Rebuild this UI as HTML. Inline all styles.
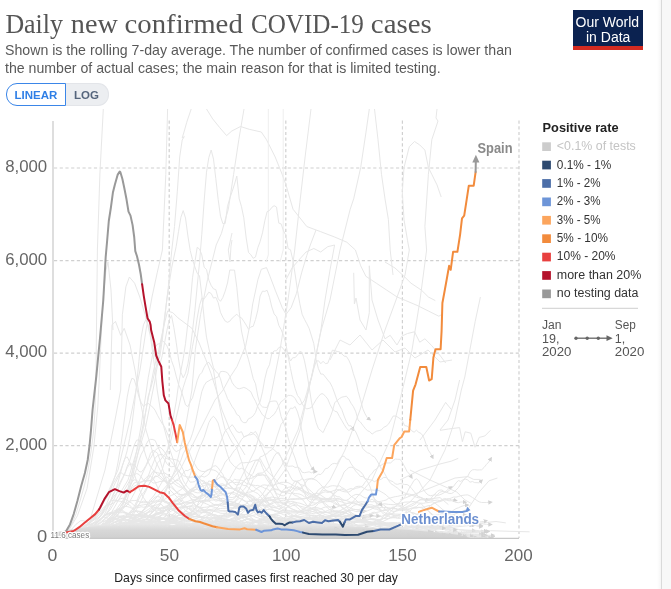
<!DOCTYPE html>
<html><head><meta charset="utf-8">
<style>
html,body{margin:0;padding:0;background:#fff;}
body{width:671px;height:589px;position:relative;overflow:hidden;font-family:"Liberation Sans",sans-serif;}
.t{position:absolute;white-space:nowrap;}
#title{left:5.8px;top:8.4px;font-family:"Liberation Serif",serif;font-size:27.5px;color:#555;transform-origin:0 0;transform:scaleX(0.993);}
.sub{left:5.3px;font-size:15px;color:#595959;transform-origin:0 0;transform:scaleX(0.943);}
#logo{position:absolute;left:573px;top:10px;width:70px;height:36px;background:#0b2250;border-bottom:4px solid #d42b21;}
.lt{position:absolute;color:#fff;font-size:14px;line-height:15px;white-space:nowrap;}
#btns{position:absolute;left:6px;top:83px;height:22px;width:103px;}
#lin{position:absolute;left:0;top:0;width:58px;height:20.5px;border:1px solid #3b86e8;border-radius:11px 0 0 11px;color:#2f7fe6;font-size:11.5px;font-weight:bold;line-height:23px;text-align:center;background:#fff;z-index:2;}
#log{position:absolute;left:59px;top:0;width:43px;height:20.5px;border:1px solid #e3e5e9;border-left:none;border-radius:0 11px 11px 0;color:#55657c;font-size:11.5px;font-weight:bold;line-height:23px;text-align:center;background:#eceef1;}
#vline{position:absolute;left:661px;top:0;width:1px;height:589px;background:#dadada;}
#rpan{position:absolute;left:662px;top:0;width:9px;height:589px;background:#f8f8f8;}
#shad{position:absolute;left:657px;top:0;width:4px;height:589px;background:linear-gradient(to right,rgba(0,0,0,0),rgba(0,0,0,0.035));}
svg{position:absolute;left:0;top:0;}
</style></head><body>
<div class="t sub" style="top:41.1px">Shown is the rolling 7-day average. The number of confirmed cases is lower than</div>
<div class="t sub" style="top:59.3px">the number of actual cases; the main reason for that is limited testing.</div>
<div id="logo"><span class="lt" style="left:2.5px;top:4.7px">Our World</span><span class="lt" style="left:13px;top:19.8px">in Data</span></div>
<div id="btns"><div id="lin">LINEAR</div><div id="log">LOG</div></div>
<div id="shad"></div><div id="vline"></div><div id="rpan"></div>

<svg width="671" height="589" viewBox="0 0 671 589">
<text x="5.4" y="32.6" font-family="Liberation Serif, serif" font-size="27.5" fill="#555" textLength="57.6" lengthAdjust="spacingAndGlyphs">Daily</text>
<text x="70.8" y="32.6" font-family="Liberation Serif, serif" font-size="27.5" fill="#555" textLength="47" lengthAdjust="spacingAndGlyphs">new</text>
<text x="124.5" y="32.6" font-family="Liberation Serif, serif" font-size="27.5" fill="#555" textLength="118.3" lengthAdjust="spacingAndGlyphs">confirmed</text>
<text x="250.9" y="32.6" font-family="Liberation Serif, serif" font-size="27.5" fill="#555" textLength="113" lengthAdjust="spacingAndGlyphs">COVID-19</text>
<text x="370.8" y="32.6" font-family="Liberation Serif, serif" font-size="27.5" fill="#555" textLength="61" lengthAdjust="spacingAndGlyphs">cases</text>
<defs><marker id="ar" viewBox="0 0 10 10" refX="6" refY="5" markerWidth="4.5" markerHeight="4.5" orient="auto"><path d="M0,0 L10,5 L0,10 z" fill="#d2d2d2"/></marker><clipPath id="cp"><rect x="53" y="109" width="480" height="430"/></clipPath></defs>
<g stroke="#d0d0d0" stroke-width="1.2" stroke-dasharray="3.2,2.5" fill="none">
<line x1="54" y1="168" x2="519" y2="168"/>
<line x1="54" y1="260.6" x2="519" y2="260.6"/>
<line x1="54" y1="353.1" x2="519" y2="353.1"/>
<line x1="54" y1="445.7" x2="519" y2="445.7"/>
<line x1="169.2" y1="120.5" x2="169.2" y2="538"/>
<line x1="285.8" y1="120.5" x2="285.8" y2="538"/>
<line x1="402.4" y1="120.5" x2="402.4" y2="538"/>
<line x1="519" y1="120.5" x2="519" y2="538"/>
</g>
<g id="bg" clip-path="url(#cp)" fill="none" stroke="#e7e7e7" stroke-width="1" stroke-linejoin="round">
<polyline points="62,537 66,533 71,526 76,514 80,501 84,487 88,470 91,452 93.5,432 95,410 96,370 97.4,250 99.9,174 103.3,109"/>
<polyline points="66,538 69.3,529.3 77.4,515.8 87,488.6 93.7,448 97.8,407 99.2,380 101,340 103,300 106,270 108,262 111,290 113,330"/>
<polyline points="167.6,109 165.8,174.4 162.4,250 157.2,272.8 152,297 146,330 140,370 130,420 118,470 100,510 80,532 70,537"/>
<polyline points="191.2,109 186.7,122.4 184.3,131 182.2,138 184.3,136.6 182.2,140 179.7,157 177.3,191.8 174.5,226.5 171.8,250 168,290 163,330 155,380 145,430 130,480 110,515 90,532 75,537"/>
<polyline points="206.5,109 212.7,118.9 219.7,127.6 226.6,135.6 231.8,131 240.5,126.5 249.2,129.3 261.3,132 266.5,139.7 275.2,157 282.2,174.4 286,185 293,209.2 306.8,226.5 320.7,231.7 334.6,237 346.8,242.2 355.4,250 360.7,265.8 365.9,276.3 376.3,283.2 386.7,290.1 397.1,297 405.8,300.6 418,305.8 428.4,311 438.8,316.2 442.2,314.4"/>
<polyline points="244,109 238.8,139.7 233.6,174.4 228.3,209.2 221.4,233.5 216.2,245 207.5,279.7 200.6,314.4 195.4,349.2 191.9,390 185,430 175,470 160,505 140,525 110,535 85,538"/>
<polyline points="268.3,109 268.3,255 266,262" stroke="#eeeeee"/>
<polyline points="283.2,109 283.2,250 280,262" stroke="#eeeeee"/>
<polyline points="311,109 305.1,157 299.9,202.2 294.7,250 288,300 280,350 270,400 255,450 235,490 210,515 180,530 140,537"/>
<polyline points="369.3,109 365.9,132.8 360.7,167.5 353.7,198.8 350.2,209.2 340,250 330,300 320.7,331.8 313.8,366.5 308.6,390 300,430 285,470 260,505 230,525 190,536"/>
<polyline points="374.5,109 378,139.7 381.5,174.4 385,198.8 388.4,219.6 390.2,250 393,275"/>
<polyline points="441.2,197 437,184.9 431.8,174.4 428.4,167.5 424.9,150.1 419.7,144.9 414.5,141.5 409.3,146.7 404,167.5 402.3,191.8 404,219.6 407.5,240.4 409.3,250 405,275 396,300 385,330 372,370 360,410 345,450 330,480 310,505 280,525 240,535"/>
<polyline points="435.3,300.6 428.4,297 421.4,290.1 411,283.2 404,276.3 395,268 385,262"/>
<polyline points="437,109 436,118 438,121 431.8,139.7 428.4,174.4 424.9,226.5 426.6,250 420,300 412,350 400,400 390,440 372,480 350,505 320,522 280,533"/>
<polyline points="480.4,297 475.2,321.4 470,349.2 464.8,377 461.3,390 455,420 445,450 430,480 410,502 385,518 350,530"/>
<polyline points="110.3,390 112,324.9 115.5,321.4 120.7,335.3 124.2,328.3 130,345 135,370 140,400 146,430 155,460 170,490 190,510 215,525 250,533"/>
<polyline points="90,520 105,470 115,420 120.7,390 122.4,314.4 125.9,286.7 129.4,277 134.6,283.2 139.8,297 145,314.4 150.2,335.3 153.7,359.6 157.2,390 162,420 170,450 180,480 195,505 220,520 260,530"/>
<polyline points="245,455 230,430 222,410 216.2,390 211,373.5 205.8,359.6 198.8,342.2 191.9,328.3 185,323.1 178,317.9 172.8,312.7 167.6,311 164.1,324.9 158.9,349.2 153.7,370 148,400 140,440 128,480 110,510 90,530"/>
<polyline points="120,530 150,505 180,470 200,430 215,400 223.1,390 230.1,377 237,366.5 245.7,345.7 249.2,328.3 252.7,304 257.9,279.7 261.3,269.3 266.5,267.6 270,276.3 275.2,290.1 282.2,307.5 286,314.4 291.2,307.5 296.4,293.6 301.6,272.8 306.8,255.4 310.3,245 316,230"/>
<polyline points="286,279.7 292,268 299.9,258.9 306,252 313.8,248.5 320.7,252 327.7,246.7 334.6,245 330,270 325,300 320.7,331.8 313.8,366.5 308.6,390 298,430 282,465 262,495 240,515 200,532"/>
<polyline points="353.7,272.8 354.4,304 356,298 360,320 366,330 369.3,312.7 369.3,265.8 372,300 378,320 385,338.8 390.2,335.3 397,345 402,336 407.5,333.5 414.5,331.8 419.7,342.2 424.9,338.8 431.8,345.7 440.5,356.1 445.7,363"/>
<polyline points="330,360 340,340 350,345 360,335 372,350 383,340 395,352 405,348 415,358 428,350 440,362 452,360"/>
<polyline points="232,233 228.3,250 230,262 231,246 232,240"/>
<polyline points="440,430.4 448.4,429 459.6,427.6 462.4,441.6 465.2,431.8 470.8,433.2 475,447.2 479.2,437.4 484.8,436 490.4,430.4"/>
<polyline points="420,440 435,420 445.6,402.4 451.2,409.4"/>
<polyline points="459.6,380 455,400 448,420 440,430"/>
<polyline points="400,480 420,470 440,464 451.2,461.2 458.2,458.4"/>
<polyline points="400,500 430,488 455,478 468,476.6 473.6,479.4 480.6,479.4"/>
<polyline points="410,470 430,480 456.8,492 465,500 470.8,503.2"/>
<polyline points="400,510 420,500 440,497.6 448.4,504.6"/>
<polyline points="420,525 445,518 468,508.9 479.2,492 489,480.8 497.4,478"/>
<polyline points="420,532 445,528 468,525.7 482,522.9 496,521.5 505.8,522.9"/>
<polyline points="420,535 445,534 468,532.7 490.4,530.7 510,531.3 529.6,531.8"/>
<polyline points="52.6,536.6 54.9,536.6 57.3,536.5 59.6,536.3 61.9,536.0 64.3,535.7 66.6,535.3 68.9,534.9 71.3,534.6 73.6,534.3 75.9,534.1 78.3,533.9 80.6,533.7 82.9,533.4 85.2,532.9 87.6,532.3 89.9,531.7 92.2,531.2 94.6,531.0 96.9,530.9 99.2,530.9 101.6,530.5 103.9,530.0 106.2,529.2 108.6,528.3 110.9,527.8 113.2,527.5 115.6,527.4 117.9,527.8 120.2,528.1 122.6,528.6 124.9,528.8 127.2,529.0 129.6,528.8 131.9,528.4 134.2,527.3 136.6,525.9 138.9,524.2 141.2,522.7 143.5,521.5 145.9,521.1 148.2,521.3 150.5,521.8 152.9,522.6 155.2,522.8 157.5,523.5 159.9,523.8 162.2,523.7 164.5,523.1 166.9,522.9 169.2,522.5 171.5,522.7 173.9,522.9 176.2,523.8 178.5,524.7 180.9,525.1 183.2,525.3 185.5,525.7 187.9,525.3 190.2,524.6 192.5,523.8 194.9,523.1 197.2,522.6 199.5,522.4 201.8,522.3 204.2,522.4 206.5,522.1 208.8,521.5 211.2,521.2 213.5,521.4 215.8,521.4 218.2,521.4 220.5,521.3 222.8,521.3 225.2,520.6 227.5,520.3 229.8,520.0 232.2,519.3 234.5,518.4 236.8,517.5 239.2,516.9 241.5,516.2 243.8,516.1 246.2,517.2 248.5,518.5 250.8,519.7 253.2,520.9 255.5,521.7 257.8,521.4 260.1,520.6 262.5,519.3 264.8,517.9 267.1,516.3 269.5,515.5 271.8,515.1 274.1,514.9 276.5,514.5 278.8,513.6 281.1,513.0 283.5,512.6 285.8,512.7 288.1,514.0 290.5,515.6 292.8,515.7 295.1,515.7 297.5,515.5 299.8,514.6 302.1,514.0 304.5,513.7 306.8,512.4 309.1,511.0 311.5,509.7 313.8,508.9 316.1,508.7 318.4,510.6 320.8,512.4 323.1,513.5 325.4,514.7 327.8,515.4 330.1,515.5 332.4,515.8 334.8,516.2 337.1,516.0 339.4,516.1 341.8,516.5 344.1,516.5 346.4,518.0 348.8,519.7 351.1,521.4 353.4,522.8 355.8,524.4 358.1,525.5 360.4,526.5 362.8,527.3 365.1,528.1 367.4,528.4 369.8,528.4 372.1,528.6 374.4,529.1 376.7,529.5 379.1,530.1 381.4,530.7 383.7,531.2 386.1,531.4 388.4,531.6 390.7,531.8 393.1,532.1 395.4,532.3 397.7,532.7 400.1,533.0 402.4,533.3 404.7,533.5 407.1,533.7 409.4,533.8 411.7,533.9 414.1,533.9 416.4,533.8 418.7,533.6 421.1,533.5 423.4,533.6 425.7,533.7 428.1,533.7 430.4,533.9" marker-end="url(#ar)"/>
<polyline points="52.6,536.6 54.9,536.5 57.3,536.3 59.6,536.1 61.9,535.8 64.3,535.5 66.6,535.3 68.9,535.1 71.3,534.9 73.6,534.5 75.9,534.1 78.3,533.5 80.6,532.8 82.9,531.8 85.2,530.9 87.6,529.8 89.9,528.7 92.2,527.3 94.6,525.5 96.9,522.8 99.2,519.9 101.6,517.8 103.9,515.6 106.2,514.3 108.6,513.5 110.9,512.6 113.2,511.3 115.6,510.3 117.9,508.9 120.2,509.2 122.6,510.4 124.9,512.0 127.2,513.4 129.6,515.3 131.9,515.3 134.2,515.1 136.6,514.9 138.9,514.8 141.2,514.3 143.5,514.9 145.9,515.1 148.2,515.6 150.5,515.4 152.9,515.5 155.2,514.9 157.5,514.8 159.9,513.7 162.2,512.4 164.5,510.3 166.9,508.9 169.2,507.0 171.5,506.5 173.9,507.1 176.2,509.4 178.5,510.8 180.9,512.9 183.2,514.2 185.5,515.1 187.9,515.4 190.2,516.1 192.5,516.4 194.9,516.5 197.2,516.9 199.5,517.1 201.8,517.2 204.2,517.3 206.5,517.8 208.8,517.9 211.2,518.0 213.5,518.0 215.8,518.1 218.2,517.9 220.5,517.8 222.8,517.1 225.2,516.8 227.5,516.1 229.8,515.4 232.2,515.2 234.5,516.3 236.8,517.7 239.2,519.4 241.5,521.6 243.8,523.3 246.2,525.1 248.5,526.4 250.8,527.6 253.2,528.8 255.5,529.9 257.8,530.5 260.1,531.4 262.5,532.3 264.8,532.8 267.1,533.4 269.5,533.8 271.8,534.0 274.1,534.1 276.5,534.2 278.8,534.2 281.1,534.2 283.5,534.2 285.8,534.3 288.1,534.5 290.5,534.7 292.8,534.8 295.1,534.9 297.5,534.9 299.8,534.9 302.1,534.9 304.5,535.2 306.8,535.5 309.1,535.7 311.5,535.9 313.8,536.2 316.1,536.3 318.4,536.5 320.8,536.6 323.1,536.6 325.4,536.7 327.8,536.7 330.1,536.7 332.4,536.7 334.8,536.8 337.1,536.9 339.4,536.8 341.8,536.8 344.1,536.8 346.4,536.8 348.8,536.8 351.1,536.8 353.4,536.9 355.8,536.9 358.1,536.8 360.4,536.7 362.8,536.5 365.1,536.4 367.4,536.3 369.8,536.2 372.1,536.1 374.4,536.0 376.7,536.0 379.1,535.8 381.4,535.7 383.7,535.6 386.1,535.5 388.4,535.2 390.7,535.1 393.1,535.0 395.4,534.8 397.7,534.7 400.1,534.8 402.4,534.8 404.7,535.0 407.1,535.2 409.4,535.4 411.7,535.5 414.1,535.6 416.4,535.7 418.7,535.7 421.1,535.6 423.4,535.6 425.7,535.6 428.1,535.5 430.4,535.5 432.7,535.4 435.0,535.4 437.4,535.5 439.7,535.5 442.0,535.6 444.4,535.6 446.7,535.7 449.0,535.7 451.4,535.7 453.7,535.7 456.0,535.8 458.4,535.8 460.7,535.8 463.0,535.8" marker-end="url(#ar)"/>
<polyline points="52.6,536.5 54.9,536.3 57.3,536.1 59.6,535.7 61.9,535.2 64.3,534.4 66.6,533.1 68.9,531.8 71.3,529.6 73.6,527.1 75.9,524.4 78.3,522.6 80.6,520.7 82.9,520.7 85.2,521.2 87.6,522.9 89.9,524.2 92.2,525.5 94.6,525.9 96.9,526.3 99.2,526.3 101.6,526.1 103.9,526.0 106.2,525.7 108.6,525.3 110.9,524.4 113.2,523.0 115.6,521.7 117.9,520.4 120.2,519.1 122.6,518.5 124.9,518.2 127.2,517.3 129.6,516.7 131.9,515.7 134.2,515.1 136.6,515.0 138.9,515.9 141.2,517.1 143.5,517.9 145.9,517.4 148.2,515.8 150.5,513.5 152.9,511.0 155.2,508.3 157.5,507.7 159.9,509.0 162.2,511.1 164.5,513.0 166.9,515.7 169.2,517.9 171.5,519.0 173.9,520.3 176.2,521.9 178.5,523.2 180.9,524.5 183.2,526.1 185.5,526.9 187.9,527.5 190.2,528.5 192.5,529.5 194.9,529.8 197.2,530.4 199.5,530.7 201.8,531.0 204.2,530.9 206.5,531.1 208.8,531.3 211.2,531.4 213.5,531.2 215.8,531.3 218.2,531.3 220.5,531.0 222.8,530.9 225.2,530.7 227.5,530.3 229.8,530.0 232.2,529.9 234.5,529.5 236.8,529.2 239.2,528.8 241.5,528.2 243.8,527.6 246.2,527.7 248.5,527.5 250.8,527.9 253.2,528.5 255.5,528.6 257.8,528.4 260.1,528.1 262.5,527.8 264.8,527.3 267.1,526.8 269.5,526.0 271.8,525.6 274.1,524.5 276.5,523.0 278.8,522.3 281.1,521.5 283.5,520.8 285.8,520.8 288.1,521.0 290.5,520.6 292.8,521.8 295.1,522.6 297.5,522.7 299.8,522.9 302.1,524.0 304.5,524.1 306.8,524.4 309.1,524.5 311.5,524.6 313.8,525.2 316.1,526.0 318.4,526.8 320.8,527.6 323.1,528.3 325.4,528.2 327.8,527.8 330.1,528.2 332.4,528.8 334.8,529.3 337.1,529.6 339.4,530.1 341.8,529.7 344.1,529.0 346.4,528.5 348.8,527.9 351.1,527.5 353.4,527.6 355.8,528.0 358.1,528.3 360.4,528.9 362.8,529.1 365.1,528.9 367.4,528.8 369.8,528.6 372.1,527.7 374.4,527.0 376.7,526.7 379.1,526.3 381.4,526.5 383.7,527.4 386.1,528.0 388.4,528.5 390.7,528.7 393.1,528.9 395.4,528.7 397.7,528.5 400.1,528.3 402.4,527.8 404.7,527.1 407.1,526.7 409.4,526.2 411.7,526.2 414.1,526.2 416.4,525.9 418.7,525.3 421.1,524.9 423.4,523.3 425.7,521.8 428.1,521.1 430.4,520.8 432.7,520.1 435.0,520.2 437.4,520.8 439.7,520.5 442.0,520.0 444.4,520.4 446.7,520.0 449.0,519.4 451.4,519.5" marker-end="url(#ar)"/>
<polyline points="52.6,536.6 54.9,536.5 57.3,536.5 59.6,536.3 61.9,536.1 64.3,536.0 66.6,535.8 68.9,535.9 71.3,536.0 73.6,536.1 75.9,536.2 78.3,536.2 80.6,536.2 82.9,536.2 85.2,536.2 87.6,536.1 89.9,536.1 92.2,536.0 94.6,536.0 96.9,535.9 99.2,535.8 101.6,535.7 103.9,535.6 106.2,535.4 108.6,535.3 110.9,535.2 113.2,535.1 115.6,535.1 117.9,535.2 120.2,535.3 122.6,535.5 124.9,535.7 127.2,535.8 129.6,535.9 131.9,535.9 134.2,535.9 136.6,535.8 138.9,535.8 141.2,535.7 143.5,535.7 145.9,535.7 148.2,535.7 150.5,535.8 152.9,535.9 155.2,535.8 157.5,535.8 159.9,535.7 162.2,535.7 164.5,535.8 166.9,535.8 169.2,535.9 171.5,536.1 173.9,536.3 176.2,536.5 178.5,536.6 180.9,536.7 183.2,536.7 185.5,536.7 187.9,536.6 190.2,536.7 192.5,536.7 194.9,536.8 197.2,536.8 199.5,536.8 201.8,536.8 204.2,536.9 206.5,537.0 208.8,537.1 211.2,537.2 213.5,537.3 215.8,537.4 218.2,537.5 220.5,537.5 222.8,537.5 225.2,537.6 227.5,537.6 229.8,537.6 232.2,537.6 234.5,537.6 236.8,537.6 239.2,537.6 241.5,537.6 243.8,537.6 246.2,537.6 248.5,537.6 250.8,537.6 253.2,537.6 255.5,537.6 257.8,537.6 260.1,537.6 262.5,537.5 264.8,537.5 267.1,537.4 269.5,537.4 271.8,537.3 274.1,537.3 276.5,537.2 278.8,537.2 281.1,537.1 283.5,537.1 285.8,537.1 288.1,537.1 290.5,537.1 292.8,537.1 295.1,537.2 297.5,537.2 299.8,537.2 302.1,537.3 304.5,537.3 306.8,537.2 309.1,537.2 311.5,537.1 313.8,537.1 316.1,537.0 318.4,537.0 320.8,536.9 323.1,536.7 325.4,536.6 327.8,536.5 330.1,536.5 332.4,536.4 334.8,536.4 337.1,536.3 339.4,536.3 341.8,536.3 344.1,536.2 346.4,536.2 348.8,536.1 351.1,536.1 353.4,536.1 355.8,536.0 358.1,536.0 360.4,535.9 362.8,535.9 365.1,535.9 367.4,535.8 369.8,535.8 372.1,535.8 374.4,535.8 376.7,535.7 379.1,535.6 381.4,535.3 383.7,535.2 386.1,535.0 388.4,534.9 390.7,534.9 393.1,535.0 395.4,535.0 397.7,535.0 400.1,534.9 402.4,534.7 404.7,534.6 407.1,534.5 409.4,534.3 411.7,534.1 414.1,534.0 416.4,533.9 418.7,533.7 421.1,533.7 423.4,533.5 425.7,533.2 428.1,533.2 430.4,533.0 432.7,532.8 435.0,532.6 437.4,532.5 439.7,532.2 442.0,532.3 444.4,532.3 446.7,532.4 449.0,532.6 451.4,532.7 453.7,532.6 456.0,532.5 458.4,532.3 460.7,532.2 463.0,532.0 465.4,531.6 467.7,531.4 470.0,531.3 472.4,531.3 474.7,531.2 477.0,531.5 479.4,531.6 481.7,531.7 484.0,531.8" marker-end="url(#ar)"/>
<polyline points="52.6,536.9 54.9,536.9 57.3,536.9 59.6,536.9 61.9,536.9 64.3,536.9 66.6,536.8 68.9,536.7 71.3,536.6 73.6,536.5 75.9,536.4 78.3,536.2 80.6,536.1 82.9,535.9 85.2,535.8 87.6,535.7 89.9,535.7 92.2,535.6 94.6,535.7 96.9,535.6 99.2,535.5 101.6,535.4 103.9,535.3 106.2,535.0 108.6,534.8 110.9,534.4 113.2,534.0 115.6,533.7 117.9,533.7 120.2,533.7 122.6,533.5 124.9,533.4 127.2,533.1 129.6,532.3 131.9,531.6 134.2,531.0 136.6,530.6 138.9,530.3 141.2,530.5 143.5,530.9 145.9,531.2 148.2,531.4 150.5,531.5 152.9,531.4 155.2,531.3 157.5,531.3 159.9,531.1 162.2,531.0 164.5,530.9 166.9,530.6 169.2,530.4 171.5,530.2 173.9,530.0 176.2,529.7 178.5,529.6 180.9,529.6 183.2,529.5 185.5,529.7 187.9,529.8 190.2,529.8 192.5,529.5 194.9,529.3 197.2,528.8 199.5,528.0 201.8,527.2 204.2,526.5 206.5,525.5 208.8,524.5 211.2,523.4 213.5,521.9 215.8,520.0 218.2,518.9 220.5,517.3 222.8,515.8 225.2,515.0 227.5,514.6 229.8,513.6 232.2,513.6 234.5,513.9 236.8,514.5 239.2,516.0 241.5,517.2 243.8,519.2 246.2,521.2 248.5,522.8 250.8,523.7 253.2,524.8 255.5,525.1 257.8,525.5 260.1,525.7 262.5,525.8 264.8,526.0 267.1,526.7 269.5,527.0 271.8,527.8 274.1,528.3 276.5,528.4 278.8,528.2 281.1,528.1 283.5,527.8 285.8,527.5 288.1,528.1 290.5,528.6 292.8,529.0 295.1,529.4 297.5,530.1 299.8,530.4 302.1,530.9 304.5,531.6 306.8,532.1 309.1,532.5 311.5,532.7 313.8,532.8 316.1,532.8 318.4,532.8 320.8,532.7 323.1,532.6 325.4,532.4 327.8,531.8 330.1,531.6 332.4,531.2 334.8,530.7 337.1,530.4 339.4,530.2 341.8,529.8 344.1,529.4 346.4,529.2 348.8,528.6 351.1,528.0 353.4,527.6 355.8,527.5 358.1,527.6 360.4,528.0 362.8,528.4 365.1,528.9 367.4,528.9 369.8,529.0 372.1,529.2 374.4,529.5 376.7,530.0 379.1,530.5 381.4,531.1 383.7,531.4 386.1,531.8 388.4,532.0 390.7,532.5 393.1,532.9 395.4,533.3 397.7,533.5 400.1,533.5 402.4,533.4 404.7,533.0 407.1,532.4 409.4,531.9 411.7,531.0 414.1,529.9 416.4,528.9 418.7,528.2 421.1,527.9 423.4,528.1 425.7,528.4 428.1,528.2 430.4,528.2 432.7,528.1 435.0,528.1 437.4,528.1 439.7,528.2 442.0,528.1 444.4,527.8 446.7,527.2 449.0,526.7 451.4,526.0 453.7,525.2 456.0,524.9 458.4,524.4 460.7,523.8 463.0,524.0 465.4,524.0 467.7,523.9 470.0,523.7 472.4,523.6 474.7,523.4 477.0,522.8 479.4,522.2 481.7,521.5 484.0,521.4 486.4,520.7" marker-end="url(#ar)"/>
<polyline points="52.6,536.3 54.9,536.2 57.3,536.0 59.6,535.7 61.9,535.3 64.3,534.9 66.6,534.3 68.9,533.6 71.3,533.0 73.6,532.3 75.9,531.6 78.3,530.9 80.6,530.3 82.9,529.4 85.2,528.4 87.6,527.4 89.9,526.7 92.2,525.8 94.6,525.5 96.9,525.6 99.2,526.0 101.6,526.5 103.9,527.2 106.2,527.7 108.6,528.4 110.9,528.8 113.2,529.3 115.6,529.5 117.9,529.9 120.2,530.1 122.6,530.4 124.9,530.5 127.2,530.5 129.6,530.4 131.9,530.3 134.2,530.2 136.6,530.4 138.9,530.7 141.2,531.0 143.5,531.3 145.9,531.6 148.2,531.8 150.5,531.9 152.9,532.1 155.2,532.3 157.5,532.4 159.9,532.4 162.2,532.5 164.5,532.5 166.9,532.5 169.2,532.4 171.5,532.4 173.9,532.5 176.2,532.5 178.5,532.6 180.9,532.5 183.2,532.5 185.5,532.5 187.9,532.6 190.2,532.8 192.5,533.0 194.9,533.2 197.2,533.4 199.5,533.5 201.8,533.6 204.2,533.8 206.5,533.8 208.8,533.8 211.2,533.8 213.5,533.7 215.8,533.6 218.2,533.6 220.5,533.7 222.8,533.7 225.2,533.8 227.5,533.8 229.8,533.8 232.2,533.8 234.5,533.7 236.8,533.7 239.2,533.8 241.5,533.8 243.8,533.9 246.2,533.9 248.5,533.8 250.8,533.6 253.2,533.5 255.5,533.3 257.8,533.3 260.1,533.4 262.5,533.5 264.8,533.7 267.1,533.9 269.5,534.0 271.8,534.0 274.1,534.0 276.5,533.9 278.8,533.9 281.1,533.7 283.5,533.6 285.8,533.5 288.1,533.5 290.5,533.5 292.8,533.5 295.1,533.5 297.5,533.5 299.8,533.5 302.1,533.5 304.5,533.6 306.8,533.7 309.1,533.8 311.5,533.8 313.8,533.8 316.1,533.7 318.4,533.6 320.8,533.4" marker-end="url(#ar)"/>
<polyline points="52.6,536.7 54.9,536.6 57.3,536.5 59.6,536.3 61.9,536.0 64.3,535.7 66.6,535.5 68.9,535.2 71.3,535.0 73.6,534.9 75.9,534.6 78.3,534.3 80.6,534.1 82.9,533.8 85.2,533.4 87.6,533.3 89.9,533.3 92.2,533.3 94.6,532.9 96.9,532.5 99.2,531.8 101.6,530.7 103.9,529.2 106.2,528.0 108.6,526.9 110.9,526.0 113.2,525.2 115.6,524.4 117.9,523.6 120.2,523.4 122.6,523.3 124.9,524.1 127.2,525.9 129.6,527.1 131.9,528.1 134.2,529.1 136.6,529.9 138.9,530.2 141.2,530.6 143.5,531.0 145.9,531.1 148.2,530.7 150.5,530.1 152.9,529.3 155.2,528.2 157.5,527.0 159.9,526.1 162.2,525.7 164.5,525.2 166.9,524.4 169.2,523.7 171.5,523.1 173.9,522.9 176.2,522.8 178.5,523.2 180.9,524.0 183.2,524.6 185.5,524.7 187.9,525.2 190.2,525.7 192.5,525.5 194.9,525.5 197.2,525.7 199.5,525.3 201.8,524.8 204.2,524.8 206.5,524.1 208.8,524.0 211.2,524.4 213.5,525.3 215.8,526.2 218.2,527.5 220.5,528.2 222.8,528.6 225.2,528.7 227.5,528.9 229.8,529.0 232.2,529.0 234.5,528.9 236.8,528.7 239.2,528.5 241.5,527.9 243.8,527.6 246.2,527.3 248.5,526.8 250.8,526.2 253.2,525.8 255.5,525.5 257.8,525.1 260.1,524.9 262.5,525.1 264.8,525.6 267.1,526.1 269.5,526.7 271.8,526.8 274.1,526.1 276.5,525.1 278.8,523.6 281.1,522.0 283.5,520.8 285.8,519.5 288.1,518.5 290.5,517.5 292.8,516.9 295.1,516.5 297.5,516.7 299.8,517.2 302.1,518.1 304.5,518.5 306.8,518.7 309.1,519.3 311.5,519.7 313.8,519.9 316.1,520.5 318.4,520.9 320.8,520.6 323.1,519.7 325.4,518.2 327.8,516.4 330.1,515.7 332.4,515.8 334.8,516.8 337.1,518.4 339.4,519.5 341.8,519.8 344.1,520.0 346.4,519.8 348.8,519.4 351.1,519.0 353.4,519.1 355.8,519.1 358.1,519.1 360.4,519.2 362.8,520.1 365.1,520.4 367.4,520.8 369.8,521.9 372.1,522.9 374.4,523.8 376.7,524.7 379.1,525.5 381.4,525.6 383.7,525.9 386.1,526.0 388.4,526.2 390.7,526.8 393.1,527.5 395.4,528.0 397.7,528.5 400.1,528.8 402.4,528.7" marker-end="url(#ar)"/>
<polyline points="52.6,536.8 54.9,536.7 57.3,536.6 59.6,536.5 61.9,536.3 64.3,536.0 66.6,535.6 68.9,535.0 71.3,534.3 73.6,533.5 75.9,532.9 78.3,532.3 80.6,532.0 82.9,531.7 85.2,531.4 87.6,530.8 89.9,530.1 92.2,529.4 94.6,528.3 96.9,527.3 99.2,526.6 101.6,526.1 103.9,525.7 106.2,525.6 108.6,524.8 110.9,523.9 113.2,523.2 115.6,522.1 117.9,520.5 120.2,519.6 122.6,518.6 124.9,517.2 127.2,516.3 129.6,516.7 131.9,517.8 134.2,518.4 136.6,519.2 138.9,519.9 141.2,520.5 143.5,521.1 145.9,521.9 148.2,522.9 150.5,523.8 152.9,524.3 155.2,524.9 157.5,526.0 159.9,527.2 162.2,527.9 164.5,528.6 166.9,529.3 169.2,529.4 171.5,529.7 173.9,529.8 176.2,529.8 178.5,530.0 180.9,530.4 183.2,530.3 185.5,530.8 187.9,531.3 190.2,531.6 192.5,531.7 194.9,532.2 197.2,532.4 199.5,532.6 201.8,532.5 204.2,532.5 206.5,532.1 208.8,531.6 211.2,531.3 213.5,531.1 215.8,530.8 218.2,530.3 220.5,529.9 222.8,529.4 225.2,528.8 227.5,528.4 229.8,528.6 232.2,528.7 234.5,528.7 236.8,529.3 239.2,529.9 241.5,530.3 243.8,530.9 246.2,531.6 248.5,532.0 250.8,532.4 253.2,532.7 255.5,532.6 257.8,532.3 260.1,532.1 262.5,531.9 264.8,531.9 267.1,532.1 269.5,532.5 271.8,532.7 274.1,532.4 276.5,532.1 278.8,531.4 281.1,530.4 283.5,529.1 285.8,527.7 288.1,525.8 290.5,524.2 292.8,522.4 295.1,521.1 297.5,521.1 299.8,521.1 302.1,520.8 304.5,520.7 306.8,521.0 309.1,521.7 311.5,522.1 313.8,522.8 316.1,524.3 318.4,525.1 320.8,525.4 323.1,526.1 325.4,526.9 327.8,527.5 330.1,528.4 332.4,528.7 334.8,528.9 337.1,529.3 339.4,529.7 341.8,529.7 344.1,530.0 346.4,530.3 348.8,530.3 351.1,530.2 353.4,530.2 355.8,530.2 358.1,530.5 360.4,530.5 362.8,530.3 365.1,530.0 367.4,529.9 369.8,529.3 372.1,529.0 374.4,529.0 376.7,529.3 379.1,529.6 381.4,530.2 383.7,530.6 386.1,531.0 388.4,531.0 390.7,531.0 393.1,531.4 395.4,531.8 397.7,532.1 400.1,532.5 402.4,532.9 404.7,533.1 407.1,533.5 409.4,534.1 411.7,534.6 414.1,534.8 416.4,535.1 418.7,535.4 421.1,535.4 423.4,535.6 425.7,535.7 428.1,535.8 430.4,535.9 432.7,535.9 435.0,535.9 437.4,535.8 439.7,535.8 442.0,535.7 444.4,535.7" marker-end="url(#ar)"/>
<polyline points="52.6,536.3 54.9,536.3 57.3,536.2 59.6,536.2 61.9,536.2 64.3,536.1 66.6,536.0 68.9,535.9 71.3,535.7 73.6,535.5 75.9,535.2 78.3,534.9 80.6,534.7 82.9,534.6 85.2,534.5 87.6,534.3 89.9,534.2 92.2,533.9 94.6,533.6 96.9,533.2 99.2,533.3 101.6,533.4 103.9,533.6 106.2,534.0 108.6,534.3 110.9,534.5 113.2,534.9 115.6,535.2 117.9,535.3 120.2,535.6 122.6,535.9 124.9,536.1 127.2,536.2 129.6,536.4 131.9,536.4 134.2,536.5 136.6,536.4 138.9,536.4 141.2,536.3 143.5,536.3 145.9,536.3 148.2,536.3 150.5,536.4 152.9,536.5 155.2,536.7 157.5,536.8 159.9,536.9 162.2,537.0 164.5,537.1 166.9,537.2 169.2,537.3 171.5,537.4 173.9,537.4 176.2,537.4 178.5,537.4 180.9,537.4 183.2,537.5 185.5,537.5 187.9,537.6 190.2,537.6 192.5,537.7 194.9,537.7 197.2,537.8 199.5,537.8 201.8,537.9 204.2,537.9 206.5,537.9 208.8,538.0 211.2,538.0 213.5,538.0 215.8,538.0 218.2,538.0 220.5,538.0 222.8,538.0 225.2,538.0 227.5,538.0 229.8,538.0 232.2,538.0 234.5,538.0 236.8,538.0 239.2,538.0 241.5,538.0 243.8,538.0 246.2,538.0 248.5,538.0 250.8,538.0 253.2,538.0 255.5,538.0 257.8,538.0 260.1,538.0 262.5,538.0 264.8,538.1 267.1,538.1 269.5,538.1 271.8,538.1 274.1,538.1 276.5,538.1 278.8,538.0 281.1,538.0 283.5,538.0 285.8,538.0 288.1,538.0 290.5,538.0 292.8,537.9 295.1,537.9 297.5,537.8 299.8,537.7 302.1,537.6 304.5,537.6 306.8,537.6 309.1,537.6 311.5,537.6 313.8,537.6 316.1,537.6 318.4,537.5 320.8,537.5 323.1,537.4 325.4,537.4 327.8,537.5 330.1,537.5 332.4,537.5 334.8,537.5 337.1,537.6 339.4,537.6 341.8,537.6 344.1,537.6 346.4,537.7 348.8,537.8 351.1,537.8 353.4,537.8 355.8,537.9 358.1,537.9 360.4,537.9 362.8,537.9 365.1,537.9 367.4,538.0 369.8,538.0 372.1,538.0 374.4,538.0 376.7,538.0 379.1,538.1 381.4,538.1 383.7,538.1 386.1,538.1 388.4,538.1 390.7,538.2 393.1,538.2 395.4,538.2 397.7,538.2 400.1,538.2 402.4,538.2 404.7,538.1 407.1,538.1 409.4,538.1 411.7,538.1 414.1,538.1 416.4,538.1 418.7,538.1 421.1,538.1 423.4,538.1 425.7,538.2 428.1,538.2 430.4,538.2 432.7,538.2 435.0,538.2 437.4,538.2 439.7,538.2 442.0,538.2 444.4,538.2 446.7,538.2" marker-end="url(#ar)"/>
<polyline points="52.6,536.5 54.9,536.4 57.3,536.4 59.6,536.3 61.9,536.3 64.3,536.3 66.6,536.4 68.9,536.4 71.3,536.5 73.6,536.4 75.9,536.4 78.3,536.4 80.6,536.5 82.9,536.4 85.2,536.5 87.6,536.5 89.9,536.3 92.2,536.2 94.6,536.1 96.9,536.0 99.2,536.1 101.6,536.1 103.9,536.1 106.2,536.2 108.6,536.2 110.9,536.2 113.2,536.3 115.6,536.4 117.9,536.5 120.2,536.6 122.6,536.7 124.9,536.7 127.2,536.7 129.6,536.7 131.9,536.6 134.2,536.5 136.6,536.5 138.9,536.4 141.2,536.4 143.5,536.4 145.9,536.4 148.2,536.4 150.5,536.4 152.9,536.5 155.2,536.5 157.5,536.4 159.9,536.3 162.2,536.2 164.5,536.1 166.9,536.0 169.2,536.0 171.5,536.0 173.9,536.0 176.2,536.1 178.5,536.1 180.9,536.0 183.2,535.9 185.5,536.0 187.9,535.9 190.2,535.8 192.5,535.9 194.9,535.8 197.2,535.7 199.5,535.7 201.8,535.6 204.2,535.6 206.5,535.5 208.8,535.4 211.2,535.3 213.5,535.3 215.8,535.3 218.2,535.4 220.5,535.5 222.8,535.6 225.2,535.6 227.5,535.4 229.8,535.0 232.2,534.6 234.5,534.1 236.8,533.5 239.2,533.3 241.5,533.1 243.8,532.6 246.2,532.1 248.5,531.6 250.8,530.9 253.2,529.7 255.5,528.9 257.8,527.8 260.1,526.8 262.5,525.9 264.8,526.1 267.1,526.6 269.5,527.0 271.8,527.7 274.1,528.3 276.5,528.4 278.8,528.0 281.1,527.8 283.5,527.9 285.8,527.9 288.1,528.3 290.5,528.9 292.8,529.5 295.1,529.7 297.5,529.9 299.8,530.2 302.1,530.5 304.5,530.8 306.8,531.0 309.1,531.4 311.5,531.3 313.8,531.1 316.1,530.5 318.4,530.1 320.8,529.7 323.1,529.3 325.4,529.1 327.8,529.6 330.1,530.0 332.4,530.3 334.8,530.8 337.1,531.2 339.4,531.2 341.8,531.2 344.1,531.2 346.4,531.4 348.8,531.3 351.1,531.2 353.4,530.9 355.8,530.4 358.1,529.8 360.4,529.3 362.8,528.8 365.1,528.5 367.4,528.2 369.8,528.0 372.1,528.1 374.4,528.2 376.7,528.5 379.1,528.7 381.4,528.6 383.7,528.5 386.1,528.4 388.4,528.5 390.7,528.8 393.1,529.2 395.4,529.4 397.7,529.8 400.1,530.1 402.4,530.8 404.7,531.8 407.1,532.6 409.4,533.2 411.7,533.7 414.1,534.0 416.4,534.2 418.7,534.3 421.1,534.2 423.4,534.2 425.7,534.0 428.1,534.1 430.4,534.2 432.7,534.6 435.0,535.1 437.4,535.5 439.7,535.9 442.0,536.1 444.4,536.2 446.7,536.4 449.0,536.4 451.4,536.5 453.7,536.6 456.0,536.7" marker-end="url(#ar)"/>
<polyline points="52.6,536.8 54.9,536.8 57.3,536.7 59.6,536.7 61.9,536.6 64.3,536.5 66.6,536.5 68.9,536.4 71.3,536.4 73.6,536.3 75.9,536.2 78.3,536.1 80.6,536.0 82.9,535.9 85.2,535.8 87.6,535.7 89.9,535.6 92.2,535.6 94.6,535.6 96.9,535.5 99.2,535.5 101.6,535.5 103.9,535.4 106.2,535.4 108.6,535.3 110.9,535.2 113.2,535.1 115.6,535.1 117.9,535.0 120.2,535.0 122.6,535.0 124.9,535.0 127.2,535.0 129.6,535.1 131.9,535.1 134.2,535.1 136.6,535.2 138.9,535.2 141.2,535.2 143.5,535.2 145.9,535.2 148.2,535.3 150.5,535.3 152.9,535.4 155.2,535.5 157.5,535.6 159.9,535.6 162.2,535.6 164.5,535.6 166.9,535.7 169.2,535.6 171.5,535.6 173.9,535.5 176.2,535.5 178.5,535.5 180.9,535.5 183.2,535.5 185.5,535.6 187.9,535.7 190.2,535.7 192.5,535.8 194.9,535.9 197.2,536.0 199.5,536.0 201.8,536.0 204.2,536.1 206.5,536.2 208.8,536.2 211.2,536.2 213.5,536.3 215.8,536.3 218.2,536.4 220.5,536.5 222.8,536.6 225.2,536.7 227.5,536.8 229.8,536.8 232.2,536.8 234.5,536.8 236.8,536.8 239.2,536.9 241.5,537.0 243.8,537.0 246.2,537.1 248.5,537.1 250.8,537.1 253.2,537.2 255.5,537.2 257.8,537.2 260.1,537.2 262.5,537.2 264.8,537.2 267.1,537.1 269.5,537.1 271.8,537.0 274.1,536.9 276.5,536.8 278.8,536.7 281.1,536.7 283.5,536.7 285.8,536.6 288.1,536.6 290.5,536.6 292.8,536.6 295.1,536.5 297.5,536.4 299.8,536.3 302.1,536.1 304.5,536.0 306.8,535.9 309.1,535.8 311.5,535.7 313.8,535.7 316.1,535.7 318.4,535.7 320.8,535.6 323.1,535.6 325.4,535.7 327.8,535.7 330.1,535.8 332.4,535.8 334.8,535.9 337.1,535.9 339.4,536.0 341.8,536.0 344.1,536.1 346.4,536.2 348.8,536.3 351.1,536.5 353.4,536.6 355.8,536.8 358.1,536.9 360.4,537.0 362.8,537.0 365.1,537.0 367.4,537.0 369.8,537.1 372.1,537.1 374.4,537.1 376.7,537.1 379.1,537.2 381.4,537.2 383.7,537.3 386.1,537.4 388.4,537.5 390.7,537.5 393.1,537.6 395.4,537.6 397.7,537.7 400.1,537.7 402.4,537.7 404.7,537.8 407.1,537.8 409.4,537.8 411.7,537.8 414.1,537.9 416.4,537.9 418.7,537.9 421.1,537.9 423.4,537.9 425.7,537.9 428.1,537.9 430.4,537.9 432.7,537.9 435.0,537.9 437.4,537.9 439.7,537.9 442.0,537.9 444.4,537.9 446.7,537.8 449.0,537.8 451.4,537.9 453.7,537.9 456.0,537.9 458.4,537.9 460.7,537.9 463.0,537.8 465.4,537.8 467.7,537.8 470.0,537.8 472.4,537.8 474.7,537.8 477.0,537.8 479.4,537.8" marker-end="url(#ar)"/>
<polyline points="52.6,536.7 54.9,536.6 57.3,536.5 59.6,536.3 61.9,536.2 64.3,536.0 66.6,535.7 68.9,535.4 71.3,534.9 73.6,534.3 75.9,533.8 78.3,533.5 80.6,533.3 82.9,533.2 85.2,533.1 87.6,533.0 89.9,533.0 92.2,532.9 94.6,532.7 96.9,532.5 99.2,532.2 101.6,531.7 103.9,531.4 106.2,530.9 108.6,530.7 110.9,530.2 113.2,529.9 115.6,529.5 117.9,529.4 120.2,529.3 122.6,529.8 124.9,529.7 127.2,529.6 129.6,529.7 131.9,529.6 134.2,529.2 136.6,529.2 138.9,529.5 141.2,529.8 143.5,530.1 145.9,530.6 148.2,531.3 150.5,531.7 152.9,532.2 155.2,532.7 157.5,533.1 159.9,533.5 162.2,533.9 164.5,534.1 166.9,534.1 169.2,534.1 171.5,534.1 173.9,534.1 176.2,534.0 178.5,534.0 180.9,534.1 183.2,534.0 185.5,533.9 187.9,534.0 190.2,534.2 192.5,534.3 194.9,534.6 197.2,534.7 199.5,534.8 201.8,534.7 204.2,534.6 206.5,534.4 208.8,534.0 211.2,533.7 213.5,533.4 215.8,533.0 218.2,532.7 220.5,532.3 222.8,531.9 225.2,531.8 227.5,531.9 229.8,531.9 232.2,531.7 234.5,531.6 236.8,531.2 239.2,530.9 241.5,530.6 243.8,530.8 246.2,531.0 248.5,531.3 250.8,531.7 253.2,532.0 255.5,532.2 257.8,532.3 260.1,532.6 262.5,532.6 264.8,532.6 267.1,532.6 269.5,532.6 271.8,532.3 274.1,532.3 276.5,532.4 278.8,532.5 281.1,532.7 283.5,533.0 285.8,533.1 288.1,533.1 290.5,533.3 292.8,533.5 295.1,533.7 297.5,533.9 299.8,534.2 302.1,534.4 304.5,534.6 306.8,534.7 309.1,534.9 311.5,535.1 313.8,535.4 316.1,535.5 318.4,535.7 320.8,535.7 323.1,535.7 325.4,535.6 327.8,535.4 330.1,535.3 332.4,535.2 334.8,535.2 337.1,535.2 339.4,535.3 341.8,535.2 344.1,535.2 346.4,535.1 348.8,535.1 351.1,535.0 353.4,535.0 355.8,534.9 358.1,534.9 360.4,534.8 362.8,534.8 365.1,534.7 367.4,534.6 369.8,534.6 372.1,534.6 374.4,534.5 376.7,534.5 379.1,534.4 381.4,534.3 383.7,534.3 386.1,534.3 388.4,534.5 390.7,534.6 393.1,534.7 395.4,534.8 397.7,534.7 400.1,534.7 402.4,534.7 404.7,534.4 407.1,534.2 409.4,534.0 411.7,533.7 414.1,533.6 416.4,533.6 418.7,533.6 421.1,533.4 423.4,533.2 425.7,532.9 428.1,532.7 430.4,532.4 432.7,532.4 435.0,532.4 437.4,532.3" marker-end="url(#ar)"/>
<polyline points="52.6,536.5 54.9,536.4 57.3,536.3 59.6,536.3 61.9,536.2 64.3,536.1 66.6,536.0 68.9,536.0 71.3,535.8 73.6,535.7 75.9,535.6 78.3,535.4 80.6,534.9 82.9,534.5 85.2,533.9 87.6,533.5 89.9,533.1 92.2,532.9 94.6,532.7 96.9,532.6 99.2,532.5 101.6,532.4 103.9,532.2 106.2,531.7 108.6,530.9 110.9,529.9 113.2,529.2 115.6,528.6 117.9,528.2 120.2,528.3 122.6,528.6 124.9,529.0 127.2,529.4 129.6,529.6 131.9,529.6 134.2,529.4 136.6,528.9 138.9,528.5 141.2,528.3 143.5,528.2 145.9,528.4 148.2,528.7 150.5,529.0 152.9,529.3 155.2,529.5 157.5,529.4 159.9,529.1 162.2,528.9 164.5,528.5 166.9,527.9 169.2,527.6 171.5,527.3 173.9,527.3 176.2,527.3 178.5,527.5 180.9,527.2 183.2,527.2 185.5,527.0 187.9,527.0 190.2,527.5 192.5,528.1 194.9,528.8 197.2,529.4 199.5,529.8 201.8,529.9 204.2,530.1 206.5,530.0 208.8,530.0 211.2,530.0 213.5,530.1 215.8,530.2 218.2,530.4 220.5,530.5 222.8,530.5 225.2,530.4 227.5,530.4 229.8,530.5 232.2,530.5 234.5,530.4 236.8,530.1 239.2,530.0 241.5,529.9 243.8,530.0 246.2,530.1 248.5,530.6 250.8,530.9 253.2,530.8 255.5,530.7 257.8,530.8 260.1,530.9 262.5,530.6 264.8,530.5 267.1,530.3 269.5,529.8 271.8,528.8 274.1,528.0 276.5,526.8 278.8,525.6 281.1,524.7 283.5,524.2 285.8,524.1 288.1,524.6 290.5,525.6 292.8,526.4 295.1,527.0 297.5,527.1 299.8,527.4 302.1,526.9 304.5,526.5 306.8,526.2 309.1,526.6 311.5,527.1 313.8,528.0 316.1,528.4 318.4,528.7 320.8,528.9 323.1,528.8 325.4,528.5 327.8,528.3 330.1,528.1 332.4,527.6 334.8,527.3 337.1,527.5 339.4,528.2 341.8,529.1 344.1,530.1 346.4,530.9 348.8,531.2 351.1,531.5 353.4,531.6 355.8,531.5 358.1,531.3 360.4,531.0 362.8,530.4 365.1,529.9 367.4,529.6 369.8,529.3 372.1,529.1 374.4,529.5 376.7,529.6 379.1,529.7 381.4,529.7 383.7,529.9 386.1,529.7 388.4,529.8 390.7,529.9 393.1,530.0 395.4,530.2 397.7,530.1 400.1,530.0 402.4,530.1 404.7,530.2 407.1,530.8 409.4,531.4 411.7,531.8 414.1,532.1 416.4,532.4 418.7,532.4 421.1,532.4 423.4,532.4 425.7,532.1 428.1,532.0 430.4,532.0 432.7,531.9" marker-end="url(#ar)"/>
<polyline points="52.6,536.6 54.9,536.6 57.3,536.6 59.6,536.5 61.9,536.4 64.3,536.4 66.6,536.5 68.9,536.6 71.3,536.6 73.6,536.7 75.9,536.7 78.3,536.6 80.6,536.5 82.9,536.4 85.2,536.3 87.6,536.2 89.9,536.2 92.2,536.2 94.6,536.1 96.9,536.0 99.2,535.7 101.6,535.4 103.9,535.1 106.2,534.7 108.6,534.3 110.9,533.9 113.2,533.5 115.6,533.0 117.9,532.5 120.2,532.0 122.6,531.4 124.9,530.7 127.2,530.1 129.6,529.8 131.9,529.2 134.2,529.2 136.6,529.2 138.9,529.3 141.2,529.2 143.5,529.2 145.9,528.4 148.2,528.0 150.5,527.6 152.9,527.5 155.2,527.5 157.5,527.9 159.9,528.1 162.2,528.8 164.5,529.6 166.9,530.5 169.2,531.4 171.5,532.0 173.9,532.2 176.2,531.9 178.5,531.5 180.9,531.2 183.2,530.9 185.5,530.7 187.9,530.7 190.2,530.8 192.5,531.1 194.9,531.3 197.2,531.6 199.5,531.9 201.8,531.9 204.2,531.9 206.5,532.1 208.8,532.2 211.2,532.3 213.5,532.4 215.8,532.5 218.2,532.4 220.5,532.4 222.8,532.2 225.2,532.2 227.5,532.2 229.8,532.4 232.2,532.6 234.5,533.0 236.8,533.2 239.2,533.5 241.5,533.6 243.8,533.8 246.2,533.9 248.5,533.9 250.8,533.8 253.2,533.7 255.5,533.6 257.8,533.5 260.1,533.7 262.5,534.0 264.8,534.3 267.1,534.4 269.5,534.6 271.8,534.7 274.1,534.7 276.5,534.9 278.8,535.1 281.1,535.2 283.5,535.3 285.8,535.4 288.1,535.4 290.5,535.4 292.8,535.5 295.1,535.6 297.5,535.8 299.8,535.9 302.1,536.0 304.5,535.9 306.8,535.9 309.1,535.7 311.5,535.6 313.8,535.4 316.1,535.3 318.4,535.2 320.8,535.3 323.1,535.4 325.4,535.7 327.8,535.8 330.1,536.0 332.4,536.1 334.8,536.2 337.1,536.4 339.4,536.6 341.8,536.8 344.1,537.0 346.4,537.2 348.8,537.3 351.1,537.3 353.4,537.4 355.8,537.5 358.1,537.5 360.4,537.5 362.8,537.5 365.1,537.5 367.4,537.6 369.8,537.6 372.1,537.6 374.4,537.6 376.7,537.6 379.1,537.7 381.4,537.7 383.7,537.7 386.1,537.7 388.4,537.7 390.7,537.6 393.1,537.6 395.4,537.6 397.7,537.5 400.1,537.5 402.4,537.5 404.7,537.5 407.1,537.4 409.4,537.4 411.7,537.4 414.1,537.3 416.4,537.3 418.7,537.3 421.1,537.2 423.4,537.2 425.7,537.2 428.1,537.2 430.4,537.2" marker-end="url(#ar)"/>
<polyline points="52.6,536.6 54.9,536.6 57.3,536.5 59.6,536.3 61.9,536.1 64.3,535.8 66.6,535.5 68.9,535.1 71.3,534.7 73.6,534.2 75.9,533.7 78.3,533.2 80.6,532.5 82.9,531.8 85.2,530.9 87.6,529.8 89.9,528.3 92.2,526.7 94.6,524.9 96.9,523.0 99.2,520.8 101.6,518.4 103.9,515.8 106.2,514.4 108.6,513.1 110.9,512.5 113.2,512.7 115.6,513.0 117.9,512.5 120.2,512.7 122.6,512.6 124.9,512.8 127.2,513.0 129.6,513.9 131.9,514.7 134.2,515.4 136.6,515.9 138.9,516.1 141.2,516.4 143.5,516.2 145.9,516.2 148.2,516.6 150.5,517.3 152.9,517.6 155.2,517.9 157.5,518.3 159.9,518.5 162.2,518.6 164.5,519.0 166.9,519.4 169.2,519.9 171.5,520.5 173.9,521.1 176.2,521.6 178.5,522.3 180.9,523.0 183.2,523.3 185.5,523.5 187.9,523.7 190.2,523.7 192.5,523.7 194.9,523.9 197.2,523.9 199.5,524.0 201.8,523.9 204.2,524.0 206.5,524.1 208.8,524.4 211.2,524.7 213.5,525.3 215.8,525.7 218.2,525.9 220.5,526.3 222.8,526.7 225.2,527.1 227.5,527.4 229.8,527.9 232.2,528.1 234.5,528.4 236.8,528.4 239.2,528.4 241.5,528.6 243.8,528.6 246.2,528.5 248.5,528.6 250.8,528.8 253.2,528.9 255.5,529.3 257.8,529.7 260.1,529.9 262.5,530.0 264.8,530.2 267.1,530.2 269.5,530.1 271.8,529.9 274.1,529.6 276.5,529.0 278.8,528.4 281.1,527.6 283.5,527.0 285.8,526.5 288.1,526.0 290.5,525.5 292.8,525.0 295.1,524.2 297.5,523.2 299.8,522.2 302.1,520.9 304.5,520.1 306.8,519.5 309.1,519.1 311.5,518.3 313.8,517.9 316.1,516.9 318.4,515.6 320.8,513.7 323.1,512.3 325.4,511.4 327.8,510.4 330.1,509.5 332.4,509.0 334.8,508.2 337.1,507.0 339.4,506.0 341.8,505.3 344.1,504.6 346.4,503.9 348.8,503.0 351.1,502.4 353.4,502.1 355.8,501.8 358.1,502.3 360.4,503.2 362.8,504.0 365.1,504.8 367.4,505.8 369.8,507.1 372.1,508.0 374.4,508.9 376.7,509.3 379.1,510.2 381.4,510.5 383.7,510.5 386.1,510.3 388.4,510.0 390.7,508.8 393.1,507.6 395.4,506.5 397.7,505.8 400.1,506.3 402.4,507.8 404.7,509.0 407.1,510.5 409.4,511.8 411.7,512.7 414.1,513.3 416.4,514.2 418.7,515.2 421.1,516.5 423.4,517.7 425.7,518.8 428.1,519.6 430.4,519.8 432.7,519.6 435.0,520.0 437.4,520.6 439.7,521.2 442.0,522.0 444.4,522.9 446.7,523.4 449.0,523.6 451.4,524.0 453.7,524.3 456.0,524.4 458.4,524.1 460.7,523.8 463.0,523.6 465.4,523.5 467.7,523.8 470.0,524.0 472.4,524.4" marker-end="url(#ar)"/>
<polyline points="52.6,536.8 54.9,536.8 57.3,536.7 59.6,536.7 61.9,536.6 64.3,536.5 66.6,536.4 68.9,536.3 71.3,536.1 73.6,535.8 75.9,535.5 78.3,535.1 80.6,534.7 82.9,534.2 85.2,533.9 87.6,533.4 89.9,532.9 92.2,532.4 94.6,531.8 96.9,531.1 99.2,530.6 101.6,530.1 103.9,529.5 106.2,528.9 108.6,528.4 110.9,528.0 113.2,527.8 115.6,527.8 117.9,527.8 120.2,527.7 122.6,527.6 124.9,527.6 127.2,527.3 129.6,526.6 131.9,526.0 134.2,525.2 136.6,524.3 138.9,523.2 141.2,522.2 143.5,521.1 145.9,519.5 148.2,517.9 150.5,516.2 152.9,514.9 155.2,513.7 157.5,512.8 159.9,512.3 162.2,511.7 164.5,511.2 166.9,510.2 169.2,509.6 171.5,508.8 173.9,508.3 176.2,507.6 178.5,507.4 180.9,507.1 183.2,506.8 185.5,506.5 187.9,506.6 190.2,506.0 192.5,505.8 194.9,506.1 197.2,506.7 199.5,506.9 201.8,508.5 204.2,509.8 206.5,510.2 208.8,510.6 211.2,511.1 213.5,510.8 215.8,510.7 218.2,511.0 220.5,511.0 222.8,510.8 225.2,510.8 227.5,510.2 229.8,509.3 232.2,508.8 234.5,508.5 236.8,508.4 239.2,509.0 241.5,509.5 243.8,509.5 246.2,509.7 248.5,509.6 250.8,509.4 253.2,509.2 255.5,509.5 257.8,509.7 260.1,509.7 262.5,509.8 264.8,509.6 267.1,509.6 269.5,509.5 271.8,510.0 274.1,510.1 276.5,510.7 278.8,511.2 281.1,512.1 283.5,512.1 285.8,512.5 288.1,512.8 290.5,513.0 292.8,512.8 295.1,513.0 297.5,512.7 299.8,512.7 302.1,512.8 304.5,513.0 306.8,513.4 309.1,514.0 311.5,513.6 313.8,513.3 316.1,512.9 318.4,512.6 320.8,512.3 323.1,512.3 325.4,512.4 327.8,512.7 330.1,512.7 332.4,512.8 334.8,512.8 337.1,513.2 339.4,512.7 341.8,512.2 344.1,511.2 346.4,511.2 348.8,510.5 351.1,510.4 353.4,510.7 355.8,511.5 358.1,511.7 360.4,511.3 362.8,511.3 365.1,511.3" marker-end="url(#ar)"/>
<polyline points="52.6,536.7 54.9,536.7 57.3,536.6 59.6,536.4 61.9,536.2 64.3,536.0 66.6,535.7 68.9,535.5 71.3,535.3 73.6,535.0 75.9,534.6 78.3,534.2 80.6,533.7 82.9,533.5 85.2,533.4 87.6,533.5 89.9,533.8 92.2,534.0 94.6,534.2 96.9,534.3 99.2,534.4 101.6,534.5 103.9,534.6 106.2,534.8 108.6,534.9 110.9,535.1 113.2,535.3 115.6,535.5 117.9,535.7 120.2,535.9 122.6,536.0 124.9,536.1 127.2,536.2 129.6,536.3 131.9,536.3 134.2,536.4 136.6,536.5 138.9,536.5 141.2,536.6 143.5,536.7 145.9,536.8 148.2,536.9 150.5,536.9 152.9,537.0 155.2,537.0 157.5,537.1 159.9,537.2 162.2,537.2 164.5,537.3 166.9,537.4 169.2,537.4 171.5,537.5 173.9,537.5 176.2,537.6 178.5,537.6 180.9,537.7 183.2,537.7 185.5,537.8 187.9,537.8 190.2,537.9 192.5,537.9 194.9,537.9 197.2,538.0 199.5,538.0 201.8,538.0 204.2,538.0 206.5,538.0 208.8,538.0 211.2,538.0 213.5,538.0 215.8,538.0 218.2,538.1 220.5,538.1 222.8,538.1 225.2,538.1 227.5,538.1 229.8,538.1 232.2,538.1 234.5,538.1 236.8,538.1 239.2,538.1 241.5,538.1 243.8,538.1 246.2,538.1 248.5,538.1 250.8,538.1 253.2,538.1 255.5,538.1 257.8,538.1 260.1,538.1 262.5,538.1 264.8,538.2 267.1,538.2 269.5,538.2 271.8,538.2 274.1,538.2 276.5,538.2 278.8,538.2 281.1,538.2 283.5,538.2 285.8,538.2 288.1,538.2 290.5,538.2 292.8,538.2 295.1,538.2 297.5,538.2 299.8,538.2 302.1,538.2 304.5,538.2 306.8,538.2 309.1,538.2 311.5,538.2 313.8,538.2 316.1,538.2" marker-end="url(#ar)"/>
<polyline points="52.6,536.9 54.9,536.8 57.3,536.7 59.6,536.6 61.9,536.4 64.3,536.2 66.6,536.0 68.9,535.8 71.3,535.6 73.6,535.4 75.9,535.1 78.3,534.8 80.6,534.6 82.9,534.5 85.2,534.3 87.6,534.1 89.9,533.9 92.2,533.8 94.6,533.7 96.9,533.6 99.2,533.4 101.6,533.1 103.9,532.7 106.2,532.3 108.6,531.9 110.9,531.4 113.2,531.1 115.6,530.7 117.9,530.5 120.2,530.5 122.6,530.7 124.9,531.1 127.2,531.6 129.6,532.0 131.9,532.1 134.2,532.1 136.6,531.9 138.9,531.8 141.2,531.6 143.5,531.8 145.9,531.9 148.2,532.1 150.5,532.2 152.9,532.3 155.2,532.3 157.5,532.7 159.9,533.2 162.2,533.6 164.5,534.1 166.9,534.4 169.2,534.5 171.5,534.4 173.9,534.5 176.2,534.3 178.5,534.3 180.9,534.2 183.2,534.1 185.5,534.0 187.9,533.8 190.2,533.7 192.5,533.6 194.9,533.5 197.2,533.5 199.5,533.6 201.8,533.6 204.2,533.4 206.5,533.4 208.8,533.4 211.2,533.3 213.5,533.2 215.8,533.3 218.2,533.2 220.5,533.2 222.8,533.3 225.2,533.4 227.5,533.5 229.8,533.6 232.2,533.6 234.5,533.5 236.8,533.4 239.2,533.4 241.5,533.4 243.8,533.5 246.2,533.7 248.5,533.8 250.8,533.8 253.2,533.8 255.5,533.7 257.8,533.4 260.1,533.3 262.5,533.4 264.8,533.5 267.1,533.7 269.5,534.0 271.8,534.2 274.1,534.1 276.5,534.0 278.8,533.7 281.1,533.3 283.5,532.9 285.8,532.4 288.1,532.1 290.5,531.9 292.8,531.9 295.1,532.1 297.5,532.4 299.8,532.7 302.1,532.8 304.5,532.7 306.8,532.4 309.1,531.9 311.5,531.3 313.8,530.6 316.1,530.0 318.4,529.6 320.8,529.3 323.1,529.0 325.4,528.4 327.8,528.1 330.1,527.6 332.4,527.0 334.8,526.2 337.1,525.5 339.4,524.5 341.8,523.4 344.1,522.4 346.4,521.6 348.8,521.5 351.1,521.6 353.4,521.6 355.8,521.7 358.1,521.7 360.4,521.5 362.8,521.3 365.1,520.8 367.4,521.2 369.8,521.6 372.1,522.0 374.4,522.4 376.7,522.9 379.1,522.7 381.4,522.1 383.7,521.2 386.1,519.9 388.4,518.8 390.7,518.1 393.1,517.7 395.4,517.8 397.7,518.4 400.1,518.1 402.4,517.7 404.7,517.5 407.1,517.2 409.4,517.2 411.7,517.4 414.1,518.4 416.4,519.0 418.7,519.4 421.1,519.2 423.4,519.2 425.7,518.8 428.1,518.5 430.4,518.6 432.7,518.7 435.0,518.9 437.4,518.3 439.7,517.9 442.0,517.4 444.4,516.3 446.7,514.9 449.0,513.9 451.4,512.0 453.7,510.1 456.0,508.6 458.4,507.8 460.7,506.7 463.0,505.9 465.4,505.2 467.7,505.1" marker-end="url(#ar)"/>
<polyline points="52.6,536.6 54.9,536.5 57.3,536.3 59.6,536.1 61.9,535.8 64.3,535.5 66.6,535.2 68.9,535.0 71.3,534.8 73.6,534.5 75.9,534.2 78.3,534.0 80.6,533.7 82.9,533.4 85.2,532.9 87.6,532.4 89.9,531.9 92.2,531.3 94.6,530.8 96.9,530.3 99.2,529.8 101.6,529.3 103.9,528.6 106.2,528.0 108.6,527.6 110.9,527.4 113.2,527.1 115.6,527.1 117.9,526.5 120.2,526.1 122.6,525.4 124.9,524.1 127.2,522.8 129.6,521.9 131.9,521.4 134.2,521.1 136.6,521.0 138.9,520.7 141.2,520.4 143.5,519.9 145.9,519.5 148.2,519.6 150.5,519.7 152.9,519.2 155.2,518.2 157.5,517.0 159.9,515.8 162.2,515.0 164.5,515.0 166.9,515.5 169.2,516.1 171.5,516.6 173.9,517.4 176.2,518.0 178.5,519.0 180.9,519.8 183.2,520.4 185.5,520.5 187.9,520.7 190.2,520.5 192.5,520.6 194.9,520.9 197.2,521.2 199.5,521.6 201.8,522.4 204.2,522.9 206.5,523.1 208.8,523.1 211.2,523.2 213.5,522.8 215.8,522.5 218.2,522.2 220.5,522.0 222.8,521.9 225.2,521.7 227.5,520.7 229.8,519.9 232.2,519.6 234.5,518.7 236.8,518.1 239.2,518.0 241.5,517.9 243.8,517.5 246.2,517.2 248.5,516.5 250.8,515.9 253.2,515.3 255.5,514.8 257.8,514.1 260.1,514.6 262.5,515.9 264.8,517.7 267.1,519.3 269.5,521.6 271.8,523.1 274.1,524.2 276.5,524.9 278.8,525.4 281.1,525.7 283.5,525.9 285.8,526.0 288.1,526.2 290.5,526.5 292.8,526.4 295.1,526.2 297.5,526.0 299.8,525.7 302.1,525.5 304.5,525.6 306.8,526.2 309.1,526.3 311.5,526.4 313.8,526.0 316.1,525.8 318.4,525.2 320.8,525.1 323.1,525.4 325.4,526.0 327.8,526.0 330.1,526.3 332.4,526.0 334.8,525.8 337.1,525.0 339.4,524.4 341.8,523.7 344.1,523.3 346.4,522.7 348.8,522.6 351.1,523.0 353.4,522.8 355.8,522.4 358.1,522.5 360.4,522.8 362.8,523.0 365.1,523.5 367.4,524.4 369.8,524.8 372.1,524.3 374.4,523.7 376.7,523.5 379.1,523.1 381.4,523.1 383.7,523.4 386.1,523.7 388.4,523.7 390.7,524.0 393.1,524.1 395.4,524.1 397.7,524.0 400.1,523.7 402.4,523.2 404.7,522.6 407.1,522.4 409.4,522.5 411.7,522.7 414.1,522.9 416.4,522.9 418.7,523.2 421.1,522.9 423.4,522.7 425.7,522.4 428.1,522.4 430.4,521.7 432.7,521.9 435.0,521.7 437.4,521.5" marker-end="url(#ar)"/>
<polyline points="52.6,536.3 54.9,536.1 57.3,535.9 59.6,535.5 61.9,535.1 64.3,534.8 66.6,534.6 68.9,534.4 71.3,534.2 73.6,533.9 75.9,533.4 78.3,533.1 80.6,532.4 82.9,531.7 85.2,530.9 87.6,529.7 89.9,528.3 92.2,527.0 94.6,525.8 96.9,524.3 99.2,523.1 101.6,521.1 103.9,519.4 106.2,517.1 108.6,515.1 110.9,513.8 113.2,513.3 115.6,511.3 117.9,510.0 120.2,509.0 122.6,507.3 124.9,506.3 127.2,506.5 129.6,507.3 131.9,508.3 134.2,509.6 136.6,510.9 138.9,511.9 141.2,512.7 143.5,512.2 145.9,511.1 148.2,509.5 150.5,508.2 152.9,505.8 155.2,505.4 157.5,504.6 159.9,503.7 162.2,505.1 164.5,508.2 166.9,511.0 169.2,513.3 171.5,515.3 173.9,516.1 176.2,516.2 178.5,515.3 180.9,515.2 183.2,516.6 185.5,517.7 187.9,519.4 190.2,520.8 192.5,522.3 194.9,522.2 197.2,522.2 199.5,521.8 201.8,522.6 204.2,523.3 206.5,524.3 208.8,524.6 211.2,524.7 213.5,524.1 215.8,523.8 218.2,523.7 220.5,523.8 222.8,524.4 225.2,524.5 227.5,524.3 229.8,524.3 232.2,524.3 234.5,524.2 236.8,524.9 239.2,525.8 241.5,526.6 243.8,527.3 246.2,527.9 248.5,527.9 250.8,527.5 253.2,527.0 255.5,526.3 257.8,525.0 260.1,524.0 262.5,523.3 264.8,522.3 267.1,521.8 269.5,521.8 271.8,521.5 274.1,521.0 276.5,519.8 278.8,519.1 281.1,519.1 283.5,519.2 285.8,519.2 288.1,520.1 290.5,520.4 292.8,520.9 295.1,521.0 297.5,521.0 299.8,520.0 302.1,519.3 304.5,518.0 306.8,517.2 309.1,517.2 311.5,517.9 313.8,517.8 316.1,517.6 318.4,517.0 320.8,516.1 323.1,515.6 325.4,516.7 327.8,517.2 330.1,518.5 332.4,519.4 334.8,519.7 337.1,519.3 339.4,518.5 341.8,517.5 344.1,516.3 346.4,515.7 348.8,515.3 351.1,516.2 353.4,517.2 355.8,518.6 358.1,518.8 360.4,519.8 362.8,519.9 365.1,519.2 367.4,519.3 369.8,519.3 372.1,518.9 374.4,518.7 376.7,519.3 379.1,520.0 381.4,521.1 383.7,522.1 386.1,523.4 388.4,524.5 390.7,525.1 393.1,525.5 395.4,526.3 397.7,526.8 400.1,527.3 402.4,527.6 404.7,527.4 407.1,526.9 409.4,526.3 411.7,525.6 414.1,524.9 416.4,524.0 418.7,523.2 421.1,522.7 423.4,522.0 425.7,521.8 428.1,523.0 430.4,524.5 432.7,525.2 435.0,526.2 437.4,527.2 439.7,528.0 442.0,528.5 444.4,529.6 446.7,530.8 449.0,531.6 451.4,532.1 453.7,532.6 456.0,533.1 458.4,533.3 460.7,533.4 463.0,533.7" marker-end="url(#ar)"/>
<polyline points="52.6,536.6 54.9,536.6 57.3,536.6 59.6,536.5 61.9,536.3 64.3,536.2 66.6,536.0 68.9,535.7 71.3,535.6 73.6,535.4 75.9,535.3 78.3,535.1 80.6,534.8 82.9,534.4 85.2,533.9 87.6,533.2 89.9,532.7 92.2,532.0 94.6,531.3 96.9,530.6 99.2,529.9 101.6,529.0 103.9,528.2 106.2,527.5 108.6,527.2 110.9,527.0 113.2,526.9 115.6,527.0 117.9,526.9 120.2,526.5 122.6,525.9 124.9,525.7 127.2,525.8 129.6,525.5 131.9,525.4 134.2,525.4 136.6,524.8 138.9,523.7 141.2,523.2 143.5,523.3 145.9,523.6 148.2,524.0 150.5,524.4 152.9,524.6 155.2,524.5 157.5,524.1 159.9,523.8 162.2,523.8 164.5,524.1 166.9,524.3 169.2,524.7 171.5,525.2 173.9,525.4 176.2,525.3 178.5,525.4 180.9,525.9 183.2,526.3 185.5,527.1 187.9,527.8 190.2,528.4 192.5,528.7 194.9,529.0 197.2,529.0 199.5,529.1 201.8,529.3 204.2,529.4 206.5,529.4 208.8,529.2 211.2,528.8 213.5,528.2 215.8,527.5 218.2,526.8 220.5,526.2 222.8,526.0 225.2,525.6 227.5,525.1 229.8,524.9 232.2,524.7 234.5,524.2 236.8,523.8 239.2,523.1 241.5,522.9 243.8,522.6 246.2,522.0 248.5,521.9 250.8,522.5 253.2,522.3 255.5,522.3 257.8,522.4 260.1,522.6 262.5,522.5 264.8,522.4 267.1,522.0 269.5,522.1 271.8,521.3 274.1,520.7 276.5,520.6 278.8,520.6 281.1,520.8 283.5,521.4 285.8,521.6 288.1,521.6 290.5,521.6 292.8,521.2 295.1,521.3 297.5,521.4 299.8,521.8 302.1,522.4 304.5,523.2 306.8,523.5 309.1,524.2 311.5,524.5 313.8,524.6 316.1,525.0 318.4,525.8 320.8,526.6 323.1,527.5 325.4,528.2 327.8,528.7 330.1,528.9 332.4,529.0 334.8,529.0 337.1,529.1 339.4,529.0 341.8,529.1 344.1,529.2 346.4,529.4 348.8,529.7 351.1,529.9 353.4,529.9 355.8,529.7 358.1,529.5 360.4,529.2 362.8,529.0 365.1,528.9 367.4,529.1 369.8,529.4 372.1,529.7 374.4,530.1 376.7,530.5 379.1,530.7 381.4,530.8 383.7,530.8 386.1,530.7 388.4,530.5 390.7,530.4 393.1,530.4 395.4,530.4 397.7,530.3 400.1,530.4 402.4,530.6 404.7,530.4 407.1,530.4 409.4,530.4 411.7,530.3 414.1,530.1 416.4,529.9 418.7,529.6 421.1,529.2 423.4,528.5 425.7,528.0 428.1,527.6 430.4,527.3 432.7,527.2 435.0,527.3 437.4,527.4 439.7,527.6 442.0,527.8 444.4,528.0 446.7,528.3 449.0,528.6 451.4,528.9 453.7,529.0 456.0,529.4 458.4,529.7 460.7,530.0 463.0,530.1 465.4,530.4 467.7,530.5 470.0,530.6 472.4,530.6 474.7,530.8" marker-end="url(#ar)"/>
<polyline points="52.6,536.8 54.9,536.7 57.3,536.7 59.6,536.5 61.9,536.4 64.3,536.2 66.6,536.0 68.9,535.7 71.3,535.4 73.6,535.0 75.9,534.6 78.3,534.1 80.6,533.5 82.9,532.9 85.2,532.2 87.6,531.3 89.9,530.3 92.2,529.2 94.6,527.9 96.9,526.9 99.2,526.5 101.6,526.5 103.9,526.7 106.2,527.0 108.6,527.0 110.9,527.1 113.2,527.5 115.6,527.9 117.9,528.1 120.2,528.0 122.6,527.9 124.9,527.5 127.2,527.3 129.6,527.2 131.9,527.8 134.2,528.3 136.6,528.7 138.9,528.8 141.2,528.7 143.5,527.9 145.9,527.0 148.2,526.1 150.5,525.3 152.9,524.9 155.2,524.8 157.5,524.7 159.9,524.4 162.2,524.4 164.5,524.0 166.9,523.6 169.2,523.2 171.5,522.8 173.9,521.6 176.2,520.6 178.5,520.0 180.9,519.5 183.2,519.1 185.5,519.6 187.9,520.2 190.2,520.0 192.5,519.4 194.9,518.9 197.2,518.2 199.5,517.1 201.8,517.0 204.2,517.3 206.5,517.7 208.8,517.8 211.2,518.1 213.5,517.7 215.8,517.3 218.2,516.5 220.5,516.2 222.8,516.1 225.2,516.2 227.5,516.2 229.8,516.1 232.2,515.8 234.5,515.2 236.8,513.9 239.2,512.2 241.5,511.0 243.8,509.6 246.2,508.9 248.5,509.4 250.8,510.6 253.2,511.6 255.5,513.4 257.8,514.7 260.1,516.2 262.5,516.8 264.8,516.8 267.1,516.4 269.5,516.2 271.8,515.3 274.1,514.1 276.5,513.7 278.8,512.4 281.1,511.2 283.5,509.6 285.8,508.1 288.1,505.8 290.5,504.4 292.8,502.7 295.1,502.8 297.5,504.6 299.8,506.8 302.1,508.5 304.5,509.6 306.8,510.2 309.1,510.8 311.5,511.4 313.8,511.7 316.1,512.8 318.4,514.0 320.8,514.9 323.1,516.3 325.4,517.1 327.8,517.9 330.1,519.2 332.4,520.5 334.8,521.1 337.1,521.7 339.4,521.2 341.8,519.5 344.1,517.9 346.4,516.7 348.8,516.0 351.1,516.2 353.4,516.5 355.8,516.4 358.1,516.1 360.4,515.7 362.8,515.2 365.1,515.2 367.4,514.8 369.8,514.2 372.1,513.8 374.4,513.2 376.7,512.4 379.1,511.9 381.4,511.1 383.7,509.9 386.1,509.3 388.4,508.7 390.7,508.5 393.1,508.5 395.4,508.9 397.7,509.4 400.1,509.9 402.4,510.0 404.7,509.4 407.1,509.0 409.4,508.9 411.7,508.3 414.1,507.8 416.4,507.9 418.7,507.5 421.1,507.3 423.4,507.2 425.7,506.6 428.1,505.7 430.4,505.5 432.7,504.4 435.0,502.8 437.4,501.8 439.7,500.8 442.0,499.6 444.4,498.5 446.7,498.8 449.0,498.8 451.4,499.9 453.7,500.0 456.0,500.4" marker-end="url(#ar)"/>
<polyline points="52.6,536.8 54.9,536.7 57.3,536.6 59.6,536.4 61.9,536.3 64.3,536.1 66.6,536.0 68.9,535.9 71.3,535.8 73.6,535.8 75.9,535.8 78.3,535.8 80.6,535.7 82.9,535.7 85.2,535.7 87.6,535.6 89.9,535.6 92.2,535.5 94.6,535.3 96.9,535.1 99.2,535.0 101.6,534.9 103.9,534.8 106.2,534.8 108.6,534.8 110.9,534.8 113.2,534.8 115.6,534.8 117.9,534.8 120.2,534.9 122.6,535.0 124.9,535.0 127.2,535.0 129.6,535.0 131.9,534.9 134.2,534.8 136.6,534.8 138.9,534.8 141.2,534.8 143.5,534.9 145.9,534.9 148.2,535.1 150.5,535.2 152.9,535.3 155.2,535.4 157.5,535.5 159.9,535.6 162.2,535.6 164.5,535.7 166.9,535.8 169.2,535.9 171.5,536.1 173.9,536.2 176.2,536.3 178.5,536.3 180.9,536.3 183.2,536.4 185.5,536.4 187.9,536.4 190.2,536.5 192.5,536.5 194.9,536.4 197.2,536.4 199.5,536.3 201.8,536.4 204.2,536.4 206.5,536.4 208.8,536.4 211.2,536.4 213.5,536.4 215.8,536.4 218.2,536.5 220.5,536.7 222.8,536.8 225.2,536.9 227.5,537.1 229.8,537.2 232.2,537.2 234.5,537.2 236.8,537.3 239.2,537.3 241.5,537.3 243.8,537.3 246.2,537.3 248.5,537.3 250.8,537.3 253.2,537.3 255.5,537.3 257.8,537.3 260.1,537.3 262.5,537.3 264.8,537.3 267.1,537.3 269.5,537.3 271.8,537.3 274.1,537.3 276.5,537.4 278.8,537.4 281.1,537.4 283.5,537.4 285.8,537.4 288.1,537.3 290.5,537.3 292.8,537.2 295.1,537.2 297.5,537.2 299.8,537.1 302.1,537.1 304.5,537.0 306.8,536.9 309.1,536.9 311.5,536.8 313.8,536.8 316.1,536.7 318.4,536.6 320.8,536.5 323.1,536.5 325.4,536.3 327.8,536.2 330.1,536.0 332.4,535.8 334.8,535.7 337.1,535.5 339.4,535.3 341.8,535.1 344.1,535.0 346.4,534.9 348.8,534.8 351.1,534.7 353.4,534.7 355.8,534.6 358.1,534.5 360.4,534.3 362.8,534.2 365.1,534.2 367.4,534.1 369.8,533.9 372.1,533.9 374.4,533.7" marker-end="url(#ar)"/>
<polyline points="52.6,536.5 54.9,536.3 57.3,536.2 59.6,535.8 61.9,535.3 64.3,534.9 66.6,534.4 68.9,533.7 71.3,532.9 73.6,532.0 75.9,531.2 78.3,530.3 80.6,529.8 82.9,529.7 85.2,529.7 87.6,529.8 89.9,530.0 92.2,530.1 94.6,530.5 96.9,530.8 99.2,531.2 101.6,531.7 103.9,532.1 106.2,532.3 108.6,532.5 110.9,532.6 113.2,532.7 115.6,532.9 117.9,533.2 120.2,533.5 122.6,533.9 124.9,534.3 127.2,534.6 129.6,534.9 131.9,535.0 134.2,535.2 136.6,535.2 138.9,535.3 141.2,535.3 143.5,535.3 145.9,535.4 148.2,535.5 150.5,535.6 152.9,535.7 155.2,535.8 157.5,535.8 159.9,535.8 162.2,535.6 164.5,535.6 166.9,535.5 169.2,535.5 171.5,535.6 173.9,535.6 176.2,535.7 178.5,535.8 180.9,535.9 183.2,535.9 185.5,536.0 187.9,536.0 190.2,536.1 192.5,536.1 194.9,536.2 197.2,536.2 199.5,536.2 201.8,536.1 204.2,536.0 206.5,535.9 208.8,535.7 211.2,535.5 213.5,535.4 215.8,535.3 218.2,535.1 220.5,535.0 222.8,534.9 225.2,534.7 227.5,534.4 229.8,534.1 232.2,533.9 234.5,533.5 236.8,533.1 239.2,532.9 241.5,532.5 243.8,532.2 246.2,532.0 248.5,531.8 250.8,531.3 253.2,530.7 255.5,529.9 257.8,528.8 260.1,527.8 262.5,526.8 264.8,525.8 267.1,525.0 269.5,524.2 271.8,523.2 274.1,522.7 276.5,522.4 278.8,522.2 281.1,522.4 283.5,522.7 285.8,522.9 288.1,523.0 290.5,523.0 292.8,522.6 295.1,522.6 297.5,522.4 299.8,522.0 302.1,522.2 304.5,522.6 306.8,522.9 309.1,523.4 311.5,523.9 313.8,524.0 316.1,524.3 318.4,524.3 320.8,524.5 323.1,524.6 325.4,525.1 327.8,525.6 330.1,526.3 332.4,526.6 334.8,527.0 337.1,526.9 339.4,526.7 341.8,526.2 344.1,525.7 346.4,525.1 348.8,524.0 351.1,523.0 353.4,522.1 355.8,521.2 358.1,520.2 360.4,519.9 362.8,519.7 365.1,519.3 367.4,519.0 369.8,519.3 372.1,519.6 374.4,520.0 376.7,520.8 379.1,521.5 381.4,521.8 383.7,522.4 386.1,522.8 388.4,522.9 390.7,522.9 393.1,522.8 395.4,522.7 397.7,522.8 400.1,522.8 402.4,522.9 404.7,523.6 407.1,524.3 409.4,525.0 411.7,525.9 414.1,526.7 416.4,527.0 418.7,527.3" marker-end="url(#ar)"/>
<polyline points="52.6,536.6 54.9,536.5 57.3,536.5 59.6,536.3 61.9,536.1 64.3,535.9 66.6,535.6 68.9,535.2 71.3,535.0 73.6,534.7 75.9,534.4 78.3,534.1 80.6,533.9 82.9,533.8 85.2,533.8 87.6,533.8 89.9,533.9 92.2,533.9 94.6,534.0 96.9,534.1 99.2,534.2 101.6,534.3 103.9,534.4 106.2,534.4 108.6,534.4 110.9,534.4 113.2,534.3 115.6,534.2 117.9,534.1 120.2,533.9 122.6,533.7 124.9,533.5 127.2,533.4 129.6,533.2 131.9,533.1 134.2,533.0 136.6,532.8 138.9,532.7 141.2,532.6 143.5,532.5 145.9,532.4 148.2,532.2 150.5,532.1 152.9,531.9 155.2,531.7 157.5,531.5 159.9,531.2 162.2,530.9 164.5,530.8 166.9,530.6 169.2,530.4 171.5,530.2 173.9,530.0 176.2,529.7 178.5,529.5 180.9,529.5 183.2,529.6 185.5,530.0 187.9,530.4 190.2,530.5 192.5,530.5 194.9,530.6 197.2,530.4 199.5,530.2 201.8,530.2 204.2,530.3 206.5,530.2 208.8,530.2 211.2,530.1 213.5,529.8 215.8,529.8 218.2,530.0 220.5,530.1 222.8,530.3 225.2,530.5 227.5,530.6 229.8,530.6 232.2,530.6 234.5,530.6 236.8,530.7 239.2,530.6 241.5,530.5 243.8,530.5 246.2,530.2 248.5,530.0 250.8,529.8 253.2,529.4 255.5,529.2 257.8,529.2 260.1,528.8 262.5,528.4 264.8,528.5 267.1,528.4 269.5,528.6 271.8,529.1 274.1,529.7 276.5,530.1 278.8,530.3 281.1,530.4 283.5,530.6 285.8,530.6 288.1,530.6 290.5,530.5 292.8,530.5 295.1,530.5 297.5,530.5 299.8,530.1 302.1,530.0 304.5,530.2 306.8,530.2 309.1,530.3 311.5,530.6 313.8,531.0 316.1,531.2 318.4,531.5 320.8,531.6 323.1,532.0 325.4,532.2 327.8,532.5 330.1,532.7 332.4,532.9 334.8,533.0 337.1,533.0 339.4,532.9 341.8,532.7 344.1,532.6 346.4,532.5 348.8,532.3 351.1,532.3 353.4,532.2 355.8,532.1 358.1,532.1 360.4,532.3 362.8,532.3 365.1,532.3 367.4,532.3 369.8,532.1 372.1,531.9 374.4,531.9 376.7,531.8 379.1,531.6 381.4,531.6 383.7,531.7 386.1,531.8 388.4,532.1 390.7,532.3 393.1,532.6 395.4,532.7 397.7,532.8 400.1,532.8 402.4,532.9 404.7,532.8 407.1,532.9 409.4,532.9 411.7,532.9 414.1,533.1 416.4,533.2 418.7,533.4 421.1,533.6 423.4,533.8 425.7,533.8 428.1,533.8 430.4,533.9 432.7,533.9 435.0,534.0 437.4,534.1 439.7,534.3 442.0,534.3 444.4,534.3 446.7,534.4 449.0,534.4 451.4,534.5 453.7,534.6 456.0,534.7 458.4,534.8 460.7,534.9 463.0,534.8" marker-end="url(#ar)"/>
<polyline points="52.6,536.4 54.9,536.2 57.3,536.1 59.6,535.8 61.9,535.5 64.3,535.1 66.6,534.9 68.9,534.6 71.3,534.2 73.6,533.6 75.9,533.0 78.3,532.3 80.6,532.0 82.9,531.6 85.2,531.3 87.6,530.7 89.9,530.0 92.2,528.7 94.6,527.1 96.9,525.3 99.2,523.4 101.6,522.2 103.9,521.3 106.2,520.5 108.6,519.7 110.9,519.0 113.2,517.4 115.6,516.8 117.9,516.4 120.2,516.0 122.6,516.3 124.9,517.0 127.2,516.5 129.6,516.8 131.9,517.4 134.2,516.8 136.6,515.3 138.9,514.0 141.2,511.8 143.5,509.5 145.9,506.9 148.2,505.9 150.5,504.2 152.9,503.0 155.2,502.1 157.5,501.6 159.9,501.5 162.2,500.9 164.5,500.9 166.9,501.6 169.2,502.9 171.5,502.8 173.9,503.0 176.2,503.4 178.5,503.5 180.9,504.3 183.2,507.6 185.5,510.8 187.9,512.0 190.2,513.4 192.5,513.9 194.9,513.0 197.2,511.4 199.5,511.2 201.8,510.6 204.2,510.6 206.5,511.4 208.8,512.5 211.2,513.3 213.5,514.8 215.8,516.5 218.2,517.3 220.5,519.0 222.8,520.6 225.2,522.0 227.5,523.1 229.8,524.1 232.2,524.5 234.5,524.9 236.8,524.8 239.2,524.4 241.5,523.6 243.8,523.4 246.2,522.7 248.5,522.3 250.8,522.1 253.2,522.6 255.5,522.0 257.8,521.7 260.1,521.4 262.5,521.2 264.8,520.7 267.1,521.5 269.5,521.8 271.8,522.0 274.1,521.8 276.5,521.2 278.8,519.9 281.1,519.2 283.5,518.6 285.8,519.0 288.1,520.0 290.5,521.4 292.8,522.8 295.1,523.5 297.5,523.7 299.8,523.2 302.1,522.0 304.5,520.5 306.8,519.1 309.1,516.7 311.5,515.7 313.8,515.9 316.1,516.6 318.4,517.9 320.8,519.9 323.1,521.2 325.4,521.9 327.8,522.8 330.1,523.6 332.4,524.7 334.8,525.1 337.1,525.3 339.4,524.9 341.8,524.7 344.1,524.3 346.4,524.5 348.8,525.0 351.1,525.5 353.4,525.9 355.8,525.8 358.1,526.2 360.4,526.0 362.8,525.7 365.1,525.0 367.4,524.6 369.8,523.7 372.1,523.4 374.4,522.6 376.7,521.9 379.1,520.9 381.4,519.8 383.7,518.4 386.1,516.7 388.4,514.2 390.7,511.6 393.1,509.0 395.4,506.3 397.7,504.1 400.1,501.8 402.4,500.0 404.7,496.8 407.1,492.6 409.4,487.9 411.7,484.3 414.1,480.3 416.4,478.8 418.7,480.7 421.1,485.2 423.4,489.4 425.7,492.7 428.1,494.9 430.4,495.7 432.7,495.3 435.0,494.8 437.4,495.5 439.7,494.8 442.0,493.9 444.4,492.6 446.7,490.5 449.0,488.5 451.4,487.1" marker-end="url(#ar)"/>
<polyline points="52.6,536.4 54.9,536.3 57.3,536.3 59.6,536.1 61.9,536.0 64.3,535.8 66.6,535.6 68.9,535.3 71.3,535.0 73.6,534.6 75.9,534.4 78.3,534.1 80.6,534.0 82.9,533.8 85.2,533.6 87.6,533.3 89.9,533.0 92.2,532.7 94.6,532.3 96.9,532.1 99.2,531.9 101.6,531.7 103.9,531.5 106.2,531.2 108.6,530.8 110.9,530.4 113.2,530.2 115.6,530.1 117.9,529.9 120.2,529.8 122.6,529.8 124.9,529.6 127.2,529.6 129.6,529.6 131.9,529.8 134.2,529.6 136.6,529.4 138.9,528.8 141.2,528.3 143.5,527.7 145.9,527.3 148.2,526.9 150.5,526.5 152.9,526.0 155.2,525.8 157.5,525.7 159.9,526.0 162.2,526.6 164.5,527.4 166.9,528.0 169.2,528.8 171.5,529.2 173.9,529.7 176.2,530.0 178.5,530.3 180.9,530.6 183.2,530.6 185.5,530.6 187.9,530.5 190.2,530.4 192.5,530.4 194.9,530.6 197.2,530.9 199.5,531.3 201.8,531.8 204.2,532.0 206.5,532.2 208.8,532.4 211.2,532.5 213.5,532.6 215.8,532.6 218.2,532.7 220.5,532.8 222.8,532.9 225.2,533.1 227.5,533.4 229.8,533.6 232.2,533.7 234.5,533.8 236.8,533.9 239.2,533.9 241.5,534.1 243.8,534.3 246.2,534.5 248.5,534.6 250.8,534.7 253.2,534.8 255.5,534.7 257.8,534.7 260.1,534.6 262.5,534.4 264.8,534.2 267.1,533.9 269.5,533.5 271.8,533.0 274.1,532.4 276.5,531.6 278.8,530.5 281.1,529.2 283.5,528.2 285.8,527.5 288.1,527.0 290.5,527.0 292.8,527.4 295.1,527.6 297.5,527.6 299.8,527.5 302.1,527.4 304.5,527.1 306.8,526.9 309.1,526.8 311.5,526.9 313.8,527.2 316.1,527.8 318.4,528.4 320.8,528.7 323.1,529.0 325.4,529.1 327.8,529.1 330.1,528.8" marker-end="url(#ar)"/>
<polyline points="52.6,536.4 54.9,536.2 57.3,536.1 59.6,535.8 61.9,535.4 64.3,535.1 66.6,534.7 68.9,534.4 71.3,534.1 73.6,533.8 75.9,533.4 78.3,533.0 80.6,532.7 82.9,532.2 85.2,531.8 87.6,531.5 89.9,531.0 92.2,530.7 94.6,530.6 96.9,530.6 99.2,530.6 101.6,530.7 103.9,530.5 106.2,530.0 108.6,529.8 110.9,529.6 113.2,529.6 115.6,529.6 117.9,529.9 120.2,529.9 122.6,529.8 124.9,529.5 127.2,529.4 129.6,529.2 131.9,529.2 134.2,529.4 136.6,529.7 138.9,529.7 141.2,529.7 143.5,529.8 145.9,529.7 148.2,529.2 150.5,529.0 152.9,528.5 155.2,527.5 157.5,526.8 159.9,526.9 162.2,526.4 164.5,525.9 166.9,525.8 169.2,526.2 171.5,526.3 173.9,526.4 176.2,526.3 178.5,526.2 180.9,525.5 183.2,524.8 185.5,524.1 187.9,524.3 190.2,524.0 192.5,523.5 194.9,523.6 197.2,524.0 199.5,524.2 201.8,524.6 204.2,524.6 206.5,524.8 208.8,524.6 211.2,524.5 213.5,524.5 215.8,524.7 218.2,524.8 220.5,525.4 222.8,526.1 225.2,526.2 227.5,526.3 229.8,525.8 232.2,524.8 234.5,523.8 236.8,524.1 239.2,524.6 241.5,525.2 243.8,526.5 246.2,527.4 248.5,527.7 250.8,528.0 253.2,528.2 255.5,527.9 257.8,528.1 260.1,528.7 262.5,528.8 264.8,529.0 267.1,529.8 269.5,529.9 271.8,529.6 274.1,529.5 276.5,529.4 278.8,529.0 281.1,528.8 283.5,529.3 285.8,530.0 288.1,530.6 290.5,531.0 292.8,531.5 295.1,531.7 297.5,531.7 299.8,531.9 302.1,532.0 304.5,532.2 306.8,532.3 309.1,532.5 311.5,532.5 313.8,532.4 316.1,532.4 318.4,532.4 320.8,532.5 323.1,532.5 325.4,532.7 327.8,532.7 330.1,532.7 332.4,532.8 334.8,533.0 337.1,533.3 339.4,533.5 341.8,533.9 344.1,534.3 346.4,534.4 348.8,534.6 351.1,534.7 353.4,534.7 355.8,534.7 358.1,534.7 360.4,534.9 362.8,535.1 365.1,535.4 367.4,535.7 369.8,535.9 372.1,535.9 374.4,535.9 376.7,535.7 379.1,535.3 381.4,534.7 383.7,534.3 386.1,533.6 388.4,532.9 390.7,532.6 393.1,532.3 395.4,532.1 397.7,531.9 400.1,531.8 402.4,531.5 404.7,531.2 407.1,531.1 409.4,531.1 411.7,531.3 414.1,531.4 416.4,531.2 418.7,531.1 421.1,531.2 423.4,530.6 425.7,530.4 428.1,530.3 430.4,530.4 432.7,530.4 435.0,530.8 437.4,531.1 439.7,531.4 442.0,531.6 444.4,531.9 446.7,532.0 449.0,532.0 451.4,532.0 453.7,531.9 456.0,531.7" marker-end="url(#ar)"/>
<polyline points="52.6,536.5 54.9,536.3 57.3,536.2 59.6,535.9 61.9,535.6 64.3,535.3 66.6,535.0 68.9,534.6 71.3,534.2 73.6,533.9 75.9,533.5 78.3,533.3 80.6,533.3 82.9,533.2 85.2,533.4 87.6,533.7 89.9,534.0 92.2,534.4 94.6,534.8 96.9,535.1 99.2,535.3 101.6,535.6 103.9,535.8 106.2,535.9 108.6,536.1 110.9,536.3 113.2,536.5 115.6,536.7 117.9,536.9 120.2,537.1 122.6,537.2 124.9,537.3 127.2,537.4 129.6,537.5 131.9,537.5 134.2,537.6 136.6,537.6 138.9,537.7 141.2,537.8 143.5,537.8 145.9,537.9 148.2,537.9 150.5,537.9 152.9,537.9 155.2,537.9 157.5,538.0 159.9,538.0 162.2,538.0 164.5,538.0 166.9,538.0 169.2,538.0 171.5,538.0 173.9,538.0 176.2,538.0 178.5,538.0 180.9,538.0 183.2,538.0 185.5,538.0 187.9,538.0 190.2,538.0 192.5,538.0 194.9,538.0 197.2,538.0 199.5,538.0 201.8,538.0 204.2,538.0 206.5,537.9 208.8,537.9 211.2,537.9 213.5,537.9 215.8,537.9 218.2,537.8 220.5,537.8 222.8,537.8 225.2,537.8 227.5,537.8 229.8,537.8 232.2,537.8 234.5,537.7 236.8,537.7 239.2,537.7 241.5,537.7 243.8,537.7 246.2,537.7 248.5,537.7 250.8,537.7 253.2,537.7 255.5,537.7 257.8,537.7 260.1,537.6 262.5,537.6 264.8,537.6 267.1,537.6 269.5,537.5 271.8,537.6 274.1,537.6 276.5,537.6 278.8,537.6 281.1,537.6 283.5,537.6 285.8,537.6 288.1,537.6 290.5,537.6 292.8,537.5 295.1,537.6 297.5,537.5 299.8,537.6 302.1,537.6 304.5,537.6 306.8,537.6 309.1,537.6 311.5,537.6 313.8,537.5 316.1,537.5 318.4,537.5 320.8,537.4 323.1,537.4 325.4,537.4 327.8,537.4 330.1,537.3 332.4,537.3 334.8,537.2 337.1,537.2 339.4,537.2 341.8,537.2 344.1,537.2 346.4,537.2 348.8,537.2 351.1,537.2 353.4,537.2 355.8,537.2 358.1,537.2 360.4,537.2 362.8,537.1 365.1,537.1 367.4,537.0 369.8,536.9 372.1,536.8 374.4,536.8 376.7,536.7 379.1,536.7 381.4,536.7 383.7,536.7 386.1,536.7 388.4,536.7 390.7,536.6 393.1,536.6 395.4,536.5 397.7,536.4 400.1,536.4 402.4,536.4 404.7,536.4 407.1,536.4 409.4,536.5 411.7,536.5 414.1,536.5 416.4,536.6 418.7,536.7 421.1,536.8 423.4,536.8 425.7,536.9 428.1,537.0 430.4,537.0 432.7,537.0 435.0,537.1 437.4,537.1 439.7,537.1 442.0,537.1 444.4,537.2 446.7,537.2 449.0,537.2 451.4,537.2 453.7,537.2 456.0,537.2 458.4,537.2 460.7,537.1 463.0,537.1 465.4,537.1 467.7,537.1 470.0,537.1" marker-end="url(#ar)"/>
<polyline points="52.6,536.9 54.9,536.8 57.3,536.8 59.6,536.7 61.9,536.6 64.3,536.4 66.6,536.3 68.9,536.2 71.3,536.0 73.6,535.7 75.9,535.6 78.3,535.4 80.6,535.2 82.9,534.8 85.2,534.3 87.6,533.5 89.9,533.0 92.2,532.8 94.6,532.6 96.9,532.7 99.2,533.0 101.6,532.9 103.9,532.8 106.2,532.8 108.6,532.7 110.9,532.9 113.2,533.0 115.6,533.1 117.9,533.3 120.2,533.5 122.6,533.5 124.9,533.6 127.2,533.7 129.6,533.8 131.9,533.9 134.2,533.9 136.6,533.8 138.9,533.5 141.2,533.4 143.5,533.4 145.9,533.5 148.2,533.7 150.5,534.0 152.9,534.2 155.2,534.6 157.5,535.0 159.9,535.2 162.2,535.4 164.5,535.5 166.9,535.6 169.2,535.5 171.5,535.4 173.9,535.4 176.2,535.3 178.5,535.2 180.9,535.1 183.2,535.2 185.5,535.2 187.9,535.3 190.2,535.4 192.5,535.5 194.9,535.5 197.2,535.5 199.5,535.5 201.8,535.5 204.2,535.5 206.5,535.4 208.8,535.3 211.2,535.1 213.5,535.0 215.8,534.9 218.2,534.8 220.5,534.8 222.8,534.7 225.2,534.6 227.5,534.5 229.8,534.4 232.2,534.3 234.5,534.4 236.8,534.6 239.2,534.7 241.5,534.9 243.8,535.1 246.2,535.2 248.5,535.4 250.8,535.5 253.2,535.5 255.5,535.5 257.8,535.3 260.1,535.0 262.5,534.8 264.8,534.7 267.1,534.7 269.5,534.8 271.8,535.1 274.1,535.1 276.5,535.0 278.8,535.0 281.1,534.8 283.5,534.5 285.8,534.2 288.1,534.0 290.5,533.7 292.8,533.6 295.1,533.7 297.5,533.9 299.8,534.2 302.1,534.3 304.5,534.3 306.8,534.3 309.1,534.2 311.5,534.0 313.8,533.9 316.1,533.9 318.4,533.8 320.8,533.8 323.1,533.7 325.4,533.8 327.8,533.9 330.1,533.9 332.4,533.9 334.8,533.9 337.1,533.8 339.4,533.7 341.8,533.7 344.1,533.7 346.4,533.9 348.8,534.1 351.1,534.2 353.4,534.2 355.8,534.1 358.1,533.8 360.4,533.5 362.8,533.4 365.1,533.2 367.4,533.0 369.8,533.1 372.1,532.9 374.4,532.8 376.7,532.9 379.1,533.1 381.4,533.4 383.7,534.0 386.1,534.3 388.4,534.7 390.7,534.8 393.1,534.8 395.4,534.9 397.7,535.0 400.1,535.0 402.4,534.9 404.7,535.0 407.1,534.9 409.4,534.8 411.7,534.7 414.1,534.6 416.4,534.7 418.7,534.7 421.1,534.9 423.4,535.0 425.7,535.2 428.1,535.4 430.4,535.5 432.7,535.7 435.0,535.9 437.4,536.0 439.7,536.1 442.0,536.2 444.4,536.3 446.7,536.3 449.0,536.2 451.4,536.2 453.7,536.1 456.0,535.9 458.4,535.6 460.7,535.2 463.0,534.9 465.4,534.9 467.7,534.9 470.0,535.1 472.4,535.3 474.7,535.3 477.0,535.2 479.4,535.1 481.7,535.1 484.0,535.2 486.4,535.2 488.7,535.3 491.0,535.3 493.3,535.2" marker-end="url(#ar)"/>
<polyline points="52.6,536.5 54.9,536.4 57.3,536.3 59.6,536.0 61.9,535.8 64.3,535.8 66.6,535.7 68.9,535.6 71.3,535.5 73.6,535.3 75.9,535.0 78.3,534.8 80.6,534.6 82.9,534.5 85.2,534.3 87.6,534.2 89.9,534.2 92.2,534.0 94.6,533.7 96.9,533.4 99.2,532.9 101.6,532.1 103.9,531.4 106.2,530.4 108.6,529.5 110.9,529.0 113.2,528.3 115.6,527.6 117.9,527.4 120.2,527.4 122.6,526.9 124.9,526.7 127.2,526.4 129.6,526.1 131.9,525.5 134.2,525.1 136.6,524.4 138.9,524.6 141.2,524.6 143.5,524.3 145.9,524.1 148.2,523.7 150.5,522.4 152.9,521.3 155.2,521.0 157.5,521.0 159.9,521.6 162.2,521.9 164.5,522.2 166.9,521.3 169.2,520.0 171.5,518.4 173.9,516.0 176.2,513.5 178.5,511.8 180.9,509.7 183.2,507.7 185.5,506.9 187.9,506.5 190.2,506.2 192.5,507.1 194.9,508.7 197.2,510.3 199.5,511.6 201.8,512.3 204.2,512.7 206.5,512.5 208.8,512.7 211.2,513.4 213.5,514.5 215.8,514.8 218.2,516.2 220.5,517.7 222.8,518.7 225.2,520.3 227.5,522.4 229.8,524.0 232.2,525.2 234.5,526.4 236.8,527.0 239.2,527.8 241.5,528.3 243.8,528.9 246.2,529.2 248.5,529.7 250.8,529.4 253.2,529.4 255.5,529.1 257.8,529.0 260.1,529.3 262.5,529.8 264.8,530.1 267.1,530.4 269.5,530.4 271.8,530.1 274.1,529.6 276.5,528.9 278.8,528.5 281.1,528.6 283.5,528.7 285.8,528.7 288.1,529.0 290.5,528.9 292.8,528.9 295.1,528.9 297.5,529.1 299.8,529.3 302.1,529.5 304.5,529.5 306.8,529.6 309.1,529.5 311.5,529.5 313.8,529.3 316.1,529.2 318.4,529.1 320.8,528.9 323.1,528.5 325.4,528.2 327.8,527.8 330.1,527.3 332.4,527.4 334.8,528.0 337.1,528.7 339.4,529.8 341.8,530.7 344.1,531.1 346.4,531.5 348.8,531.8 351.1,531.6 353.4,531.3 355.8,531.2 358.1,530.8 360.4,530.7 362.8,530.8 365.1,531.3 367.4,531.5 369.8,532.0 372.1,532.4 374.4,532.9 376.7,533.3 379.1,533.8 381.4,534.0 383.7,534.0 386.1,533.8 388.4,533.7 390.7,533.5 393.1,533.6 395.4,533.8 397.7,534.0 400.1,534.1 402.4,534.1 404.7,534.0 407.1,533.8 409.4,533.6 411.7,533.5 414.1,533.4" marker-end="url(#ar)"/>
<polyline points="52.6,536.9 54.9,536.9 57.3,536.8 59.6,536.8 61.9,536.7 64.3,536.6 66.6,536.4 68.9,536.3 71.3,536.1 73.6,535.9 75.9,535.7 78.3,535.4 80.6,535.0 82.9,534.6 85.2,534.2 87.6,533.8 89.9,533.3 92.2,532.7 94.6,532.0 96.9,531.0 99.2,529.8 101.6,528.7 103.9,527.6 106.2,526.4 108.6,525.5 110.9,524.5 113.2,523.1 115.6,522.1 117.9,521.2 120.2,520.3 122.6,519.4 124.9,518.5 127.2,516.8 129.6,514.8 131.9,512.1 134.2,509.6 136.6,506.8 138.9,504.2 141.2,502.2 143.5,501.2 145.9,501.3 148.2,502.3 150.5,504.4 152.9,506.1 155.2,507.9 157.5,508.7 159.9,509.0 162.2,508.9 164.5,507.8 166.9,506.6 169.2,504.4 171.5,502.6 173.9,500.5 176.2,498.4 178.5,496.4 180.9,496.0 183.2,494.7 185.5,493.4 187.9,492.8 190.2,492.7 192.5,491.2 194.9,489.9 197.2,488.3 199.5,486.5 201.8,484.2 204.2,483.4 206.5,483.5 208.8,484.6 211.2,486.8 213.5,490.0 215.8,493.0 218.2,496.1 220.5,498.9 222.8,500.9 225.2,500.8 227.5,501.3 229.8,501.3 232.2,501.8 234.5,502.1 236.8,503.7 239.2,505.6 241.5,507.2 243.8,507.8 246.2,507.8 248.5,507.0 250.8,505.6 253.2,504.0 255.5,502.8 257.8,502.5 260.1,503.4 262.5,504.1 264.8,506.1 267.1,507.1 269.5,508.6 271.8,509.6 274.1,510.6 276.5,511.0 278.8,512.4 281.1,513.6 283.5,514.7 285.8,515.3 288.1,516.6 290.5,517.2 292.8,518.1 295.1,519.1 297.5,520.0 299.8,520.1 302.1,520.1 304.5,519.6 306.8,519.1 309.1,518.8 311.5,518.6 313.8,518.7 316.1,518.8 318.4,519.1 320.8,519.1 323.1,519.1 325.4,518.5 327.8,518.1 330.1,517.5 332.4,516.8 334.8,516.1 337.1,516.1 339.4,515.2 341.8,514.3 344.1,513.3 346.4,512.3 348.8,510.7 351.1,510.1 353.4,509.6 355.8,509.6 358.1,510.1 360.4,510.6 362.8,511.3 365.1,511.2 367.4,510.8 369.8,509.9 372.1,508.8 374.4,506.8 376.7,505.6 379.1,504.0 381.4,503.7 383.7,505.0 386.1,507.1 388.4,508.9 390.7,510.4 393.1,511.4 395.4,511.2 397.7,510.7 400.1,509.8 402.4,509.7 404.7,510.4 407.1,512.1 409.4,513.8 411.7,516.3 414.1,518.6 416.4,519.7 418.7,520.5 421.1,521.3 423.4,521.9 425.7,522.0 428.1,522.3 430.4,522.6 432.7,523.2 435.0,524.1 437.4,525.1 439.7,526.5 442.0,527.9 444.4,528.9 446.7,529.5 449.0,530.2 451.4,530.7 453.7,531.3 456.0,531.8 458.4,532.1 460.7,532.4 463.0,532.6 465.4,532.6 467.7,532.2 470.0,532.0 472.4,532.0 474.7,531.7 477.0,531.6 479.4,531.8 481.7,531.9 484.0,531.8 486.4,531.9" marker-end="url(#ar)"/>
<polyline points="52.6,536.7 54.9,536.7 57.3,536.7 59.6,536.6 61.9,536.5 64.3,536.4 66.6,536.2 68.9,536.1 71.3,535.9 73.6,535.6 75.9,535.5 78.3,535.3 80.6,535.0 82.9,534.6 85.2,534.1 87.6,533.5 89.9,532.8 92.2,532.5 94.6,532.2 96.9,532.0 99.2,531.9 101.6,531.7 103.9,531.3 106.2,530.7 108.6,530.1 110.9,529.8 113.2,529.2 115.6,528.8 117.9,528.6 120.2,528.4 122.6,528.3 124.9,528.5 127.2,528.7 129.6,529.1 131.9,529.6 134.2,530.1 136.6,530.5 138.9,531.0 141.2,531.6 143.5,532.0 145.9,532.4 148.2,532.7 150.5,532.8 152.9,532.9 155.2,533.0 157.5,533.1 159.9,533.1 162.2,533.3 164.5,533.5 166.9,533.6 169.2,533.7 171.5,533.8 173.9,533.7 176.2,533.6 178.5,533.6 180.9,533.5 183.2,533.5 185.5,533.7 187.9,533.8 190.2,534.0 192.5,534.3 194.9,534.4 197.2,534.4 199.5,534.4 201.8,534.3 204.2,534.2 206.5,534.0 208.8,533.7 211.2,533.4 213.5,533.4 215.8,533.3 218.2,533.2 220.5,533.1 222.8,532.9 225.2,532.7 227.5,532.5 229.8,532.5 232.2,532.7 234.5,532.8 236.8,532.9 239.2,532.9 241.5,532.9 243.8,532.8 246.2,532.9 248.5,532.9 250.8,532.8 253.2,532.6 255.5,532.6 257.8,532.3 260.1,532.1 262.5,531.7 264.8,531.7 267.1,531.6 269.5,531.6 271.8,531.6 274.1,531.6 276.5,531.3 278.8,530.8 281.1,530.3 283.5,529.7 285.8,529.5 288.1,529.5 290.5,529.6 292.8,529.9 295.1,530.0 297.5,529.9 299.8,529.8 302.1,529.6 304.5,529.3 306.8,529.4 309.1,529.4 311.5,529.3" marker-end="url(#ar)"/>
<polyline points="52.6,536.6 54.9,536.6 57.3,536.5 59.6,536.3 61.9,536.2 64.3,535.9 66.6,535.8 68.9,535.7 71.3,535.6 73.6,535.4 75.9,535.2 78.3,535.0 80.6,534.7 82.9,534.5 85.2,534.4 87.6,534.2 89.9,534.0 92.2,533.7 94.6,533.4 96.9,533.0 99.2,532.6 101.6,532.2 103.9,531.7 106.2,531.2 108.6,530.7 110.9,530.1 113.2,529.6 115.6,529.2 117.9,528.7 120.2,528.1 122.6,527.4 124.9,526.7 127.2,525.9 129.6,525.3 131.9,524.7 134.2,524.6 136.6,524.2 138.9,523.8 141.2,523.3 143.5,522.7 145.9,521.9 148.2,521.2 150.5,520.9 152.9,521.0 155.2,521.5 157.5,521.9 159.9,522.3 162.2,522.4 164.5,522.0 166.9,521.5 169.2,521.2 171.5,521.1 173.9,521.2 176.2,521.7 178.5,522.1 180.9,522.4 183.2,522.4 185.5,522.2 187.9,521.9 190.2,521.6 192.5,521.0 194.9,520.8 197.2,520.8 199.5,521.2 201.8,521.2 204.2,521.5 206.5,521.6 208.8,521.9 211.2,522.1 213.5,522.5 215.8,523.0 218.2,523.2 220.5,523.1 222.8,522.8 225.2,522.6 227.5,522.9 229.8,523.2 232.2,523.7 234.5,524.1 236.8,524.5 239.2,524.5 241.5,524.6 243.8,524.7 246.2,525.3 248.5,525.8 250.8,526.4 253.2,527.3 255.5,528.0 257.8,528.7 260.1,529.1 262.5,529.4 264.8,529.7 267.1,529.8 269.5,529.9 271.8,530.0 274.1,530.3 276.5,530.3 278.8,530.5 281.1,530.6 283.5,530.8 285.8,531.0 288.1,531.2 290.5,531.3 292.8,531.6 295.1,531.9 297.5,532.1 299.8,532.3 302.1,532.5 304.5,532.6 306.8,532.5 309.1,532.6 311.5,532.6 313.8,532.6 316.1,532.4 318.4,532.2 320.8,532.0 323.1,531.9 325.4,531.8 327.8,531.7 330.1,531.8 332.4,531.9 334.8,531.9 337.1,532.1 339.4,532.2 341.8,532.4 344.1,532.6 346.4,532.9 348.8,533.1 351.1,533.1 353.4,533.0 355.8,532.8 358.1,532.6 360.4,532.5 362.8,532.4 365.1,532.5 367.4,532.5 369.8,532.5 372.1,532.5 374.4,532.5 376.7,532.5 379.1,532.6 381.4,532.5 383.7,532.5 386.1,532.3 388.4,532.2 390.7,532.0 393.1,531.9 395.4,531.8 397.7,531.8 400.1,531.9 402.4,531.9 404.7,532.1 407.1,532.3 409.4,532.3 411.7,532.5 414.1,532.8 416.4,533.0 418.7,533.2 421.1,533.5 423.4,533.7 425.7,533.9 428.1,534.1 430.4,534.2 432.7,534.3 435.0,534.5 437.4,534.6 439.7,534.7 442.0,534.7 444.4,534.8 446.7,534.8" marker-end="url(#ar)"/>
<polyline points="52.6,536.6 54.9,536.5 57.3,536.5 59.6,536.3 61.9,536.1 64.3,535.8 66.6,535.6 68.9,535.1 71.3,534.5 73.6,533.9 75.9,533.1 78.3,532.2 80.6,531.5 82.9,530.8 85.2,530.2 87.6,529.4 89.9,528.3 92.2,527.3 94.6,526.6 96.9,526.0 99.2,526.4 101.6,527.5 103.9,528.2 106.2,528.3 108.6,528.5 110.9,528.2 113.2,527.5 115.6,527.3 117.9,527.3 120.2,527.3 122.6,527.5 124.9,527.6 127.2,527.7 129.6,528.0 131.9,528.4 134.2,528.6 136.6,528.9 138.9,528.7 141.2,528.5 143.5,527.9 145.9,527.5 148.2,527.3 150.5,527.6 152.9,527.8 155.2,528.2 157.5,528.7 159.9,529.2 162.2,529.5 164.5,529.9 166.9,530.3 169.2,530.5 171.5,530.7 173.9,530.7 176.2,530.8 178.5,530.9 180.9,531.1 183.2,531.2 185.5,531.5 187.9,531.7 190.2,531.9 192.5,532.0 194.9,532.1 197.2,532.2 199.5,532.1 201.8,532.2 204.2,532.2 206.5,532.2 208.8,532.3 211.2,532.2 213.5,532.1 215.8,532.1 218.2,531.9 220.5,531.8 222.8,531.9 225.2,532.0 227.5,532.2 229.8,532.2 232.2,532.1 234.5,532.1 236.8,531.9 239.2,531.7 241.5,531.7 243.8,531.8 246.2,531.8 248.5,531.9 250.8,531.9 253.2,531.9 255.5,531.9 257.8,532.0 260.1,532.1 262.5,532.3 264.8,532.4 267.1,532.5 269.5,532.4 271.8,532.5 274.1,532.5 276.5,532.8 278.8,533.1 281.1,533.5 283.5,533.7 285.8,533.9 288.1,534.0 290.5,533.9 292.8,533.8 295.1,533.9 297.5,533.9 299.8,534.0 302.1,534.4 304.5,534.7 306.8,535.1 309.1,535.3 311.5,535.6 313.8,535.7 316.1,535.9 318.4,536.0 320.8,536.0 323.1,536.0 325.4,536.0 327.8,535.9 330.1,535.9 332.4,535.9 334.8,535.9 337.1,536.0 339.4,536.1 341.8,536.2 344.1,536.3 346.4,536.5 348.8,536.6 351.1,536.7 353.4,536.7 355.8,536.8 358.1,536.8 360.4,536.9 362.8,536.9 365.1,537.0 367.4,537.0 369.8,537.1 372.1,537.0 374.4,537.1 376.7,537.1 379.1,537.2 381.4,537.2 383.7,537.3 386.1,537.3 388.4,537.3 390.7,537.3 393.1,537.4 395.4,537.4 397.7,537.5 400.1,537.5 402.4,537.5 404.7,537.6 407.1,537.6 409.4,537.6 411.7,537.6 414.1,537.6 416.4,537.6 418.7,537.6 421.1,537.6 423.4,537.7 425.7,537.7 428.1,537.7 430.4,537.7 432.7,537.7 435.0,537.7 437.4,537.7 439.7,537.7 442.0,537.7 444.4,537.8" marker-end="url(#ar)"/>
<polyline points="52.6,537.0 54.9,537.0 57.3,537.0 59.6,536.9 61.9,536.9 64.3,536.8 66.6,536.8 68.9,536.7 71.3,536.6 73.6,536.4 75.9,536.2 78.3,536.0 80.6,535.9 82.9,535.8 85.2,535.8 87.6,535.8 89.9,535.7 92.2,535.7 94.6,535.7 96.9,535.6 99.2,535.5 101.6,535.5 103.9,535.6 106.2,535.5 108.6,535.6 110.9,535.5 113.2,535.4 115.6,535.1 117.9,534.7 120.2,534.4 122.6,534.1 124.9,533.9 127.2,533.8 129.6,533.8 131.9,533.6 134.2,533.5 136.6,533.2 138.9,532.8 141.2,532.6 143.5,532.4 145.9,532.3 148.2,532.3 150.5,532.4 152.9,532.4 155.2,532.4 157.5,532.3 159.9,532.2 162.2,532.0 164.5,532.2 166.9,532.3 169.2,532.4 171.5,532.8 173.9,533.0 176.2,533.1 178.5,533.3 180.9,533.4 183.2,533.5 185.5,533.7 187.9,533.9 190.2,534.1 192.5,534.3 194.9,534.4 197.2,534.4 199.5,534.5 201.8,534.5 204.2,534.5 206.5,534.3 208.8,534.2 211.2,534.1 213.5,533.8 215.8,533.6 218.2,533.5 220.5,533.1 222.8,532.8 225.2,532.6 227.5,532.1 229.8,531.7 232.2,531.5 234.5,531.3 236.8,531.3 239.2,531.4 241.5,531.4 243.8,531.5 246.2,531.5 248.5,531.5 250.8,531.5 253.2,531.6 255.5,531.8 257.8,532.0 260.1,532.2 262.5,532.5 264.8,532.6 267.1,532.7 269.5,532.8 271.8,532.9 274.1,533.1 276.5,533.0 278.8,533.1 281.1,533.3 283.5,533.4 285.8,533.5 288.1,533.8 290.5,534.0 292.8,534.0 295.1,534.2 297.5,534.3 299.8,534.4 302.1,534.4 304.5,534.4 306.8,534.3 309.1,534.3 311.5,534.4 313.8,534.4 316.1,534.4 318.4,534.6 320.8,534.6 323.1,534.7 325.4,534.7 327.8,534.9 330.1,534.9 332.4,534.8 334.8,534.7 337.1,534.7 339.4,534.6 341.8,534.6 344.1,534.8 346.4,534.9 348.8,535.0 351.1,535.1 353.4,535.2 355.8,535.2 358.1,535.2 360.4,535.2 362.8,535.2 365.1,535.1 367.4,535.1 369.8,535.2 372.1,535.3 374.4,535.4 376.7,535.6 379.1,535.7 381.4,535.8 383.7,535.7 386.1,535.5 388.4,535.3 390.7,535.1 393.1,534.8 395.4,534.7 397.7,534.7 400.1,534.8 402.4,534.9 404.7,535.0 407.1,535.1 409.4,535.0 411.7,534.9 414.1,534.7 416.4,534.5 418.7,534.4 421.1,534.3 423.4,534.2 425.7,534.1 428.1,534.2 430.4,534.3 432.7,534.6 435.0,534.9 437.4,535.2 439.7,535.5 442.0,535.7 444.4,535.9 446.7,536.0 449.0,536.1 451.4,536.1 453.7,536.2 456.0,536.3 458.4,536.4 460.7,536.3 463.0,536.3 465.4,536.3 467.7,536.2 470.0,536.2 472.4,536.3 474.7,536.3 477.0,536.2 479.4,536.2 481.7,536.2" marker-end="url(#ar)"/>
<polyline points="52.6,536.4 54.9,536.4 57.3,536.3 59.6,536.2 61.9,536.0 64.3,535.9 66.6,535.5 68.9,535.2 71.3,534.8 73.6,534.5 75.9,534.2 78.3,534.1 80.6,533.9 82.9,533.8 85.2,533.8 87.6,533.7 89.9,533.7 92.2,533.7 94.6,533.6 96.9,533.5 99.2,533.5 101.6,533.5 103.9,533.6 106.2,533.9 108.6,534.1 110.9,534.0 113.2,533.8 115.6,533.6 117.9,533.1 120.2,532.5 122.6,532.3 124.9,532.1 127.2,531.8 129.6,531.9 131.9,532.0 134.2,532.0 136.6,531.9 138.9,531.6 141.2,531.7 143.5,531.9 145.9,532.3 148.2,532.8 150.5,533.2 152.9,533.2 155.2,532.8 157.5,532.2 159.9,531.4 162.2,530.6 164.5,529.9 166.9,529.6 169.2,529.4 171.5,529.1 173.9,528.9 176.2,529.1 178.5,529.0 180.9,528.7 183.2,528.6 185.5,528.3 187.9,527.7 190.2,527.0 192.5,527.0 194.9,527.1 197.2,527.3 199.5,527.9 201.8,528.8 204.2,529.4 206.5,530.0 208.8,530.5 211.2,530.7 213.5,530.8 215.8,531.1 218.2,531.4 220.5,531.6 222.8,531.7 225.2,532.0 227.5,532.2 229.8,532.6 232.2,533.2 234.5,533.6 236.8,534.1 239.2,534.5 241.5,534.7 243.8,534.8 246.2,535.0 248.5,535.1 250.8,535.1 253.2,535.3 255.5,535.4 257.8,535.4 260.1,535.4 262.5,535.3 264.8,535.2 267.1,535.0 269.5,535.0 271.8,535.1 274.1,535.3 276.5,535.5 278.8,535.8 281.1,536.0 283.5,536.1 285.8,536.1 288.1,536.2 290.5,536.3 292.8,536.3 295.1,536.3 297.5,536.3 299.8,536.3 302.1,536.3 304.5,536.3 306.8,536.4 309.1,536.4 311.5,536.5 313.8,536.4 316.1,536.3 318.4,536.1 320.8,536.1 323.1,535.9 325.4,535.9 327.8,535.8 330.1,535.9 332.4,535.9 334.8,535.9 337.1,535.9 339.4,536.0 341.8,536.0 344.1,536.0 346.4,536.0 348.8,536.1 351.1,536.2 353.4,536.2 355.8,536.2 358.1,536.2 360.4,536.1 362.8,536.0 365.1,535.8 367.4,535.8 369.8,535.7 372.1,535.6 374.4,535.6 376.7,535.6 379.1,535.7 381.4,535.8 383.7,536.0 386.1,536.1 388.4,536.1 390.7,536.1 393.1,536.1 395.4,536.2 397.7,536.4 400.1,536.6 402.4,536.8 404.7,537.0 407.1,537.1 409.4,537.1 411.7,537.1 414.1,537.0 416.4,537.0 418.7,537.0 421.1,537.0 423.4,537.1 425.7,537.2 428.1,537.3 430.4,537.4 432.7,537.5 435.0,537.6 437.4,537.6 439.7,537.6 442.0,537.7 444.4,537.7 446.7,537.7 449.0,537.7 451.4,537.7 453.7,537.8 456.0,537.8 458.4,537.8 460.7,537.9 463.0,537.9 465.4,538.0 467.7,538.0 470.0,538.0 472.4,538.0 474.7,538.0 477.0,538.0" marker-end="url(#ar)"/>
<polyline points="52.6,536.3 54.9,536.1 57.3,535.9 59.6,535.5 61.9,535.0 64.3,534.5 66.6,533.8 68.9,533.1 71.3,532.5 73.6,532.0 75.9,531.7 78.3,531.6 80.6,531.5 82.9,531.6 85.2,531.7 87.6,531.8 89.9,532.1 92.2,532.4 94.6,532.6 96.9,532.9 99.2,533.1 101.6,533.1 103.9,533.4 106.2,533.7 108.6,533.6 110.9,533.6 113.2,533.7 115.6,533.6 117.9,533.4 120.2,533.1 122.6,532.9 124.9,532.8 127.2,532.9 129.6,533.1 131.9,533.5 134.2,533.9 136.6,534.3 138.9,534.6 141.2,534.7 143.5,534.8 145.9,534.9 148.2,534.9 150.5,534.8 152.9,534.9 155.2,535.0 157.5,535.1 159.9,535.3 162.2,535.5 164.5,535.6 166.9,535.6 169.2,535.6 171.5,535.6 173.9,535.5 176.2,535.4 178.5,535.3 180.9,535.2 183.2,535.2 185.5,535.1 187.9,535.2 190.2,535.3 192.5,535.3 194.9,535.3 197.2,535.3 199.5,535.3 201.8,535.3 204.2,535.4 206.5,535.6 208.8,535.7 211.2,535.8 213.5,535.8 215.8,535.8 218.2,535.8 220.5,535.9 222.8,536.0 225.2,536.1 227.5,536.1 229.8,536.1 232.2,536.1 234.5,536.2 236.8,536.3 239.2,536.4 241.5,536.5 243.8,536.5 246.2,536.4 248.5,536.3 250.8,536.1 253.2,536.0 255.5,535.8 257.8,535.7 260.1,535.7 262.5,535.6 264.8,535.5 267.1,535.4 269.5,535.3 271.8,535.1 274.1,535.1 276.5,535.1 278.8,535.1 281.1,535.1 283.5,535.2 285.8,535.1 288.1,534.9 290.5,534.9 292.8,534.8 295.1,534.7 297.5,534.8 299.8,534.7 302.1,534.4 304.5,534.1 306.8,533.8 309.1,533.6 311.5,533.6 313.8,533.7 316.1,533.7 318.4,533.7 320.8,533.6 323.1,533.3 325.4,533.3 327.8,533.3 330.1,533.1 332.4,532.7 334.8,532.4 337.1,531.8 339.4,531.3 341.8,530.9 344.1,530.7 346.4,530.4 348.8,529.9 351.1,529.1 353.4,528.3 355.8,527.2 358.1,526.4 360.4,526.0 362.8,525.9 365.1,525.9 367.4,526.4" marker-end="url(#ar)"/>
<polyline points="52.6,536.5 54.9,536.4 57.3,536.3 59.6,536.1 61.9,535.9 64.3,535.6 66.6,535.3 68.9,534.9 71.3,534.5 73.6,534.2 75.9,533.9 78.3,533.7 80.6,533.6 82.9,533.5 85.2,533.4 87.6,533.2 89.9,532.9 92.2,532.8 94.6,532.6 96.9,532.5 99.2,532.4 101.6,532.4 103.9,532.3 106.2,532.4 108.6,532.5 110.9,532.6 113.2,532.8 115.6,532.9 117.9,532.8 120.2,532.8 122.6,532.9 124.9,533.0 127.2,533.1 129.6,533.5 131.9,533.7 134.2,534.0 136.6,534.1 138.9,534.4 141.2,534.6 143.5,534.7 145.9,534.7 148.2,534.8 150.5,534.9 152.9,535.0 155.2,535.0 157.5,535.2 159.9,535.2 162.2,535.2 164.5,535.1 166.9,535.1 169.2,535.0 171.5,534.9 173.9,535.0 176.2,535.0 178.5,535.0 180.9,535.1 183.2,535.3 185.5,535.3 187.9,535.3 190.2,535.4 192.5,535.4 194.9,535.3 197.2,535.2 199.5,535.1 201.8,534.9 204.2,534.8 206.5,534.7 208.8,534.6 211.2,534.4 213.5,534.2 215.8,533.8 218.2,533.3 220.5,532.9 222.8,532.4 225.2,532.2 227.5,532.1 229.8,532.2 232.2,532.3 234.5,532.6 236.8,532.7 239.2,532.7 241.5,532.6 243.8,532.4 246.2,532.1 248.5,532.0 250.8,532.0 253.2,532.1 255.5,532.3 257.8,532.6 260.1,532.8 262.5,533.1 264.8,533.2 267.1,533.2 269.5,533.1 271.8,533.0 274.1,533.0 276.5,533.2 278.8,533.4 281.1,533.6 283.5,533.8 285.8,533.8 288.1,533.6 290.5,533.4 292.8,533.2 295.1,533.0 297.5,532.9 299.8,533.0 302.1,533.1 304.5,533.3 306.8,533.4 309.1,533.4 311.5,533.5 313.8,533.5 316.1,533.6 318.4,533.7 320.8,533.8 323.1,533.8 325.4,533.8 327.8,533.8 330.1,533.7 332.4,533.6 334.8,533.6 337.1,533.7 339.4,533.9 341.8,534.0 344.1,534.1 346.4,534.1 348.8,533.9 351.1,533.8 353.4,533.9 355.8,533.8 358.1,533.8 360.4,533.9 362.8,533.9 365.1,533.7 367.4,533.7 369.8,533.5 372.1,533.5 374.4,533.6 376.7,533.7 379.1,533.7 381.4,533.8 383.7,533.7 386.1,533.6 388.4,533.5 390.7,533.6 393.1,533.7 395.4,533.8 397.7,533.9 400.1,534.0 402.4,534.0 404.7,534.0 407.1,533.8 409.4,533.7 411.7,533.5 414.1,533.3 416.4,533.1 418.7,533.2 421.1,533.2 423.4,533.2 425.7,533.1 428.1,533.1 430.4,533.0 432.7,532.8 435.0,532.5 437.4,532.4 439.7,532.3 442.0,532.3 444.4,532.4 446.7,532.7 449.0,533.1 451.4,533.5 453.7,533.9 456.0,534.3 458.4,534.7 460.7,534.9 463.0,535.1 465.4,535.2 467.7,535.3 470.0,535.3 472.4,535.3" marker-end="url(#ar)"/>
<polyline points="52.6,536.0 54.9,535.8 57.3,535.6 59.6,535.2 61.9,534.8 64.3,534.5 66.6,534.2 68.9,534.1 71.3,533.8 73.6,533.6 75.9,533.5 78.3,533.2 80.6,533.1 82.9,533.0 85.2,533.0 87.6,533.0 89.9,533.0 92.2,533.1 94.6,533.2 96.9,533.2 99.2,533.3 101.6,533.4 103.9,533.2 106.2,532.9 108.6,532.8 110.9,532.7 113.2,532.7 115.6,532.8 117.9,532.9 120.2,533.1 122.6,533.2 124.9,533.5 127.2,533.8 129.6,534.3 131.9,534.6 134.2,534.6 136.6,534.5 138.9,534.4 141.2,534.2 143.5,534.1 145.9,534.2 148.2,534.3 150.5,534.2 152.9,534.3 155.2,534.3 157.5,534.3 159.9,534.3 162.2,534.4 164.5,534.5 166.9,534.7 169.2,534.9 171.5,535.0 173.9,534.9 176.2,534.8 178.5,534.5 180.9,534.1 183.2,533.9 185.5,533.6 187.9,533.5 190.2,533.6 192.5,533.5 194.9,533.6 197.2,533.8 199.5,533.8 201.8,533.7 204.2,533.5 206.5,533.3 208.8,533.0 211.2,532.7 213.5,532.3 215.8,532.1 218.2,532.0 220.5,532.1 222.8,532.3 225.2,532.6 227.5,533.1 229.8,533.5 232.2,533.6 234.5,533.7 236.8,533.8 239.2,533.7 241.5,533.6 243.8,533.6 246.2,533.7 248.5,533.7 250.8,534.0 253.2,534.2 255.5,534.2 257.8,534.5 260.1,534.7 262.5,534.9 264.8,535.2 267.1,535.6 269.5,535.7 271.8,535.9 274.1,535.9 276.5,536.0 278.8,536.0 281.1,536.1 283.5,536.2 285.8,536.3 288.1,536.4 290.5,536.6 292.8,536.7 295.1,536.9 297.5,537.0 299.8,537.1 302.1,537.2 304.5,537.2 306.8,537.3 309.1,537.3 311.5,537.3 313.8,537.4 316.1,537.4 318.4,537.5 320.8,537.5 323.1,537.5 325.4,537.5 327.8,537.5 330.1,537.5 332.4,537.5 334.8,537.5 337.1,537.5 339.4,537.5 341.8,537.5 344.1,537.5 346.4,537.6 348.8,537.6 351.1,537.7 353.4,537.7 355.8,537.8 358.1,537.8 360.4,537.8 362.8,537.9 365.1,537.9 367.4,537.9 369.8,537.9 372.1,537.9 374.4,537.9 376.7,537.9 379.1,537.9 381.4,537.9 383.7,537.9 386.1,537.9 388.4,538.0 390.7,538.0 393.1,538.0 395.4,538.1 397.7,538.1 400.1,538.1 402.4,538.1 404.7,538.1 407.1,538.1 409.4,538.1 411.7,538.1 414.1,538.1 416.4,538.1 418.7,538.1 421.1,538.2 423.4,538.2 425.7,538.2 428.1,538.2 430.4,538.2 432.7,538.2 435.0,538.2 437.4,538.2 439.7,538.2 442.0,538.2 444.4,538.2 446.7,538.2 449.0,538.2 451.4,538.2 453.7,538.2 456.0,538.2 458.4,538.2 460.7,538.2 463.0,538.2 465.4,538.2 467.7,538.2 470.0,538.2 472.4,538.2 474.7,538.2" marker-end="url(#ar)"/>
<polyline points="52.6,536.7 54.9,536.7 57.3,536.6 59.6,536.5 61.9,536.4 64.3,536.3 66.6,536.1 68.9,535.9 71.3,535.7 73.6,535.5 75.9,535.4 78.3,535.3 80.6,535.3 82.9,535.3 85.2,535.2 87.6,535.2 89.9,535.1 92.2,535.0 94.6,534.9 96.9,534.7 99.2,534.5 101.6,534.2 103.9,534.0 106.2,533.7 108.6,533.5 110.9,533.3 113.2,533.0 115.6,532.9 117.9,532.7 120.2,532.5 122.6,532.3 124.9,532.1 127.2,531.8 129.6,531.5 131.9,531.3 134.2,531.1 136.6,530.9 138.9,530.8 141.2,530.6 143.5,530.4 145.9,530.4 148.2,530.3 150.5,530.4 152.9,530.3 155.2,530.3 157.5,530.2 159.9,530.2 162.2,530.1 164.5,530.1 166.9,530.1 169.2,530.2 171.5,530.3 173.9,530.3 176.2,530.3 178.5,530.2 180.9,530.0 183.2,529.8 185.5,529.8 187.9,529.8 190.2,530.0 192.5,530.3 194.9,530.5 197.2,530.6 199.5,530.6 201.8,530.5 204.2,530.2 206.5,530.0 208.8,529.9 211.2,529.8 213.5,529.7 215.8,529.8 218.2,530.0 220.5,530.1 222.8,530.4 225.2,530.7 227.5,530.8 229.8,530.8 232.2,530.7 234.5,530.5 236.8,530.2 239.2,530.0 241.5,529.9 243.8,530.0 246.2,530.1 248.5,530.1 250.8,530.1 253.2,529.9 255.5,529.9 257.8,529.7 260.1,529.6 262.5,529.4 264.8,529.3 267.1,529.0 269.5,528.9 271.8,528.9 274.1,528.8 276.5,528.8 278.8,528.8 281.1,528.7 283.5,528.6 285.8,528.7 288.1,528.8 290.5,529.1 292.8,529.3 295.1,529.5 297.5,529.7 299.8,529.9 302.1,529.9 304.5,530.1 306.8,530.3 309.1,530.6 311.5,530.8 313.8,531.0 316.1,531.2 318.4,531.2 320.8,531.3 323.1,531.3 325.4,531.4 327.8,531.4 330.1,531.5 332.4,531.6 334.8,531.8 337.1,531.9 339.4,532.0 341.8,532.1 344.1,532.0 346.4,532.0 348.8,532.1 351.1,532.2 353.4,532.4 355.8,532.6 358.1,532.7 360.4,532.8 362.8,532.9 365.1,533.1 367.4,533.4 369.8,533.6 372.1,533.8 374.4,534.0 376.7,534.1 379.1,534.1 381.4,534.1 383.7,534.1 386.1,534.1 388.4,534.1 390.7,534.0 393.1,534.0 395.4,534.0 397.7,534.1 400.1,534.2 402.4,534.4 404.7,534.5 407.1,534.6 409.4,534.7 411.7,534.7 414.1,534.8 416.4,534.9 418.7,534.9 421.1,535.0 423.4,535.0 425.7,535.0 428.1,535.0 430.4,535.0 432.7,535.0 435.0,534.9 437.4,534.9 439.7,535.0 442.0,535.0 444.4,535.0 446.7,535.1 449.0,535.2 451.4,535.2 453.7,535.1 456.0,535.0 458.4,534.9 460.7,534.8 463.0,534.7 465.4,534.7 467.7,534.6 470.0,534.5 472.4,534.5 474.7,534.4 477.0,534.4 479.4,534.5 481.7,534.5" marker-end="url(#ar)"/>
<polyline points="52.6,536.6 54.9,536.6 57.3,536.4 59.6,536.1 61.9,535.7 64.3,535.3 66.6,534.8 68.9,534.5 71.3,534.3 73.6,534.2 75.9,534.1 78.3,534.0 80.6,534.0 82.9,534.0 85.2,534.2 87.6,534.3 89.9,534.4 92.2,534.3 94.6,534.3 96.9,534.3 99.2,534.3 101.6,534.3 103.9,534.3 106.2,534.1 108.6,533.9 110.9,533.7 113.2,533.7 115.6,533.6 117.9,533.5 120.2,533.3 122.6,533.2 124.9,532.9 127.2,532.6 129.6,532.3 131.9,532.0 134.2,531.7 136.6,531.5 138.9,531.4 141.2,531.2 143.5,531.2 145.9,531.0 148.2,530.6 150.5,530.4 152.9,530.3 155.2,529.9 157.5,529.7 159.9,529.5 162.2,529.2 164.5,528.6 166.9,528.0 169.2,527.7 171.5,527.5 173.9,527.2 176.2,527.1 178.5,526.9 180.9,526.2 183.2,525.7 185.5,525.4 187.9,525.1 190.2,525.1 192.5,525.2 194.9,524.9 197.2,524.6 199.5,524.7 201.8,525.0 204.2,525.2 206.5,525.5 208.8,525.5 211.2,525.3 213.5,525.1 215.8,524.9 218.2,525.0 220.5,525.3 222.8,525.3 225.2,524.7 227.5,524.1 229.8,523.6 232.2,522.9 234.5,523.0 236.8,523.6 239.2,524.2 241.5,524.4 243.8,524.8 246.2,525.1 248.5,525.6 250.8,526.1 253.2,526.8 255.5,527.7 257.8,528.2 260.1,528.6 262.5,528.8 264.8,529.0 267.1,529.1 269.5,529.5 271.8,529.8 274.1,530.2 276.5,530.4 278.8,530.5 281.1,530.4 283.5,530.5 285.8,530.5 288.1,530.8 290.5,531.0 292.8,531.1 295.1,531.2 297.5,531.2 299.8,530.8 302.1,530.5 304.5,530.4 306.8,530.3 309.1,530.3 311.5,530.7 313.8,531.0 316.1,531.2 318.4,531.4 320.8,531.4 323.1,531.4 325.4,531.6 327.8,531.7 330.1,531.8 332.4,532.0 334.8,532.0 337.1,531.8 339.4,531.8 341.8,531.8 344.1,532.1 346.4,532.4 348.8,532.6 351.1,532.7 353.4,532.8 355.8,532.7 358.1,532.6 360.4,532.7 362.8,532.7 365.1,532.8 367.4,532.8 369.8,532.7 372.1,532.6 374.4,532.6 376.7,532.5 379.1,532.5 381.4,532.5 383.7,532.7 386.1,532.8 388.4,532.7 390.7,532.7 393.1,532.8 395.4,532.8 397.7,532.8 400.1,532.9 402.4,533.0 404.7,533.0 407.1,532.9 409.4,533.1 411.7,533.3 414.1,533.6 416.4,533.8 418.7,534.0 421.1,534.1 423.4,534.1 425.7,534.1 428.1,534.0 430.4,534.1 432.7,534.0 435.0,534.2 437.4,534.3 439.7,534.6 442.0,534.8 444.4,535.0 446.7,535.2 449.0,535.3 451.4,535.4 453.7,535.5 456.0,535.7 458.4,535.7 460.7,535.9 463.0,536.0 465.4,536.2 467.7,536.3 470.0,536.4 472.4,536.5 474.7,536.5 477.0,536.6 479.4,536.5 481.7,536.5 484.0,536.5 486.4,536.5 488.7,536.4 491.0,536.5 493.3,536.5" marker-end="url(#ar)"/>
<polyline points="52.6,536.6 54.9,536.5 57.3,536.4 59.6,536.1 61.9,535.9 64.3,535.6 66.6,535.4 68.9,535.0 71.3,534.8 73.6,534.6 75.9,534.5 78.3,534.4 80.6,534.3 82.9,534.1 85.2,533.8 87.6,533.4 89.9,532.7 92.2,531.8 94.6,531.0 96.9,529.8 99.2,528.5 101.6,527.0 103.9,525.6 106.2,523.4 108.6,522.4 110.9,521.4 113.2,521.6 115.6,522.6 117.9,523.9 120.2,524.8 122.6,526.1 124.9,526.7 127.2,526.8 129.6,526.9 131.9,526.8 134.2,526.6 136.6,526.7 138.9,526.9 141.2,527.8 143.5,528.6 145.9,529.3 148.2,529.9 150.5,530.4 152.9,530.2 155.2,530.4 157.5,530.7 159.9,530.5 162.2,530.6 164.5,530.6 166.9,530.2 169.2,529.7 171.5,529.5 173.9,528.8 176.2,528.5 178.5,528.3 180.9,528.4 183.2,528.8 185.5,529.5 187.9,529.9 190.2,529.8 192.5,529.2 194.9,528.7 197.2,528.4 199.5,528.3 201.8,528.3 204.2,528.6 206.5,528.1 208.8,527.3 211.2,525.9 213.5,525.0 215.8,524.0 218.2,523.3 220.5,522.4 222.8,522.7 225.2,522.8 227.5,522.7 229.8,522.7 232.2,523.2 234.5,523.0 236.8,522.7 239.2,522.0 241.5,521.1 243.8,520.1 246.2,518.9 248.5,518.6 250.8,518.8 253.2,519.7 255.5,520.1 257.8,520.9 260.1,520.5 262.5,519.4 264.8,517.6 267.1,516.8 269.5,515.8 271.8,515.3 274.1,515.7 276.5,516.6 278.8,517.4 281.1,518.1 283.5,518.5 285.8,518.9 288.1,519.0 290.5,518.9 292.8,518.5 295.1,518.2 297.5,517.7 299.8,517.2 302.1,516.9 304.5,517.3 306.8,517.1 309.1,517.4 311.5,518.1 313.8,518.4 316.1,517.6 318.4,517.6 320.8,517.6 323.1,517.5 325.4,517.9 327.8,518.8 330.1,519.3 332.4,520.1 334.8,520.9 337.1,521.3 339.4,521.4 341.8,521.8" marker-end="url(#ar)"/>
<polyline points="52.6,536.6 54.9,536.5 57.3,536.4 59.6,536.3 61.9,536.1 64.3,535.7 66.6,535.3 68.9,534.8 71.3,534.1 73.6,533.5 75.9,533.3 78.3,533.1 80.6,533.0 82.9,533.3 85.2,533.8 87.6,534.2 89.9,534.6 92.2,534.9 94.6,535.2 96.9,535.4 99.2,535.5 101.6,535.7 103.9,535.8 106.2,535.9 108.6,536.0 110.9,536.0 113.2,536.0 115.6,536.1 117.9,536.2 120.2,536.4 122.6,536.5 124.9,536.6 127.2,536.8 129.6,536.9 131.9,537.0 134.2,537.1 136.6,537.1 138.9,537.2 141.2,537.2 143.5,537.2 145.9,537.2 148.2,537.2 150.5,537.2 152.9,537.2 155.2,537.2 157.5,537.2 159.9,537.1 162.2,537.1 164.5,537.1 166.9,537.1 169.2,537.1 171.5,537.1 173.9,537.2 176.2,537.2 178.5,537.2 180.9,537.3 183.2,537.3 185.5,537.3 187.9,537.3 190.2,537.4 192.5,537.4 194.9,537.3 197.2,537.3 199.5,537.3 201.8,537.2 204.2,537.2 206.5,537.2 208.8,537.2 211.2,537.2 213.5,537.2 215.8,537.2 218.2,537.2 220.5,537.1 222.8,537.0 225.2,537.0 227.5,536.9 229.8,536.8 232.2,536.8 234.5,536.7 236.8,536.7 239.2,536.6 241.5,536.5 243.8,536.4 246.2,536.3 248.5,536.3 250.8,536.4 253.2,536.4 255.5,536.5 257.8,536.6 260.1,536.7 262.5,536.8 264.8,536.8 267.1,536.9 269.5,536.9 271.8,537.0 274.1,537.0 276.5,537.0 278.8,537.1 281.1,537.1 283.5,537.1 285.8,537.1 288.1,537.1 290.5,537.2 292.8,537.3 295.1,537.3 297.5,537.4 299.8,537.5 302.1,537.5 304.5,537.5 306.8,537.5 309.1,537.6 311.5,537.6 313.8,537.6 316.1,537.5 318.4,537.5 320.8,537.5 323.1,537.5 325.4,537.5 327.8,537.5 330.1,537.4 332.4,537.4 334.8,537.3 337.1,537.3 339.4,537.2 341.8,537.1 344.1,537.0 346.4,537.0 348.8,537.0 351.1,537.0 353.4,537.0 355.8,537.0 358.1,537.0 360.4,537.0 362.8,537.0 365.1,537.0 367.4,537.0 369.8,537.1 372.1,537.1 374.4,537.1 376.7,537.1 379.1,537.1 381.4,537.1 383.7,537.2 386.1,537.2 388.4,537.2 390.7,537.3 393.1,537.3 395.4,537.3 397.7,537.3 400.1,537.4 402.4,537.3 404.7,537.3 407.1,537.3 409.4,537.3 411.7,537.3 414.1,537.3 416.4,537.4 418.7,537.4 421.1,537.5 423.4,537.5 425.7,537.5 428.1,537.5 430.4,537.5 432.7,537.5 435.0,537.5 437.4,537.6 439.7,537.5 442.0,537.5 444.4,537.5 446.7,537.5 449.0,537.5 451.4,537.4 453.7,537.4 456.0,537.4 458.4,537.3 460.7,537.3 463.0,537.2 465.4,537.2 467.7,537.3 470.0,537.3 472.4,537.3 474.7,537.3 477.0,537.3 479.4,537.3 481.7,537.3" marker-end="url(#ar)"/>
<polyline points="52.6,536.9 54.9,536.9 57.3,536.8 59.6,536.7 61.9,536.6 64.3,536.5 66.6,536.3 68.9,536.1 71.3,536.1 73.6,536.0 75.9,535.9 78.3,536.0 80.6,535.9 82.9,535.9 85.2,535.8 87.6,535.7 89.9,535.6 92.2,535.4 94.6,535.1 96.9,534.7 99.2,534.3 101.6,533.8 103.9,533.4 106.2,532.9 108.6,532.5 110.9,532.0 113.2,531.6 115.6,531.1 117.9,530.5 120.2,529.9 122.6,529.2 124.9,528.6 127.2,528.2 129.6,528.0 131.9,528.0 134.2,528.7 136.6,529.3 138.9,529.7 141.2,530.1 143.5,530.3 145.9,530.2 148.2,530.2 150.5,530.1 152.9,530.3 155.2,530.6 157.5,531.0 159.9,531.3 162.2,531.8 164.5,532.1 166.9,532.4 169.2,532.7 171.5,532.9 173.9,533.1 176.2,533.2 178.5,533.2 180.9,533.3 183.2,533.3 185.5,533.4 187.9,533.5 190.2,533.5 192.5,533.7 194.9,533.7 197.2,533.8 199.5,534.0 201.8,534.1 204.2,534.3 206.5,534.5 208.8,534.6 211.2,534.8 213.5,535.0 215.8,535.2 218.2,535.3 220.5,535.5 222.8,535.5 225.2,535.6 227.5,535.7 229.8,535.7 232.2,535.8 234.5,535.8 236.8,535.8 239.2,535.8 241.5,535.9 243.8,535.9 246.2,536.0 248.5,536.1 250.8,536.3 253.2,536.5 255.5,536.6 257.8,536.7 260.1,536.8 262.5,536.9 264.8,536.9 267.1,536.9 269.5,536.9 271.8,536.9 274.1,536.9 276.5,536.9 278.8,536.8 281.1,536.8 283.5,536.8 285.8,536.8 288.1,536.7 290.5,536.7 292.8,536.7 295.1,536.7 297.5,536.7 299.8,536.7 302.1,536.7 304.5,536.7 306.8,536.7 309.1,536.7 311.5,536.7 313.8,536.7 316.1,536.7 318.4,536.6 320.8,536.6 323.1,536.5 325.4,536.5 327.8,536.5 330.1,536.6 332.4,536.7 334.8,536.7 337.1,536.7 339.4,536.7 341.8,536.7 344.1,536.6 346.4,536.6 348.8,536.7 351.1,536.7 353.4,536.7 355.8,536.7 358.1,536.7 360.4,536.7 362.8,536.7 365.1,536.8 367.4,536.8 369.8,536.8 372.1,536.9 374.4,536.9 376.7,537.0 379.1,537.0 381.4,537.0 383.7,537.1 386.1,537.1 388.4,537.1 390.7,537.1 393.1,537.2 395.4,537.2 397.7,537.2 400.1,537.2 402.4,537.3 404.7,537.3 407.1,537.4 409.4,537.4 411.7,537.4 414.1,537.4 416.4,537.4 418.7,537.4 421.1,537.4 423.4,537.4 425.7,537.5 428.1,537.5 430.4,537.6 432.7,537.6 435.0,537.6 437.4,537.6 439.7,537.7 442.0,537.7 444.4,537.7 446.7,537.7 449.0,537.7 451.4,537.7 453.7,537.7 456.0,537.7 458.4,537.7 460.7,537.7 463.0,537.7 465.4,537.7 467.7,537.7" marker-end="url(#ar)"/>
<polyline points="52.6,536.3 54.9,536.1 57.3,536.0 59.6,535.7 61.9,535.5 64.3,535.3 66.6,535.1 68.9,534.8 71.3,534.7 73.6,534.4 75.9,534.2 78.3,534.1 80.6,534.1 82.9,533.8 85.2,533.7 87.6,533.7 89.9,533.8 92.2,533.9 94.6,534.1 96.9,534.2 99.2,534.2 101.6,534.1 103.9,534.0 106.2,533.8 108.6,533.8 110.9,534.0 113.2,534.1 115.6,534.2 117.9,534.3 120.2,534.4 122.6,534.4 124.9,534.4 127.2,534.4 129.6,534.4 131.9,534.6 134.2,534.8 136.6,535.0 138.9,535.3 141.2,535.5 143.5,535.6 145.9,535.8 148.2,535.9 150.5,536.0 152.9,536.0 155.2,536.0 157.5,535.8 159.9,535.8 162.2,535.7 164.5,535.7 166.9,535.7 169.2,535.8 171.5,535.8 173.9,535.8 176.2,535.7 178.5,535.8 180.9,535.8 183.2,535.9 185.5,536.0 187.9,536.1 190.2,536.1 192.5,536.1 194.9,536.1 197.2,536.0 199.5,536.0 201.8,535.9 204.2,536.0 206.5,536.0 208.8,536.1 211.2,536.2 213.5,536.3 215.8,536.4 218.2,536.4 220.5,536.4 222.8,536.5 225.2,536.5 227.5,536.5 229.8,536.5 232.2,536.5 234.5,536.5 236.8,536.4 239.2,536.4 241.5,536.4 243.8,536.3 246.2,536.2 248.5,536.2 250.8,536.2 253.2,536.2 255.5,536.3 257.8,536.3 260.1,536.2 262.5,536.2 264.8,536.3 267.1,536.3 269.5,536.4 271.8,536.4 274.1,536.2 276.5,536.0 278.8,535.9 281.1,535.7 283.5,535.7 285.8,535.8 288.1,535.9 290.5,536.0 292.8,536.1 295.1,536.1 297.5,536.1 299.8,536.1 302.1,536.0 304.5,536.0 306.8,536.0 309.1,536.1 311.5,536.1 313.8,536.1 316.1,536.2 318.4,536.1 320.8,536.0 323.1,535.9 325.4,535.9 327.8,535.9 330.1,535.9 332.4,536.0 334.8,536.2 337.1,536.2 339.4,536.3 341.8,536.4 344.1,536.5 346.4,536.7 348.8,536.9 351.1,537.0 353.4,537.1 355.8,537.3 358.1,537.3 360.4,537.3 362.8,537.4 365.1,537.4 367.4,537.4 369.8,537.4 372.1,537.4 374.4,537.4 376.7,537.5 379.1,537.5 381.4,537.6 383.7,537.6 386.1,537.7 388.4,537.7 390.7,537.8 393.1,537.9 395.4,537.9 397.7,537.9 400.1,537.9 402.4,537.9 404.7,537.9 407.1,537.9 409.4,537.9 411.7,537.9 414.1,537.9 416.4,537.9 418.7,537.9 421.1,537.9 423.4,538.0 425.7,538.0 428.1,538.0 430.4,538.0 432.7,538.0 435.0,538.0 437.4,538.0 439.7,538.0 442.0,538.0 444.4,538.0 446.7,538.0 449.0,538.0 451.4,538.1 453.7,538.1 456.0,538.1 458.4,538.1 460.7,538.1 463.0,538.1" marker-end="url(#ar)"/>
<polyline points="52.6,536.7 54.9,536.6 57.3,536.5 59.6,536.4 61.9,536.1 64.3,535.8 66.6,535.4 68.9,535.1 71.3,534.8 73.6,534.4 75.9,534.2 78.3,534.0 80.6,533.6 82.9,533.1 85.2,532.6 87.6,531.8 89.9,530.8 92.2,529.6 94.6,528.3 96.9,527.3 99.2,526.1 101.6,524.9 103.9,523.7 106.2,523.0 108.6,521.9 110.9,521.8 113.2,522.3 115.6,522.9 117.9,523.1 120.2,523.5 122.6,523.6 124.9,523.7 127.2,523.8 129.6,524.2 131.9,524.9 134.2,525.5 136.6,525.8 138.9,526.2 141.2,527.1 143.5,527.8 145.9,528.5 148.2,528.9 150.5,529.0 152.9,528.8 155.2,528.7 157.5,528.4 159.9,528.5 162.2,528.8 164.5,528.9 166.9,528.8 169.2,528.7 171.5,528.2 173.9,527.6 176.2,526.8 178.5,526.3 180.9,526.1 183.2,526.5 185.5,527.0 187.9,527.6 190.2,528.1 192.5,528.3 194.9,528.2 197.2,528.0 199.5,528.0 201.8,527.9 204.2,528.4 206.5,529.1 208.8,529.7 211.2,530.2 213.5,530.5 215.8,530.6 218.2,530.7 220.5,531.0 222.8,531.2 225.2,531.4 227.5,531.8 229.8,531.9 232.2,532.1 234.5,532.3 236.8,532.5 239.2,532.6 241.5,532.6 243.8,532.5 246.2,532.1 248.5,531.7 250.8,531.2 253.2,530.7 255.5,530.4 257.8,530.3 260.1,530.2 262.5,530.2 264.8,529.9 267.1,529.7 269.5,529.3 271.8,529.0 274.1,528.8 276.5,529.0 278.8,529.1 281.1,529.1 283.5,529.1 285.8,529.0 288.1,528.9 290.5,528.6 292.8,528.4 295.1,528.1 297.5,527.9 299.8,527.9 302.1,528.0 304.5,528.3 306.8,528.9 309.1,529.3 311.5,529.7 313.8,530.2 316.1,530.4 318.4,530.7 320.8,531.0 323.1,531.2 325.4,531.2 327.8,531.4 330.1,531.5 332.4,531.6 334.8,531.7 337.1,531.9 339.4,532.2 341.8,532.3 344.1,532.4 346.4,532.5 348.8,532.6 351.1,532.6 353.4,532.8 355.8,532.8 358.1,532.8 360.4,532.8 362.8,532.9 365.1,532.9 367.4,532.9 369.8,532.7 372.1,532.5 374.4,532.1 376.7,531.8 379.1,531.4 381.4,531.2 383.7,530.9 386.1,530.5 388.4,530.2 390.7,530.0 393.1,529.8 395.4,529.6 397.7,529.6" marker-end="url(#ar)"/>
<polyline points="52.6,536.6 54.9,536.5 57.3,536.5 59.6,536.3 61.9,536.3 64.3,536.2 66.6,536.1 68.9,535.9 71.3,535.8 73.6,535.6 75.9,535.4 78.3,535.2 80.6,535.0 82.9,534.9 85.2,534.7 87.6,534.5 89.9,534.2 92.2,534.1 94.6,534.0 96.9,533.9 99.2,533.8 101.6,533.7 103.9,533.3 106.2,532.6 108.6,531.8 110.9,530.6 113.2,529.5 115.6,528.2 117.9,527.1 120.2,526.1 122.6,525.5 124.9,524.7 127.2,524.0 129.6,523.2 131.9,522.6 134.2,521.5 136.6,520.0 138.9,518.6 141.2,517.7 143.5,516.9 145.9,516.6 148.2,517.0 150.5,517.9 152.9,518.4 155.2,518.8 157.5,519.0 159.9,518.8 162.2,518.4 164.5,518.2 166.9,517.8 169.2,517.4 171.5,517.2 173.9,516.7 176.2,516.5 178.5,515.5 180.9,515.1 183.2,514.8 185.5,514.1 187.9,513.0 190.2,512.6 192.5,511.8 194.9,510.9 197.2,510.7 199.5,510.1 201.8,509.9 204.2,510.1 206.5,510.1 208.8,509.9 211.2,510.5 213.5,511.1 215.8,511.7 218.2,512.3 220.5,513.2 222.8,513.4 225.2,513.3 227.5,513.6 229.8,514.1 232.2,514.6 234.5,515.6 236.8,515.7 239.2,515.5 241.5,515.1 243.8,514.8 246.2,514.7 248.5,515.7 250.8,517.4 253.2,519.1 255.5,521.0 257.8,522.9 260.1,524.6 262.5,526.2 264.8,527.3 267.1,527.9 269.5,528.4 271.8,528.4 274.1,528.1 276.5,528.4 278.8,528.7 281.1,529.1 283.5,529.9 285.8,530.7 288.1,531.1 290.5,531.4 292.8,531.7 295.1,532.0 297.5,532.3 299.8,532.8 302.1,533.3 304.5,533.6 306.8,533.8 309.1,534.0 311.5,534.2 313.8,534.4 316.1,534.7 318.4,534.9 320.8,535.0 323.1,535.1 325.4,535.3 327.8,535.4 330.1,535.4 332.4,535.5 334.8,535.7 337.1,535.7 339.4,535.7 341.8,535.7 344.1,535.6 346.4,535.5 348.8,535.4 351.1,535.4 353.4,535.5 355.8,535.5 358.1,535.4 360.4,535.3 362.8,535.3 365.1,535.1 367.4,535.0 369.8,535.0 372.1,535.1 374.4,535.1 376.7,535.2 379.1,535.3 381.4,535.3 383.7,535.4 386.1,535.3 388.4,535.4 390.7,535.4 393.1,535.4 395.4,535.4 397.7,535.4 400.1,535.5 402.4,535.6 404.7,535.7 407.1,535.7 409.4,535.7 411.7,535.7 414.1,535.6 416.4,535.6 418.7,535.5 421.1,535.4 423.4,535.3 425.7,535.2 428.1,535.1 430.4,535.1 432.7,535.0 435.0,534.9 437.4,534.8 439.7,534.6 442.0,534.6 444.4,534.4 446.7,534.3 449.0,534.1 451.4,533.9 453.7,533.9 456.0,533.7 458.4,533.6 460.7,533.6 463.0,533.4 465.4,533.1 467.7,532.9 470.0,532.8 472.4,532.6 474.7,532.4 477.0,532.3 479.4,532.0 481.7,531.8 484.0,531.5 486.4,531.4 488.7,531.3" marker-end="url(#ar)"/>
<polyline points="52.6,536.6 54.9,536.6 57.3,536.5 59.6,536.4 61.9,536.3 64.3,536.2 66.6,536.1 68.9,536.1 71.3,536.0 73.6,535.9 75.9,535.8 78.3,535.7 80.6,535.7 82.9,535.7 85.2,535.6 87.6,535.6 89.9,535.4 92.2,535.2 94.6,534.9 96.9,534.7 99.2,534.7 101.6,534.8 103.9,534.8 106.2,534.9 108.6,534.9 110.9,534.8 113.2,534.7 115.6,534.6 117.9,534.5 120.2,534.5 122.6,534.5 124.9,534.5 127.2,534.4 129.6,534.3 131.9,534.3 134.2,534.2 136.6,534.0 138.9,534.0 141.2,533.9 143.5,533.8 145.9,533.6 148.2,533.6 150.5,533.5 152.9,533.6 155.2,533.6 157.5,533.7 159.9,533.8 162.2,533.7 164.5,533.9 166.9,534.1 169.2,534.3 171.5,534.6 173.9,534.7 176.2,534.7 178.5,534.6 180.9,534.6 183.2,534.7 185.5,534.7 187.9,534.7 190.2,534.6 192.5,534.5 194.9,534.5 197.2,534.6 199.5,534.8 201.8,534.9 204.2,535.0 206.5,535.0 208.8,534.9 211.2,534.8 213.5,534.6 215.8,534.6 218.2,534.6 220.5,534.5 222.8,534.5 225.2,534.5 227.5,534.6 229.8,534.7 232.2,534.8 234.5,534.8 236.8,535.0 239.2,535.1 241.5,535.2 243.8,535.2 246.2,535.2 248.5,535.1 250.8,534.9 253.2,534.7 255.5,534.5 257.8,534.4 260.1,534.3 262.5,534.2 264.8,534.2 267.1,534.2 269.5,534.4 271.8,534.6 274.1,534.8 276.5,535.0 278.8,535.1 281.1,535.2 283.5,535.2 285.8,535.2 288.1,535.2 290.5,535.3 292.8,535.4 295.1,535.5 297.5,535.8 299.8,536.0 302.1,536.0 304.5,536.0 306.8,536.0 309.1,535.9 311.5,535.8 313.8,535.8 316.1,535.7 318.4,535.6 320.8,535.6 323.1,535.7 325.4,535.9 327.8,536.0 330.1,536.0 332.4,536.0 334.8,536.0 337.1,535.9 339.4,535.8 341.8,535.9 344.1,536.0 346.4,536.1 348.8,536.2 351.1,536.4 353.4,536.5 355.8,536.6 358.1,536.6 360.4,536.6 362.8,536.6 365.1,536.7 367.4,536.7 369.8,536.8 372.1,536.9 374.4,537.0 376.7,537.0 379.1,537.1 381.4,537.1 383.7,537.2 386.1,537.2 388.4,537.3 390.7,537.3 393.1,537.4 395.4,537.4 397.7,537.5 400.1,537.5 402.4,537.5 404.7,537.5 407.1,537.5 409.4,537.5 411.7,537.5 414.1,537.5 416.4,537.5 418.7,537.5 421.1,537.5 423.4,537.5 425.7,537.5 428.1,537.5 430.4,537.5 432.7,537.4 435.0,537.4 437.4,537.4 439.7,537.3 442.0,537.3 444.4,537.3 446.7,537.3 449.0,537.3 451.4,537.2" marker-end="url(#ar)"/>
<polyline points="52.6,536.3 54.9,536.3 57.3,536.2 59.6,536.1 61.9,536.0 64.3,535.8 66.6,535.6 68.9,535.3 71.3,535.1 73.6,535.0 75.9,534.9 78.3,535.1 80.6,535.1 82.9,535.2 85.2,535.3 87.6,535.4 89.9,535.5 92.2,535.6 94.6,535.7 96.9,535.8 99.2,535.8 101.6,535.9 103.9,535.9 106.2,536.0 108.6,536.0 110.9,536.1 113.2,536.1 115.6,536.3 117.9,536.5 120.2,536.6 122.6,536.7 124.9,536.7 127.2,536.7 129.6,536.7 131.9,536.6 134.2,536.6 136.6,536.6 138.9,536.6 141.2,536.6 143.5,536.6 145.9,536.6 148.2,536.7 150.5,536.8 152.9,536.9 155.2,537.0 157.5,537.0 159.9,537.0 162.2,536.9 164.5,536.8 166.9,536.7 169.2,536.5 171.5,536.4 173.9,536.4 176.2,536.3 178.5,536.3 180.9,536.4 183.2,536.5 185.5,536.5 187.9,536.4 190.2,536.3 192.5,536.3 194.9,536.3 197.2,536.4 199.5,536.6 201.8,536.8 204.2,536.9 206.5,537.0 208.8,537.1 211.2,537.2 213.5,537.2 215.8,537.3 218.2,537.4 220.5,537.4 222.8,537.4 225.2,537.5 227.5,537.5 229.8,537.5 232.2,537.6 234.5,537.6 236.8,537.6 239.2,537.6 241.5,537.7 243.8,537.6 246.2,537.6 248.5,537.6 250.8,537.6 253.2,537.5 255.5,537.5 257.8,537.5 260.1,537.5 262.5,537.6 264.8,537.6 267.1,537.7 269.5,537.7 271.8,537.7 274.1,537.7 276.5,537.6 278.8,537.6 281.1,537.5 283.5,537.5 285.8,537.5 288.1,537.4 290.5,537.4 292.8,537.4 295.1,537.4 297.5,537.4 299.8,537.4 302.1,537.4 304.5,537.4 306.8,537.4 309.1,537.5 311.5,537.5 313.8,537.6 316.1,537.6 318.4,537.7 320.8,537.7 323.1,537.8 325.4,537.8 327.8,537.8 330.1,537.9 332.4,537.9 334.8,537.9 337.1,538.0 339.4,538.0 341.8,538.0 344.1,538.0 346.4,538.0 348.8,538.0 351.1,538.0 353.4,537.9 355.8,537.9 358.1,537.9 360.4,537.9 362.8,537.9 365.1,537.9 367.4,537.8 369.8,537.8 372.1,537.8 374.4,537.8 376.7,537.8 379.1,537.7 381.4,537.7 383.7,537.7 386.1,537.6 388.4,537.6 390.7,537.6 393.1,537.6 395.4,537.5 397.7,537.5 400.1,537.5 402.4,537.5 404.7,537.4 407.1,537.4 409.4,537.4 411.7,537.4 414.1,537.5 416.4,537.5 418.7,537.5 421.1,537.6 423.4,537.6 425.7,537.6 428.1,537.6" marker-end="url(#ar)"/>
<polyline points="52.6,536.5 54.9,536.4 57.3,536.4 59.6,536.1 61.9,535.8 64.3,535.4 66.6,535.0 68.9,534.4 71.3,533.9 73.6,533.3 75.9,532.6 78.3,531.9 80.6,531.1 82.9,530.4 85.2,529.7 87.6,529.2 89.9,529.0 92.2,529.0 94.6,529.1 96.9,529.5 99.2,530.0 101.6,530.3 103.9,530.4 106.2,530.7 108.6,530.9 110.9,531.2 113.2,531.4 115.6,531.7 117.9,532.0 120.2,532.2 122.6,532.4 124.9,532.5 127.2,532.4 129.6,532.1 131.9,532.0 134.2,531.8 136.6,531.5 138.9,531.2 141.2,530.9 143.5,530.3 145.9,529.7 148.2,529.4 150.5,529.1 152.9,528.9 155.2,528.7 157.5,528.3 159.9,527.6 162.2,526.7 164.5,525.9 166.9,525.6 169.2,525.5 171.5,525.9 173.9,526.7 176.2,527.6 178.5,528.1 180.9,528.5 183.2,528.4 185.5,528.4 187.9,528.4 190.2,528.6 192.5,528.9 194.9,529.2 197.2,529.6 199.5,529.9 201.8,530.1 204.2,530.4 206.5,530.9 208.8,531.2 211.2,531.3 213.5,531.3 215.8,531.1 218.2,530.8 220.5,530.6 222.8,530.8 225.2,531.0 227.5,531.2 229.8,531.4 232.2,531.4 234.5,531.1 236.8,531.0 239.2,531.0 241.5,531.1 243.8,531.4 246.2,531.9 248.5,532.3 250.8,532.7 253.2,533.0 255.5,533.3 257.8,533.6 260.1,534.0 262.5,534.2 264.8,534.3 267.1,534.5 269.5,534.6 271.8,534.8 274.1,535.0 276.5,535.3 278.8,535.5 281.1,535.7 283.5,535.8 285.8,535.9 288.1,535.9 290.5,536.0 292.8,536.0 295.1,536.0 297.5,536.0 299.8,536.0 302.1,536.0 304.5,536.1 306.8,536.1 309.1,536.3 311.5,536.5 313.8,536.6 316.1,536.8 318.4,536.9 320.8,536.9 323.1,537.0 325.4,537.1 327.8,537.1 330.1,537.1 332.4,537.1 334.8,537.1 337.1,537.1 339.4,537.1 341.8,537.1 344.1,537.1 346.4,537.0 348.8,537.0 351.1,536.9 353.4,536.8 355.8,536.7 358.1,536.6 360.4,536.6 362.8,536.6 365.1,536.6 367.4,536.5 369.8,536.5 372.1,536.4 374.4,536.4 376.7,536.4 379.1,536.4 381.4,536.5 383.7,536.5 386.1,536.5 388.4,536.6 390.7,536.6 393.1,536.6 395.4,536.7 397.7,536.7 400.1,536.7 402.4,536.7 404.7,536.6 407.1,536.6 409.4,536.6 411.7,536.6 414.1,536.7 416.4,536.7 418.7,536.7 421.1,536.7 423.4,536.7 425.7,536.7 428.1,536.7 430.4,536.6 432.7,536.7 435.0,536.7 437.4,536.7 439.7,536.8 442.0,536.8 444.4,536.8 446.7,536.8 449.0,536.8 451.4,536.9 453.7,537.0 456.0,537.1 458.4,537.2 460.7,537.4 463.0,537.5 465.4,537.5 467.7,537.6 470.0,537.7 472.4,537.7" marker-end="url(#ar)"/>
<polyline points="52.6,536.2 54.9,536.0 57.3,535.9 59.6,535.4 61.9,535.1 64.3,534.8 66.6,534.4 68.9,533.7 71.3,533.1 73.6,532.4 75.9,531.6 78.3,530.9 80.6,530.6 82.9,530.0 85.2,529.5 87.6,528.6 89.9,527.7 92.2,526.4 94.6,524.4 96.9,521.8 99.2,519.9 101.6,518.3 103.9,516.9 106.2,517.7 108.6,518.4 110.9,518.6 113.2,518.7 115.6,519.2 117.9,518.2 120.2,517.4 122.6,517.0 124.9,517.1 127.2,516.7 129.6,517.3 131.9,518.3 134.2,519.3 136.6,520.4 138.9,521.4 141.2,522.3 143.5,522.8 145.9,523.3 148.2,522.9 150.5,522.6 152.9,521.9 155.2,521.5 157.5,520.9 159.9,520.4 162.2,519.1 164.5,517.2 166.9,514.2 169.2,509.8 171.5,504.8 173.9,501.6 176.2,500.4 178.5,501.6 180.9,503.5 183.2,505.8 185.5,506.8 187.9,508.5 190.2,509.0 192.5,510.6 194.9,512.7 197.2,514.4 199.5,516.5 201.8,518.9 204.2,520.4 206.5,521.3 208.8,522.8 211.2,524.3 213.5,525.8 215.8,527.2 218.2,528.4 220.5,529.1 222.8,529.5 225.2,529.3 227.5,529.0 229.8,528.8 232.2,529.0 234.5,528.8 236.8,528.8 239.2,528.5 241.5,528.0 243.8,527.1 246.2,525.9 248.5,524.8 250.8,524.1 253.2,523.3 255.5,522.5 257.8,522.2 260.1,521.9 262.5,521.1 264.8,521.1 267.1,522.2 269.5,523.8 271.8,524.7 274.1,525.5 276.5,525.8 278.8,525.1 281.1,523.8 283.5,522.5 285.8,521.6 288.1,521.2 290.5,521.1 292.8,521.1 295.1,520.5 297.5,520.4 299.8,519.7 302.1,518.8 304.5,518.3 306.8,518.0 309.1,518.4 311.5,519.1 313.8,519.5 316.1,519.4 318.4,520.0 320.8,519.9 323.1,520.1 325.4,520.5 327.8,520.5 330.1,520.9 332.4,520.9 334.8,520.3" marker-end="url(#ar)"/>
<polyline points="52.6,536.4 54.9,536.3 57.3,536.3 59.6,536.2 61.9,536.1 64.3,535.9 66.6,535.7 68.9,535.4 71.3,535.1 73.6,534.7 75.9,534.3 78.3,533.8 80.6,533.3 82.9,532.7 85.2,532.1 87.6,531.7 89.9,531.0 92.2,530.5 94.6,529.9 96.9,529.4 99.2,528.7 101.6,528.5 103.9,528.2 106.2,528.2 108.6,528.2 110.9,529.0 113.2,529.6 115.6,530.5 117.9,531.5 120.2,532.4 122.6,533.1 124.9,533.5 127.2,533.7 129.6,533.8 131.9,533.9 134.2,534.0 136.6,534.1 138.9,534.3 141.2,534.5 143.5,534.4 145.9,534.4 148.2,534.5 150.5,534.6 152.9,534.8 155.2,535.1 157.5,535.4 159.9,535.7 162.2,535.7 164.5,535.7 166.9,535.5 169.2,535.3 171.5,535.0 173.9,534.8 176.2,534.8 178.5,534.7 180.9,534.7 183.2,534.6 185.5,534.2 187.9,533.9 190.2,533.6 192.5,533.2 194.9,532.8 197.2,532.5 199.5,532.1 201.8,531.7 204.2,531.6 206.5,531.4 208.8,531.2 211.2,530.9 213.5,530.8 215.8,530.5 218.2,530.2 220.5,529.9 222.8,529.7 225.2,529.2 227.5,529.1 229.8,529.5 232.2,529.6 234.5,529.7 236.8,530.0 239.2,529.8 241.5,529.3 243.8,528.9 246.2,528.4 248.5,528.2 250.8,528.1 253.2,528.3 255.5,528.6 257.8,529.0 260.1,529.5 262.5,530.1 264.8,530.6 267.1,531.1 269.5,531.9 271.8,532.2 274.1,532.5 276.5,532.8 278.8,533.0 281.1,533.1 283.5,533.1 285.8,533.0 288.1,533.0 290.5,533.0 292.8,532.9 295.1,532.8 297.5,532.7 299.8,532.6 302.1,532.4 304.5,532.4 306.8,532.5 309.1,532.6 311.5,532.8 313.8,532.9 316.1,533.1 318.4,533.2 320.8,533.4" marker-end="url(#ar)"/>
<polyline points="52.6,536.6 54.9,536.5 57.3,536.3 59.6,536.0 61.9,535.6 64.3,535.3 66.6,534.8 68.9,534.5 71.3,534.0 73.6,533.6 75.9,533.2 78.3,533.2 80.6,533.0 82.9,532.9 85.2,532.7 87.6,532.7 89.9,532.8 92.2,532.9 94.6,533.1 96.9,533.3 99.2,533.3 101.6,533.0 103.9,532.8 106.2,532.6 108.6,532.6 110.9,532.8 113.2,533.1 115.6,533.2 117.9,533.4 120.2,533.5 122.6,533.3 124.9,533.4 127.2,533.4 129.6,533.3 131.9,533.1 134.2,533.0 136.6,532.6 138.9,532.6 141.2,532.7 143.5,532.9 145.9,533.3 148.2,533.7 150.5,533.9 152.9,534.1 155.2,534.1 157.5,534.3 159.9,534.4 162.2,534.4 164.5,534.3 166.9,534.4 169.2,534.3 171.5,534.1 173.9,534.1 176.2,534.0 178.5,533.9 180.9,533.7 183.2,533.4 185.5,533.1 187.9,533.0 190.2,532.9 192.5,532.8 194.9,533.0 197.2,533.4 199.5,533.6 201.8,533.9 204.2,534.3 206.5,534.2 208.8,534.2 211.2,534.3 213.5,534.1 215.8,534.0 218.2,534.2 220.5,534.2 222.8,534.1 225.2,534.0 227.5,533.7 229.8,533.2 232.2,533.0 234.5,533.0 236.8,532.8 239.2,532.9 241.5,533.2 243.8,533.3 246.2,533.2 248.5,533.0 250.8,532.8 253.2,532.4 255.5,531.9 257.8,531.6 260.1,531.5 262.5,531.5 264.8,531.4 267.1,531.3 269.5,531.2 271.8,531.5 274.1,531.7 276.5,532.1 278.8,532.3 281.1,532.7 283.5,532.8 285.8,533.0 288.1,533.2 290.5,533.3 292.8,533.3 295.1,533.3 297.5,533.1 299.8,533.0 302.1,533.1 304.5,533.2 306.8,533.6 309.1,534.0 311.5,534.2 313.8,534.3 316.1,534.4 318.4,534.4 320.8,534.4 323.1,534.4 325.4,534.3 327.8,534.3 330.1,534.3 332.4,534.1 334.8,534.0 337.1,534.0 339.4,534.2 341.8,534.3 344.1,534.4 346.4,534.6 348.8,535.0 351.1,535.1 353.4,535.4 355.8,535.8 358.1,536.0 360.4,536.2 362.8,536.5 365.1,536.7 367.4,536.8 369.8,536.9 372.1,537.0 374.4,537.0 376.7,537.0 379.1,536.9 381.4,536.9 383.7,536.9 386.1,537.0 388.4,537.0 390.7,537.0 393.1,536.9 395.4,536.9 397.7,536.8 400.1,536.7 402.4,536.7 404.7,536.7 407.1,536.7 409.4,536.7 411.7,536.8 414.1,536.8 416.4,536.7 418.7,536.7 421.1,536.7 423.4,536.7 425.7,536.7 428.1,536.8 430.4,536.7 432.7,536.6 435.0,536.5 437.4,536.3 439.7,536.2 442.0,536.2 444.4,536.4 446.7,536.5 449.0,536.7 451.4,536.7 453.7,536.8 456.0,536.8 458.4,536.8 460.7,536.8 463.0,536.7 465.4,536.7 467.7,536.7 470.0,536.7 472.4,536.7 474.7,536.7 477.0,536.7 479.4,536.6 481.7,536.5 484.0,536.3 486.4,536.2 488.7,536.2 491.0,536.2 493.3,536.2" marker-end="url(#ar)"/>
<polyline points="52.6,536.6 54.9,536.5 57.3,536.4 59.6,536.1 61.9,535.8 64.3,535.4 66.6,534.9 68.9,534.6 71.3,534.4 73.6,534.1 75.9,533.8 78.3,533.4 80.6,533.3 82.9,533.2 85.2,533.2 87.6,533.3 89.9,533.4 92.2,533.3 94.6,533.2 96.9,533.3 99.2,533.4 101.6,533.6 103.9,533.7 106.2,533.7 108.6,533.7 110.9,533.5 113.2,533.2 115.6,532.9 117.9,532.7 120.2,532.5 122.6,532.2 124.9,532.1 127.2,532.1 129.6,532.1 131.9,532.2 134.2,532.5 136.6,532.8 138.9,532.9 141.2,532.7 143.5,532.5 145.9,532.2 148.2,532.1 150.5,532.0 152.9,531.9 155.2,531.8 157.5,532.0 159.9,532.0 162.2,532.3 164.5,532.6 166.9,532.8 169.2,532.9 171.5,533.1 173.9,533.2 176.2,533.2 178.5,533.5 180.9,533.8 183.2,534.1 185.5,534.4 187.9,534.7 190.2,534.7 192.5,534.7 194.9,534.7 197.2,534.7 199.5,534.6 201.8,534.6 204.2,534.6 206.5,534.5 208.8,534.3 211.2,534.1 213.5,534.1 215.8,534.2 218.2,534.3 220.5,534.5 222.8,534.5 225.2,534.6 227.5,534.6 229.8,534.7 232.2,534.8 234.5,535.0 236.8,535.2 239.2,535.6 241.5,535.9 243.8,536.0 246.2,536.1 248.5,536.0 250.8,535.8 253.2,535.6 255.5,535.5 257.8,535.4 260.1,535.5 262.5,535.6 264.8,535.7 267.1,535.8 269.5,535.8 271.8,535.9 274.1,535.8 276.5,535.7 278.8,535.7 281.1,535.8 283.5,535.9 285.8,536.0 288.1,536.1 290.5,536.1 292.8,536.1 295.1,536.2 297.5,536.2 299.8,536.1 302.1,536.1 304.5,536.1 306.8,536.0 309.1,536.0 311.5,536.0 313.8,535.9 316.1,535.9 318.4,535.9 320.8,535.8 323.1,535.9 325.4,535.9 327.8,535.9 330.1,535.8 332.4,535.8 334.8,535.8 337.1,535.8 339.4,536.0 341.8,536.1 344.1,536.2 346.4,536.1 348.8,536.0 351.1,535.8 353.4,535.5 355.8,535.2 358.1,535.1 360.4,534.9 362.8,534.7 365.1,534.6 367.4,534.4 369.8,534.1 372.1,533.9 374.4,533.6 376.7,533.2 379.1,532.8 381.4,532.6 383.7,532.3 386.1,532.5 388.4,532.4 390.7,532.2 393.1,531.5 395.4,530.8 397.7,529.7 400.1,528.6 402.4,527.8 404.7,527.1 407.1,526.7 409.4,525.9 411.7,525.7 414.1,525.5 416.4,525.0 418.7,524.2 421.1,524.1 423.4,523.5 425.7,522.5 428.1,522.4 430.4,522.7 432.7,522.9 435.0,523.6 437.4,523.9 439.7,524.2 442.0,524.2" marker-end="url(#ar)"/>
<polyline points="52.6,536.7 54.9,536.5 57.3,536.4 59.6,536.1 61.9,535.9 64.3,535.7 66.6,535.5 68.9,535.4 71.3,535.2 73.6,535.1 75.9,534.8 78.3,534.4 80.6,534.0 82.9,533.5 85.2,533.1 87.6,533.0 89.9,533.1 92.2,533.3 94.6,533.8 96.9,534.1 99.2,534.2 101.6,534.3 103.9,534.1 106.2,533.8 108.6,533.4 110.9,533.2 113.2,533.1 115.6,533.0 117.9,532.9 120.2,532.8 122.6,532.6 124.9,532.3 127.2,531.9 129.6,531.6 131.9,531.5 134.2,531.3 136.6,531.4 138.9,531.4 141.2,531.5 143.5,531.5 145.9,531.4 148.2,531.1 150.5,530.9 152.9,530.6 155.2,530.7 157.5,530.7 159.9,530.9 162.2,531.1 164.5,531.0 166.9,530.3 169.2,530.0 171.5,529.5 173.9,529.0 176.2,528.8 178.5,529.1 180.9,529.1 183.2,529.1 185.5,529.0 187.9,529.2 190.2,529.1 192.5,529.0 194.9,529.0 197.2,529.2 199.5,529.1 201.8,529.0 204.2,529.3 206.5,529.7 208.8,529.9 211.2,530.2 213.5,530.8 215.8,531.0 218.2,531.3 220.5,531.7 222.8,531.9 225.2,531.8 227.5,531.7 229.8,531.5 232.2,531.0 234.5,530.6 236.8,530.0 239.2,529.2 241.5,528.3 243.8,527.5 246.2,526.6 248.5,526.0 250.8,525.5 253.2,525.1 255.5,525.3 257.8,525.8 260.1,526.4 262.5,527.2 264.8,528.2 267.1,528.6 269.5,528.9 271.8,529.0 274.1,529.0 276.5,529.1 278.8,529.2 281.1,529.3 283.5,529.6 285.8,529.9 288.1,530.2 290.5,530.8 292.8,531.3 295.1,531.9 297.5,532.3 299.8,532.7 302.1,533.0 304.5,533.3 306.8,533.5 309.1,533.7 311.5,533.8 313.8,533.8 316.1,533.9 318.4,534.2 320.8,534.4 323.1,534.6 325.4,535.0 327.8,535.4 330.1,535.8 332.4,536.1 334.8,536.4 337.1,536.7 339.4,536.8 341.8,536.9 344.1,537.0 346.4,537.0 348.8,537.0 351.1,536.9 353.4,536.9 355.8,537.0 358.1,537.0 360.4,537.0 362.8,537.0 365.1,537.0 367.4,536.9 369.8,536.9 372.1,536.9 374.4,536.8 376.7,536.8 379.1,536.8 381.4,536.7 383.7,536.6 386.1,536.6 388.4,536.6 390.7,536.6 393.1,536.7 395.4,536.8 397.7,536.9 400.1,537.0 402.4,537.0 404.7,537.0 407.1,537.0 409.4,537.0 411.7,537.0 414.1,537.0 416.4,537.0 418.7,537.0 421.1,536.9 423.4,536.8 425.7,536.8 428.1,536.8 430.4,536.7 432.7,536.7 435.0,536.7 437.4,536.8 439.7,536.8 442.0,536.8 444.4,536.8 446.7,536.9 449.0,536.9" marker-end="url(#ar)"/>
<polyline points="52.6,536.4 54.9,536.3 57.3,536.1 59.6,535.8 61.9,535.4 64.3,535.1 66.6,534.5 68.9,533.8 71.3,533.1 73.6,532.2 75.9,531.3 78.3,530.8 80.6,530.7 82.9,530.5 85.2,530.6 87.6,530.7 89.9,530.6 92.2,530.4 94.6,530.4 96.9,530.3 99.2,530.2 101.6,530.1 103.9,529.9 106.2,529.7 108.6,529.4 110.9,529.1 113.2,529.0 115.6,528.8 117.9,528.6 120.2,528.3 122.6,528.2 124.9,528.0 127.2,527.7 129.6,527.4 131.9,527.4 134.2,527.5 136.6,527.4 138.9,526.7 141.2,526.0 143.5,525.1 145.9,524.0 148.2,523.7 150.5,524.6 152.9,525.7 155.2,526.8 157.5,527.6 159.9,528.1 162.2,528.3 164.5,528.2 166.9,528.0 169.2,527.6 171.5,526.9 173.9,525.8 176.2,524.7 178.5,524.0 180.9,523.8 183.2,524.0 185.5,524.7 187.9,525.6 190.2,526.0 192.5,526.5 194.9,526.7 197.2,526.8 199.5,526.7 201.8,526.5 204.2,526.3 206.5,525.9 208.8,525.6 211.2,525.2 213.5,525.0 215.8,524.8 218.2,524.7 220.5,524.1 222.8,524.1 225.2,524.0 227.5,523.7 229.8,523.7 232.2,523.9 234.5,524.1 236.8,524.6 239.2,525.1 241.5,525.9 243.8,526.6 246.2,526.8 248.5,526.6 250.8,526.5 253.2,526.4 255.5,526.2 257.8,526.6 260.1,527.2 262.5,528.2 264.8,528.8 267.1,529.4 269.5,529.7 271.8,529.9 274.1,529.8 276.5,529.9 278.8,530.0 281.1,530.0 283.5,529.8 285.8,529.6 288.1,529.0 290.5,528.5 292.8,528.3 295.1,528.4 297.5,528.4 299.8,528.5 302.1,528.3 304.5,528.2 306.8,528.2 309.1,528.7 311.5,529.5 313.8,530.6 316.1,531.5 318.4,532.2 320.8,532.8 323.1,533.2 325.4,533.5 327.8,533.6 330.1,533.8 332.4,533.9 334.8,534.0 337.1,534.1 339.4,534.3 341.8,534.4 344.1,534.5 346.4,534.6 348.8,534.8 351.1,534.9 353.4,534.8 355.8,534.8 358.1,534.8 360.4,534.7 362.8,534.8 365.1,534.9 367.4,534.9 369.8,534.9 372.1,534.8 374.4,534.7 376.7,534.7 379.1,534.6 381.4,534.7 383.7,534.8 386.1,534.9 388.4,534.8 390.7,534.8 393.1,534.8 395.4,534.7 397.7,534.7 400.1,534.7 402.4,534.6 404.7,534.5 407.1,534.5 409.4,534.6 411.7,534.7 414.1,534.8 416.4,534.9 418.7,535.0 421.1,535.2 423.4,535.3 425.7,535.4 428.1,535.4 430.4,535.4 432.7,535.4" marker-end="url(#ar)"/>
<polyline points="52.6,536.9 54.9,536.9 57.3,536.8 59.6,536.8 61.9,536.7 64.3,536.6 66.6,536.5 68.9,536.4 71.3,536.3 73.6,536.1 75.9,535.9 78.3,535.7 80.6,535.6 82.9,535.4 85.2,535.3 87.6,535.1 89.9,535.0 92.2,534.9 94.6,534.7 96.9,534.6 99.2,534.4 101.6,534.3 103.9,534.2 106.2,534.0 108.6,534.0 110.9,533.8 113.2,533.6 115.6,533.6 117.9,533.6 120.2,533.8 122.6,533.9 124.9,534.0 127.2,534.0 129.6,534.1 131.9,534.1 134.2,534.1 136.6,534.3 138.9,534.5 141.2,534.6 143.5,534.7 145.9,534.9 148.2,535.0 150.5,535.2 152.9,535.3 155.2,535.5 157.5,535.7 159.9,535.9 162.2,536.1 164.5,536.3 166.9,536.4 169.2,536.4 171.5,536.4 173.9,536.3 176.2,536.3 178.5,536.3 180.9,536.3 183.2,536.4 185.5,536.5 187.9,536.5 190.2,536.6 192.5,536.7 194.9,536.7 197.2,536.6 199.5,536.7 201.8,536.7 204.2,536.7 206.5,536.8 208.8,536.8 211.2,536.9 213.5,536.9 215.8,536.9 218.2,537.0 220.5,537.1 222.8,537.1 225.2,537.2 227.5,537.2 229.8,537.3 232.2,537.3 234.5,537.3 236.8,537.4 239.2,537.4 241.5,537.4 243.8,537.4 246.2,537.5 248.5,537.5 250.8,537.5 253.2,537.5 255.5,537.5 257.8,537.6 260.1,537.6 262.5,537.7 264.8,537.7 267.1,537.8 269.5,537.8 271.8,537.8 274.1,537.9 276.5,537.9 278.8,537.9 281.1,538.0 283.5,538.0 285.8,538.0 288.1,538.0 290.5,538.0 292.8,538.0 295.1,537.9 297.5,537.9 299.8,537.9 302.1,538.0 304.5,538.0 306.8,538.0 309.1,538.0 311.5,538.0 313.8,537.9 316.1,537.9 318.4,537.9 320.8,537.9 323.1,538.0 325.4,537.9 327.8,537.9 330.1,538.0 332.4,538.0 334.8,538.0 337.1,538.0 339.4,538.0 341.8,538.0 344.1,538.1 346.4,538.1 348.8,538.1 351.1,538.1 353.4,538.1 355.8,538.1 358.1,538.1 360.4,538.1 362.8,538.1" marker-end="url(#ar)"/>
<polyline points="52.6,536.6 54.9,536.5 57.3,536.3 59.6,536.0 61.9,535.8 64.3,535.5 66.6,535.1 68.9,534.7 71.3,534.4 73.6,534.1 75.9,533.8 78.3,533.6 80.6,533.5 82.9,533.3 85.2,533.0 87.6,532.7 89.9,532.3 92.2,531.8 94.6,531.3 96.9,531.1 99.2,530.9 101.6,530.8 103.9,530.8 106.2,530.8 108.6,530.5 110.9,530.1 113.2,529.6 115.6,528.8 117.9,528.0 120.2,527.2 122.6,526.6 124.9,526.3 127.2,526.0 129.6,526.0 131.9,526.4 134.2,527.1 136.6,527.5 138.9,528.0 141.2,528.3 143.5,528.8 145.9,529.2 148.2,530.0 150.5,530.6 152.9,530.8 155.2,530.7 157.5,530.4 159.9,529.6 162.2,528.9 164.5,528.3 166.9,527.6 169.2,527.0 171.5,526.6 173.9,526.6 176.2,527.0 178.5,527.8 180.9,528.4 183.2,528.8 185.5,528.9 187.9,528.5 190.2,528.2 192.5,527.8 194.9,527.5 197.2,527.0 199.5,526.6 201.8,525.8 204.2,525.6 206.5,525.1 208.8,524.6 211.2,524.3 213.5,523.3 215.8,521.5 218.2,519.3 220.5,517.4 222.8,515.5 225.2,513.7 227.5,511.7 229.8,510.0 232.2,508.7 234.5,506.9 236.8,506.6 239.2,507.3 241.5,507.4 243.8,507.2 246.2,507.2 248.5,505.8 250.8,505.2 253.2,505.6 255.5,504.9 257.8,504.7 260.1,505.6 262.5,505.8 264.8,505.2 267.1,505.1 269.5,504.7 271.8,503.8 274.1,502.7 276.5,502.3 278.8,502.6 281.1,503.1 283.5,503.5 285.8,503.9 288.1,506.2 290.5,508.2 292.8,509.3 295.1,510.6 297.5,511.5 299.8,511.2 302.1,509.9 304.5,508.5 306.8,507.1 309.1,504.8 311.5,500.7 313.8,496.3 316.1,493.3 318.4,489.8 320.8,488.2 323.1,486.9 325.4,487.0 327.8,487.2 330.1,486.2 332.4,485.7 334.8,485.8 337.1,486.3 339.4,485.7 341.8,487.6 344.1,488.6 346.4,490.6 348.8,493.8 351.1,496.3 353.4,497.7 355.8,499.8 358.1,502.1 360.4,501.9 362.8,501.9 365.1,502.2 367.4,502.0 369.8,501.5 372.1,501.8 374.4,501.6 376.7,502.0 379.1,501.6 381.4,501.2 383.7,500.6 386.1,500.1 388.4,498.4 390.7,497.8 393.1,497.2 395.4,496.6 397.7,496.4 400.1,495.7 402.4,495.2 404.7,494.7 407.1,493.9 409.4,494.1 411.7,494.7 414.1,494.8 416.4,495.4 418.7,496.6 421.1,497.6 423.4,498.7 425.7,499.7 428.1,500.3" marker-end="url(#ar)"/>
<polyline points="52.6,536.8 54.9,536.6 57.3,536.5 59.6,536.3 61.9,536.0 64.3,535.7 66.6,535.4 68.9,535.0 71.3,534.7 73.6,534.2 75.9,533.7 78.3,533.3 80.6,532.7 82.9,532.0 85.2,531.5 87.6,531.3 89.9,531.3 92.2,531.6 94.6,531.8 96.9,532.1 99.2,532.3 101.6,532.2 103.9,532.1 106.2,532.0 108.6,531.5 110.9,531.0 113.2,530.1 115.6,529.1 117.9,528.3 120.2,527.7 122.6,527.3 124.9,527.6 127.2,527.7 129.6,527.7 131.9,527.6 134.2,527.2 136.6,526.5 138.9,525.9 141.2,525.6 143.5,525.6 145.9,525.8 148.2,526.5 150.5,527.4 152.9,528.3 155.2,529.0 157.5,529.5 159.9,529.7 162.2,529.8 164.5,529.9 166.9,530.2 169.2,530.4 171.5,530.6 173.9,530.9 176.2,531.2 178.5,531.4 180.9,531.8 183.2,532.3 185.5,533.0 187.9,533.6 190.2,534.0 192.5,534.3 194.9,534.5 197.2,534.3 199.5,534.0 201.8,533.9 204.2,533.7 206.5,533.5 208.8,533.5 211.2,533.6 213.5,533.5 215.8,533.6 218.2,533.6 220.5,533.7 222.8,533.8 225.2,533.9 227.5,533.8 229.8,533.7 232.2,533.6 234.5,533.5 236.8,533.5 239.2,533.6 241.5,533.9 243.8,534.1 246.2,534.2 248.5,534.5 250.8,534.6 253.2,534.6 255.5,534.7 257.8,534.9 260.1,534.9 262.5,534.9 264.8,534.8 267.1,534.7 269.5,534.4 271.8,534.2 274.1,534.1 276.5,534.2 278.8,534.2 281.1,534.1 283.5,534.0 285.8,534.0 288.1,533.9 290.5,533.9 292.8,533.9 295.1,533.8 297.5,533.8 299.8,533.6 302.1,533.6 304.5,533.6 306.8,533.8 309.1,533.9 311.5,534.0 313.8,533.8 316.1,533.5 318.4,533.2 320.8,532.8 323.1,532.8 325.4,533.0 327.8,533.2 330.1,533.4 332.4,533.6 334.8,533.7 337.1,533.7 339.4,533.7 341.8,533.8 344.1,533.8 346.4,533.7 348.8,533.7 351.1,533.9 353.4,534.1 355.8,534.4 358.1,534.5 360.4,534.7 362.8,535.0 365.1,535.1 367.4,535.3 369.8,535.5 372.1,535.6 374.4,535.7 376.7,535.7 379.1,535.7 381.4,535.7 383.7,535.7 386.1,535.8 388.4,535.8 390.7,535.8 393.1,535.9 395.4,535.9 397.7,535.9 400.1,535.9 402.4,536.0 404.7,536.0 407.1,536.1 409.4,536.2 411.7,536.3 414.1,536.3 416.4,536.3 418.7,536.3 421.1,536.3 423.4,536.1 425.7,536.0 428.1,536.0 430.4,536.1 432.7,536.2 435.0,536.4 437.4,536.5 439.7,536.7 442.0,536.7 444.4,536.8 446.7,536.9 449.0,537.0 451.4,537.0" marker-end="url(#ar)"/>
<polyline points="52.6,536.5 54.9,536.4 57.3,536.3 59.6,536.1 61.9,535.8 64.3,535.6 66.6,535.3 68.9,535.0 71.3,534.8 73.6,534.5 75.9,534.3 78.3,534.1 80.6,533.8 82.9,533.6 85.2,533.3 87.6,532.8 89.9,532.1 92.2,531.4 94.6,530.3 96.9,529.3 99.2,527.6 101.6,526.1 103.9,523.9 106.2,521.8 108.6,519.8 110.9,518.5 113.2,517.6 115.6,518.3 117.9,519.5 120.2,521.3 122.6,523.1 124.9,524.5 127.2,525.1 129.6,525.6 131.9,525.9 134.2,526.2 136.6,526.8 138.9,527.6 141.2,528.7 143.5,529.5 145.9,529.8 148.2,530.0 150.5,530.0 152.9,529.8 155.2,529.9 157.5,530.4 159.9,531.1 162.2,531.9 164.5,532.7 166.9,533.1 169.2,533.6 171.5,533.9 173.9,534.1 176.2,534.2 178.5,534.3 180.9,534.3 183.2,534.2 185.5,534.1 187.9,533.8 190.2,533.6 192.5,533.5 194.9,533.3 197.2,533.2 199.5,533.3 201.8,533.3 204.2,533.3 206.5,533.5 208.8,533.6 211.2,533.5 213.5,533.4 215.8,533.2 218.2,533.2 220.5,533.2 222.8,533.3 225.2,533.4 227.5,533.7 229.8,533.9 232.2,534.0 234.5,534.2 236.8,534.3 239.2,534.3 241.5,534.2 243.8,534.1 246.2,534.0 248.5,533.8 250.8,533.7 253.2,533.6 255.5,533.5 257.8,533.4 260.1,533.4 262.5,533.3 264.8,533.3 267.1,533.2 269.5,533.3 271.8,533.5 274.1,533.9 276.5,534.1 278.8,534.6 281.1,534.9 283.5,535.2 285.8,535.5 288.1,535.7 290.5,535.9 292.8,536.0 295.1,536.3 297.5,536.5 299.8,536.6 302.1,536.8 304.5,536.9 306.8,536.9 309.1,536.8 311.5,536.7 313.8,536.7 316.1,536.6 318.4,536.7 320.8,536.8 323.1,536.9 325.4,536.9 327.8,536.9 330.1,536.9 332.4,536.9 334.8,536.9 337.1,537.0 339.4,537.0 341.8,537.1 344.1,537.2 346.4,537.2 348.8,537.3 351.1,537.3 353.4,537.4 355.8,537.4 358.1,537.5 360.4,537.5 362.8,537.5 365.1,537.5 367.4,537.5 369.8,537.5 372.1,537.5 374.4,537.5 376.7,537.6 379.1,537.6 381.4,537.7 383.7,537.7 386.1,537.8 388.4,537.8 390.7,537.8 393.1,537.8 395.4,537.8 397.7,537.7 400.1,537.7 402.4,537.7 404.7,537.7 407.1,537.8 409.4,537.8 411.7,537.8 414.1,537.7 416.4,537.7 418.7,537.6 421.1,537.6 423.4,537.5 425.7,537.5 428.1,537.4 430.4,537.4 432.7,537.3 435.0,537.2 437.4,537.1 439.7,537.0 442.0,536.9 444.4,536.8 446.7,536.7 449.0,536.6 451.4,536.6 453.7,536.6 456.0,536.6 458.4,536.6 460.7,536.6 463.0,536.6 465.4,536.5 467.7,536.5 470.0,536.5 472.4,536.5 474.7,536.6" marker-end="url(#ar)"/>
<polyline points="52.6,537.1 54.9,537.0 57.3,536.9 59.6,536.8 61.9,536.7 64.3,536.5 66.6,536.4 68.9,536.3 71.3,536.2 73.6,536.0 75.9,535.8 78.3,535.4 80.6,534.9 82.9,534.3 85.2,533.7 87.6,533.2 89.9,532.9 92.2,532.7 94.6,532.7 96.9,532.5 99.2,532.4 101.6,532.2 103.9,531.9 106.2,531.3 108.6,531.0 110.9,530.7 113.2,530.3 115.6,530.3 117.9,530.4 120.2,529.9 122.6,529.5 124.9,529.1 127.2,528.8 129.6,528.3 131.9,528.4 134.2,528.4 136.6,528.1 138.9,528.3 141.2,528.6 143.5,528.8 145.9,529.0 148.2,529.2 150.5,529.0 152.9,529.1 155.2,528.7 157.5,528.5 159.9,528.9 162.2,529.1 164.5,528.7 166.9,528.8 169.2,528.6 171.5,528.3 173.9,528.1 176.2,528.4 178.5,528.2 180.9,528.5 183.2,528.5 185.5,528.7 187.9,528.9 190.2,529.7 192.5,530.4 194.9,530.9 197.2,531.6 199.5,532.2 201.8,532.8 204.2,533.3 206.5,533.7 208.8,533.9 211.2,534.2 213.5,534.2 215.8,533.9 218.2,533.6 220.5,533.1 222.8,532.8 225.2,532.4 227.5,532.2 229.8,532.2 232.2,532.4 234.5,532.4 236.8,532.3 239.2,532.2 241.5,532.2 243.8,532.0 246.2,531.8 248.5,531.7 250.8,531.7 253.2,531.8 255.5,532.0 257.8,532.0 260.1,532.1 262.5,532.1 264.8,532.0 267.1,531.8 269.5,531.7 271.8,532.0 274.1,532.5 276.5,533.0 278.8,533.7 281.1,534.0 283.5,534.0 285.8,533.7 288.1,533.4 290.5,532.9 292.8,532.8 295.1,532.7 297.5,532.7 299.8,532.8 302.1,533.0 304.5,533.1 306.8,533.3 309.1,533.3 311.5,533.3 313.8,533.1 316.1,532.8 318.4,532.8 320.8,533.1 323.1,533.4 325.4,534.0 327.8,534.5 330.1,534.7 332.4,534.8 334.8,534.9 337.1,534.9 339.4,534.8 341.8,534.8 344.1,534.8 346.4,534.6 348.8,534.5 351.1,534.6 353.4,534.7 355.8,534.9 358.1,535.1 360.4,535.4 362.8,535.4 365.1,535.4 367.4,535.4 369.8,535.4 372.1,535.4 374.4,535.5 376.7,535.5 379.1,535.7 381.4,535.7 383.7,535.7 386.1,535.6 388.4,535.5 390.7,535.2 393.1,534.9 395.4,534.6 397.7,534.4 400.1,534.2 402.4,534.2 404.7,534.2 407.1,534.2 409.4,534.2 411.7,534.2 414.1,534.1 416.4,534.0 418.7,533.8 421.1,533.8 423.4,534.0 425.7,534.1 428.1,534.2 430.4,534.4 432.7,534.4 435.0,534.6 437.4,534.8 439.7,535.0 442.0,535.1 444.4,535.2 446.7,535.1 449.0,535.2 451.4,535.2 453.7,535.4 456.0,535.7 458.4,535.9 460.7,536.1 463.0,536.3 465.4,536.3 467.7,536.4" marker-end="url(#ar)"/>
<polyline points="52.6,536.3 54.9,536.3 57.3,536.2 59.6,536.1 61.9,536.1 64.3,536.0 66.6,535.8 68.9,535.6 71.3,535.2 73.6,534.7 75.9,534.1 78.3,533.5 80.6,532.8 82.9,532.3 85.2,532.0 87.6,531.7 89.9,531.7 92.2,532.0 94.6,532.3 96.9,532.4 99.2,532.5 101.6,532.4 103.9,532.2 106.2,531.9 108.6,531.8 110.9,531.8 113.2,532.1 115.6,532.0 117.9,531.8 120.2,531.8 122.6,531.7 124.9,531.4 127.2,531.3 129.6,531.4 131.9,531.3 134.2,531.2 136.6,531.0 138.9,531.0 141.2,531.0 143.5,530.6 145.9,530.3 148.2,530.3 150.5,530.1 152.9,530.1 155.2,529.8 157.5,529.7 159.9,529.7 162.2,529.7 164.5,529.6 166.9,529.8 169.2,529.9 171.5,530.0 173.9,530.5 176.2,531.0 178.5,531.6 180.9,531.9 183.2,531.9 185.5,531.6 187.9,531.1 190.2,530.6 192.5,530.6 194.9,530.7 197.2,530.7 199.5,530.7 201.8,530.6 204.2,530.5 206.5,530.2 208.8,530.3 211.2,530.4 213.5,530.9 215.8,531.1 218.2,531.2 220.5,531.2 222.8,531.1 225.2,530.9 227.5,530.3 229.8,530.0 232.2,529.5 234.5,528.6 236.8,527.7 239.2,527.2 241.5,526.9 243.8,526.8 246.2,527.4 248.5,527.7 250.8,527.9 253.2,528.0 255.5,528.0 257.8,527.8 260.1,527.9 262.5,527.8 264.8,527.8 267.1,528.1 269.5,528.4 271.8,528.3 274.1,528.3 276.5,527.5 278.8,526.7 281.1,525.9 283.5,525.3 285.8,525.4 288.1,525.9 290.5,526.1 292.8,526.0 295.1,525.6 297.5,524.9 299.8,525.2 302.1,525.2 304.5,525.4 306.8,525.9 309.1,526.3 311.5,525.3 313.8,524.2 316.1,523.2 318.4,522.2 320.8,520.8 323.1,519.8 325.4,518.8 327.8,517.3 330.1,515.2 332.4,514.2 334.8,514.2 337.1,514.1 339.4,514.6 341.8,514.8 344.1,513.7 346.4,512.1 348.8,510.4 351.1,507.7 353.4,505.8 355.8,504.7 358.1,504.7 360.4,504.9 362.8,504.9 365.1,503.9 367.4,502.8 369.8,500.3 372.1,499.1 374.4,500.8 376.7,502.9 379.1,504.3 381.4,506.4 383.7,507.7 386.1,509.8 388.4,512.1 390.7,513.9 393.1,515.2 395.4,516.3 397.7,515.7 400.1,516.0 402.4,517.4 404.7,519.2 407.1,520.9 409.4,522.9 411.7,524.5 414.1,525.4 416.4,526.0 418.7,526.4 421.1,526.0 423.4,525.7 425.7,525.8 428.1,525.7 430.4,525.6 432.7,526.4" marker-end="url(#ar)"/>
<polyline points="52.6,536.5 54.9,536.4 57.3,536.3 59.6,536.1 61.9,535.8 64.3,535.6 66.6,535.3 68.9,535.0 71.3,534.7 73.6,534.3 75.9,533.8 78.3,533.4 80.6,532.9 82.9,532.7 85.2,532.7 87.6,532.8 89.9,533.1 92.2,533.4 94.6,533.6 96.9,533.7 99.2,533.8 101.6,533.8 103.9,533.8 106.2,533.9 108.6,534.2 110.9,534.5 113.2,534.9 115.6,535.2 117.9,535.6 120.2,535.8 122.6,536.0 124.9,536.1 127.2,536.3 129.6,536.3 131.9,536.3 134.2,536.4 136.6,536.4 138.9,536.4 141.2,536.5 143.5,536.5 145.9,536.5 148.2,536.5 150.5,536.4 152.9,536.4 155.2,536.3 157.5,536.3 159.9,536.3 162.2,536.4 164.5,536.3 166.9,536.3 169.2,536.3 171.5,536.3 173.9,536.3 176.2,536.3 178.5,536.3 180.9,536.3 183.2,536.3 185.5,536.3 187.9,536.3 190.2,536.3 192.5,536.3 194.9,536.3 197.2,536.4 199.5,536.5 201.8,536.6 204.2,536.7 206.5,536.8 208.8,536.9 211.2,537.0 213.5,537.0 215.8,537.0 218.2,537.1 220.5,537.1 222.8,537.1 225.2,537.1 227.5,537.1 229.8,537.1 232.2,537.1 234.5,537.2 236.8,537.2 239.2,537.1 241.5,537.0 243.8,536.9 246.2,536.8 248.5,536.7 250.8,536.6 253.2,536.7 255.5,536.6 257.8,536.7 260.1,536.8 262.5,536.8 264.8,536.9 267.1,537.0 269.5,537.1 271.8,537.2 274.1,537.2 276.5,537.3 278.8,537.4 281.1,537.5 283.5,537.6 285.8,537.6 288.1,537.6 290.5,537.6 292.8,537.6 295.1,537.6 297.5,537.6 299.8,537.7 302.1,537.7 304.5,537.7 306.8,537.7 309.1,537.7 311.5,537.7 313.8,537.7 316.1,537.7 318.4,537.7 320.8,537.7 323.1,537.7 325.4,537.8 327.8,537.8 330.1,537.8" marker-end="url(#ar)"/>
<polyline points="52.6,536.6 54.9,536.5 57.3,536.5 59.6,536.3 61.9,536.1 64.3,535.9 66.6,535.6 68.9,535.2 71.3,534.8 73.6,534.4 75.9,534.0 78.3,533.5 80.6,533.0 82.9,532.4 85.2,531.6 87.6,530.8 89.9,530.1 92.2,529.3 94.6,528.6 96.9,527.9 99.2,527.2 101.6,526.2 103.9,525.1 106.2,523.9 108.6,522.9 110.9,521.8 113.2,520.5 115.6,519.6 117.9,518.7 120.2,517.5 122.6,516.9 124.9,516.5 127.2,516.2 129.6,516.4 131.9,517.1 134.2,517.3 136.6,517.7 138.9,518.4 141.2,518.8 143.5,519.2 145.9,519.6 148.2,520.1 150.5,520.2 152.9,520.3 155.2,519.9 157.5,519.7 159.9,519.2 162.2,518.8 164.5,518.7 166.9,518.8 169.2,518.7 171.5,518.2 173.9,518.1 176.2,517.8 178.5,517.6 180.9,517.9 183.2,518.4 185.5,518.6 187.9,519.0 190.2,519.5 192.5,519.7 194.9,520.1 197.2,520.7 199.5,520.7 201.8,520.8 204.2,520.7 206.5,520.4 208.8,519.6 211.2,519.1 213.5,518.1 215.8,518.2 218.2,517.9 220.5,518.3 222.8,518.8 225.2,519.6 227.5,519.7 229.8,520.5 232.2,521.1 234.5,521.4 236.8,522.0 239.2,522.8 241.5,523.3 243.8,523.8 246.2,524.3 248.5,524.4 250.8,524.0 253.2,523.4 255.5,522.3 257.8,521.4 260.1,520.7 262.5,520.1 264.8,519.8 267.1,520.0 269.5,520.2 271.8,520.7 274.1,521.1 276.5,521.7 278.8,522.3 281.1,522.9 283.5,523.3 285.8,524.0 288.1,524.3 290.5,524.6 292.8,524.7 295.1,524.5 297.5,524.2 299.8,524.0 302.1,523.6 304.5,523.2 306.8,522.6 309.1,522.3 311.5,521.5 313.8,520.6 316.1,519.9 318.4,519.4 320.8,518.5 323.1,518.6 325.4,518.6 327.8,518.7 330.1,518.4 332.4,518.7 334.8,518.4 337.1,518.3 339.4,518.2 341.8,518.4 344.1,518.3 346.4,518.3 348.8,518.7 351.1,519.1 353.4,519.6 355.8,520.0 358.1,520.4 360.4,520.5 362.8,520.6 365.1,521.1 367.4,522.0 369.8,522.5 372.1,523.0 374.4,523.6 376.7,523.9 379.1,523.8 381.4,523.8 383.7,523.6 386.1,523.4 388.4,523.1 390.7,523.0 393.1,523.2 395.4,523.6 397.7,523.5 400.1,523.4 402.4,522.9 404.7,522.1 407.1,520.9 409.4,519.7 411.7,518.1 414.1,516.0 416.4,514.5 418.7,513.4 421.1,512.0 423.4,510.5 425.7,509.3 428.1,507.7 430.4,505.7 432.7,503.9 435.0,502.5 437.4,502.0 439.7,501.7 442.0,500.9 444.4,499.9 446.7,499.5 449.0,499.0 451.4,497.9 453.7,497.0 456.0,497.1 458.4,496.5 460.7,495.7 463.0,495.3 465.4,495.0 467.7,494.9 470.0,495.9 472.4,497.5 474.7,498.8 477.0,500.6 479.4,501.9 481.7,502.5 484.0,502.5 486.4,502.5 488.7,502.4 491.0,502.2" marker-end="url(#ar)"/>
<polyline points="52.6,536.7 54.9,536.6 57.3,536.6 59.6,536.3 61.9,536.1 64.3,536.0 66.6,535.9 68.9,535.8 71.3,535.9 73.6,536.1 75.9,536.3 78.3,536.4 80.6,536.5 82.9,536.6 85.2,536.6 87.6,536.7 89.9,536.7 92.2,536.8 94.6,536.9 96.9,536.9 99.2,537.0 101.6,537.1 103.9,537.1 106.2,537.1 108.6,537.1 110.9,537.1 113.2,537.1 115.6,537.1 117.9,537.1 120.2,537.2 122.6,537.2 124.9,537.2 127.2,537.2 129.6,537.3 131.9,537.3 134.2,537.4 136.6,537.4 138.9,537.4 141.2,537.4 143.5,537.4 145.9,537.4 148.2,537.3 150.5,537.3 152.9,537.2 155.2,537.2 157.5,537.2 159.9,537.2 162.2,537.2 164.5,537.2 166.9,537.2 169.2,537.3 171.5,537.3 173.9,537.3 176.2,537.3 178.5,537.4 180.9,537.4 183.2,537.5 185.5,537.5 187.9,537.6 190.2,537.7 192.5,537.7 194.9,537.8 197.2,537.9 199.5,537.9 201.8,537.9 204.2,537.9 206.5,537.9 208.8,537.9 211.2,537.8 213.5,537.8 215.8,537.8 218.2,537.9 220.5,537.9 222.8,537.9 225.2,537.9 227.5,537.9 229.8,537.9 232.2,537.9 234.5,537.9 236.8,538.0 239.2,538.0 241.5,538.0 243.8,537.9 246.2,537.9 248.5,537.9 250.8,537.9 253.2,537.9 255.5,537.9 257.8,537.8 260.1,537.8 262.5,537.7 264.8,537.7 267.1,537.6 269.5,537.6 271.8,537.5 274.1,537.5 276.5,537.4 278.8,537.4 281.1,537.3 283.5,537.3 285.8,537.4 288.1,537.4 290.5,537.4 292.8,537.4 295.1,537.3 297.5,537.3 299.8,537.2 302.1,537.1 304.5,537.0 306.8,537.0 309.1,537.0 311.5,537.0 313.8,536.9 316.1,536.8 318.4,536.7 320.8,536.7 323.1,536.7 325.4,536.8 327.8,536.8 330.1,536.8 332.4,536.8 334.8,536.8 337.1,536.7 339.4,536.7 341.8,536.8 344.1,536.7 346.4,536.7 348.8,536.7 351.1,536.8 353.4,536.7 355.8,536.7 358.1,536.7 360.4,536.7 362.8,536.7 365.1,536.7 367.4,536.7 369.8,536.8 372.1,536.8 374.4,536.9 376.7,536.9 379.1,537.0 381.4,537.1 383.7,537.1 386.1,537.2 388.4,537.2 390.7,537.2 393.1,537.2 395.4,537.2 397.7,537.2 400.1,537.3 402.4,537.2 404.7,537.2 407.1,537.1 409.4,537.1 411.7,537.0 414.1,537.0 416.4,537.0 418.7,537.0 421.1,537.0 423.4,536.9 425.7,536.9 428.1,536.9 430.4,536.9 432.7,536.9 435.0,537.0 437.4,537.0 439.7,537.1 442.0,537.1 444.4,537.1 446.7,537.1 449.0,537.0 451.4,537.0 453.7,536.9 456.0,536.9 458.4,536.7 460.7,536.6 463.0,536.5 465.4,536.4 467.7,536.3 470.0,536.4 472.4,536.4 474.7,536.6 477.0,536.7 479.4,536.7 481.7,536.8 484.0,536.8 486.4,536.7 488.7,536.6 491.0,536.7 493.3,536.6" marker-end="url(#ar)"/>
<polyline points="52.6,537.0 54.9,536.9 57.3,536.8 59.6,536.6 61.9,536.3 64.3,536.0 66.6,535.6 68.9,535.2 71.3,534.8 73.6,534.5 75.9,534.4 78.3,534.0 80.6,533.7 82.9,533.5 85.2,533.3 87.6,532.9 89.9,532.6 92.2,532.3 94.6,531.6 96.9,530.6 99.2,529.6 101.6,528.5 103.9,527.2 106.2,525.9 108.6,525.0 110.9,524.5 113.2,524.7 115.6,525.0 117.9,525.3 120.2,524.5 122.6,523.2 124.9,522.3 127.2,522.1 129.6,521.7 131.9,521.9 134.2,522.3 136.6,523.1 138.9,523.9 141.2,524.2 143.5,524.7 145.9,524.5 148.2,523.0 150.5,520.7 152.9,518.0 155.2,515.3 157.5,514.1 159.9,513.8 162.2,513.7 164.5,514.1 166.9,513.7 169.2,512.4 171.5,510.9 173.9,509.8 176.2,509.4 178.5,509.7 180.9,511.0 183.2,512.6 185.5,513.5 187.9,513.8 190.2,513.3 192.5,512.2 194.9,508.8 197.2,505.3 199.5,500.4 201.8,495.2 204.2,490.0 206.5,485.2 208.8,480.9 211.2,481.7 213.5,483.0 215.8,485.3 218.2,489.0 220.5,493.0 222.8,493.8 225.2,494.1 227.5,493.8 229.8,493.3 232.2,492.1 234.5,492.8 236.8,493.6 239.2,495.3 241.5,496.8 243.8,496.1 246.2,493.0 248.5,489.6 250.8,485.0 253.2,479.6 255.5,477.1 257.8,475.4 260.1,475.5 262.5,475.0 264.8,475.2 267.1,475.7 269.5,478.4 271.8,482.9 274.1,489.0 276.5,493.7 278.8,494.4 281.1,495.6 283.5,495.8 285.8,494.7 288.1,490.4 290.5,490.7 292.8,488.2 295.1,485.9 297.5,480.9 299.8,480.5 302.1,478.6 304.5,480.1 306.8,479.2 309.1,478.8 311.5,478.4 313.8,478.6 316.1,475.9 318.4,474.3 320.8,474.5 323.1,472.1 325.4,468.6 327.8,468.2 330.1,465.7 332.4,463.8 334.8,463.4 337.1,464.0 339.4,459.5 341.8,456.4 344.1,456.2 346.4,459.0 348.8,459.5 351.1,463.7 353.4,467.1 355.8,469.0 358.1,470.2 360.4,471.6 362.8,474.4 365.1,478.6 367.4,481.5 369.8,486.1 372.1,492.9 374.4,498.8 376.7,504.2 379.1,508.7 381.4,512.0 383.7,514.0 386.1,515.6 388.4,516.2 390.7,517.3 393.1,517.4 395.4,517.5 397.7,517.1 400.1,518.2 402.4,519.0 404.7,520.8 407.1,523.0 409.4,525.7 411.7,527.6 414.1,529.2 416.4,530.5 418.7,531.4 421.1,532.1 423.4,532.7 425.7,533.2 428.1,533.6 430.4,533.9 432.7,534.1 435.0,534.2 437.4,534.6 439.7,534.7 442.0,534.7 444.4,534.6 446.7,534.1 449.0,533.6 451.4,533.0 453.7,532.6 456.0,532.3 458.4,532.5 460.7,532.8 463.0,533.3 465.4,533.7 467.7,534.0 470.0,534.1 472.4,534.0 474.7,534.0 477.0,534.1 479.4,534.1 481.7,534.2 484.0,534.4" marker-end="url(#ar)"/>
<polyline points="52.6,536.9 54.9,536.8 57.3,536.8 59.6,536.7 61.9,536.6 64.3,536.5 66.6,536.5 68.9,536.4 71.3,536.4 73.6,536.2 75.9,536.0 78.3,535.8 80.6,535.6 82.9,535.2 85.2,534.8 87.6,534.5 89.9,534.2 92.2,533.9 94.6,533.9 96.9,533.8 99.2,533.7 101.6,533.7 103.9,533.7 106.2,533.7 108.6,533.8 110.9,533.9 113.2,533.9 115.6,533.9 117.9,533.8 120.2,533.6 122.6,533.4 124.9,533.3 127.2,533.2 129.6,532.9 131.9,532.7 134.2,532.4 136.6,532.0 138.9,531.8 141.2,531.8 143.5,531.9 145.9,532.0 148.2,532.2 150.5,532.3 152.9,532.3 155.2,532.4 157.5,532.5 159.9,532.4 162.2,532.2 164.5,532.1 166.9,532.0 169.2,532.0 171.5,532.0 173.9,532.1 176.2,531.9 178.5,531.6 180.9,531.4 183.2,531.1 185.5,530.9 187.9,530.7 190.2,530.7 192.5,530.8 194.9,531.0 197.2,531.3 199.5,531.5 201.8,531.7 204.2,531.9 206.5,532.0 208.8,532.0 211.2,532.1 213.5,532.2 215.8,532.2 218.2,532.3 220.5,532.3 222.8,532.3 225.2,532.4 227.5,532.5 229.8,532.7 232.2,533.0 234.5,533.4 236.8,533.7 239.2,534.1 241.5,534.4 243.8,534.6 246.2,534.8 248.5,534.9 250.8,535.0 253.2,535.0 255.5,535.1 257.8,535.1 260.1,535.1 262.5,535.2 264.8,535.3 267.1,535.3 269.5,535.3 271.8,535.3 274.1,535.2 276.5,535.1 278.8,535.1 281.1,535.2 283.5,535.2 285.8,535.2 288.1,535.1 290.5,535.2 292.8,535.3 295.1,535.4 297.5,535.6 299.8,535.7 302.1,535.7 304.5,535.8 306.8,535.7 309.1,535.7 311.5,535.8 313.8,535.9 316.1,536.0 318.4,536.1 320.8,536.1 323.1,536.2 325.4,536.2 327.8,536.2 330.1,536.1 332.4,536.2 334.8,536.2 337.1,536.2 339.4,536.3 341.8,536.3 344.1,536.3 346.4,536.3 348.8,536.3 351.1,536.3 353.4,536.2 355.8,536.2 358.1,536.2 360.4,536.3 362.8,536.3 365.1,536.5 367.4,536.6 369.8,536.7 372.1,536.8 374.4,537.0 376.7,537.0 379.1,537.1 381.4,537.1 383.7,537.1 386.1,537.1 388.4,537.1 390.7,537.1 393.1,537.2 395.4,537.3 397.7,537.3 400.1,537.4 402.4,537.5 404.7,537.5 407.1,537.5 409.4,537.5 411.7,537.5 414.1,537.5 416.4,537.4 418.7,537.4 421.1,537.4 423.4,537.3 425.7,537.2 428.1,537.2 430.4,537.1 432.7,537.1 435.0,537.1 437.4,537.0 439.7,536.9 442.0,536.8 444.4,536.7 446.7,536.7 449.0,536.8 451.4,536.8 453.7,536.8 456.0,536.8 458.4,536.8 460.7,536.8 463.0,536.9 465.4,536.9 467.7,536.9 470.0,536.8 472.4,536.8 474.7,536.7 477.0,536.7 479.4,536.7 481.7,536.8 484.0,536.8 486.4,536.8" marker-end="url(#ar)"/>
<polyline points="52.6,536.5 54.9,536.4 57.3,536.3 59.6,536.1 61.9,535.9 64.3,535.6 66.6,535.2 68.9,534.9 71.3,534.8 73.6,534.8 75.9,534.9 78.3,535.1 80.6,535.4 82.9,535.5 85.2,535.6 87.6,535.7 89.9,535.9 92.2,535.9 94.6,535.9 96.9,536.0 99.2,536.1 101.6,536.2 103.9,536.3 106.2,536.4 108.6,536.6 110.9,536.7 113.2,536.7 115.6,536.8 117.9,536.9 120.2,536.9 122.6,537.0 124.9,537.0 127.2,537.1 129.6,537.2 131.9,537.2 134.2,537.2 136.6,537.1 138.9,537.1 141.2,537.0 143.5,537.0 145.9,537.0 148.2,537.0 150.5,536.9 152.9,536.8 155.2,536.7 157.5,536.5 159.9,536.3 162.2,536.1 164.5,535.9 166.9,535.7 169.2,535.6 171.5,535.4 173.9,535.6 176.2,535.7 178.5,535.9 180.9,536.0 183.2,536.2 185.5,536.3 187.9,536.3 190.2,536.3 192.5,536.4 194.9,536.5 197.2,536.6 199.5,536.7 201.8,536.8 204.2,536.8 206.5,536.8 208.8,536.9 211.2,536.9 213.5,537.0 215.8,537.0 218.2,537.1 220.5,537.1 222.8,537.1 225.2,537.2 227.5,537.3 229.8,537.3 232.2,537.4 234.5,537.5 236.8,537.5 239.2,537.6 241.5,537.6 243.8,537.6 246.2,537.5 248.5,537.5 250.8,537.5 253.2,537.4 255.5,537.4 257.8,537.4 260.1,537.5 262.5,537.5 264.8,537.5 267.1,537.5 269.5,537.5 271.8,537.4 274.1,537.4 276.5,537.4 278.8,537.4 281.1,537.5 283.5,537.5 285.8,537.5 288.1,537.6 290.5,537.6 292.8,537.6 295.1,537.7 297.5,537.7 299.8,537.8 302.1,537.8 304.5,537.8 306.8,537.8 309.1,537.8 311.5,537.8 313.8,537.9 316.1,537.9 318.4,537.8 320.8,537.8 323.1,537.8 325.4,537.8 327.8,537.8 330.1,537.9 332.4,537.9 334.8,537.9 337.1,537.9 339.4,537.9 341.8,538.0 344.1,538.0 346.4,538.0 348.8,537.9 351.1,537.9 353.4,537.8 355.8,537.8 358.1,537.8 360.4,537.7 362.8,537.7 365.1,537.7 367.4,537.6 369.8,537.6 372.1,537.6 374.4,537.6 376.7,537.7 379.1,537.7 381.4,537.7 383.7,537.7 386.1,537.7 388.4,537.7 390.7,537.7 393.1,537.8 395.4,537.8 397.7,537.8 400.1,537.8 402.4,537.8 404.7,537.8 407.1,537.8 409.4,537.8 411.7,537.9 414.1,537.9 416.4,538.0 418.7,538.0 421.1,538.1 423.4,538.1 425.7,538.1 428.1,538.1 430.4,538.1 432.7,538.1 435.0,538.1 437.4,538.1 439.7,538.1 442.0,538.1 444.4,538.1 446.7,538.1 449.0,538.1 451.4,538.1 453.7,538.1 456.0,538.1" marker-end="url(#ar)"/>
<polyline points="52.6,536.9 54.9,536.8 57.3,536.7 59.6,536.6 61.9,536.5 64.3,536.3 66.6,536.1 68.9,535.9 71.3,535.6 73.6,535.2 75.9,535.0 78.3,534.9 80.6,534.8 82.9,534.6 85.2,534.4 87.6,533.9 89.9,533.1 92.2,532.3 94.6,531.8 96.9,531.3 99.2,531.2 101.6,531.5 103.9,531.7 106.2,532.1 108.6,532.5 110.9,532.7 113.2,532.8 115.6,532.8 117.9,532.7 120.2,532.7 122.6,532.6 124.9,532.7 127.2,532.9 129.6,532.8 131.9,532.6 134.2,532.8 136.6,533.0 138.9,533.1 141.2,533.3 143.5,533.4 145.9,533.5 148.2,533.3 150.5,533.3 152.9,533.6 155.2,533.9 157.5,534.0 159.9,534.4 162.2,534.6 164.5,534.6 166.9,534.6 169.2,534.6 171.5,534.7 173.9,534.9 176.2,535.1 178.5,535.4 180.9,535.6 183.2,535.6 185.5,535.6 187.9,535.6 190.2,535.8 192.5,535.9 194.9,536.2 197.2,536.4 199.5,536.7 201.8,536.8 204.2,536.9 206.5,537.0 208.8,537.0 211.2,537.0 213.5,536.9 215.8,536.9 218.2,536.8 220.5,536.8 222.8,536.9 225.2,537.0 227.5,537.0 229.8,537.1 232.2,537.1 234.5,537.1 236.8,537.1 239.2,537.2 241.5,537.3 243.8,537.4 246.2,537.5 248.5,537.6 250.8,537.6 253.2,537.6 255.5,537.6 257.8,537.7 260.1,537.7 262.5,537.8 264.8,537.9 267.1,537.9 269.5,538.0 271.8,538.0 274.1,538.0 276.5,538.0 278.8,538.0 281.1,538.0 283.5,538.0 285.8,538.0 288.1,538.0 290.5,538.1 292.8,538.1 295.1,538.0 297.5,538.0 299.8,538.0 302.1,538.0 304.5,538.0 306.8,538.0 309.1,538.0 311.5,538.0 313.8,538.0 316.1,538.0 318.4,538.0 320.8,537.9 323.1,537.9 325.4,537.9 327.8,537.9 330.1,537.9 332.4,537.9 334.8,537.9 337.1,537.9 339.4,537.9 341.8,537.9 344.1,537.9 346.4,538.0 348.8,538.0 351.1,538.0 353.4,537.9 355.8,537.9 358.1,537.9 360.4,537.8 362.8,537.8 365.1,537.8 367.4,537.7 369.8,537.7 372.1,537.7 374.4,537.7 376.7,537.6 379.1,537.6 381.4,537.7 383.7,537.7 386.1,537.7 388.4,537.8 390.7,537.8 393.1,537.8 395.4,537.8 397.7,537.9 400.1,537.9 402.4,537.9 404.7,538.0 407.1,538.0 409.4,538.0 411.7,538.0 414.1,538.1 416.4,538.1 418.7,538.1 421.1,538.1 423.4,538.1" marker-end="url(#ar)"/>
<polyline points="52.6,536.5 54.9,536.4 57.3,536.3 59.6,536.0 61.9,535.9 64.3,535.8 66.6,535.6 68.9,535.5 71.3,535.3 73.6,535.2 75.9,535.0 78.3,534.9 80.6,534.9 82.9,534.8 85.2,534.7 87.6,534.7 89.9,534.5 92.2,534.4 94.6,534.4 96.9,534.2 99.2,534.1 101.6,534.1 103.9,533.9 106.2,533.8 108.6,533.9 110.9,533.8 113.2,533.8 115.6,533.8 117.9,533.7 120.2,533.4 122.6,533.1 124.9,532.8 127.2,532.5 129.6,532.2 131.9,531.9 134.2,531.6 136.6,531.6 138.9,531.6 141.2,531.6 143.5,531.6 145.9,531.6 148.2,531.4 150.5,531.1 152.9,530.9 155.2,530.7 157.5,530.3 159.9,530.0 162.2,529.6 164.5,529.0 166.9,528.5 169.2,528.0 171.5,527.2 173.9,526.3 176.2,525.9 178.5,525.4 180.9,524.8 183.2,524.8 185.5,525.0 187.9,525.1 190.2,525.1 192.5,525.0 194.9,524.7 197.2,524.1 199.5,523.5 201.8,523.2 204.2,523.1 206.5,523.1 208.8,523.3 211.2,523.1 213.5,522.7 215.8,522.0 218.2,521.2 220.5,520.6 222.8,520.3 225.2,520.0 227.5,520.1 229.8,520.5 232.2,520.5 234.5,520.5 236.8,521.2 239.2,522.1 241.5,523.1 243.8,524.2 246.2,525.0 248.5,525.5 250.8,525.8 253.2,525.9 255.5,525.6 257.8,525.6 260.1,525.4 262.5,525.0 264.8,524.7 267.1,525.1 269.5,525.5 271.8,526.1 274.1,526.7 276.5,527.2 278.8,527.3 281.1,527.2 283.5,527.2 285.8,527.3 288.1,527.7 290.5,528.1 292.8,528.2 295.1,528.3 297.5,528.2 299.8,527.8 302.1,527.1 304.5,526.6 306.8,526.0 309.1,525.7 311.5,525.5 313.8,525.6 316.1,525.7 318.4,525.7 320.8,525.7 323.1,525.4 325.4,525.3 327.8,525.0 330.1,524.7 332.4,524.3 334.8,524.2 337.1,524.1 339.4,524.6 341.8,525.5 344.1,526.4 346.4,527.2 348.8,528.2 351.1,528.8 353.4,529.2 355.8,529.5 358.1,529.9 360.4,530.0 362.8,530.3 365.1,530.5 367.4,530.7 369.8,530.7 372.1,530.6 374.4,530.2 376.7,529.9 379.1,529.4 381.4,529.0 383.7,528.5 386.1,528.1 388.4,527.5 390.7,526.6 393.1,525.8 395.4,525.3 397.7,525.0 400.1,525.0 402.4,525.3 404.7,525.7 407.1,526.1 409.4,526.5 411.7,526.6 414.1,526.9 416.4,527.2 418.7,527.3 421.1,527.2 423.4,526.9 425.7,526.7 428.1,526.3 430.4,526.0 432.7,526.0 435.0,526.1 437.4,525.8 439.7,525.8 442.0,525.7" marker-end="url(#ar)"/>
<polyline points="52.6,536.6 54.9,536.5 57.3,536.4 59.6,536.3 61.9,536.1 64.3,535.8 66.6,535.6 68.9,535.3 71.3,535.0 73.6,534.7 75.9,534.5 78.3,534.2 80.6,533.9 82.9,533.7 85.2,533.3 87.6,533.0 89.9,532.8 92.2,532.7 94.6,532.6 96.9,532.7 99.2,532.9 101.6,533.0 103.9,533.3 106.2,533.5 108.6,533.5 110.9,533.5 113.2,533.2 115.6,533.0 117.9,532.8 120.2,532.5 122.6,532.4 124.9,532.4 127.2,532.3 129.6,532.3 131.9,532.3 134.2,532.2 136.6,532.4 138.9,532.6 141.2,532.7 143.5,533.0 145.9,533.2 148.2,533.2 150.5,533.1 152.9,533.1 155.2,533.1 157.5,533.1 159.9,533.3 162.2,533.4 164.5,533.5 166.9,533.4 169.2,533.4 171.5,533.4 173.9,533.4 176.2,533.4 178.5,533.3 180.9,533.2 183.2,533.3 185.5,533.1 187.9,533.0 190.2,532.8 192.5,532.5 194.9,532.2 197.2,531.8 199.5,531.5 201.8,531.4 204.2,531.4 206.5,531.3 208.8,531.5 211.2,531.6 213.5,531.7 215.8,531.8 218.2,531.9 220.5,531.8 222.8,531.7 225.2,531.5 227.5,531.1 229.8,530.8 232.2,530.6 234.5,530.5 236.8,530.4 239.2,530.5 241.5,530.6 243.8,530.7 246.2,530.7 248.5,530.8 250.8,531.0 253.2,531.2 255.5,531.4 257.8,531.6 260.1,531.6 262.5,531.5 264.8,531.2 267.1,531.0 269.5,530.7 271.8,530.3 274.1,529.9 276.5,529.6 278.8,529.5 281.1,529.2 283.5,529.2 285.8,529.1 288.1,529.0 290.5,528.5 292.8,528.2 295.1,527.8 297.5,527.3 299.8,527.2 302.1,527.3 304.5,527.4 306.8,527.4 309.1,527.3 311.5,527.2 313.8,527.1 316.1,526.5 318.4,526.0 320.8,525.9 323.1,525.7 325.4,525.7 327.8,526.1 330.1,526.6 332.4,526.9 334.8,527.4 337.1,527.9 339.4,528.1 341.8,528.2 344.1,528.2 346.4,528.0 348.8,527.9 351.1,527.8 353.4,527.8 355.8,528.0 358.1,528.1 360.4,528.4 362.8,528.9 365.1,529.3 367.4,529.4 369.8,529.6 372.1,529.5 374.4,529.3 376.7,529.4 379.1,529.5 381.4,529.7 383.7,529.9 386.1,530.2 388.4,530.4 390.7,530.5 393.1,530.5 395.4,530.4 397.7,530.4 400.1,530.3 402.4,530.2 404.7,530.2 407.1,530.4 409.4,530.3 411.7,530.1 414.1,530.0 416.4,529.9 418.7,529.9 421.1,529.9 423.4,529.8 425.7,529.7 428.1,529.6 430.4,529.3 432.7,528.8 435.0,528.3 437.4,527.8 439.7,527.4 442.0,526.8 444.4,526.4 446.7,525.9 449.0,525.5 451.4,524.8 453.7,524.6 456.0,524.3 458.4,524.1 460.7,523.8 463.0,523.9 465.4,523.7 467.7,523.5 470.0,523.3 472.4,523.1 474.7,523.0 477.0,522.9 479.4,523.3 481.7,523.6 484.0,524.1 486.4,524.3 488.7,524.6 491.0,524.5" marker-end="url(#ar)"/>
<polyline points="52.6,536.6 54.9,536.5 57.3,536.4 59.6,536.2 61.9,536.0 64.3,535.9 66.6,535.7 68.9,535.3 71.3,534.9 73.6,534.3 75.9,533.7 78.3,533.0 80.6,532.6 82.9,532.4 85.2,532.4 87.6,532.3 89.9,532.2 92.2,532.1 94.6,532.0 96.9,532.0 99.2,531.9 101.6,532.0 103.9,532.0 106.2,532.2 108.6,532.4 110.9,532.7 113.2,533.0 115.6,533.3 117.9,533.4 120.2,533.5 122.6,533.6 124.9,533.6 127.2,533.6 129.6,533.6 131.9,533.6 134.2,533.5 136.6,533.5 138.9,533.6 141.2,533.5 143.5,533.5 145.9,533.4 148.2,533.4 150.5,533.3 152.9,533.2 155.2,533.1 157.5,533.0 159.9,532.8 162.2,532.7 164.5,532.8 166.9,533.1 169.2,533.2 171.5,533.4 173.9,533.5 176.2,533.4 178.5,533.5 180.9,533.4 183.2,533.2 185.5,533.1 187.9,532.9 190.2,532.6 192.5,532.6 194.9,532.5 197.2,532.5 199.5,532.4 201.8,532.5 204.2,532.3 206.5,532.3 208.8,532.2 211.2,531.9 213.5,531.5 215.8,531.1 218.2,530.5 220.5,529.8 222.8,529.1 225.2,528.1 227.5,527.2 229.8,526.3 232.2,525.9 234.5,525.6 236.8,525.8 239.2,526.2 241.5,526.8 243.8,527.3 246.2,527.8 248.5,528.4 250.8,528.7 253.2,529.0 255.5,529.2 257.8,529.3 260.1,529.3 262.5,529.2 264.8,528.9 267.1,528.9 269.5,528.7 271.8,528.6 274.1,528.6 276.5,529.0 278.8,529.1 281.1,529.4 283.5,529.6 285.8,529.5 288.1,529.3 290.5,529.5 292.8,529.6 295.1,529.9 297.5,530.3 299.8,530.7 302.1,531.1 304.5,531.3 306.8,531.6 309.1,531.7 311.5,531.4 313.8,530.9 316.1,530.5 318.4,530.1 320.8,529.5 323.1,529.3 325.4,529.2 327.8,529.2 330.1,529.0 332.4,528.9 334.8,528.6 337.1,528.1 339.4,527.5 341.8,527.2 344.1,526.5 346.4,526.2 348.8,526.5 351.1,526.7 353.4,526.8 355.8,527.2 358.1,527.4 360.4,527.5 362.8,527.7 365.1,528.0 367.4,528.4 369.8,528.8 372.1,529.1 374.4,529.5 376.7,529.8 379.1,530.1 381.4,530.5 383.7,530.9 386.1,531.4 388.4,532.0 390.7,532.5 393.1,533.0 395.4,533.5 397.7,533.9 400.1,534.3 402.4,534.5 404.7,534.8 407.1,535.0 409.4,535.2 411.7,535.3 414.1,535.5 416.4,535.6 418.7,535.7 421.1,535.8 423.4,535.9 425.7,536.0 428.1,536.0 430.4,536.0" marker-end="url(#ar)"/>
<polyline points="52.6,536.9 54.9,536.8 57.3,536.7 59.6,536.6 61.9,536.4 64.3,536.2 66.6,535.9 68.9,535.7 71.3,535.6 73.6,535.3 75.9,535.2 78.3,535.2 80.6,535.2 82.9,535.2 85.2,535.4 87.6,535.6 89.9,535.7 92.2,535.7 94.6,535.7 96.9,535.6 99.2,535.5 101.6,535.3 103.9,535.4 106.2,535.5 108.6,535.5 110.9,535.6 113.2,535.7 115.6,535.7 117.9,535.6 120.2,535.6 122.6,535.7 124.9,535.7 127.2,535.8 129.6,536.1 131.9,536.2 134.2,536.2 136.6,536.1 138.9,536.0 141.2,535.9 143.5,535.9 145.9,535.9 148.2,535.9 150.5,536.0 152.9,536.1 155.2,536.1 157.5,536.1 159.9,536.1 162.2,536.1 164.5,536.0 166.9,536.1 169.2,536.1 171.5,536.1 173.9,536.1 176.2,536.1 178.5,535.9 180.9,535.7 183.2,535.5 185.5,535.4 187.9,535.3 190.2,535.4 192.5,535.4 194.9,535.4 197.2,535.4 199.5,535.2 201.8,534.9 204.2,534.6 206.5,534.2 208.8,533.9 211.2,533.7 213.5,533.9 215.8,533.8 218.2,534.0 220.5,534.1 222.8,534.4 225.2,534.5 227.5,534.8 229.8,534.9 232.2,534.9 234.5,534.8 236.8,534.7 239.2,534.6 241.5,534.4 243.8,534.1 246.2,533.9 248.5,533.9 250.8,533.8 253.2,534.0 255.5,534.3 257.8,534.7 260.1,534.9 262.5,535.1 264.8,535.3 267.1,535.6 269.5,535.8 271.8,536.0 274.1,536.3 276.5,536.4 278.8,536.5 281.1,536.4 283.5,536.3 285.8,536.3 288.1,536.1 290.5,536.1 292.8,536.1 295.1,536.1 297.5,536.2 299.8,536.3 302.1,536.4 304.5,536.6 306.8,536.6 309.1,536.7 311.5,536.7 313.8,536.7 316.1,536.7 318.4,536.7 320.8,536.7 323.1,536.7 325.4,536.8 327.8,536.8 330.1,536.8 332.4,536.8 334.8,536.8 337.1,536.8 339.4,536.8 341.8,537.0 344.1,537.1 346.4,537.2 348.8,537.2 351.1,537.2 353.4,537.2 355.8,537.2" marker-end="url(#ar)"/>
<polyline points="52.6,536.7 54.9,536.6 57.3,536.5 59.6,536.4 61.9,536.2 64.3,535.9 66.6,535.6 68.9,535.4 71.3,535.1 73.6,535.0 75.9,535.1 78.3,535.2 80.6,535.3 82.9,535.4 85.2,535.5 87.6,535.6 89.9,535.7 92.2,535.8 94.6,536.0 96.9,536.1 99.2,536.2 101.6,536.3 103.9,536.3 106.2,536.3 108.6,536.3 110.9,536.3 113.2,536.3 115.6,536.3 117.9,536.3 120.2,536.3 122.6,536.3 124.9,536.3 127.2,536.3 129.6,536.3 131.9,536.3 134.2,536.4 136.6,536.4 138.9,536.4 141.2,536.5 143.5,536.5 145.9,536.6 148.2,536.6 150.5,536.7 152.9,536.8 155.2,536.9 157.5,536.9 159.9,537.0 162.2,537.0 164.5,537.1 166.9,537.1 169.2,537.1 171.5,537.2 173.9,537.2 176.2,537.3 178.5,537.3 180.9,537.3 183.2,537.4 185.5,537.4 187.9,537.5 190.2,537.5 192.5,537.5 194.9,537.5 197.2,537.6 199.5,537.6 201.8,537.6 204.2,537.6 206.5,537.6 208.8,537.7 211.2,537.7 213.5,537.7 215.8,537.7 218.2,537.8 220.5,537.8 222.8,537.8 225.2,537.8 227.5,537.8 229.8,537.8 232.2,537.8 234.5,537.8 236.8,537.8 239.2,537.8 241.5,537.8 243.8,537.8 246.2,537.9 248.5,537.9 250.8,537.9 253.2,537.9 255.5,537.9 257.8,537.9 260.1,537.9 262.5,537.9 264.8,537.9 267.1,537.9 269.5,538.0 271.8,538.0 274.1,538.0 276.5,538.0 278.8,538.0 281.1,538.0 283.5,538.0 285.8,538.0 288.1,538.0 290.5,538.0 292.8,538.0 295.1,537.9 297.5,537.9 299.8,537.9 302.1,537.9 304.5,537.9 306.8,537.9 309.1,537.9 311.5,537.9 313.8,537.9 316.1,537.9 318.4,537.9 320.8,537.9 323.1,537.9 325.4,537.9 327.8,537.9 330.1,537.9 332.4,537.9 334.8,537.9 337.1,537.9 339.4,537.9 341.8,537.9 344.1,537.9 346.4,537.9 348.8,537.9 351.1,537.9 353.4,537.9 355.8,537.9 358.1,537.9 360.4,537.9 362.8,537.9 365.1,537.9 367.4,537.9 369.8,537.9 372.1,537.9 374.4,537.9 376.7,537.9 379.1,537.9 381.4,537.9 383.7,538.0 386.1,538.0 388.4,538.0 390.7,538.0 393.1,538.0 395.4,538.1 397.7,538.1 400.1,538.1 402.4,538.1 404.7,538.1 407.1,538.1 409.4,538.1 411.7,538.1 414.1,538.1 416.4,538.1 418.7,538.1 421.1,538.1 423.4,538.1 425.7,538.1 428.1,538.1 430.4,538.1 432.7,538.1 435.0,538.1 437.4,538.2 439.7,538.2 442.0,538.2 444.4,538.2 446.7,538.2 449.0,538.2 451.4,538.2 453.7,538.2 456.0,538.2 458.4,538.2 460.7,538.2 463.0,538.2 465.4,538.2 467.7,538.2 470.0,538.2 472.4,538.2" marker-end="url(#ar)"/>
<polyline points="52.6,536.2 54.9,536.2 57.3,536.2 59.6,536.0 61.9,535.7 64.3,535.4 66.6,534.9 68.9,534.0 71.3,533.0 73.6,532.2 75.9,531.7 78.3,531.4 80.6,531.4 82.9,531.9 85.2,532.5 87.6,533.0 89.9,533.4 92.2,534.0 94.6,534.3 96.9,534.4 99.2,534.6 101.6,534.8 103.9,535.0 106.2,535.1 108.6,535.1 110.9,535.1 113.2,535.0 115.6,535.0 117.9,535.2 120.2,535.4 122.6,535.6 124.9,535.9 127.2,536.0 129.6,536.1 131.9,536.2 134.2,536.2 136.6,536.3 138.9,536.5 141.2,536.6 143.5,536.6 145.9,536.7 148.2,536.8 150.5,536.8 152.9,536.8 155.2,536.9 157.5,536.9 159.9,536.9 162.2,536.9 164.5,536.9 166.9,536.8 169.2,536.7 171.5,536.6 173.9,536.3 176.2,536.0 178.5,535.7 180.9,535.2 183.2,534.9 185.5,534.8 187.9,534.8 190.2,534.6 192.5,534.6 194.9,534.5 197.2,534.4 199.5,534.3 201.8,534.5 204.2,534.6 206.5,534.8 208.8,534.9 211.2,535.0 213.5,535.1 215.8,535.3 218.2,535.3 220.5,535.3 222.8,535.3 225.2,535.2 227.5,535.2 229.8,535.1 232.2,534.9 234.5,534.6 236.8,534.2 239.2,533.8 241.5,533.7 243.8,533.8 246.2,534.0 248.5,534.5 250.8,534.9 253.2,535.0 255.5,535.0 257.8,534.9 260.1,534.7 262.5,534.4 264.8,534.2 267.1,534.1 269.5,534.1 271.8,534.1 274.1,534.2 276.5,534.4 278.8,534.5 281.1,534.8 283.5,535.1 285.8,535.3 288.1,535.6 290.5,535.9 292.8,536.1 295.1,536.3 297.5,536.5 299.8,536.6 302.1,536.6 304.5,536.7 306.8,536.7 309.1,536.8 311.5,536.7 313.8,536.7 316.1,536.6 318.4,536.6 320.8,536.6 323.1,536.8 325.4,537.0 327.8,537.1 330.1,537.3 332.4,537.3 334.8,537.4 337.1,537.4 339.4,537.5 341.8,537.5 344.1,537.5 346.4,537.5 348.8,537.5 351.1,537.5 353.4,537.4 355.8,537.4 358.1,537.3 360.4,537.3 362.8,537.2 365.1,537.2 367.4,537.1 369.8,537.1 372.1,537.1 374.4,537.1 376.7,537.2 379.1,537.2 381.4,537.2 383.7,537.2 386.1,537.2 388.4,537.2 390.7,537.2 393.1,537.2 395.4,537.3 397.7,537.3 400.1,537.3 402.4,537.3 404.7,537.3 407.1,537.2 409.4,537.1 411.7,537.0 414.1,537.0 416.4,537.0 418.7,537.0 421.1,537.1 423.4,537.1 425.7,537.1 428.1,537.1 430.4,537.0 432.7,537.0 435.0,537.0" marker-end="url(#ar)"/>
<polyline points="52.6,536.6 54.9,536.5 57.3,536.4 59.6,536.1 61.9,535.9 64.3,535.7 66.6,535.7 68.9,535.7 71.3,535.7 73.6,535.6 75.9,535.5 78.3,535.2 80.6,534.8 82.9,534.5 85.2,534.1 87.6,533.6 89.9,533.2 92.2,532.9 94.6,532.4 96.9,532.2 99.2,532.4 101.6,532.5 103.9,532.4 106.2,532.6 108.6,532.8 110.9,532.9 113.2,533.0 115.6,533.3 117.9,533.4 120.2,533.5 122.6,533.5 124.9,533.4 127.2,533.2 129.6,533.1 131.9,532.8 134.2,532.6 136.6,532.4 138.9,532.1 141.2,531.9 143.5,531.9 145.9,531.8 148.2,531.7 150.5,531.9 152.9,531.9 155.2,531.6 157.5,531.5 159.9,531.3 162.2,531.1 164.5,531.0 166.9,531.2 169.2,531.4 171.5,531.6 173.9,531.9 176.2,531.9 178.5,531.8 180.9,531.8 183.2,531.6 185.5,531.3 187.9,531.2 190.2,531.1 192.5,531.0 194.9,530.7 197.2,530.5 199.5,530.1 201.8,529.5 204.2,528.9 206.5,528.4 208.8,528.0 211.2,527.6 213.5,526.9 215.8,526.2 218.2,525.8 220.5,525.8 222.8,525.9 225.2,526.6 227.5,527.3 229.8,527.9 232.2,528.4 234.5,528.7 236.8,529.2 239.2,529.4 241.5,529.8 243.8,530.2 246.2,530.6 248.5,531.1 250.8,531.5 253.2,531.8 255.5,532.1 257.8,532.5 260.1,532.8 262.5,533.3 264.8,533.5 267.1,533.7 269.5,533.9 271.8,534.0 274.1,533.9 276.5,533.7 278.8,533.7 281.1,533.5 283.5,533.4 285.8,533.6 288.1,533.7 290.5,533.7 292.8,533.6 295.1,533.6 297.5,533.6 299.8,533.8 302.1,534.1 304.5,534.4 306.8,534.8 309.1,535.1 311.5,535.4 313.8,535.7 316.1,536.0 318.4,536.0 320.8,536.0 323.1,535.9 325.4,535.7 327.8,535.5 330.1,535.4 332.4,535.3 334.8,535.2 337.1,535.2 339.4,535.2 341.8,535.2 344.1,535.2 346.4,535.2 348.8,535.2 351.1,535.2 353.4,535.2 355.8,535.3 358.1,535.4 360.4,535.3 362.8,535.2 365.1,535.1 367.4,534.9 369.8,534.7 372.1,534.4 374.4,534.2 376.7,533.9 379.1,533.7 381.4,533.5 383.7,533.6 386.1,533.6 388.4,533.7 390.7,534.0 393.1,534.1 395.4,534.2 397.7,534.3 400.1,534.4 402.4,534.4 404.7,534.4 407.1,534.6 409.4,534.9 411.7,535.0 414.1,535.2 416.4,535.3 418.7,535.3 421.1,535.3 423.4,535.4 425.7,535.3 428.1,535.3 430.4,535.2 432.7,535.1 435.0,535.0 437.4,534.9 439.7,534.7 442.0,534.6 444.4,534.7 446.7,534.8 449.0,534.8 451.4,535.0" marker-end="url(#ar)"/>
<polyline points="52.6,536.7 54.9,536.5 57.3,536.4 59.6,536.2 61.9,536.0 64.3,536.0 66.6,536.0 68.9,536.1 71.3,536.2 73.6,536.3 75.9,536.4 78.3,536.5 80.6,536.7 82.9,536.8 85.2,536.8 87.6,536.9 89.9,536.9 92.2,536.9 94.6,536.9 96.9,536.9 99.2,536.8 101.6,536.8 103.9,536.7 106.2,536.7 108.6,536.6 110.9,536.6 113.2,536.6 115.6,536.7 117.9,536.7 120.2,536.8 122.6,536.9 124.9,536.8 127.2,536.8 129.6,536.7 131.9,536.7 134.2,536.6 136.6,536.6 138.9,536.7 141.2,536.7 143.5,536.8 145.9,536.8 148.2,536.9 150.5,536.9 152.9,537.0 155.2,537.0 157.5,537.1 159.9,537.1 162.2,537.2 164.5,537.2 166.9,537.1 169.2,537.1 171.5,537.0 173.9,536.9 176.2,536.8 178.5,536.8 180.9,536.8 183.2,536.8 185.5,536.8 187.9,536.9 190.2,537.0 192.5,537.0 194.9,537.0 197.2,537.1 199.5,537.1 201.8,537.1 204.2,537.1 206.5,537.1 208.8,537.0 211.2,537.0 213.5,537.0 215.8,537.0 218.2,537.0 220.5,537.1 222.8,537.1 225.2,537.1 227.5,537.1 229.8,537.2 232.2,537.2 234.5,537.2 236.8,537.3 239.2,537.3 241.5,537.4 243.8,537.5 246.2,537.6 248.5,537.6 250.8,537.7 253.2,537.7 255.5,537.8 257.8,537.8 260.1,537.9 262.5,537.9 264.8,537.9 267.1,538.0 269.5,538.0 271.8,538.0 274.1,538.0 276.5,538.0 278.8,538.0 281.1,538.0 283.5,538.0 285.8,538.0 288.1,538.1 290.5,538.1 292.8,538.1 295.1,538.1 297.5,538.1 299.8,538.1 302.1,538.1 304.5,538.1 306.8,538.1 309.1,538.1 311.5,538.1 313.8,538.1 316.1,538.1 318.4,538.1 320.8,538.1 323.1,538.1 325.4,538.1 327.8,538.1 330.1,538.1 332.4,538.2 334.8,538.2 337.1,538.2 339.4,538.2 341.8,538.2 344.1,538.2 346.4,538.2 348.8,538.2 351.1,538.2 353.4,538.2 355.8,538.2 358.1,538.2 360.4,538.2 362.8,538.2 365.1,538.2 367.4,538.2 369.8,538.2 372.1,538.2 374.4,538.2 376.7,538.2 379.1,538.2 381.4,538.2 383.7,538.2 386.1,538.2 388.4,538.2 390.7,538.2 393.1,538.2 395.4,538.2 397.7,538.2 400.1,538.2 402.4,538.2 404.7,538.2 407.1,538.2 409.4,538.2 411.7,538.2 414.1,538.2 416.4,538.2 418.7,538.2 421.1,538.2 423.4,538.2 425.7,538.3 428.1,538.3 430.4,538.3 432.7,538.3 435.0,538.3 437.4,538.3 439.7,538.3 442.0,538.3 444.4,538.3 446.7,538.3 449.0,538.3 451.4,538.3 453.7,538.3 456.0,538.3 458.4,538.3 460.7,538.3 463.0,538.3" marker-end="url(#ar)"/>
<polyline points="52.6,536.7 54.9,536.7 57.3,536.6 59.6,536.4 61.9,536.2 64.3,536.0 66.6,535.7 68.9,535.2 71.3,534.8 73.6,534.4 75.9,534.2 78.3,534.1 80.6,534.2 82.9,534.1 85.2,534.1 87.6,533.8 89.9,533.5 92.2,533.3 94.6,533.3 96.9,533.2 99.2,533.2 101.6,533.0 103.9,532.8 106.2,532.7 108.6,532.6 110.9,532.6 113.2,532.7 115.6,532.7 117.9,533.0 120.2,533.2 122.6,533.4 124.9,533.5 127.2,533.5 129.6,533.3 131.9,533.2 134.2,533.1 136.6,533.2 138.9,533.2 141.2,533.5 143.5,533.7 145.9,534.1 148.2,534.3 150.5,534.6 152.9,534.6 155.2,534.5 157.5,534.4 159.9,534.5 162.2,534.5 164.5,534.4 166.9,534.4 169.2,534.3 171.5,534.1 173.9,534.0 176.2,534.1 178.5,534.2 180.9,534.1 183.2,534.2 185.5,534.3 187.9,534.2 190.2,534.0 192.5,534.1 194.9,534.3 197.2,534.4 199.5,534.6 201.8,534.6 204.2,534.6 206.5,534.4 208.8,534.2 211.2,534.2 213.5,534.5 215.8,534.9 218.2,535.4 220.5,535.9 222.8,536.3 225.2,536.6 227.5,536.9 229.8,537.0 232.2,537.2 234.5,537.4 236.8,537.4 239.2,537.5 241.5,537.6 243.8,537.6 246.2,537.7 248.5,537.7 250.8,537.7 253.2,537.7 255.5,537.8 257.8,537.8 260.1,537.8 262.5,537.9 264.8,537.9 267.1,537.9 269.5,538.0 271.8,538.0 274.1,538.0 276.5,538.0 278.8,538.0 281.1,538.0 283.5,538.0 285.8,538.0 288.1,538.0 290.5,538.0 292.8,537.9 295.1,537.9 297.5,537.9 299.8,537.9 302.1,537.9 304.5,537.9 306.8,537.9 309.1,537.9 311.5,537.9 313.8,537.9 316.1,537.9 318.4,537.9 320.8,537.9 323.1,537.8 325.4,537.8 327.8,537.8 330.1,537.9 332.4,537.9 334.8,537.9 337.1,537.9 339.4,537.9 341.8,537.9 344.1,537.9 346.4,537.9 348.8,537.9 351.1,537.9 353.4,537.9 355.8,537.9 358.1,538.0 360.4,538.0 362.8,538.0 365.1,538.0 367.4,538.0 369.8,538.0 372.1,538.0 374.4,538.0 376.7,538.0 379.1,538.0 381.4,538.0 383.7,538.0 386.1,538.0 388.4,538.0 390.7,538.0 393.1,538.0 395.4,538.0 397.7,538.0" marker-end="url(#ar)"/>
<polyline points="52.6,536.7 54.9,536.7 57.3,536.7 59.6,536.6 61.9,536.4 64.3,536.2 66.6,535.9 68.9,535.5 71.3,535.2 73.6,535.0 75.9,534.8 78.3,534.9 80.6,534.9 82.9,535.0 85.2,535.1 87.6,535.2 89.9,535.1 92.2,535.0 94.6,534.8 96.9,534.5 99.2,534.1 101.6,533.8 103.9,533.6 106.2,533.4 108.6,533.4 110.9,533.5 113.2,533.6 115.6,533.7 117.9,533.8 120.2,533.7 122.6,533.6 124.9,533.4 127.2,533.3 129.6,533.1 131.9,532.9 134.2,533.0 136.6,532.9 138.9,532.7 141.2,532.7 143.5,532.7 145.9,532.4 148.2,532.3 150.5,532.1 152.9,532.0 155.2,531.9 157.5,532.0 159.9,532.0 162.2,532.2 164.5,532.1 166.9,532.1 169.2,532.1 171.5,532.2 173.9,532.3 176.2,532.5 178.5,532.6 180.9,532.5 183.2,532.5 185.5,532.4 187.9,532.2 190.2,531.9 192.5,531.9 194.9,531.5 197.2,531.2 199.5,531.0 201.8,530.9 204.2,530.6 206.5,530.5 208.8,530.7 211.2,530.8 213.5,531.0 215.8,531.3 218.2,531.6 220.5,531.8 222.8,531.9 225.2,531.9 227.5,531.9 229.8,531.8 232.2,531.7 234.5,531.5 236.8,531.2 239.2,530.7 241.5,530.4 243.8,530.2 246.2,530.3 248.5,530.6 250.8,531.2 253.2,531.5 255.5,531.9 257.8,532.0 260.1,531.9 262.5,531.8 264.8,531.7 267.1,531.7 269.5,532.0 271.8,532.1 274.1,532.3 276.5,532.4 278.8,532.5 281.1,532.5 283.5,532.7 285.8,533.0 288.1,533.2 290.5,533.4 292.8,533.5 295.1,533.6 297.5,533.6 299.8,533.6 302.1,533.7 304.5,533.8 306.8,533.9 309.1,534.0 311.5,534.1 313.8,534.0 316.1,533.9 318.4,533.7 320.8,533.6 323.1,533.6 325.4,533.5 327.8,533.5 330.1,533.5 332.4,533.5 334.8,533.3 337.1,533.3 339.4,533.2 341.8,533.2 344.1,533.2 346.4,533.2 348.8,533.2 351.1,533.3 353.4,533.4 355.8,533.5 358.1,533.6 360.4,533.7 362.8,533.7 365.1,533.6 367.4,533.6 369.8,533.7 372.1,533.7 374.4,533.6 376.7,533.5 379.1,533.4 381.4,533.2 383.7,533.2 386.1,533.4 388.4,533.5 390.7,533.7 393.1,533.7 395.4,533.5 397.7,533.3 400.1,533.0 402.4,532.8" marker-end="url(#ar)"/>
<polyline points="52.6,536.9 54.9,536.9 57.3,536.8 59.6,536.6 61.9,536.4 64.3,536.0 66.6,535.7 68.9,535.3 71.3,534.9 73.6,534.4 75.9,534.1 78.3,533.8 80.6,533.6 82.9,533.7 85.2,533.9 87.6,534.1 89.9,534.5 92.2,534.7 94.6,534.9 96.9,535.0 99.2,535.0 101.6,534.9 103.9,534.8 106.2,534.6 108.6,534.3 110.9,534.1 113.2,534.0 115.6,533.7 117.9,533.6 120.2,533.7 122.6,533.9 124.9,534.2 127.2,534.4 129.6,534.8 131.9,535.0 134.2,535.2 136.6,535.2 138.9,535.2 141.2,535.1 143.5,535.1 145.9,535.0 148.2,535.1 150.5,535.2 152.9,535.3 155.2,535.4 157.5,535.3 159.9,535.2 162.2,535.1 164.5,535.1 166.9,535.2 169.2,535.2 171.5,535.3 173.9,535.2 176.2,535.0 178.5,534.7 180.9,534.5 183.2,534.3 185.5,534.2 187.9,534.1 190.2,534.0 192.5,533.8 194.9,533.8 197.2,533.8 199.5,534.0 201.8,534.1 204.2,534.3 206.5,534.4 208.8,534.3 211.2,534.2 213.5,534.3 215.8,534.2 218.2,534.4 220.5,534.6 222.8,534.7 225.2,534.8 227.5,534.9 229.8,534.9 232.2,534.9 234.5,535.0 236.8,534.8 239.2,534.6 241.5,534.2 243.8,533.7 246.2,533.1 248.5,532.5 250.8,532.0 253.2,531.6 255.5,531.4 257.8,531.4 260.1,531.7 262.5,531.9 264.8,532.4 267.1,532.6 269.5,533.0 271.8,533.0 274.1,533.1 276.5,533.3 278.8,533.4 281.1,533.3 283.5,533.3 285.8,533.3 288.1,533.4 290.5,533.5 292.8,533.7 295.1,534.0 297.5,534.3 299.8,534.6 302.1,534.9 304.5,535.1 306.8,535.3 309.1,535.5 311.5,535.7 313.8,535.9 316.1,536.0 318.4,536.2 320.8,536.2 323.1,536.1 325.4,536.0 327.8,535.9 330.1,535.7 332.4,535.6 334.8,535.5 337.1,535.2 339.4,535.0 341.8,535.0 344.1,535.0 346.4,535.0 348.8,535.1 351.1,535.2 353.4,535.1 355.8,535.1 358.1,535.1 360.4,535.1 362.8,535.0 365.1,534.9 367.4,534.8" marker-end="url(#ar)"/>
<polyline points="52.6,536.6 54.9,536.4 57.3,536.3 59.6,536.0 61.9,535.7 64.3,535.4 66.6,535.1 68.9,535.0 71.3,534.7 73.6,534.5 75.9,534.4 78.3,534.5 80.6,534.6 82.9,534.9 85.2,535.2 87.6,535.4 89.9,535.6 92.2,535.6 94.6,535.6 96.9,535.6 99.2,535.5 101.6,535.5 103.9,535.5 106.2,535.6 108.6,535.6 110.9,535.7 113.2,535.8 115.6,535.8 117.9,535.9 120.2,535.9 122.6,536.0 124.9,535.9 127.2,535.9 129.6,535.8 131.9,535.8 134.2,535.6 136.6,535.5 138.9,535.4 141.2,535.3 143.5,535.3 145.9,535.3 148.2,535.5 150.5,535.7 152.9,535.8 155.2,535.9 157.5,536.0 159.9,536.0 162.2,536.0 164.5,535.9 166.9,535.7 169.2,535.4 171.5,535.1 173.9,534.7 176.2,534.4 178.5,534.2 180.9,534.1 183.2,534.0 185.5,534.0 187.9,534.0 190.2,534.0 192.5,534.0 194.9,534.1 197.2,534.0 199.5,534.0 201.8,534.1 204.2,534.2 206.5,534.4 208.8,534.7 211.2,534.9 213.5,535.0 215.8,535.2 218.2,535.4 220.5,535.6 222.8,535.8 225.2,535.9 227.5,536.1 229.8,536.1 232.2,536.2 234.5,536.3 236.8,536.3 239.2,536.4 241.5,536.4 243.8,536.4 246.2,536.3 248.5,536.2 250.8,536.2 253.2,536.1 255.5,536.0 257.8,536.0 260.1,536.0 262.5,535.9 264.8,535.8 267.1,535.8 269.5,535.8 271.8,535.8 274.1,535.8 276.5,535.9 278.8,535.9 281.1,536.0 283.5,536.2 285.8,536.3 288.1,536.4 290.5,536.5 292.8,536.4 295.1,536.4 297.5,536.5 299.8,536.5 302.1,536.4 304.5,536.5 306.8,536.4 309.1,536.3 311.5,536.3 313.8,536.2 316.1,536.2 318.4,536.2 320.8,536.3 323.1,536.3 325.4,536.3 327.8,536.3 330.1,536.3 332.4,536.3 334.8,536.4 337.1,536.4 339.4,536.5 341.8,536.5 344.1,536.6 346.4,536.7 348.8,536.7 351.1,536.8 353.4,536.9 355.8,537.0 358.1,537.0 360.4,537.1 362.8,537.1 365.1,537.2 367.4,537.2 369.8,537.3 372.1,537.3 374.4,537.3 376.7,537.3 379.1,537.3 381.4,537.2 383.7,537.2 386.1,537.2 388.4,537.2 390.7,537.2 393.1,537.3 395.4,537.2 397.7,537.2 400.1,537.2 402.4,537.2 404.7,537.2 407.1,537.2 409.4,537.2 411.7,537.2 414.1,537.1 416.4,537.1 418.7,537.0 421.1,537.0 423.4,537.0 425.7,537.0 428.1,536.9 430.4,536.9 432.7,536.8 435.0,536.6 437.4,536.4 439.7,536.2 442.0,536.0 444.4,535.8 446.7,535.7 449.0,535.6 451.4,535.5 453.7,535.6 456.0,535.6 458.4,535.6 460.7,535.6 463.0,535.7 465.4,535.7 467.7,535.7 470.0,535.8 472.4,535.7 474.7,535.7 477.0,535.6 479.4,535.5 481.7,535.4 484.0,535.3 486.4,535.3" marker-end="url(#ar)"/>
<polyline points="52.6,536.5 54.9,536.3 57.3,536.2 59.6,535.9 61.9,535.5 64.3,535.1 66.6,534.7 68.9,534.4 71.3,534.0 73.6,533.5 75.9,533.0 78.3,532.4 80.6,531.8 82.9,531.0 85.2,530.3 87.6,529.9 89.9,529.7 92.2,529.5 94.6,529.7 96.9,530.0 99.2,530.1 101.6,530.2 103.9,530.0 106.2,529.9 108.6,529.9 110.9,529.9 113.2,530.0 115.6,530.3 117.9,530.4 120.2,530.5 122.6,530.6 124.9,530.7 127.2,530.8 129.6,530.9 131.9,531.1 134.2,531.2 136.6,531.2 138.9,530.9 141.2,530.8 143.5,530.7 145.9,530.8 148.2,531.1 150.5,531.6 152.9,532.0 155.2,532.5 157.5,532.8 159.9,533.0 162.2,533.2 164.5,533.4 166.9,533.6 169.2,533.7 171.5,533.8 173.9,533.9 176.2,534.0 178.5,534.1 180.9,534.2 183.2,534.3 185.5,534.4 187.9,534.5 190.2,534.6 192.5,534.6 194.9,534.6 197.2,534.4 199.5,534.1 201.8,533.9 204.2,533.8 206.5,533.8 208.8,533.9 211.2,534.1 213.5,534.2 215.8,534.3 218.2,534.5 220.5,534.6 222.8,534.8 225.2,534.9 227.5,535.1 229.8,535.3 232.2,535.4 234.5,535.6 236.8,535.8 239.2,536.0 241.5,536.2 243.8,536.4 246.2,536.6 248.5,536.7 250.8,536.8 253.2,537.0 255.5,537.1 257.8,537.1 260.1,537.2 262.5,537.3 264.8,537.4 267.1,537.5 269.5,537.5 271.8,537.6 274.1,537.7 276.5,537.7 278.8,537.7 281.1,537.8 283.5,537.8 285.8,537.9 288.1,537.9 290.5,537.9 292.8,537.9 295.1,537.9 297.5,538.0 299.8,538.0 302.1,538.0 304.5,537.9 306.8,537.9 309.1,537.9 311.5,537.9 313.8,537.9 316.1,537.9 318.4,537.9 320.8,537.9 323.1,537.9 325.4,537.9 327.8,537.9 330.1,537.9 332.4,537.9 334.8,537.9 337.1,537.9 339.4,537.9 341.8,537.9 344.1,537.9 346.4,537.9 348.8,537.9 351.1,537.9 353.4,537.9 355.8,537.9 358.1,537.9 360.4,537.9 362.8,537.8 365.1,537.8 367.4,537.8 369.8,537.8 372.1,537.8 374.4,537.8 376.7,537.8 379.1,537.9 381.4,537.9 383.7,537.9 386.1,537.9 388.4,537.9 390.7,538.0 393.1,538.0 395.4,538.0 397.7,538.0 400.1,538.1 402.4,538.1 404.7,538.1 407.1,538.1 409.4,538.1 411.7,538.1 414.1,538.1" marker-end="url(#ar)"/>
<polyline points="52.6,536.5 54.9,536.5 57.3,536.4 59.6,536.3 61.9,536.0 64.3,535.8 66.6,535.5 68.9,535.2 71.3,535.0 73.6,534.8 75.9,534.6 78.3,534.3 80.6,534.1 82.9,533.8 85.2,533.5 87.6,533.0 89.9,532.5 92.2,531.9 94.6,531.3 96.9,530.4 99.2,529.8 101.6,529.1 103.9,528.3 106.2,527.0 108.6,525.9 110.9,524.7 113.2,523.1 115.6,521.8 117.9,521.0 120.2,520.5 122.6,519.9 124.9,520.1 127.2,520.0 129.6,520.2 131.9,520.3 134.2,520.2 136.6,520.4 138.9,520.7 141.2,521.2 143.5,521.4 145.9,521.8 148.2,521.8 150.5,521.9 152.9,522.2 155.2,522.9 157.5,523.6 159.9,524.6 162.2,525.6 164.5,526.4 166.9,526.8 169.2,527.2 171.5,527.4 173.9,527.6 176.2,527.6 178.5,528.1 180.9,528.7 183.2,529.1 185.5,529.7 187.9,530.3 190.2,530.6 192.5,530.7 194.9,530.9 197.2,531.0 199.5,531.0 201.8,531.0 204.2,531.1 206.5,531.1 208.8,531.3 211.2,531.5 213.5,531.7 215.8,531.7 218.2,531.9 220.5,531.9 222.8,531.7 225.2,531.5 227.5,531.4 229.8,531.2 232.2,531.1 234.5,531.2 236.8,531.6 239.2,532.1 241.5,532.5 243.8,532.8 246.2,533.2 248.5,533.4 250.8,533.7 253.2,533.8 255.5,534.0 257.8,534.1 260.1,534.2 262.5,534.3 264.8,534.3 267.1,534.3 269.5,534.3 271.8,534.0 274.1,533.8 276.5,533.5 278.8,533.2 281.1,533.0 283.5,532.9 285.8,532.7 288.1,532.6 290.5,532.5 292.8,532.5 295.1,532.6 297.5,532.7 299.8,532.7 302.1,532.8 304.5,532.9 306.8,532.9 309.1,533.0 311.5,533.3 313.8,533.5 316.1,533.7 318.4,533.8 320.8,533.8 323.1,533.9 325.4,533.9 327.8,533.9 330.1,533.9 332.4,534.0 334.8,534.0 337.1,533.9 339.4,533.9 341.8,534.0 344.1,534.0 346.4,534.1 348.8,534.2 351.1,534.4 353.4,534.6 355.8,534.8 358.1,535.0 360.4,535.2 362.8,535.3 365.1,535.3 367.4,535.3 369.8,535.3 372.1,535.3 374.4,535.4 376.7,535.5 379.1,535.7 381.4,535.8 383.7,535.9 386.1,536.0 388.4,536.1 390.7,536.1 393.1,536.2 395.4,536.2 397.7,536.1 400.1,536.1 402.4,536.1 404.7,536.0 407.1,536.0" marker-end="url(#ar)"/>
<polyline points="52.6,536.7 54.9,536.7 57.3,536.6 59.6,536.4 61.9,536.2 64.3,536.1 66.6,535.9 68.9,535.8 71.3,535.7 73.6,535.7 75.9,535.6 78.3,535.5 80.6,535.3 82.9,535.2 85.2,534.8 87.6,534.5 89.9,534.0 92.2,533.5 94.6,532.7 96.9,532.2 99.2,531.5 101.6,531.0 103.9,530.3 106.2,529.7 108.6,529.1 110.9,528.7 113.2,527.7 115.6,527.4 117.9,527.1 120.2,526.5 122.6,525.4 124.9,524.8 127.2,524.1 129.6,523.9 131.9,523.7 134.2,523.2 136.6,523.2 138.9,523.3 141.2,523.4 143.5,523.6 145.9,524.2 148.2,524.5 150.5,524.5 152.9,524.2 155.2,523.8 157.5,523.2 159.9,522.6 162.2,521.9 164.5,522.2 166.9,523.4 169.2,524.7 171.5,526.5 173.9,528.6 176.2,530.0 178.5,530.9 180.9,531.6 183.2,532.1 185.5,532.2 187.9,532.3 190.2,532.6 192.5,532.8 194.9,533.0 197.2,533.1 199.5,533.2 201.8,533.2 204.2,532.9 206.5,532.7 208.8,532.5 211.2,532.3 213.5,532.1 215.8,532.1 218.2,531.9 220.5,531.9 222.8,532.2 225.2,532.6 227.5,532.9 229.8,533.4 232.2,533.6 234.5,533.8 236.8,533.8 239.2,533.9 241.5,533.8 243.8,533.6 246.2,533.3 248.5,533.2 250.8,533.3 253.2,533.6 255.5,534.0 257.8,534.1 260.1,534.1 262.5,533.9 264.8,533.6 267.1,533.3 269.5,533.3 271.8,533.4 274.1,533.6 276.5,534.0 278.8,534.4 281.1,534.6 283.5,535.0 285.8,535.3 288.1,535.7 290.5,535.9 292.8,536.1 295.1,536.2 297.5,536.3 299.8,536.2 302.1,536.2 304.5,536.3 306.8,536.3 309.1,536.3 311.5,536.4 313.8,536.5 316.1,536.6 318.4,536.7 320.8,536.8 323.1,536.7 325.4,536.7 327.8,536.6 330.1,536.5 332.4,536.4 334.8,536.5 337.1,536.6 339.4,536.7 341.8,536.9 344.1,537.0 346.4,537.1 348.8,537.2 351.1,537.2 353.4,537.2 355.8,537.2 358.1,537.2 360.4,537.2 362.8,537.2 365.1,537.3 367.4,537.3 369.8,537.4 372.1,537.5 374.4,537.5 376.7,537.6 379.1,537.6 381.4,537.6 383.7,537.6 386.1,537.5 388.4,537.5 390.7,537.5 393.1,537.5 395.4,537.5 397.7,537.6 400.1,537.6 402.4,537.7 404.7,537.7 407.1,537.7 409.4,537.7 411.7,537.8 414.1,537.7 416.4,537.7 418.7,537.7 421.1,537.6 423.4,537.6 425.7,537.5 428.1,537.5 430.4,537.5 432.7,537.5 435.0,537.5 437.4,537.5 439.7,537.5 442.0,537.4 444.4,537.4 446.7,537.3 449.0,537.2 451.4,537.2 453.7,537.1 456.0,537.1 458.4,537.1 460.7,537.0" marker-end="url(#ar)"/>
<polyline points="52.6,536.8 54.9,536.8 57.3,536.8 59.6,536.7 61.9,536.6 64.3,536.5 66.6,536.4 68.9,536.3 71.3,536.2 73.6,536.1 75.9,535.9 78.3,535.7 80.6,535.5 82.9,535.2 85.2,534.9 87.6,534.6 89.9,534.4 92.2,534.1 94.6,533.9 96.9,533.7 99.2,533.5 101.6,533.4 103.9,533.3 106.2,533.1 108.6,532.8 110.9,532.1 113.2,531.5 115.6,530.8 117.9,530.3 120.2,529.7 122.6,529.4 124.9,529.1 127.2,529.0 129.6,529.0 131.9,529.1 134.2,529.2 136.6,529.7 138.9,529.9 141.2,530.2 143.5,530.6 145.9,531.0 148.2,531.1 150.5,531.4 152.9,531.5 155.2,531.4 157.5,531.3 159.9,531.3 162.2,531.0 164.5,530.7 166.9,530.5 169.2,530.2 171.5,529.9 173.9,530.0 176.2,530.6 178.5,531.0 180.9,531.3 183.2,531.5 185.5,531.7 187.9,531.7 190.2,531.6 192.5,531.5 194.9,531.5 197.2,531.3 199.5,531.0 201.8,530.9 204.2,530.8 206.5,531.1 208.8,531.2 211.2,531.3 213.5,531.6 215.8,531.8 218.2,531.7 220.5,531.9 222.8,532.0 225.2,531.9 227.5,531.8 229.8,532.0 232.2,532.0 234.5,531.9 236.8,531.8 239.2,531.7 241.5,531.6 243.8,531.3 246.2,531.3 248.5,531.4 250.8,531.6 253.2,531.6 255.5,531.7 257.8,531.6 260.1,531.5 262.5,531.4 264.8,531.2 267.1,531.2 269.5,531.3 271.8,531.3 274.1,531.3 276.5,531.2 278.8,531.1 281.1,530.6 283.5,530.4 285.8,529.8 288.1,529.5 290.5,528.9 292.8,528.7 295.1,528.4 297.5,528.3 299.8,528.3 302.1,528.8 304.5,529.0 306.8,529.1 309.1,529.4" marker-end="url(#ar)"/>
<polyline points="52.6,536.7 54.9,536.7 57.3,536.6 59.6,536.4 61.9,536.2 64.3,536.1 66.6,535.9 68.9,535.8 71.3,535.6 73.6,535.4 75.9,535.1 78.3,534.9 80.6,534.8 82.9,534.7 85.2,534.6 87.6,534.4 89.9,534.0 92.2,533.5 94.6,532.9 96.9,532.2 99.2,531.8 101.6,531.5 103.9,531.4 106.2,531.4 108.6,531.5 110.9,531.7 113.2,532.0 115.6,532.2 117.9,532.4 120.2,532.5 122.6,532.5 124.9,532.5 127.2,532.5 129.6,532.6 131.9,532.7 134.2,532.8 136.6,533.0 138.9,533.3 141.2,533.6 143.5,533.9 145.9,534.2 148.2,534.3 150.5,534.3 152.9,534.2 155.2,534.1 157.5,534.0 159.9,534.0 162.2,534.1 164.5,534.3 166.9,534.5 169.2,534.6 171.5,534.7 173.9,534.8 176.2,534.9 178.5,534.9 180.9,535.0 183.2,535.0 185.5,535.0 187.9,535.1 190.2,535.2 192.5,535.4 194.9,535.6 197.2,535.7 199.5,535.7 201.8,535.8 204.2,535.7 206.5,535.6 208.8,535.6 211.2,535.6 213.5,535.7 215.8,535.7 218.2,535.7 220.5,535.7 222.8,535.6 225.2,535.5 227.5,535.5 229.8,535.4 232.2,535.5 234.5,535.6 236.8,535.7 239.2,535.8 241.5,535.9 243.8,535.9 246.2,535.9 248.5,535.8 250.8,535.7 253.2,535.6 255.5,535.5 257.8,535.4 260.1,535.3 262.5,535.1 264.8,534.9 267.1,534.9 269.5,534.8 271.8,534.8 274.1,534.9 276.5,535.0 278.8,535.1 281.1,535.3 283.5,535.4 285.8,535.5 288.1,535.7 290.5,535.8 292.8,535.8 295.1,535.8 297.5,535.8 299.8,535.8 302.1,536.0 304.5,536.1 306.8,536.2 309.1,536.3 311.5,536.4 313.8,536.4 316.1,536.3 318.4,536.2 320.8,536.1 323.1,535.9 325.4,535.8 327.8,535.7 330.1,535.6 332.4,535.5 334.8,535.5 337.1,535.4 339.4,535.2 341.8,535.1 344.1,534.9 346.4,534.7 348.8,534.5 351.1,534.5 353.4,534.4 355.8,534.4 358.1,534.4 360.4,534.3 362.8,534.3 365.1,534.2 367.4,534.3 369.8,534.3 372.1,534.3 374.4,534.3 376.7,534.3 379.1,534.2 381.4,534.3 383.7,534.4 386.1,534.6 388.4,534.8 390.7,535.0 393.1,535.1 395.4,535.1 397.7,535.1 400.1,535.1 402.4,535.2 404.7,535.4 407.1,535.6 409.4,535.8 411.7,535.9 414.1,536.1 416.4,536.1 418.7,536.1 421.1,536.0 423.4,536.0 425.7,536.0 428.1,536.1 430.4,536.2 432.7,536.3 435.0,536.3 437.4,536.3 439.7,536.3 442.0,536.3 444.4,536.3 446.7,536.4 449.0,536.5 451.4,536.6 453.7,536.6 456.0,536.5 458.4,536.5 460.7,536.4 463.0,536.4 465.4,536.4 467.7,536.3 470.0,536.3 472.4,536.3 474.7,536.2 477.0,536.1 479.4,536.1 481.7,536.1 484.0,536.2 486.4,536.3 488.7,536.3 491.0,536.4 493.3,536.4" marker-end="url(#ar)"/>
<polyline points="52.6,536.4 54.9,536.2 57.3,536.1 59.6,535.8 61.9,535.5 64.3,535.1 66.6,534.8 68.9,534.6 71.3,534.4 73.6,534.3 75.9,534.2 78.3,534.2 80.6,534.2 82.9,534.2 85.2,534.1 87.6,534.0 89.9,534.0 92.2,533.9 94.6,533.6 96.9,533.5 99.2,533.5 101.6,533.8 103.9,534.0 106.2,534.3 108.6,534.5 110.9,534.6 113.2,534.6 115.6,534.6 117.9,534.5 120.2,534.5 122.6,534.7 124.9,534.9 127.2,535.0 129.6,535.2 131.9,535.3 134.2,535.5 136.6,535.6 138.9,535.7 141.2,535.8 143.5,535.9 145.9,535.9 148.2,535.8 150.5,535.8 152.9,535.7 155.2,535.7 157.5,535.6 159.9,535.6 162.2,535.5 164.5,535.3 166.9,535.0 169.2,534.7 171.5,534.5 173.9,534.3 176.2,534.1 178.5,534.0 180.9,534.0 183.2,534.0 185.5,533.9 187.9,534.0 190.2,534.0 192.5,534.0 194.9,534.0 197.2,534.2 199.5,534.4 201.8,534.6 204.2,534.8 206.5,535.1 208.8,535.3 211.2,535.4 213.5,535.5 215.8,535.7 218.2,535.7 220.5,535.7 222.8,535.7 225.2,535.8 227.5,535.8 229.8,536.0 232.2,536.1 234.5,536.2 236.8,536.3 239.2,536.3 241.5,536.3 243.8,536.2 246.2,536.1 248.5,536.0 250.8,535.9 253.2,535.8 255.5,535.8 257.8,535.8 260.1,535.8 262.5,535.8 264.8,535.8 267.1,535.8 269.5,535.8 271.8,535.7 274.1,535.7 276.5,535.7 278.8,535.8 281.1,535.8 283.5,535.8 285.8,535.8 288.1,535.7 290.5,535.7 292.8,535.6 295.1,535.6 297.5,535.6 299.8,535.6 302.1,535.6 304.5,535.5 306.8,535.5 309.1,535.4 311.5,535.3 313.8,535.3 316.1,535.2 318.4,535.1 320.8,534.9 323.1,534.8 325.4,534.4 327.8,534.1 330.1,533.7 332.4,533.4 334.8,533.0 337.1,532.9 339.4,532.7 341.8,532.7 344.1,532.5 346.4,532.2 348.8,531.9 351.1,531.6 353.4,531.2 355.8,530.9 358.1,530.8 360.4,530.7 362.8,530.5 365.1,530.5 367.4,530.6 369.8,530.9 372.1,531.2 374.4,531.4 376.7,531.6 379.1,531.9 381.4,532.1 383.7,532.4 386.1,532.8 388.4,533.2 390.7,533.4 393.1,533.5 395.4,533.5 397.7,533.3 400.1,533.0 402.4,532.8 404.7,532.6 407.1,532.6 409.4,532.6 411.7,532.7 414.1,532.6 416.4,532.5 418.7,532.4 421.1,532.3" marker-end="url(#ar)"/>
<polyline points="52.6,536.2 54.9,536.2 57.3,536.1 59.6,535.9 61.9,535.8 64.3,535.5 66.6,535.2 68.9,534.9 71.3,534.5 73.6,534.2 75.9,533.8 78.3,533.6 80.6,533.6 82.9,533.5 85.2,533.4 87.6,533.2 89.9,533.1 92.2,532.9 94.6,532.7 96.9,532.6 99.2,532.5 101.6,532.5 103.9,532.3 106.2,532.3 108.6,532.5 110.9,532.9 113.2,533.1 115.6,533.4 117.9,533.6 120.2,533.6 122.6,533.6 124.9,533.5 127.2,533.2 129.6,533.0 131.9,532.9 134.2,532.8 136.6,532.7 138.9,532.9 141.2,533.2 143.5,533.5 145.9,533.7 148.2,533.7 150.5,533.8 152.9,533.7 155.2,533.6 157.5,533.6 159.9,533.6 162.2,533.6 164.5,533.6 166.9,533.6 169.2,533.6 171.5,533.6 173.9,533.6 176.2,533.7 178.5,533.6 180.9,533.5 183.2,533.6 185.5,533.5 187.9,533.4 190.2,533.5 192.5,533.4 194.9,533.3 197.2,533.4 199.5,533.4 201.8,533.4 204.2,533.4 206.5,533.3 208.8,532.9 211.2,532.6 213.5,532.1 215.8,531.7 218.2,531.5 220.5,531.5 222.8,531.5 225.2,531.8 227.5,532.1 229.8,532.1 232.2,532.0 234.5,531.7 236.8,531.1 239.2,530.3 241.5,529.2 243.8,528.5 246.2,528.1 248.5,527.4 250.8,526.7 253.2,526.5 255.5,526.1 257.8,525.4 260.1,525.1 262.5,524.7 264.8,524.2 267.1,523.7 269.5,523.4 271.8,522.9 274.1,522.4 276.5,521.7 278.8,521.3 281.1,521.1 283.5,520.7 285.8,521.1 288.1,521.9 290.5,522.6 292.8,523.3 295.1,524.3 297.5,525.0 299.8,525.0 302.1,524.9 304.5,524.7 306.8,524.3 309.1,524.0 311.5,524.5 313.8,525.1 316.1,525.7 318.4,526.5 320.8,527.2 323.1,527.7 325.4,528.3 327.8,528.7 330.1,529.3 332.4,529.8 334.8,530.3 337.1,530.5 339.4,531.1 341.8,531.4 344.1,531.8 346.4,532.2 348.8,532.5 351.1,532.8 353.4,533.0 355.8,533.2 358.1,533.5 360.4,533.9 362.8,534.2 365.1,534.5 367.4,534.9 369.8,535.2 372.1,535.3 374.4,535.5 376.7,535.6 379.1,535.6 381.4,535.7 383.7,535.8 386.1,535.9 388.4,536.0 390.7,536.1 393.1,536.2 395.4,536.2 397.7,536.3 400.1,536.5 402.4,536.6 404.7,536.6 407.1,536.5 409.4,536.5 411.7,536.4 414.1,536.3 416.4,536.4 418.7,536.4 421.1,536.3 423.4,536.3 425.7,536.3 428.1,536.2 430.4,536.2 432.7,536.2 435.0,536.2 437.4,536.2 439.7,536.3 442.0,536.3 444.4,536.4 446.7,536.5 449.0,536.5 451.4,536.4 453.7,536.3 456.0,536.2 458.4,536.1 460.7,536.1 463.0,536.2 465.4,536.3 467.7,536.4 470.0,536.5 472.4,536.6 474.7,536.6 477.0,536.6 479.4,536.6 481.7,536.5 484.0,536.5" marker-end="url(#ar)"/>
<polyline points="52.6,536.5 54.9,536.4 57.3,536.3 59.6,535.9 61.9,535.6 64.3,535.2 66.6,534.9 68.9,534.5 71.3,534.1 73.6,533.8 75.9,533.3 78.3,532.7 80.6,532.2 82.9,531.5 85.2,530.9 87.6,530.1 89.9,529.0 92.2,527.9 94.6,527.0 96.9,526.2 99.2,526.1 101.6,526.8 103.9,527.4 106.2,527.9 108.6,528.5 110.9,528.9 113.2,529.3 115.6,529.8 117.9,530.4 120.2,530.8 122.6,531.2 124.9,531.5 127.2,531.8 129.6,532.1 131.9,532.7 134.2,533.3 136.6,533.9 138.9,534.3 141.2,534.6 143.5,534.8 145.9,534.9 148.2,535.0 150.5,535.1 152.9,535.2 155.2,535.4 157.5,535.4 159.9,535.4 162.2,535.5 164.5,535.5 166.9,535.5 169.2,535.6 171.5,535.7 173.9,535.8 176.2,535.9 178.5,536.0 180.9,536.0 183.2,536.1 185.5,536.2 187.9,536.3 190.2,536.4 192.5,536.4 194.9,536.5 197.2,536.6 199.5,536.7 201.8,536.8 204.2,536.9 206.5,537.0 208.8,537.1 211.2,537.1 213.5,537.2 215.8,537.2 218.2,537.3 220.5,537.4 222.8,537.4 225.2,537.5 227.5,537.5 229.8,537.6 232.2,537.6 234.5,537.7 236.8,537.7 239.2,537.8 241.5,537.8 243.8,537.8 246.2,537.9 248.5,537.9 250.8,537.9 253.2,537.9 255.5,537.9 257.8,538.0 260.1,538.0 262.5,537.9 264.8,537.9 267.1,537.9 269.5,537.9 271.8,537.9 274.1,537.9 276.5,537.9 278.8,537.9 281.1,537.9 283.5,537.9 285.8,538.0 288.1,538.0 290.5,538.0 292.8,538.0 295.1,538.0 297.5,538.0 299.8,538.0 302.1,538.0 304.5,538.0 306.8,538.0 309.1,538.0 311.5,538.0 313.8,538.0 316.1,538.0 318.4,538.0 320.8,538.0 323.1,538.1 325.4,538.1 327.8,538.1 330.1,538.1 332.4,538.1 334.8,538.1 337.1,538.1 339.4,538.1 341.8,538.1 344.1,538.1 346.4,538.1 348.8,538.2 351.1,538.2 353.4,538.2 355.8,538.2 358.1,538.2 360.4,538.2 362.8,538.2 365.1,538.2 367.4,538.2 369.8,538.2 372.1,538.2 374.4,538.2 376.7,538.2 379.1,538.2 381.4,538.2 383.7,538.2 386.1,538.2 388.4,538.2 390.7,538.2 393.1,538.2 395.4,538.2 397.7,538.2 400.1,538.2 402.4,538.2 404.7,538.2 407.1,538.2 409.4,538.2 411.7,538.2 414.1,538.2 416.4,538.2 418.7,538.2 421.1,538.2 423.4,538.2 425.7,538.2 428.1,538.2 430.4,538.2 432.7,538.2 435.0,538.2 437.4,538.2 439.7,538.2 442.0,538.2 444.4,538.2 446.7,538.2 449.0,538.2 451.4,538.2 453.7,538.2 456.0,538.2 458.4,538.2 460.7,538.2 463.0,538.2 465.4,538.2 467.7,538.2 470.0,538.2 472.4,538.2 474.7,538.2 477.0,538.2" marker-end="url(#ar)"/>
<polyline points="52.6,536.7 54.9,536.7 57.3,536.6 59.6,536.4 61.9,536.2 64.3,536.0 66.6,535.7 68.9,535.4 71.3,535.1 73.6,534.8 75.9,534.5 78.3,534.1 80.6,533.8 82.9,533.3 85.2,532.7 87.6,532.1 89.9,531.3 92.2,530.6 94.6,530.0 96.9,529.7 99.2,529.6 101.6,529.6 103.9,529.3 106.2,528.6 108.6,527.9 110.9,527.1 113.2,526.3 115.6,526.0 117.9,526.4 120.2,526.7 122.6,526.9 124.9,527.0 127.2,527.2 129.6,527.3 131.9,527.5 134.2,528.0 136.6,528.6 138.9,529.3 141.2,530.0 143.5,530.6 145.9,531.2 148.2,531.7 150.5,532.4 152.9,532.8 155.2,533.2 157.5,533.4 159.9,533.5 162.2,533.4 164.5,533.2 166.9,533.0 169.2,532.9 171.5,532.8 173.9,532.9 176.2,533.0 178.5,533.1 180.9,533.2 183.2,533.3 185.5,533.4 187.9,533.5 190.2,533.4 192.5,533.1 194.9,532.8 197.2,532.5 199.5,532.0 201.8,531.8 204.2,531.4 206.5,530.9 208.8,530.6 211.2,530.3 213.5,530.0 215.8,529.8 218.2,529.6 220.5,529.2 222.8,529.0 225.2,528.8 227.5,528.7 229.8,528.9 232.2,529.3 234.5,529.8 236.8,530.2 239.2,530.6 241.5,530.7 243.8,530.6 246.2,530.5 248.5,530.4 250.8,530.3 253.2,530.4 255.5,530.6 257.8,530.6 260.1,530.5 262.5,530.6 264.8,530.8 267.1,531.1 269.5,531.5 271.8,531.9 274.1,532.2 276.5,532.4 278.8,532.7 281.1,533.0 283.5,533.4 285.8,533.8 288.1,534.1 290.5,534.3 292.8,534.3 295.1,534.2 297.5,534.3 299.8,534.4 302.1,534.7 304.5,535.0 306.8,535.4 309.1,535.6 311.5,535.8 313.8,535.9 316.1,535.9 318.4,536.0 320.8,536.2 323.1,536.3 325.4,536.4 327.8,536.6 330.1,536.6 332.4,536.7 334.8,536.7 337.1,536.7 339.4,536.7 341.8,536.8 344.1,536.9 346.4,537.0 348.8,537.1 351.1,537.2 353.4,537.2 355.8,537.3 358.1,537.3 360.4,537.3 362.8,537.3 365.1,537.3 367.4,537.3 369.8,537.4 372.1,537.4 374.4,537.4 376.7,537.4 379.1,537.4 381.4,537.5 383.7,537.5 386.1,537.5 388.4,537.6 390.7,537.6 393.1,537.6 395.4,537.6 397.7,537.6 400.1,537.7 402.4,537.7 404.7,537.7 407.1,537.7 409.4,537.6 411.7,537.6 414.1,537.6 416.4,537.7 418.7,537.7 421.1,537.7 423.4,537.7 425.7,537.7 428.1,537.7 430.4,537.6 432.7,537.6 435.0,537.6 437.4,537.6 439.7,537.6 442.0,537.6 444.4,537.6 446.7,537.5 449.0,537.5 451.4,537.5 453.7,537.5 456.0,537.5 458.4,537.5 460.7,537.4 463.0,537.4 465.4,537.4 467.7,537.3 470.0,537.3 472.4,537.3" marker-end="url(#ar)"/>
<polyline points="52.6,536.7 54.9,536.7 57.3,536.7 59.6,536.6 61.9,536.5 64.3,536.4 66.6,536.2 68.9,536.0 71.3,535.8 73.6,535.6 75.9,535.5 78.3,535.3 80.6,535.2 82.9,535.0 85.2,534.9 87.6,534.7 89.9,534.6 92.2,534.5 94.6,534.5 96.9,534.4 99.2,534.4 101.6,534.5 103.9,534.6 106.2,534.8 108.6,535.0 110.9,535.3 113.2,535.4 115.6,535.6 117.9,535.8 120.2,536.0 122.6,536.2 124.9,536.3 127.2,536.4 129.6,536.5 131.9,536.6 134.2,536.7 136.6,536.7 138.9,536.9 141.2,537.0 143.5,537.1 145.9,537.1 148.2,537.1 150.5,537.1 152.9,537.1 155.2,537.1 157.5,537.1 159.9,537.2 162.2,537.2 164.5,537.3 166.9,537.4 169.2,537.4 171.5,537.5 173.9,537.5 176.2,537.5 178.5,537.5 180.9,537.4 183.2,537.4 185.5,537.3 187.9,537.3 190.2,537.3 192.5,537.4 194.9,537.4 197.2,537.5 199.5,537.6 201.8,537.6 204.2,537.7 206.5,537.7 208.8,537.7 211.2,537.8 213.5,537.8 215.8,537.8 218.2,537.9 220.5,537.9 222.8,537.9 225.2,537.9 227.5,537.9 229.8,537.9 232.2,538.0 234.5,538.0 236.8,538.0 239.2,538.1 241.5,538.1 243.8,538.1 246.2,538.1 248.5,538.1 250.8,538.1 253.2,538.1 255.5,538.1 257.8,538.2 260.1,538.1 262.5,538.2 264.8,538.2 267.1,538.2 269.5,538.2 271.8,538.2 274.1,538.2 276.5,538.2 278.8,538.2 281.1,538.2 283.5,538.2 285.8,538.2 288.1,538.2 290.5,538.2 292.8,538.2 295.1,538.2 297.5,538.2 299.8,538.2 302.1,538.2 304.5,538.2 306.8,538.2 309.1,538.2 311.5,538.2 313.8,538.2 316.1,538.2 318.4,538.2 320.8,538.2 323.1,538.2 325.4,538.2 327.8,538.2 330.1,538.2 332.4,538.2 334.8,538.2 337.1,538.3 339.4,538.3 341.8,538.3 344.1,538.3 346.4,538.3 348.8,538.3 351.1,538.3 353.4,538.3 355.8,538.3 358.1,538.3 360.4,538.3 362.8,538.3 365.1,538.3 367.4,538.3 369.8,538.3 372.1,538.3 374.4,538.3 376.7,538.3 379.1,538.3 381.4,538.3 383.7,538.3 386.1,538.3 388.4,538.3 390.7,538.3 393.1,538.3 395.4,538.3 397.7,538.3 400.1,538.3 402.4,538.3 404.7,538.3 407.1,538.3 409.4,538.3 411.7,538.3 414.1,538.3 416.4,538.3 418.7,538.3 421.1,538.3 423.4,538.3 425.7,538.3 428.1,538.3 430.4,538.3 432.7,538.3 435.0,538.3 437.4,538.3 439.7,538.3 442.0,538.3 444.4,538.3 446.7,538.3 449.0,538.3 451.4,538.3 453.7,538.3 456.0,538.3 458.4,538.3" marker-end="url(#ar)"/>
<polyline points="52.6,536.9 54.9,536.9 57.3,536.8 59.6,536.7 61.9,536.6 64.3,536.4 66.6,536.3 68.9,535.9 71.3,535.6 73.6,535.3 75.9,534.9 78.3,534.6 80.6,534.4 82.9,534.3 85.2,534.3 87.6,534.2 89.9,534.1 92.2,534.0 94.6,533.9 96.9,533.9 99.2,533.8 101.6,533.6 103.9,533.3 106.2,532.9 108.6,532.5 110.9,532.3 113.2,532.1 115.6,532.0 117.9,531.9 120.2,531.7 122.6,531.2 124.9,530.7 127.2,530.1 129.6,529.9 131.9,529.6 134.2,529.5 136.6,529.5 138.9,529.9 141.2,530.1 143.5,530.4 145.9,530.8 148.2,531.1 150.5,531.3 152.9,531.6 155.2,532.1 157.5,532.5 159.9,533.1 162.2,533.6 164.5,533.7 166.9,533.8 169.2,533.9 171.5,534.1 173.9,534.3 176.2,534.5 178.5,534.7 180.9,534.8 183.2,534.8 185.5,534.6 187.9,534.4 190.2,534.1 192.5,533.8 194.9,533.4 197.2,533.2 199.5,533.2 201.8,533.4 204.2,533.5 206.5,533.9 208.8,534.1 211.2,534.3 213.5,534.5 215.8,534.7 218.2,534.8 220.5,534.8 222.8,534.8 225.2,534.8 227.5,534.7 229.8,534.7 232.2,534.7 234.5,534.8 236.8,534.8 239.2,534.9 241.5,535.0 243.8,535.0 246.2,535.0 248.5,535.0 250.8,534.9 253.2,534.9 255.5,535.0 257.8,535.1 260.1,535.2 262.5,535.2 264.8,535.1 267.1,535.0 269.5,534.8 271.8,534.6 274.1,534.5 276.5,534.4 278.8,534.3 281.1,534.2 283.5,534.2 285.8,533.8 288.1,533.6 290.5,533.2 292.8,532.7 295.1,532.3 297.5,532.1 299.8,531.9 302.1,531.8 304.5,531.6 306.8,531.5 309.1,531.2 311.5,530.9 313.8,530.6 316.1,530.3 318.4,530.1 320.8,530.4 323.1,531.1 325.4,531.5 327.8,532.2 330.1,532.7 332.4,533.0 334.8,533.1 337.1,533.2 339.4,533.0 341.8,532.6 344.1,532.3 346.4,532.4 348.8,532.4 351.1,532.5 353.4,532.6 355.8,532.5 358.1,532.0 360.4,531.7 362.8,531.5 365.1,531.2 367.4,531.0 369.8,530.9 372.1,530.9 374.4,531.1 376.7,531.4 379.1,531.8 381.4,532.4 383.7,532.7 386.1,532.9 388.4,533.0 390.7,533.3 393.1,533.4 395.4,533.6 397.7,533.9 400.1,534.0 402.4,534.2 404.7,534.4 407.1,534.6 409.4,534.8 411.7,535.1 414.1,535.3 416.4,535.4 418.7,535.6 421.1,535.8 423.4,535.9 425.7,536.0 428.1,536.1 430.4,536.2 432.7,536.3 435.0,536.3 437.4,536.3 439.7,536.5 442.0,536.5 444.4,536.6 446.7,536.6 449.0,536.6 451.4,536.5 453.7,536.4 456.0,536.4 458.4,536.3 460.7,536.3 463.0,536.2 465.4,536.2 467.7,536.2 470.0,536.1 472.4,536.1" marker-end="url(#ar)"/>
<polyline points="52.6,536.9 54.9,536.9 57.3,537.0 59.6,537.0 61.9,537.1 64.3,537.1 66.6,537.2 68.9,537.2 71.3,537.3 73.6,537.3 75.9,537.3 78.3,537.2 80.6,537.0 82.9,536.9 85.2,536.7 87.6,536.6 89.9,536.6 92.2,536.5 94.6,536.5 96.9,536.5 99.2,536.5 101.6,536.5 103.9,536.5 106.2,536.5 108.6,536.4 110.9,536.3 113.2,536.3 115.6,536.4 117.9,536.4 120.2,536.4 122.6,536.4 124.9,536.2 127.2,536.2 129.6,536.2 131.9,536.2 134.2,536.1 136.6,536.1 138.9,535.8 141.2,535.5 143.5,535.2 145.9,534.9 148.2,534.6 150.5,534.5 152.9,534.4 155.2,534.2 157.5,534.1 159.9,534.0 162.2,533.9 164.5,533.7 166.9,533.5 169.2,533.1 171.5,532.8 173.9,532.7 176.2,532.6 178.5,532.5 180.9,532.4 183.2,532.4 185.5,532.2 187.9,532.2 190.2,532.5 192.5,532.7 194.9,533.0 197.2,533.3 199.5,533.4 201.8,533.8 204.2,534.1 206.5,534.4 208.8,534.7 211.2,534.9 213.5,534.9 215.8,534.9 218.2,535.0 220.5,534.9 222.8,535.0 225.2,534.9 227.5,534.9 229.8,534.8 232.2,534.7 234.5,534.5 236.8,534.4 239.2,534.4 241.5,534.4 243.8,534.4 246.2,534.6 248.5,534.8 250.8,535.0 253.2,535.4 255.5,535.7 257.8,535.8 260.1,535.9 262.5,536.0 264.8,536.0 267.1,536.1 269.5,536.2 271.8,536.3 274.1,536.4 276.5,536.4 278.8,536.4 281.1,536.5 283.5,536.6 285.8,536.7 288.1,536.8 290.5,536.9 292.8,537.0 295.1,537.0 297.5,537.0 299.8,537.0 302.1,537.1 304.5,537.1 306.8,537.1 309.1,537.2 311.5,537.2 313.8,537.3 316.1,537.3 318.4,537.4 320.8,537.4 323.1,537.5 325.4,537.5 327.8,537.5 330.1,537.5 332.4,537.6 334.8,537.6 337.1,537.5 339.4,537.5 341.8,537.5 344.1,537.5 346.4,537.5 348.8,537.5 351.1,537.5 353.4,537.5 355.8,537.4 358.1,537.4 360.4,537.3 362.8,537.3 365.1,537.4 367.4,537.5 369.8,537.5 372.1,537.6 374.4,537.6 376.7,537.6 379.1,537.6 381.4,537.6 383.7,537.6 386.1,537.5 388.4,537.5 390.7,537.4 393.1,537.4 395.4,537.3 397.7,537.4 400.1,537.4 402.4,537.5 404.7,537.6 407.1,537.7 409.4,537.7 411.7,537.8 414.1,537.8 416.4,537.8 418.7,537.8 421.1,537.8 423.4,537.9 425.7,537.9 428.1,537.9 430.4,537.9 432.7,538.0 435.0,538.0 437.4,538.0 439.7,538.0 442.0,538.0 444.4,538.0 446.7,538.1 449.0,538.1 451.4,538.1 453.7,538.1 456.0,538.1 458.4,538.0 460.7,538.1 463.0,538.1 465.4,538.1 467.7,538.1" marker-end="url(#ar)"/>
<polyline points="52.6,536.9 54.9,536.8 57.3,536.8 59.6,536.7 61.9,536.6 64.3,536.5 66.6,536.5 68.9,536.4 71.3,536.3 73.6,536.3 75.9,536.2 78.3,536.0 80.6,535.9 82.9,535.8 85.2,535.8 87.6,535.7 89.9,535.6 92.2,535.4 94.6,535.1 96.9,534.7 99.2,534.2 101.6,533.6 103.9,532.9 106.2,532.2 108.6,531.4 110.9,530.3 113.2,529.1 115.6,527.9 117.9,526.6 120.2,525.1 122.6,524.2 124.9,523.4 127.2,522.9 129.6,522.8 131.9,522.5 134.2,522.0 136.6,521.3 138.9,520.1 141.2,518.8 143.5,517.3 145.9,516.6 148.2,516.6 150.5,516.8 152.9,516.4 155.2,516.8 157.5,516.9 159.9,516.8 162.2,517.9 164.5,519.3 166.9,520.2 169.2,521.0 171.5,521.6 173.9,522.0 176.2,522.7 178.5,523.4 180.9,523.6 183.2,524.1 185.5,524.5 187.9,524.6 190.2,524.8 192.5,525.6 194.9,526.4 197.2,527.0 199.5,527.3 201.8,527.4 204.2,526.8 206.5,526.3 208.8,525.5 211.2,525.0 213.5,524.9 215.8,525.4 218.2,525.6 220.5,525.7 222.8,525.7 225.2,525.3 227.5,524.1 229.8,522.6 232.2,521.5 234.5,520.6 236.8,519.7 239.2,519.8 241.5,520.7 243.8,522.0 246.2,522.8 248.5,523.8 250.8,523.6 253.2,522.6 255.5,521.0 257.8,520.1 260.1,519.3 262.5,519.5 264.8,520.1 267.1,520.7 269.5,520.9 271.8,521.2 274.1,521.0 276.5,521.1 278.8,521.4 281.1,521.6 283.5,522.0 285.8,522.5 288.1,522.8 290.5,523.1 292.8,523.2 295.1,523.0 297.5,523.2 299.8,523.7 302.1,524.1 304.5,525.0 306.8,525.7 309.1,526.2 311.5,526.7 313.8,527.1 316.1,526.6 318.4,526.5 320.8,526.3 323.1,525.6 325.4,524.8 327.8,524.7 330.1,524.3 332.4,524.1 334.8,524.0 337.1,524.3 339.4,524.6 341.8,525.2 344.1,525.8 346.4,527.1 348.8,528.2 351.1,528.6 353.4,528.8 355.8,528.5 358.1,528.2 360.4,527.7 362.8,527.5 365.1,527.1 367.4,527.0 369.8,526.2 372.1,525.5 374.4,524.9 376.7,524.5 379.1,523.9 381.4,523.7 383.7,523.7 386.1,524.1 388.4,524.7 390.7,525.7 393.1,526.1 395.4,526.4 397.7,526.3 400.1,526.0 402.4,525.7 404.7,525.5 407.1,525.7 409.4,526.1 411.7,526.5 414.1,526.7 416.4,527.1 418.7,527.4 421.1,527.6 423.4,527.7 425.7,527.7 428.1,527.3 430.4,526.7 432.7,526.1 435.0,525.4 437.4,524.8 439.7,524.4 442.0,524.4 444.4,524.4 446.7,524.4 449.0,524.9 451.4,525.2 453.7,525.4 456.0,525.5 458.4,525.5 460.7,525.2 463.0,524.8 465.4,524.5 467.7,524.1 470.0,524.4 472.4,524.6 474.7,525.2 477.0,526.0 479.4,526.5 481.7,526.6" marker-end="url(#ar)"/>
<polyline points="52.6,536.8 54.9,536.8 57.3,536.8 59.6,536.7 61.9,536.6 64.3,536.4 66.6,536.3 68.9,536.2 71.3,536.1 73.6,536.1 75.9,536.0 78.3,536.0 80.6,536.0 82.9,536.0 85.2,536.1 87.6,536.1 89.9,536.1 92.2,536.1 94.6,536.0 96.9,535.7 99.2,535.4 101.6,535.0 103.9,534.6 106.2,534.2 108.6,533.8 110.9,533.5 113.2,533.1 115.6,532.6 117.9,531.9 120.2,531.4 122.6,530.5 124.9,529.9 127.2,529.2 129.6,528.7 131.9,528.4 134.2,528.0 136.6,527.7 138.9,527.5 141.2,527.2 143.5,526.8 145.9,526.6 148.2,526.3 150.5,526.3 152.9,526.3 155.2,526.3 157.5,525.9 159.9,525.7 162.2,525.6 164.5,525.3 166.9,525.4 169.2,525.8 171.5,526.6 173.9,527.0 176.2,527.4 178.5,527.7 180.9,528.1 183.2,527.9 185.5,527.7 187.9,527.5 190.2,527.3 192.5,526.6 194.9,526.2 197.2,525.8 199.5,525.5 201.8,524.8 204.2,524.8 206.5,524.9 208.8,525.4 211.2,525.8 213.5,526.7 215.8,527.2 218.2,527.4 220.5,527.4 222.8,527.7 225.2,527.9 227.5,528.4 229.8,528.9 232.2,529.8 234.5,530.1 236.8,530.2 239.2,530.1 241.5,530.0 243.8,529.3 246.2,529.1 248.5,528.7 250.8,528.4 253.2,527.9 255.5,527.9 257.8,527.7 260.1,527.8 262.5,528.0 264.8,528.1 267.1,527.6 269.5,527.4 271.8,527.1 274.1,527.4 276.5,528.1 278.8,529.2 281.1,529.7 283.5,530.0 285.8,529.9 288.1,529.5 290.5,528.9 292.8,528.4 295.1,528.3 297.5,527.9 299.8,528.1 302.1,528.4 304.5,528.9 306.8,529.1 309.1,529.3 311.5,529.1 313.8,528.8 316.1,528.5 318.4,527.9 320.8,527.8 323.1,527.9 325.4,527.9 327.8,527.7 330.1,527.6 332.4,527.3 334.8,526.7 337.1,526.0 339.4,525.8 341.8,525.6 344.1,525.1 346.4,525.0 348.8,525.4 351.1,525.3 353.4,525.1 355.8,525.2 358.1,525.4 360.4,525.4 362.8,525.4 365.1,525.3 367.4,525.5 369.8,525.1 372.1,524.4 374.4,523.7 376.7,523.3 379.1,522.8 381.4,523.0 383.7,523.6 386.1,524.6 388.4,525.4 390.7,526.1 393.1,526.7 395.4,527.5 397.7,528.3 400.1,528.8 402.4,529.4 404.7,529.7 407.1,529.8 409.4,530.1 411.7,530.6 414.1,531.0 416.4,531.5 418.7,532.1 421.1,532.6 423.4,533.1 425.7,533.6 428.1,534.0 430.4,534.1 432.7,534.3" marker-end="url(#ar)"/>
<polyline points="52.6,536.1 54.9,536.0 57.3,535.9 59.6,535.8 61.9,535.6 64.3,535.6 66.6,535.5 68.9,535.4 71.3,535.2 73.6,535.1 75.9,535.0 78.3,535.1 80.6,535.2 82.9,535.2 85.2,535.4 87.6,535.4 89.9,535.2 92.2,535.0 94.6,534.8 96.9,534.3 99.2,533.7 101.6,533.3 103.9,533.1 106.2,533.1 108.6,533.2 110.9,533.3 113.2,533.5 115.6,533.3 117.9,533.1 120.2,532.6 122.6,531.8 124.9,530.7 127.2,529.4 129.6,527.9 131.9,526.0 134.2,524.5 136.6,523.6 138.9,523.4 141.2,523.6 143.5,524.7 145.9,525.5 148.2,526.0 150.5,525.9 152.9,525.6 155.2,525.2 157.5,524.7 159.9,524.0 162.2,523.8 164.5,523.3 166.9,523.0 169.2,523.0 171.5,523.3 173.9,523.6 176.2,524.2 178.5,524.6 180.9,524.9 183.2,525.3 185.5,525.3 187.9,525.0 190.2,524.9 192.5,524.4 194.9,524.2 197.2,523.9 199.5,523.5 201.8,523.0 204.2,522.9 206.5,521.9 208.8,520.8 211.2,519.9 213.5,519.9 215.8,519.9 218.2,520.6 220.5,522.1 222.8,523.1 225.2,523.0 227.5,523.0 229.8,523.5 232.2,524.0 234.5,525.3 236.8,526.9 239.2,528.6 241.5,530.0 243.8,530.8 246.2,531.6 248.5,532.2 250.8,532.7 253.2,532.8 255.5,533.1 257.8,533.4 260.1,533.7 262.5,533.8 264.8,534.0 267.1,534.1 269.5,534.1 271.8,534.0 274.1,534.2 276.5,534.3 278.8,534.3 281.1,534.3 283.5,534.4 285.8,534.4 288.1,534.4 290.5,534.4 292.8,534.5 295.1,534.5 297.5,534.6 299.8,534.7 302.1,534.9 304.5,535.0 306.8,535.1 309.1,535.2 311.5,535.1 313.8,535.0 316.1,534.8 318.4,534.6 320.8,534.2 323.1,533.9 325.4,533.7 327.8,533.5 330.1,533.4 332.4,533.3 334.8,533.3 337.1,533.4 339.4,533.7 341.8,534.1 344.1,534.2 346.4,534.3 348.8,534.2 351.1,534.2 353.4,534.1 355.8,533.9 358.1,533.8 360.4,533.6 362.8,533.2 365.1,533.0 367.4,532.9 369.8,532.9 372.1,533.1 374.4,533.2 376.7,533.0 379.1,532.6 381.4,532.3 383.7,531.8 386.1,531.5 388.4,531.6 390.7,532.1 393.1,532.5 395.4,533.0 397.7,533.3 400.1,533.7 402.4,533.9 404.7,534.0 407.1,534.2 409.4,534.4 411.7,534.4 414.1,534.5 416.4,534.6 418.7,534.8 421.1,534.9 423.4,535.2 425.7,535.5 428.1,535.8 430.4,536.1 432.7,536.2 435.0,536.3 437.4,536.4 439.7,536.3 442.0,536.2 444.4,536.1 446.7,535.9 449.0,535.6 451.4,535.4 453.7,535.1 456.0,534.7 458.4,534.5 460.7,534.3" marker-end="url(#ar)"/>
<polyline points="52.6,536.7 54.9,536.7 57.3,536.6 59.6,536.5 61.9,536.4 64.3,536.3 66.6,536.1 68.9,536.0 71.3,535.8 73.6,535.7 75.9,535.6 78.3,535.4 80.6,535.2 82.9,534.9 85.2,534.5 87.6,533.9 89.9,533.4 92.2,532.9 94.6,532.5 96.9,532.0 99.2,531.4 101.6,531.0 103.9,530.7 106.2,530.4 108.6,530.0 110.9,529.5 113.2,529.0 115.6,528.2 117.9,527.3 120.2,526.7 122.6,526.3 124.9,525.3 127.2,524.3 129.6,523.1 131.9,521.4 134.2,519.3 136.6,517.9 138.9,515.8 141.2,512.9 143.5,509.7 145.9,506.6 148.2,502.7 150.5,499.2 152.9,497.0 155.2,493.7 157.5,489.6 159.9,485.6 162.2,481.8 164.5,478.0 166.9,476.9 169.2,478.8 171.5,481.2 173.9,483.4 176.2,485.2 178.5,486.6 180.9,487.4 183.2,489.0 185.5,491.2 187.9,494.3 190.2,497.7 192.5,499.4 194.9,500.5 197.2,501.5 199.5,501.5 201.8,502.0 204.2,503.0 206.5,503.9 208.8,505.0 211.2,506.4 213.5,507.0 215.8,507.6 218.2,508.4 220.5,508.5 222.8,508.3 225.2,508.3 227.5,508.2 229.8,507.8 232.2,507.6 234.5,507.5 236.8,507.2 239.2,507.3 241.5,507.7 243.8,508.9 246.2,509.9 248.5,510.2 250.8,510.2 253.2,510.2 255.5,509.5 257.8,509.3 260.1,509.4 262.5,509.2 264.8,508.2 267.1,506.4 269.5,504.2 271.8,502.7 274.1,500.7 276.5,499.7 278.8,499.9 281.1,500.5 283.5,500.2 285.8,500.9 288.1,501.5 290.5,501.4 292.8,501.4 295.1,502.2 297.5,502.8 299.8,503.2 302.1,504.0 304.5,505.0 306.8,506.0 309.1,505.9 311.5,505.4 313.8,504.9 316.1,503.8 318.4,501.8 320.8,500.6 323.1,499.4 325.4,499.1 327.8,498.5 330.1,498.3 332.4,498.3 334.8,498.9 337.1,498.5 339.4,498.9 341.8,499.8 344.1,500.2 346.4,500.6 348.8,501.4 351.1,502.4 353.4,502.5 355.8,503.7 358.1,504.6 360.4,504.9 362.8,504.4 365.1,504.8 367.4,504.7 369.8,504.8 372.1,504.9 374.4,505.9 376.7,507.0 379.1,508.2 381.4,510.0 383.7,512.1 386.1,513.5 388.4,514.3 390.7,514.5 393.1,514.9 395.4,515.3 397.7,515.6 400.1,516.0 402.4,516.6 404.7,517.0 407.1,517.1 409.4,517.4 411.7,517.7 414.1,518.1 416.4,518.4 418.7,518.8 421.1,518.9 423.4,518.9 425.7,519.0 428.1,518.9 430.4,518.8" marker-end="url(#ar)"/>
<polyline points="52.6,536.8 54.9,536.8 57.3,536.7 59.6,536.5 61.9,536.3 64.3,536.0 66.6,535.6 68.9,535.2 71.3,535.0 73.6,534.9 75.9,534.9 78.3,534.9 80.6,534.9 82.9,534.8 85.2,534.4 87.6,534.0 89.9,533.5 92.2,533.1 94.6,532.4 96.9,531.8 99.2,531.0 101.6,530.1 103.9,528.4 106.2,526.9 108.6,524.7 110.9,522.3 113.2,520.0 115.6,518.8 117.9,517.8 120.2,516.7 122.6,515.7 124.9,515.2 127.2,514.3 129.6,512.5 131.9,512.0 134.2,511.7 136.6,511.0 138.9,511.2 141.2,511.6 143.5,512.4 145.9,514.0 148.2,515.7 150.5,517.0 152.9,518.6 155.2,519.4 157.5,520.0 159.9,519.9 162.2,519.5 164.5,519.1 166.9,518.7 169.2,518.4 171.5,519.1 173.9,519.7 176.2,519.9 178.5,521.0 180.9,521.4 183.2,521.3 185.5,521.4 187.9,521.9 190.2,521.9 192.5,521.0 194.9,520.5 197.2,520.2 199.5,520.0 201.8,519.7 204.2,521.2 206.5,521.9 208.8,522.1 211.2,522.2 213.5,521.5 215.8,520.3 218.2,519.2 220.5,519.1 222.8,518.3 225.2,518.1 227.5,517.5 229.8,516.8 232.2,514.8 234.5,514.6 236.8,513.8 239.2,513.6 241.5,514.9 243.8,517.0 246.2,518.1 248.5,519.5 250.8,520.7 253.2,521.9 255.5,522.6 257.8,523.1 260.1,523.5 262.5,523.4 264.8,522.3 267.1,522.1 269.5,522.3 271.8,522.9 274.1,524.1 276.5,525.1 278.8,525.5 281.1,526.3 283.5,527.5 285.8,528.3 288.1,529.2 290.5,530.3 292.8,531.2 295.1,531.7 297.5,532.5 299.8,533.3 302.1,533.8 304.5,534.1 306.8,534.3 309.1,534.4 311.5,534.3" marker-end="url(#ar)"/>
<polyline points="52.6,536.5 54.9,536.4 57.3,536.3 59.6,536.1 61.9,535.9 64.3,535.6 66.6,535.2 68.9,534.8 71.3,534.5 73.6,534.3 75.9,534.1 78.3,533.9 80.6,533.6 82.9,533.1 85.2,532.5 87.6,531.9 89.9,531.5 92.2,531.0 94.6,530.7 96.9,530.0 99.2,529.5 101.6,528.6 103.9,527.0 106.2,525.1 108.6,522.4 110.9,518.6 113.2,514.6 115.6,512.1 117.9,511.1 120.2,510.5 122.6,511.5 124.9,512.9 127.2,514.2 129.6,514.3 131.9,515.0 134.2,515.5 136.6,515.3 138.9,515.3 141.2,515.6 143.5,515.3 145.9,516.0 148.2,516.9 150.5,517.2 152.9,517.0 155.2,517.8 157.5,517.8 159.9,517.4 162.2,517.9 164.5,518.8 166.9,519.8 169.2,520.8 171.5,521.9 173.9,522.5 176.2,522.7 178.5,522.0 180.9,521.0 183.2,519.8 185.5,517.9 187.9,516.5 190.2,515.5 192.5,514.6 194.9,514.4 197.2,515.6 199.5,516.2 201.8,516.9 204.2,517.2 206.5,518.2 208.8,519.2 211.2,519.6 213.5,521.2 215.8,523.0 218.2,524.0 220.5,523.9 222.8,524.1 225.2,523.5 227.5,522.4 229.8,521.2 232.2,520.7 234.5,519.9 236.8,519.0 239.2,518.2 241.5,517.6 243.8,516.6 246.2,516.7 248.5,516.1 250.8,515.8 253.2,515.9 255.5,517.2 257.8,517.8 260.1,518.7 262.5,518.7 264.8,518.3 267.1,517.2 269.5,516.0 271.8,514.9 274.1,514.8 276.5,515.4 278.8,515.5 281.1,516.6 283.5,518.6 285.8,520.3 288.1,521.9 290.5,523.6 292.8,524.8 295.1,525.4 297.5,525.8 299.8,526.0 302.1,525.5 304.5,525.0 306.8,524.8 309.1,524.9 311.5,524.8 313.8,525.2 316.1,525.9 318.4,525.8 320.8,525.1 323.1,524.8 325.4,523.8 327.8,522.6 330.1,521.9 332.4,522.1 334.8,521.4 337.1,521.4 339.4,521.6 341.8,521.8 344.1,521.2 346.4,521.5 348.8,521.6 351.1,521.1 353.4,521.0 355.8,520.9 358.1,520.2 360.4,520.1 362.8,521.2 365.1,521.8 367.4,522.5 369.8,523.4 372.1,524.0 374.4,523.9 376.7,524.0 379.1,524.4 381.4,524.4 383.7,524.1 386.1,523.8 388.4,523.7 390.7,523.3 393.1,523.0 395.4,523.1 397.7,523.5 400.1,523.2 402.4,523.2 404.7,523.2 407.1,523.3 409.4,523.1" marker-end="url(#ar)"/>
<polyline points="52.6,536.6 54.9,536.5 57.3,536.5 59.6,536.4 61.9,536.4 64.3,536.3 66.6,536.2 68.9,536.0 71.3,535.7 73.6,535.4 75.9,534.9 78.3,534.6 80.6,534.3 82.9,534.1 85.2,534.0 87.6,533.9 89.9,533.8 92.2,533.3 94.6,532.6 96.9,531.4 99.2,530.0 101.6,528.3 103.9,526.6 106.2,524.4 108.6,522.0 110.9,519.6 113.2,516.7 115.6,513.6 117.9,510.5 120.2,507.3 122.6,503.2 124.9,498.3 127.2,493.5 129.6,488.3 131.9,482.2 134.2,476.0 136.6,468.6 138.9,460.6 141.2,454.3 143.5,450.2 145.9,444.8 148.2,440.7 150.5,439.4 152.9,439.5 155.2,440.5 157.5,445.8 159.9,451.2 162.2,456.3 164.5,459.5 166.9,463.7 169.2,466.0 171.5,466.7 173.9,466.4 176.2,467.9 178.5,469.5 180.9,474.4 183.2,480.7 185.5,484.5 187.9,487.6 190.2,489.9 192.5,491.1 194.9,492.2 197.2,492.8 199.5,492.8 201.8,491.9 204.2,490.7 206.5,489.8 208.8,491.2 211.2,491.5 213.5,492.0 215.8,492.1 218.2,491.4 220.5,489.8 222.8,489.4 225.2,486.9 227.5,484.6 229.8,482.9 232.2,481.5 234.5,479.3 236.8,480.0 239.2,480.0 241.5,480.4 243.8,481.0 246.2,483.3 248.5,483.9 250.8,484.9 253.2,486.0 255.5,488.2 257.8,489.2 260.1,491.5 262.5,493.9 264.8,497.3 267.1,500.8 269.5,504.9 271.8,508.3 274.1,511.0 276.5,511.9 278.8,511.9 281.1,511.1 283.5,510.4 285.8,509.9 288.1,510.6 290.5,510.7 292.8,510.9 295.1,511.3 297.5,511.9 299.8,511.5 302.1,512.2 304.5,513.1 306.8,513.1 309.1,512.7 311.5,511.9 313.8,511.0 316.1,510.6 318.4,510.9 320.8,511.6 323.1,512.2 325.4,512.4 327.8,512.2 330.1,511.8 332.4,511.4 334.8,511.3 337.1,511.1 339.4,511.8 341.8,512.5 344.1,512.6 346.4,513.1 348.8,514.3 351.1,515.0 353.4,515.6 355.8,516.8 358.1,517.3 360.4,517.0 362.8,516.4 365.1,515.3 367.4,514.7 369.8,514.8 372.1,515.2 374.4,516.0 376.7,517.0 379.1,516.7 381.4,516.3 383.7,515.6 386.1,514.5 388.4,513.9 390.7,513.9 393.1,513.7 395.4,514.1 397.7,514.2 400.1,514.3 402.4,513.8 404.7,512.8 407.1,512.5 409.4,512.9 411.7,512.6 414.1,513.1 416.4,514.4 418.7,515.4 421.1,516.2 423.4,516.9 425.7,517.9 428.1,519.1 430.4,519.8 432.7,520.4 435.0,521.6 437.4,522.4 439.7,523.1 442.0,523.4 444.4,523.9" marker-end="url(#ar)"/>
<polyline points="52.6,537.0 54.9,536.9 57.3,536.7 59.6,536.3 61.9,535.9 64.3,535.3 66.6,534.8 68.9,534.2 71.3,533.7 73.6,533.0 75.9,532.6 78.3,532.0 80.6,531.6 82.9,531.2 85.2,531.0 87.6,530.5 89.9,530.1 92.2,529.7 94.6,529.2 96.9,528.2 99.2,527.7 101.6,526.7 103.9,525.4 106.2,524.6 108.6,524.0 110.9,521.8 113.2,519.4 115.6,517.1 117.9,514.7 120.2,511.7 122.6,508.9 124.9,505.0 127.2,499.6 129.6,491.5 131.9,486.4 134.2,482.9 136.6,481.9 138.9,483.8 141.2,486.3 143.5,484.6 145.9,481.3 148.2,476.5 150.5,469.7 152.9,463.8 155.2,458.1 157.5,455.6 159.9,454.7 162.2,454.2 164.5,456.5 166.9,458.8 169.2,458.8 171.5,458.9 173.9,459.5 176.2,459.8 178.5,460.7 180.9,465.4 183.2,469.8 185.5,475.6 187.9,479.0 190.2,482.2 192.5,482.0 194.9,481.6 197.2,478.3 199.5,476.2 201.8,476.2 204.2,477.1 206.5,475.9 208.8,474.3 211.2,469.3 213.5,461.4 215.8,453.9 218.2,448.1 220.5,442.2 222.8,436.4 225.2,430.9 227.5,428.6 229.8,427.3 232.2,424.7 234.5,427.7 236.8,431.5 239.2,432.6 241.5,431.7 243.8,436.8 246.2,436.0 248.5,435.0 250.8,432.2 253.2,433.3 255.5,431.4 257.8,435.5 260.1,443.0 262.5,448.9 264.8,454.2 267.1,460.8 269.5,466.7 271.8,473.5 274.1,479.6 276.5,485.6 278.8,489.9 281.1,492.5 283.5,492.3 285.8,492.3 288.1,490.9 290.5,488.3 292.8,484.3 295.1,481.1 297.5,481.2 299.8,483.8 302.1,487.3 304.5,493.2 306.8,498.6 309.1,501.4 311.5,502.5 313.8,502.9 316.1,503.2 318.4,502.2 320.8,501.0 323.1,501.2 325.4,501.8 327.8,501.6 330.1,501.5 332.4,501.5 334.8,500.5 337.1,499.1 339.4,499.0 341.8,500.2 344.1,503.4 346.4,506.2 348.8,510.1 351.1,512.4 353.4,514.1 355.8,514.8 358.1,515.9 360.4,516.4 362.8,516.9 365.1,517.5" marker-end="url(#ar)"/>
<polyline points="52.6,536.5 54.9,536.5 57.3,536.4 59.6,536.2 61.9,536.0 64.3,535.8 66.6,535.6 68.9,535.5 71.3,535.4 73.6,535.3 75.9,535.1 78.3,534.8 80.6,534.3 82.9,533.9 85.2,533.5 87.6,533.1 89.9,532.6 92.2,531.9 94.6,531.2 96.9,530.1 99.2,529.0 101.6,527.5 103.9,525.8 106.2,523.9 108.6,522.0 110.9,519.9 113.2,518.1 115.6,516.2 117.9,513.9 120.2,511.3 122.6,508.8 124.9,506.9 127.2,504.9 129.6,501.7 131.9,497.6 134.2,493.4 136.6,488.5 138.9,481.6 141.2,476.4 143.5,471.1 145.9,466.3 148.2,461.5 150.5,458.5 152.9,454.2 155.2,450.3 157.5,448.4 159.9,447.1 162.2,449.0 164.5,451.9 166.9,456.0 169.2,459.5 171.5,461.8 173.9,464.7 176.2,468.3 178.5,471.3 180.9,473.4 183.2,475.6 185.5,476.5 187.9,477.0 190.2,477.3 192.5,476.9 194.9,477.6 197.2,478.6 199.5,481.1 201.8,484.6 204.2,488.0 206.5,490.5 208.8,491.3 211.2,491.9 213.5,490.8 215.8,489.7 218.2,489.2 220.5,490.0 222.8,488.6 225.2,488.5 227.5,488.2 229.8,488.2 232.2,488.0 234.5,489.8 236.8,491.1 239.2,492.4 241.5,493.9 243.8,495.2 246.2,495.5 248.5,496.5 250.8,497.5 253.2,498.5 255.5,499.7 257.8,501.4 260.1,502.0 262.5,502.0 264.8,501.6 267.1,500.9 269.5,500.5 271.8,500.7 274.1,501.8 276.5,502.0 278.8,501.8 281.1,502.1 283.5,502.3 285.8,502.4 288.1,502.6 290.5,503.4 292.8,503.8 295.1,504.7 297.5,505.4 299.8,506.0 302.1,506.7 304.5,507.3 306.8,507.8 309.1,508.1 311.5,509.1 313.8,509.5 316.1,509.3 318.4,509.0 320.8,509.0 323.1,507.7 325.4,507.0 327.8,506.8 330.1,507.1 332.4,506.5 334.8,507.3" marker-end="url(#ar)"/>
<polyline points="52.6,536.2 54.9,536.0 57.3,536.0 59.6,535.7 61.9,535.4 64.3,535.1 66.6,534.8 68.9,534.3 71.3,533.8 73.6,533.3 75.9,532.6 78.3,531.9 80.6,530.9 82.9,530.0 85.2,528.9 87.6,527.8 89.9,527.1 92.2,526.3 94.6,524.8 96.9,523.2 99.2,521.5 101.6,519.0 103.9,515.4 106.2,510.8 108.6,505.7 110.9,500.4 113.2,494.1 115.6,489.8 117.9,486.1 120.2,482.2 122.6,477.6 124.9,473.2 127.2,466.3 129.6,460.9 131.9,453.1 134.2,445.2 136.6,440.2 138.9,439.9 141.2,441.3 143.5,448.0 145.9,456.0 148.2,462.1 150.5,466.7 152.9,469.8 155.2,472.1 157.5,472.7 159.9,473.4 162.2,473.7 164.5,472.8 166.9,474.4 169.2,475.9 171.5,477.2 173.9,479.5 176.2,482.6 178.5,483.8 180.9,486.0 183.2,487.7 185.5,489.6 187.9,492.3 190.2,495.0 192.5,496.8 194.9,497.7 197.2,497.8 199.5,497.2 201.8,495.9 204.2,495.1 206.5,494.9 208.8,494.7 211.2,494.6 213.5,495.0 215.8,493.9 218.2,492.8 220.5,493.5 222.8,494.2 225.2,496.4 227.5,499.6 229.8,501.6 232.2,502.3 234.5,503.8 236.8,503.4 239.2,503.9 241.5,505.5 243.8,506.2 246.2,506.0 248.5,507.1 250.8,506.9 253.2,505.2 255.5,504.3 257.8,503.0 260.1,500.9 262.5,498.2 264.8,496.0 267.1,493.6 269.5,491.8 271.8,490.0 274.1,489.4 276.5,489.2 278.8,489.6 281.1,491.3 283.5,491.9 285.8,491.0 288.1,491.3 290.5,490.6 292.8,488.7 295.1,488.2 297.5,488.2 299.8,487.7 302.1,488.6 304.5,490.7 306.8,492.2 309.1,493.3 311.5,494.0 313.8,494.9 316.1,495.6 318.4,497.1 320.8,499.7 323.1,503.1 325.4,505.9 327.8,508.0 330.1,510.1 332.4,510.9 334.8,511.0 337.1,510.9 339.4,511.0 341.8,511.2 344.1,512.3 346.4,513.4 348.8,514.3 351.1,515.0 353.4,514.9 355.8,515.1 358.1,515.4 360.4,516.1 362.8,516.7 365.1,517.2 367.4,517.2 369.8,516.8 372.1,516.4 374.4,516.0 376.7,515.9 379.1,515.8" marker-end="url(#ar)"/>
<polyline points="52.6,536.5 54.9,536.4 57.3,536.4 59.6,536.2 61.9,536.0 64.3,535.8 66.6,535.6 68.9,535.3 71.3,535.0 73.6,534.6 75.9,534.2 78.3,533.8 80.6,533.5 82.9,533.3 85.2,532.9 87.6,532.5 89.9,532.0 92.2,531.2 94.6,530.1 96.9,528.8 99.2,527.3 101.6,525.7 103.9,524.1 106.2,522.4 108.6,520.4 110.9,518.5 113.2,516.5 115.6,514.5 117.9,512.1 120.2,509.7 122.6,507.0 124.9,505.0 127.2,502.4 129.6,501.3 131.9,500.6 134.2,500.6 136.6,500.4 138.9,501.7 141.2,502.5 143.5,502.7 145.9,502.7 148.2,502.7 150.5,502.0 152.9,501.2 155.2,501.1 157.5,500.3 159.9,500.0 162.2,500.3 164.5,501.1 166.9,502.6 169.2,505.7 171.5,508.2 173.9,509.7 176.2,511.8 178.5,513.7 180.9,514.4 183.2,515.2 185.5,516.4 187.9,517.1 190.2,518.1 192.5,519.5 194.9,520.4 197.2,521.4 199.5,522.3 201.8,522.6 204.2,522.9 206.5,523.5 208.8,524.0 211.2,524.4 213.5,525.0 215.8,525.6 218.2,525.7 220.5,525.6 222.8,525.8 225.2,525.9 227.5,526.0 229.8,526.6 232.2,527.1 234.5,527.6 236.8,527.9 239.2,528.1 241.5,528.3 243.8,528.6 246.2,528.9 248.5,529.1 250.8,529.6 253.2,529.8 255.5,529.9 257.8,530.0 260.1,530.0 262.5,529.8 264.8,529.8 267.1,529.6 269.5,529.2 271.8,528.8 274.1,528.4 276.5,528.0 278.8,527.3 281.1,527.0 283.5,527.0 285.8,526.9 288.1,527.1 290.5,527.6 292.8,527.9 295.1,528.0 297.5,528.1 299.8,528.1 302.1,528.2 304.5,528.5 306.8,528.6 309.1,528.9 311.5,529.1 313.8,529.2 316.1,529.2 318.4,529.6 320.8,529.9 323.1,530.3 325.4,530.4 327.8,530.8 330.1,530.9 332.4,531.1 334.8,531.3 337.1,531.5 339.4,531.6 341.8,531.6 344.1,531.7 346.4,531.8 348.8,531.9 351.1,531.9 353.4,532.2 355.8,532.4 358.1,532.4 360.4,532.5 362.8,532.6 365.1,532.4 367.4,532.2 369.8,531.9 372.1,531.8 374.4,531.6 376.7,531.6 379.1,531.7 381.4,531.8 383.7,531.7 386.1,531.5 388.4,531.4 390.7,531.1 393.1,530.9 395.4,530.7 397.7,530.4 400.1,529.9 402.4,529.3 404.7,528.7 407.1,528.0 409.4,527.7 411.7,527.5 414.1,527.3 416.4,527.1 418.7,526.9 421.1,526.8 423.4,526.7 425.7,526.7 428.1,526.8 430.4,526.9 432.7,526.7 435.0,526.6 437.4,526.3 439.7,525.8 442.0,525.4 444.4,525.3 446.7,524.8 449.0,524.5 451.4,524.3 453.7,524.1 456.0,523.8 458.4,523.8 460.7,524.0 463.0,524.3 465.4,524.6 467.7,524.8 470.0,525.0 472.4,525.1 474.7,525.0" marker-end="url(#ar)"/>
<polyline points="52.6,536.5 54.9,536.3 57.3,536.2 59.6,535.8 61.9,535.5 64.3,534.9 66.6,534.3 68.9,533.7 71.3,533.0 73.6,532.3 75.9,531.5 78.3,530.7 80.6,529.6 82.9,528.4 85.2,526.8 87.6,525.2 89.9,523.3 92.2,521.3 94.6,519.3 96.9,517.1 99.2,514.8 101.6,512.0 103.9,509.0 106.2,505.7 108.6,503.1 110.9,501.1 113.2,500.4 115.6,500.2 117.9,500.8 120.2,501.3 122.6,501.7 124.9,502.8 127.2,503.8 129.6,505.1 131.9,507.5 134.2,509.6 136.6,511.7 138.9,513.9 141.2,515.4 143.5,516.1 145.9,516.7 148.2,516.8 150.5,516.1 152.9,515.4 155.2,514.3 157.5,513.4 159.9,512.8 162.2,511.9 164.5,510.8 166.9,509.7 169.2,508.6 171.5,506.9 173.9,505.7 176.2,504.4 178.5,503.2 180.9,501.0 183.2,498.3 185.5,495.6 187.9,493.1 190.2,490.1 192.5,488.3 194.9,487.5 197.2,486.8 199.5,487.0 201.8,486.5 204.2,485.5 206.5,484.7 208.8,485.0 211.2,484.4 213.5,485.7 215.8,488.0 218.2,490.0 220.5,491.6 222.8,494.2 225.2,495.8 227.5,496.7 229.8,497.3 232.2,497.6 234.5,496.9 236.8,496.3 239.2,495.5 241.5,495.0 243.8,493.8 246.2,493.1 248.5,492.1 250.8,492.0 253.2,491.1 255.5,489.8 257.8,487.6 260.1,486.6 262.5,485.1 264.8,484.9 267.1,485.3 269.5,485.9 271.8,485.5 274.1,485.0 276.5,484.0 278.8,483.4 281.1,482.4 283.5,482.3 285.8,482.5 288.1,482.6 290.5,483.9 292.8,485.5 295.1,486.6 297.5,488.1 299.8,489.8 302.1,490.5 304.5,491.8 306.8,493.2 309.1,494.8 311.5,496.3 313.8,497.5 316.1,498.3 318.4,499.0 320.8,499.3 323.1,499.6 325.4,499.6 327.8,499.8 330.1,500.0 332.4,500.0 334.8,499.9 337.1,500.6 339.4,501.4 341.8,501.9 344.1,502.8 346.4,503.4 348.8,503.1 351.1,503.0 353.4,503.7 355.8,503.7 358.1,504.5 360.4,505.8 362.8,506.6 365.1,506.6 367.4,507.0 369.8,507.2 372.1,507.5 374.4,507.6 376.7,508.0 379.1,507.8 381.4,507.5 383.7,507.6 386.1,507.4 388.4,507.7 390.7,508.1 393.1,508.7 395.4,508.5 397.7,509.1 400.1,509.8 402.4,509.9 404.7,509.6 407.1,509.8 409.4,509.2 411.7,508.1 414.1,508.0 416.4,507.8 418.7,507.3 421.1,507.7 423.4,508.8 425.7,509.4 428.1,510.7 430.4,512.5 432.7,514.6 435.0,516.8 437.4,519.2 439.7,521.4 442.0,523.4 444.4,524.8 446.7,525.8 449.0,526.7 451.4,527.5 453.7,528.2 456.0,528.8 458.4,529.4 460.7,529.8 463.0,530.0 465.4,530.1 467.7,530.1 470.0,530.2 472.4,530.2 474.7,530.2 477.0,530.5 479.4,530.7 481.7,530.8 484.0,530.9 486.4,531.1" marker-end="url(#ar)"/>
<polyline points="52.6,536.6 54.9,536.6 57.3,536.5 59.6,536.4 61.9,536.3 64.3,536.3 66.6,536.2 68.9,536.1 71.3,536.1 73.6,536.0 75.9,536.0 78.3,535.9 80.6,535.8 82.9,535.7 85.2,535.7 87.6,535.6 89.9,535.5 92.2,535.5 94.6,535.4 96.9,535.3 99.2,535.2 101.6,535.0 103.9,534.9 106.2,534.7 108.6,534.5 110.9,534.2 113.2,534.0 115.6,533.5 117.9,533.0 120.2,532.6 122.6,532.2 124.9,531.8 127.2,531.5 129.6,531.2 131.9,530.5 134.2,529.9 136.6,529.2 138.9,528.5 141.2,527.8 143.5,527.0 145.9,526.1 148.2,524.8 150.5,523.6 152.9,522.6 155.2,522.1 157.5,522.1 159.9,522.3 162.2,522.3 164.5,522.3 166.9,522.1 169.2,521.7 171.5,521.1 173.9,520.5 176.2,519.8 178.5,518.7 180.9,517.7 183.2,516.6 185.5,515.5 187.9,514.0 190.2,512.6 192.5,510.7 194.9,508.5 197.2,505.9 199.5,503.5 201.8,501.4 204.2,500.2 206.5,499.9 208.8,501.1 211.2,502.7 213.5,504.3 215.8,505.2 218.2,505.4 220.5,505.2 222.8,504.7 225.2,504.2 227.5,504.5 229.8,505.2 232.2,505.3 234.5,505.8 236.8,506.4 239.2,506.1 241.5,505.7 243.8,506.1 246.2,505.5 248.5,505.3 250.8,505.9 253.2,506.0 255.5,505.3 257.8,505.3 260.1,504.1 262.5,501.9 264.8,499.9 267.1,498.2 269.5,497.6 271.8,497.0 274.1,497.4 276.5,497.8 278.8,498.7 281.1,498.3 283.5,498.4 285.8,499.2 288.1,499.7 290.5,499.3 292.8,499.5 295.1,499.3 297.5,498.4 299.8,498.1 302.1,498.5 304.5,498.5 306.8,498.4 309.1,497.2 311.5,495.8 313.8,494.0 316.1,493.2 318.4,493.4 320.8,495.2 323.1,496.7 325.4,498.4 327.8,499.8 330.1,501.4 332.4,502.3 334.8,503.8 337.1,504.8 339.4,505.5 341.8,505.1 344.1,505.3 346.4,505.9 348.8,507.4 351.1,508.2 353.4,509.1 355.8,509.5 358.1,509.7 360.4,509.1 362.8,508.7 365.1,508.0 367.4,507.7 369.8,506.9 372.1,506.5 374.4,506.1 376.7,506.0 379.1,505.4 381.4,504.7 383.7,503.8 386.1,504.0 388.4,504.4 390.7,504.5 393.1,504.7 395.4,504.5 397.7,503.6 400.1,503.3 402.4,503.0 404.7,502.2 407.1,502.0 409.4,502.0 411.7,501.6 414.1,501.6 416.4,502.5 418.7,503.0 421.1,503.2 423.4,503.3 425.7,502.8 428.1,502.6 430.4,502.1 432.7,501.8 435.0,503.1 437.4,505.0 439.7,506.9 442.0,509.0 444.4,510.9 446.7,512.5 449.0,513.6 451.4,514.5 453.7,515.2 456.0,516.1 458.4,516.6 460.7,517.6 463.0,519.0 465.4,520.3 467.7,521.4 470.0,522.6 472.4,523.7 474.7,524.2 477.0,524.9 479.4,525.4 481.7,525.6" marker-end="url(#ar)"/>
<polyline points="52.6,536.4 54.9,536.3 57.3,536.2 59.6,535.9 61.9,535.7 64.3,535.4 66.6,535.2 68.9,535.0 71.3,534.6 73.6,534.0 75.9,533.5 78.3,532.6 80.6,531.4 82.9,530.4 85.2,529.2 87.6,527.6 89.9,525.6 92.2,524.0 94.6,521.6 96.9,519.6 99.2,517.6 101.6,515.2 103.9,511.9 106.2,508.9 108.6,504.9 110.9,500.7 113.2,497.4 115.6,494.2 117.9,492.2 120.2,491.2 122.6,491.9 124.9,491.3 127.2,491.1 129.6,489.5 131.9,488.6 134.2,486.1 136.6,485.0 138.9,483.9 141.2,482.1 143.5,480.5 145.9,477.9 148.2,475.7 150.5,476.1 152.9,478.5 155.2,482.0 157.5,487.3 159.9,492.5 162.2,496.7 164.5,500.6 166.9,502.7 169.2,505.3 171.5,508.2 173.9,510.4 176.2,512.1 178.5,513.9 180.9,514.8 183.2,514.7 185.5,514.8 187.9,514.5 190.2,514.6 192.5,515.8 194.9,516.7 197.2,516.7 199.5,517.2 201.8,516.8 204.2,515.7 206.5,514.9 208.8,515.1 211.2,514.8 213.5,515.2 215.8,515.3 218.2,515.7 220.5,515.4 222.8,515.3 225.2,515.2 227.5,515.1 229.8,514.9 232.2,515.1 234.5,514.9 236.8,514.5 239.2,514.1 241.5,514.4 243.8,514.5 246.2,514.6 248.5,514.5 250.8,514.2 253.2,512.5 255.5,509.8 257.8,507.1 260.1,503.8 262.5,500.3 264.8,498.0 267.1,498.0 269.5,498.3 271.8,499.4 274.1,501.4 276.5,504.3 278.8,506.1 281.1,508.0 283.5,510.1 285.8,511.5 288.1,511.9 290.5,511.7 292.8,511.7 295.1,511.9 297.5,512.0 299.8,511.5 302.1,511.6 304.5,511.3 306.8,510.2 309.1,508.9 311.5,508.3 313.8,507.5 316.1,507.5 318.4,507.9 320.8,508.8 323.1,509.9 325.4,511.6 327.8,512.7 330.1,513.5 332.4,514.3 334.8,515.3 337.1,515.5 339.4,515.7 341.8,516.1 344.1,516.4 346.4,516.2 348.8,515.7 351.1,515.1 353.4,515.5 355.8,515.7 358.1,516.2 360.4,516.6 362.8,517.0 365.1,516.7 367.4,516.1 369.8,515.6 372.1,515.4" marker-end="url(#ar)"/>
<polyline points="52.6,536.9 54.9,536.9 57.3,536.8 59.6,536.8 61.9,536.7 64.3,536.6 66.6,536.4 68.9,536.2 71.3,535.9 73.6,535.5 75.9,535.0 78.3,534.4 80.6,533.9 82.9,533.4 85.2,533.1 87.6,533.0 89.9,532.8 92.2,532.6 94.6,532.2 96.9,532.0 99.2,531.9 101.6,531.9 103.9,532.0 106.2,532.2 108.6,532.3 110.9,532.2 113.2,532.1 115.6,531.8 117.9,531.5 120.2,530.9 122.6,530.0 124.9,529.2 127.2,528.6 129.6,528.0 131.9,527.3 134.2,526.7 136.6,526.4 138.9,526.2 141.2,525.9 143.5,526.4 145.9,527.5 148.2,528.3 150.5,528.7 152.9,529.2 155.2,529.4 157.5,529.5 159.9,529.5 162.2,530.0 164.5,530.2 166.9,530.3 169.2,530.2 171.5,530.2 173.9,530.0 176.2,530.2 178.5,530.5 180.9,531.0 183.2,531.4 185.5,531.8 187.9,532.0 190.2,532.2 192.5,532.4 194.9,532.7 197.2,532.9 199.5,533.1 201.8,533.1 204.2,533.0 206.5,532.8 208.8,532.8 211.2,532.9 213.5,533.0 215.8,533.2 218.2,533.3 220.5,533.4 222.8,533.4 225.2,533.4 227.5,533.3 229.8,533.2 232.2,533.1 234.5,533.0 236.8,533.1 239.2,533.3 241.5,533.6 243.8,534.1 246.2,534.4 248.5,534.7 250.8,535.0 253.2,535.4 255.5,535.7 257.8,536.0 260.1,536.3 262.5,536.5 264.8,536.6 267.1,536.7 269.5,536.8 271.8,536.8 274.1,536.9 276.5,537.0 278.8,537.0 281.1,537.1 283.5,537.1 285.8,537.2 288.1,537.3 290.5,537.4 292.8,537.5 295.1,537.5 297.5,537.5 299.8,537.5 302.1,537.5 304.5,537.5 306.8,537.5 309.1,537.5 311.5,537.5 313.8,537.4 316.1,537.4 318.4,537.4 320.8,537.4 323.1,537.4 325.4,537.5 327.8,537.5 330.1,537.7 332.4,537.8 334.8,537.8 337.1,537.9 339.4,537.9 341.8,538.0 344.1,538.0 346.4,538.0 348.8,538.0 351.1,537.9 353.4,537.9 355.8,537.9 358.1,537.9 360.4,537.8 362.8,537.8 365.1,537.8 367.4,537.9 369.8,537.9 372.1,537.9 374.4,537.9 376.7,537.9 379.1,538.0 381.4,538.0 383.7,538.0 386.1,538.0 388.4,538.0 390.7,538.0 393.1,537.9 395.4,537.9 397.7,537.9 400.1,537.9 402.4,537.9 404.7,538.0 407.1,538.0 409.4,538.0 411.7,538.0 414.1,538.0 416.4,538.0 418.7,537.9 421.1,537.9 423.4,537.9 425.7,537.9 428.1,537.9 430.4,537.9 432.7,537.9 435.0,537.9 437.4,537.9 439.7,537.9 442.0,537.9 444.4,537.8 446.7,537.7 449.0,537.7 451.4,537.7 453.7,537.7 456.0,537.7 458.4,537.7 460.7,537.7 463.0,537.8 465.4,537.8 467.7,537.8 470.0,537.8 472.4,537.8 474.7,537.8 477.0,537.8" marker-end="url(#ar)"/>
<polyline points="52.6,536.7 54.9,536.6 57.3,536.4 59.6,536.1 61.9,535.7 64.3,535.4 66.6,535.2 68.9,535.0 71.3,534.9 73.6,534.5 75.9,534.0 78.3,533.1 80.6,532.0 82.9,530.6 85.2,529.3 87.6,527.7 89.9,526.5 92.2,524.9 94.6,523.0 96.9,520.7 99.2,518.0 101.6,514.4 103.9,510.2 106.2,506.6 108.6,502.9 110.9,499.9 113.2,495.1 115.6,490.3 117.9,482.9 120.2,474.2 122.6,465.2 124.9,458.2 127.2,456.9 129.6,461.7 131.9,468.1 134.2,473.8 136.6,481.4 138.9,488.1 141.2,493.4 143.5,497.6 145.9,501.1 148.2,504.7 150.5,507.1 152.9,509.0 155.2,510.8 157.5,513.0 159.9,513.3 162.2,512.5 164.5,511.1 166.9,509.8 169.2,508.8 171.5,509.2 173.9,510.9 176.2,512.7 178.5,514.2 180.9,515.3 183.2,515.5 185.5,515.3 187.9,515.2 190.2,514.9 192.5,514.1 194.9,513.3 197.2,511.3 199.5,508.6 201.8,504.9 204.2,501.2 206.5,497.0 208.8,495.9 211.2,495.7 213.5,495.9 215.8,497.0 218.2,498.4 220.5,498.8 222.8,498.3 225.2,499.2 227.5,499.3 229.8,499.6 232.2,499.8 234.5,498.4 236.8,494.4 239.2,490.0 241.5,485.4 243.8,481.0 246.2,478.8 248.5,478.4 250.8,478.4 253.2,477.7 255.5,475.3 257.8,473.4 260.1,473.1 262.5,472.9 264.8,471.3 267.1,469.6 269.5,465.9 271.8,461.2 274.1,456.4 276.5,453.1 278.8,452.7 281.1,457.5 283.5,461.2 285.8,464.8 288.1,466.3 290.5,466.2 292.8,466.0 295.1,467.5 297.5,467.1 299.8,468.3 302.1,472.3 304.5,472.7 306.8,472.3 309.1,471.8 311.5,472.8 313.8,471.5 316.1,471.7" marker-end="url(#ar)"/>
<polyline points="52.6,536.5 54.9,536.5 57.3,536.4 59.6,536.2 61.9,535.9 64.3,535.7 66.6,535.4 68.9,535.0 71.3,534.6 73.6,534.3 75.9,534.1 78.3,533.8 80.6,533.6 82.9,533.4 85.2,533.3 87.6,533.0 89.9,532.7 92.2,532.3 94.6,531.8 96.9,531.1 99.2,530.4 101.6,529.8 103.9,529.1 106.2,528.4 108.6,527.5 110.9,526.7 113.2,525.6 115.6,524.5 117.9,523.2 120.2,522.2 122.6,521.0 124.9,520.3 127.2,519.8 129.6,519.0 131.9,518.0 134.2,517.1 136.6,516.0 138.9,514.5 141.2,513.8 143.5,513.7 145.9,513.3 148.2,512.4 150.5,511.7 152.9,511.0 155.2,510.3 157.5,509.9 159.9,510.4 162.2,510.6 164.5,510.5 166.9,509.7 169.2,509.7 171.5,509.0 173.9,508.4 176.2,507.9 178.5,507.7 180.9,507.0 183.2,507.3 185.5,507.8 187.9,508.3 190.2,508.7 192.5,509.0 194.9,508.5 197.2,507.9 199.5,507.7 201.8,507.6 204.2,507.4 206.5,507.1 208.8,506.8 211.2,506.4 213.5,505.7 215.8,505.1 218.2,504.6 220.5,503.8 222.8,503.0 225.2,503.3 227.5,504.0 229.8,504.2 232.2,505.2 234.5,506.6 236.8,507.2 239.2,507.5 241.5,508.3 243.8,508.3 246.2,507.7 248.5,508.3 250.8,508.5 253.2,509.4 255.5,510.8 257.8,512.3 260.1,513.5 262.5,515.3 264.8,516.8 267.1,518.1 269.5,519.0 271.8,520.1 274.1,520.8 276.5,521.1 278.8,521.8 281.1,522.7 283.5,523.2 285.8,523.7 288.1,524.2 290.5,524.8 292.8,525.2 295.1,525.7 297.5,526.0 299.8,526.6 302.1,527.2 304.5,527.8 306.8,528.3 309.1,529.0 311.5,529.7 313.8,530.2 316.1,530.8 318.4,531.2 320.8,531.6 323.1,531.8 325.4,532.1 327.8,532.2 330.1,532.3 332.4,532.5 334.8,532.6 337.1,532.9 339.4,533.1 341.8,533.5 344.1,533.8 346.4,533.9 348.8,534.0 351.1,534.0 353.4,533.9 355.8,534.0 358.1,534.3 360.4,534.5 362.8,534.8 365.1,535.1 367.4,535.2 369.8,535.3 372.1,535.5 374.4,535.6 376.7,535.7 379.1,535.9 381.4,536.0 383.7,536.2 386.1,536.3 388.4,536.5 390.7,536.6 393.1,536.6 395.4,536.6 397.7,536.6 400.1,536.6 402.4,536.5 404.7,536.5 407.1,536.5 409.4,536.5 411.7,536.5" marker-end="url(#ar)"/>
<polyline points="52.6,536.1 54.9,535.9 57.3,535.8 59.6,535.3 61.9,535.1 64.3,534.9 66.6,534.6 68.9,534.5 71.3,534.5 73.6,534.6 75.9,534.6 78.3,534.6 80.6,534.6 82.9,534.6 85.2,534.5 87.6,534.4 89.9,534.1 92.2,533.9 94.6,533.5 96.9,533.1 99.2,533.1 101.6,533.3 103.9,533.1 106.2,532.9 108.6,532.2 110.9,531.2 113.2,530.0 115.6,528.7 117.9,527.2 120.2,526.0 122.6,525.4 124.9,524.4 127.2,524.1 129.6,524.1 131.9,524.7 134.2,525.7 136.6,526.7 138.9,527.3 141.2,528.0 143.5,528.4 145.9,528.3 148.2,528.3 150.5,529.0 152.9,529.8 155.2,530.7 157.5,531.6 159.9,532.8 162.2,533.6 164.5,534.3 166.9,534.8 169.2,535.2 171.5,535.3 173.9,535.4 176.2,535.3 178.5,535.2 180.9,534.9 183.2,534.8 185.5,534.8 187.9,534.8 190.2,535.0 192.5,535.1 194.9,535.2 197.2,535.2 199.5,535.2 201.8,535.3 204.2,535.4 206.5,535.4 208.8,535.6 211.2,535.7 213.5,535.7 215.8,535.7 218.2,535.7 220.5,535.7 222.8,535.8 225.2,535.8 227.5,535.8 229.8,535.8 232.2,535.8 234.5,536.0 236.8,536.0 239.2,536.2 241.5,536.3 243.8,536.4 246.2,536.4 248.5,536.5 250.8,536.6 253.2,536.8 255.5,537.0 257.8,537.2 260.1,537.3 262.5,537.3 264.8,537.4 267.1,537.4 269.5,537.4 271.8,537.4 274.1,537.5 276.5,537.5 278.8,537.5 281.1,537.5 283.5,537.4 285.8,537.4 288.1,537.4 290.5,537.4 292.8,537.4 295.1,537.5 297.5,537.5 299.8,537.5 302.1,537.5 304.5,537.5 306.8,537.5 309.1,537.4 311.5,537.4 313.8,537.4 316.1,537.3 318.4,537.3" marker-end="url(#ar)"/>
<polyline points="52.6,536.3 54.9,536.1 57.3,536.0 59.6,535.8 61.9,535.5 64.3,535.2 66.6,535.1 68.9,535.0 71.3,534.8 73.6,534.6 75.9,534.5 78.3,534.3 80.6,533.9 82.9,533.8 85.2,533.7 87.6,533.2 89.9,532.9 92.2,532.5 94.6,532.0 96.9,531.6 99.2,531.6 101.6,530.8 103.9,529.8 106.2,528.8 108.6,527.8 110.9,526.3 113.2,525.6 115.6,524.9 117.9,524.1 120.2,522.5 122.6,520.2 124.9,517.9 127.2,515.0 129.6,512.4 131.9,509.6 134.2,508.0 136.6,507.6 138.9,507.5 141.2,506.7 143.5,507.3 145.9,506.6 148.2,503.7 150.5,501.4 152.9,499.3 155.2,497.0 157.5,496.5 159.9,497.0 162.2,500.1 164.5,502.5 166.9,503.0 169.2,503.2 171.5,503.7 173.9,501.1 176.2,500.3 178.5,500.1 180.9,499.9 183.2,501.0 185.5,503.1 187.9,502.8 190.2,503.2 192.5,502.7 194.9,500.5 197.2,498.3 199.5,498.0 201.8,496.7 204.2,494.3 206.5,492.3 208.8,491.5 211.2,488.7 213.5,486.2 215.8,486.6 218.2,486.7 220.5,485.8 222.8,485.4 225.2,485.4 227.5,483.9 229.8,482.7 232.2,481.9 234.5,482.7 236.8,482.3 239.2,482.3 241.5,484.3 243.8,485.5 246.2,485.6 248.5,487.6 250.8,490.2 253.2,491.2 255.5,492.5 257.8,493.5 260.1,496.0 262.5,499.2 264.8,501.9 267.1,503.5 269.5,506.6 271.8,507.9 274.1,507.5 276.5,508.2 278.8,508.9 281.1,508.1 283.5,506.8 285.8,505.3 288.1,500.2 290.5,495.1 292.8,491.9 295.1,488.6 297.5,486.2 299.8,489.0 302.1,491.7 304.5,492.7 306.8,494.9 309.1,496.8 311.5,496.7 313.8,497.0 316.1,496.5 318.4,495.9 320.8,493.5 323.1,492.4 325.4,491.8 327.8,492.5 330.1,491.8 332.4,493.6 334.8,495.4 337.1,496.7 339.4,496.8 341.8,498.7 344.1,500.4 346.4,500.3 348.8,499.1 351.1,496.9 353.4,495.5 355.8,494.4 358.1,494.5 360.4,495.0 362.8,496.7 365.1,497.9 367.4,498.0 369.8,496.7 372.1,496.3 374.4,498.6 376.7,501.0 379.1,502.1 381.4,505.2" marker-end="url(#ar)"/>
<polyline points="52.6,536.3 54.9,536.2 57.3,536.1 59.6,535.8 61.9,535.4 64.3,535.0 66.6,534.5 68.9,533.6 71.3,532.5 73.6,531.5 75.9,530.1 78.3,528.9 80.6,527.7 82.9,526.4 85.2,525.0 87.6,523.5 89.9,521.7 92.2,519.5 94.6,516.8 96.9,513.6 99.2,510.3 101.6,506.2 103.9,502.1 106.2,498.7 108.6,494.5 110.9,488.1 113.2,483.4 115.6,479.4 117.9,475.3 120.2,472.0 122.6,473.8 124.9,475.0 127.2,475.6 129.6,475.8 131.9,475.2 134.2,474.8 136.6,473.5 138.9,474.4 141.2,476.9 143.5,480.4 145.9,480.7 148.2,481.0 150.5,480.3 152.9,478.5 155.2,475.9 157.5,476.4 159.9,478.2 162.2,480.3 164.5,481.4 166.9,482.9 169.2,483.3 171.5,483.8 173.9,482.4 176.2,479.9 178.5,478.8 180.9,476.6 183.2,473.0 185.5,470.4 187.9,470.6 190.2,469.0 192.5,469.0 194.9,472.5 197.2,475.8 199.5,478.4 201.8,480.7 204.2,482.8 206.5,482.4 208.8,483.7 211.2,484.7 213.5,484.9 215.8,484.8 218.2,484.9 220.5,484.1 222.8,483.8 225.2,485.3 227.5,487.1 229.8,488.3 232.2,488.8 234.5,488.8 236.8,488.2 239.2,487.8 241.5,489.4 243.8,492.2 246.2,495.3 248.5,498.4 250.8,501.1 253.2,502.6 255.5,503.8 257.8,505.2 260.1,507.0 262.5,508.7 264.8,511.2 267.1,513.1 269.5,514.7 271.8,516.0 274.1,517.3 276.5,517.7 278.8,518.1 281.1,518.1 283.5,517.7 285.8,517.2 288.1,516.8 290.5,516.5 292.8,516.4 295.1,516.5 297.5,516.5 299.8,516.6 302.1,516.3 304.5,515.9 306.8,515.8 309.1,515.7 311.5,515.3 313.8,515.1 316.1,515.6 318.4,515.4 320.8,515.8 323.1,516.1 325.4,516.5 327.8,517.1 330.1,518.1 332.4,518.8 334.8,519.9 337.1,520.9 339.4,521.3 341.8,521.8 344.1,522.3 346.4,522.9 348.8,523.5 351.1,524.4 353.4,524.8 355.8,525.1 358.1,525.1 360.4,525.0 362.8,524.9 365.1,525.0 367.4,524.9 369.8,524.6 372.1,524.0 374.4,523.7 376.7,523.7 379.1,524.0 381.4,524.3 383.7,525.0 386.1,525.6 388.4,526.1 390.7,526.6 393.1,527.2 395.4,527.6 397.7,527.9 400.1,528.1 402.4,528.7 404.7,529.2 407.1,529.6 409.4,529.8 411.7,529.5 414.1,529.0 416.4,528.4 418.7,527.9 421.1,527.6 423.4,527.6 425.7,527.6 428.1,527.6 430.4,527.8 432.7,527.9 435.0,528.1 437.4,528.2 439.7,528.3 442.0,528.1 444.4,527.9 446.7,527.2 449.0,526.5 451.4,525.9 453.7,525.2 456.0,524.4 458.4,524.1 460.7,523.9 463.0,524.0 465.4,524.3 467.7,524.9 470.0,525.1 472.4,525.5" marker-end="url(#ar)"/>
<polyline points="52.6,536.5 54.9,536.4 57.3,536.2 59.6,535.9 61.9,535.6 64.3,535.2 66.6,534.9 68.9,534.4 71.3,533.8 73.6,533.2 75.9,532.4 78.3,531.3 80.6,530.1 82.9,528.9 85.2,526.9 87.6,524.9 89.9,522.9 92.2,520.8 94.6,518.3 96.9,515.6 99.2,512.8 101.6,510.0 103.9,507.2 106.2,505.5 108.6,505.2 110.9,504.2 113.2,503.2 115.6,501.6 117.9,500.3 120.2,498.9 122.6,498.2 124.9,498.6 127.2,500.3 129.6,501.8 131.9,503.3 134.2,505.5 136.6,506.3 138.9,505.9 141.2,505.2 143.5,504.8 145.9,504.4 148.2,504.9 150.5,506.0 152.9,506.9 155.2,507.5 157.5,508.0 159.9,508.1 162.2,507.9 164.5,508.2 166.9,507.8 169.2,507.1 171.5,506.6 173.9,505.9 176.2,504.8 178.5,504.6 180.9,503.7 183.2,502.9 185.5,502.9 187.9,502.9 190.2,502.4 192.5,503.0 194.9,504.4 197.2,506.1 199.5,507.7 201.8,509.7 204.2,511.6 206.5,513.2 208.8,514.9 211.2,516.5 213.5,517.9 215.8,519.0 218.2,519.7 220.5,519.2 222.8,519.0 225.2,519.0 227.5,519.1 229.8,519.9 232.2,521.1 234.5,522.0 236.8,522.2 239.2,522.0 241.5,521.2 243.8,520.4 246.2,519.4 248.5,519.7 250.8,520.3 253.2,520.6 255.5,520.8 257.8,521.0 260.1,520.8 262.5,520.3 264.8,520.1 267.1,520.0 269.5,519.9 271.8,519.6 274.1,519.9 276.5,520.3 278.8,520.9 281.1,521.3 283.5,521.6 285.8,521.3 288.1,521.2 290.5,521.1 292.8,520.9 295.1,520.7 297.5,521.1 299.8,521.2 302.1,521.8 304.5,523.2 306.8,524.5 309.1,525.5 311.5,526.4 313.8,527.0 316.1,527.0 318.4,526.9 320.8,527.2 323.1,527.4 325.4,527.7 327.8,528.0 330.1,528.5 332.4,528.5 334.8,528.6 337.1,528.6" marker-end="url(#ar)"/>
<polyline points="52.6,536.7 54.9,536.4 57.3,536.3 59.6,536.1 61.9,535.7 64.3,535.6 66.6,535.5 68.9,535.4 71.3,535.3 73.6,535.2 75.9,535.0 78.3,534.8 80.6,534.5 82.9,534.3 85.2,533.9 87.6,533.5 89.9,533.0 92.2,532.3 94.6,531.5 96.9,531.2 99.2,531.1 101.6,531.2 103.9,531.3 106.2,531.5 108.6,531.2 110.9,531.1 113.2,530.8 115.6,530.4 117.9,529.8 120.2,529.4 122.6,528.6 124.9,528.3 127.2,528.5 129.6,529.2 131.9,529.9 134.2,530.6 136.6,531.3 138.9,531.9 141.2,532.1 143.5,532.2 145.9,532.3 148.2,532.2 150.5,532.1 152.9,532.3 155.2,532.6 157.5,532.8 159.9,533.3 162.2,533.6 164.5,534.1 166.9,534.5 169.2,534.8 171.5,535.2 173.9,535.5 176.2,535.8 178.5,536.1 180.9,536.4 183.2,536.5 185.5,536.7 187.9,536.7 190.2,536.6 192.5,536.6 194.9,536.6 197.2,536.7 199.5,536.7 201.8,536.7 204.2,536.6 206.5,536.5 208.8,536.4 211.2,536.4 213.5,536.4 215.8,536.5 218.2,536.6 220.5,536.7 222.8,536.7 225.2,536.8 227.5,536.7 229.8,536.7 232.2,536.6 234.5,536.6 236.8,536.5 239.2,536.6 241.5,536.5 243.8,536.5 246.2,536.5 248.5,536.5 250.8,536.5 253.2,536.6 255.5,536.7 257.8,536.7 260.1,536.8 262.5,536.9 264.8,537.0 267.1,537.0 269.5,537.1 271.8,537.1 274.1,537.2 276.5,537.2 278.8,537.2 281.1,537.3 283.5,537.4 285.8,537.4 288.1,537.5 290.5,537.6 292.8,537.6 295.1,537.6 297.5,537.6 299.8,537.5 302.1,537.4 304.5,537.3 306.8,537.2 309.1,537.1 311.5,537.0 313.8,536.9 316.1,536.8 318.4,536.7 320.8,536.6 323.1,536.5 325.4,536.5 327.8,536.5 330.1,536.7 332.4,536.8 334.8,536.9 337.1,537.0 339.4,537.1 341.8,537.1 344.1,537.1 346.4,537.1 348.8,537.1 351.1,537.0 353.4,536.9 355.8,536.8 358.1,536.8 360.4,536.8 362.8,536.8 365.1,536.9 367.4,537.0 369.8,537.1 372.1,537.1 374.4,537.1 376.7,537.2 379.1,537.1 381.4,537.1 383.7,537.1 386.1,537.0 388.4,537.0 390.7,537.0 393.1,537.1 395.4,537.2 397.7,537.3 400.1,537.3 402.4,537.4 404.7,537.4 407.1,537.4 409.4,537.5 411.7,537.5 414.1,537.6 416.4,537.7 418.7,537.7 421.1,537.8 423.4,537.8 425.7,537.8 428.1,537.9 430.4,537.8 432.7,537.8 435.0,537.8 437.4,537.8 439.7,537.8 442.0,537.8 444.4,537.9 446.7,537.9 449.0,537.9 451.4,537.9 453.7,537.8 456.0,537.8 458.4,537.8 460.7,537.8 463.0,537.7 465.4,537.7 467.7,537.6 470.0,537.6 472.4,537.6 474.7,537.6 477.0,537.7 479.4,537.7 481.7,537.8 484.0,537.8 486.4,537.9 488.7,537.9 491.0,537.9" marker-end="url(#ar)"/>
<polyline points="52.6,536.7 54.9,536.6 57.3,536.4 59.6,536.2 61.9,535.9 64.3,535.6 66.6,535.4 68.9,535.2 71.3,535.0 73.6,534.9 75.9,534.6 78.3,534.3 80.6,533.9 82.9,533.4 85.2,532.9 87.6,532.1 89.9,531.2 92.2,530.2 94.6,529.0 96.9,527.7 99.2,526.7 101.6,525.6 103.9,524.2 106.2,522.9 108.6,521.6 110.9,520.1 113.2,519.3 115.6,519.5 117.9,520.6 120.2,522.2 122.6,523.7 124.9,524.9 127.2,525.9 129.6,526.4 131.9,526.7 134.2,527.3 136.6,527.6 138.9,527.8 141.2,527.9 143.5,527.8 145.9,528.0 148.2,528.2 150.5,528.5 152.9,529.0 155.2,529.6 157.5,529.9 159.9,530.0 162.2,530.3 164.5,530.5 166.9,530.7 169.2,531.0 171.5,531.4 173.9,531.8 176.2,532.1 178.5,532.3 180.9,532.4 183.2,532.6 185.5,532.7 187.9,532.8 190.2,532.9 192.5,533.0 194.9,533.0 197.2,533.0 199.5,533.1 201.8,533.3 204.2,533.3 206.5,533.5 208.8,533.5 211.2,533.5 213.5,533.4 215.8,533.4 218.2,533.3 220.5,533.3 222.8,533.5 225.2,533.7 227.5,534.0 229.8,534.2 232.2,534.4 234.5,534.5 236.8,534.8 239.2,535.0 241.5,535.2 243.8,535.4 246.2,535.6 248.5,535.7 250.8,535.9 253.2,536.0 255.5,536.2 257.8,536.3 260.1,536.4 262.5,536.5 264.8,536.6 267.1,536.7 269.5,536.7 271.8,536.8 274.1,536.8 276.5,536.9 278.8,537.0 281.1,537.1 283.5,537.1 285.8,537.2 288.1,537.2 290.5,537.3 292.8,537.3 295.1,537.4 297.5,537.4 299.8,537.5 302.1,537.5 304.5,537.6 306.8,537.6 309.1,537.7 311.5,537.7 313.8,537.7 316.1,537.7 318.4,537.7 320.8,537.8 323.1,537.8 325.4,537.8 327.8,537.8 330.1,537.8 332.4,537.7 334.8,537.7 337.1,537.7 339.4,537.7 341.8,537.7 344.1,537.7 346.4,537.7 348.8,537.7 351.1,537.8 353.4,537.8 355.8,537.8 358.1,537.8 360.4,537.8 362.8,537.9 365.1,537.9 367.4,537.9 369.8,537.9 372.1,537.9 374.4,537.9 376.7,538.0 379.1,538.0 381.4,538.0 383.7,538.0 386.1,538.0 388.4,538.0 390.7,538.0 393.1,538.1 395.4,538.1 397.7,538.1 400.1,538.1 402.4,538.1 404.7,538.1 407.1,538.1 409.4,538.1 411.7,538.1 414.1,538.1 416.4,538.1 418.7,538.1 421.1,538.1 423.4,538.1 425.7,538.1 428.1,538.1" marker-end="url(#ar)"/>
<polyline points="52.6,537.0 54.9,537.0 57.3,537.0 59.6,537.0 61.9,536.9 64.3,536.9 66.6,536.8 68.9,536.7 71.3,536.7 73.6,536.6 75.9,536.5 78.3,536.4 80.6,536.2 82.9,536.0 85.2,535.7 87.6,535.5 89.9,535.2 92.2,534.9 94.6,534.6 96.9,534.4 99.2,534.1 101.6,533.7 103.9,533.4 106.2,533.2 108.6,533.1 110.9,532.9 113.2,533.0 115.6,533.1 117.9,533.0 120.2,532.8 122.6,532.5 124.9,531.8 127.2,531.0 129.6,530.0 131.9,528.9 134.2,528.0 136.6,526.7 138.9,525.6 141.2,524.7 143.5,523.7 145.9,522.9 148.2,522.7 150.5,522.8 152.9,522.7 155.2,523.0 157.5,523.1 159.9,523.2 162.2,522.9 164.5,522.2 166.9,521.2 169.2,520.2 171.5,519.1 173.9,518.8 176.2,518.9 178.5,518.3 180.9,517.9 183.2,518.0 185.5,517.4 187.9,517.1 190.2,517.6 192.5,517.5 194.9,516.8 197.2,516.2 199.5,514.7 201.8,513.1 204.2,511.8 206.5,511.0 208.8,509.4 211.2,509.5 213.5,509.0 215.8,509.0 218.2,509.5 220.5,510.6 222.8,510.9 225.2,511.3 227.5,511.0 229.8,510.4 232.2,508.9 234.5,507.3 236.8,505.0 239.2,502.8 241.5,499.8 243.8,496.7 246.2,494.5 248.5,493.9 250.8,494.8 253.2,496.9 255.5,499.9 257.8,502.5 260.1,503.3 262.5,502.3 264.8,501.1 267.1,500.1 269.5,499.5 271.8,499.9 274.1,499.4 276.5,499.0 278.8,497.6 281.1,493.3 283.5,489.6 285.8,488.2 288.1,487.4 290.5,486.8 292.8,488.1 295.1,490.0 297.5,489.9 299.8,488.9 302.1,487.5 304.5,484.5 306.8,480.5 309.1,479.1 311.5,479.0 313.8,479.3 316.1,480.2 318.4,482.1 320.8,484.8 323.1,487.4 325.4,489.5 327.8,491.5 330.1,491.9 332.4,491.1 334.8,490.2 337.1,489.6 339.4,489.7 341.8,489.0 344.1,490.1 346.4,490.4 348.8,489.2 351.1,488.5 353.4,489.4 355.8,488.2 358.1,487.8 360.4,487.1 362.8,485.8 365.1,482.2 367.4,479.8 369.8,475.6 372.1,473.3 374.4,470.1 376.7,468.9 379.1,466.0 381.4,465.1 383.7,463.5 386.1,463.0 388.4,463.0 390.7,462.9 393.1,460.5 395.4,459.1 397.7,459.3 400.1,459.3 402.4,462.5 404.7,466.8 407.1,471.5 409.4,474.0 411.7,477.4" marker-end="url(#ar)"/>
<polyline points="52.6,536.5 54.9,536.3 57.3,536.1 59.6,535.8 61.9,535.3 64.3,534.7 66.6,534.1 68.9,533.4 71.3,532.8 73.6,532.3 75.9,531.8 78.3,531.2 80.6,530.5 82.9,529.6 85.2,528.4 87.6,527.1 89.9,525.9 92.2,524.7 94.6,523.1 96.9,521.6 99.2,520.1 101.6,518.2 103.9,516.4 106.2,515.3 108.6,514.1 110.9,513.6 113.2,513.7 115.6,514.7 117.9,515.5 120.2,517.0 122.6,518.0 124.9,519.2 127.2,519.9 129.6,521.0 131.9,521.0 134.2,521.3 136.6,521.2 138.9,521.3 141.2,521.6 143.5,522.4 145.9,523.1 148.2,523.9 150.5,524.5 152.9,525.1 155.2,525.7 157.5,526.2 159.9,526.7 162.2,527.0 164.5,527.3 166.9,527.5 169.2,527.6 171.5,527.9 173.9,528.0 176.2,528.0 178.5,528.0 180.9,527.9 183.2,527.6 185.5,527.6 187.9,527.5 190.2,527.4 192.5,527.7 194.9,527.6 197.2,527.4 199.5,527.2 201.8,526.9 204.2,526.6 206.5,526.8 208.8,526.9 211.2,527.0 213.5,527.3 215.8,527.5 218.2,527.8 220.5,528.1 222.8,528.0 225.2,527.8 227.5,527.9 229.8,527.6 232.2,527.2 234.5,527.1 236.8,527.0 239.2,526.4 241.5,526.0 243.8,525.8 246.2,525.8 248.5,526.1 250.8,526.7 253.2,527.3 255.5,528.1 257.8,528.8 260.1,529.3 262.5,529.6 264.8,529.8 267.1,530.1 269.5,530.4 271.8,530.5 274.1,530.6 276.5,530.7 278.8,530.5 281.1,530.3 283.5,529.9 285.8,529.6 288.1,529.2 290.5,528.7 292.8,528.1 295.1,528.2 297.5,528.2 299.8,528.4 302.1,528.7 304.5,529.1 306.8,529.2 309.1,529.4 311.5,529.6 313.8,529.7 316.1,530.0 318.4,530.3 320.8,530.6 323.1,530.9 325.4,531.4 327.8,531.8 330.1,532.0 332.4,532.2 334.8,532.3 337.1,532.4 339.4,532.3 341.8,532.3 344.1,532.3" marker-end="url(#ar)"/>
<polyline points="52.6,536.5 54.9,536.4 57.3,536.3 59.6,536.1 61.9,536.0 64.3,535.8 66.6,535.6 68.9,535.5 71.3,535.5 73.6,535.4 75.9,535.4 78.3,535.3 80.6,535.2 82.9,535.0 85.2,534.8 87.6,534.6 89.9,534.5 92.2,534.3 94.6,534.1 96.9,533.8 99.2,533.3 101.6,532.7 103.9,532.1 106.2,531.6 108.6,531.2 110.9,531.0 113.2,530.6 115.6,530.2 117.9,529.7 120.2,529.1 122.6,528.6 124.9,528.2 127.2,527.7 129.6,527.3 131.9,526.5 134.2,525.6 136.6,524.7 138.9,524.1 141.2,523.6 143.5,523.4 145.9,523.2 148.2,522.8 150.5,522.3 152.9,521.7 155.2,520.3 157.5,518.9 159.9,516.9 162.2,514.4 164.5,511.4 166.9,509.4 169.2,506.8 171.5,504.6 173.9,502.4 176.2,501.3 178.5,499.7 180.9,498.7 183.2,497.8 185.5,496.9 187.9,495.1 190.2,493.0 192.5,489.7 194.9,486.5 197.2,481.9 199.5,478.2 201.8,475.1 204.2,473.0 206.5,470.3 208.8,469.6 211.2,469.7 213.5,470.0 215.8,470.8 218.2,472.7 220.5,475.6 222.8,477.2 225.2,479.3 227.5,482.6 229.8,485.6 232.2,488.1 234.5,489.2 236.8,490.7 239.2,492.0 241.5,492.7 243.8,492.8 246.2,494.4 248.5,495.7 250.8,496.0 253.2,496.2 255.5,497.9 257.8,500.0 260.1,501.6 262.5,502.9 264.8,505.0 267.1,505.8 269.5,506.3 271.8,506.7 274.1,507.3 276.5,507.0 278.8,506.4 281.1,505.4 283.5,504.4 285.8,502.3 288.1,500.3 290.5,499.0 292.8,498.7 295.1,498.8 297.5,499.3 299.8,499.2 302.1,499.2 304.5,498.9 306.8,498.0 309.1,497.5 311.5,497.8 313.8,497.8 316.1,497.8 318.4,497.7 320.8,498.5 323.1,499.1 325.4,499.8 327.8,499.1 330.1,497.6 332.4,495.3 334.8,493.5 337.1,490.8 339.4,490.1 341.8,491.0 344.1,491.7 346.4,491.9 348.8,492.0 351.1,490.7 353.4,488.6 355.8,486.8 358.1,486.3 360.4,486.3 362.8,487.6 365.1,488.9 367.4,490.2 369.8,489.9 372.1,490.1 374.4,490.2 376.7,490.4 379.1,490.6 381.4,491.9 383.7,493.3 386.1,494.9 388.4,497.2 390.7,499.3 393.1,501.3 395.4,503.3 397.7,504.4 400.1,505.3 402.4,506.2 404.7,507.6 407.1,508.7 409.4,511.0 411.7,513.1 414.1,515.1 416.4,516.5 418.7,517.6 421.1,517.8 423.4,517.9 425.7,518.0 428.1,518.5 430.4,518.6 432.7,519.2 435.0,519.6 437.4,520.2 439.7,520.1 442.0,520.5 444.4,520.7 446.7,520.8" marker-end="url(#ar)"/>
<polyline points="52.6,536.6 54.9,536.5 57.3,536.4 59.6,536.0 61.9,535.7 64.3,535.3 66.6,534.7 68.9,534.1 71.3,533.4 73.6,532.4 75.9,531.2 78.3,529.9 80.6,528.5 82.9,526.9 85.2,525.5 87.6,523.9 89.9,522.7 92.2,520.3 94.6,517.7 96.9,514.4 99.2,510.3 101.6,505.7 103.9,501.1 106.2,497.4 108.6,492.9 110.9,488.7 113.2,481.4 115.6,474.1 117.9,463.0 120.2,449.4 122.6,433.2 124.9,415.2 127.2,397.0 129.6,384.9 131.9,378.3 134.2,379.3 136.6,387.7 138.9,396.7 141.2,402.7 143.5,406.6 145.9,404.4 148.2,403.3 150.5,405.4 152.9,407.3 155.2,410.4 157.5,415.3 159.9,419.6 162.2,423.5 164.5,426.5 166.9,432.3 169.2,437.9 171.5,444.8 173.9,449.6 176.2,451.6 178.5,450.5 180.9,449.4 183.2,447.0 185.5,444.9 187.9,448.4 190.2,454.6 192.5,460.8 194.9,464.2 197.2,468.4 199.5,470.4 201.8,471.4 204.2,471.5 206.5,471.2 208.8,469.5 211.2,468.0 213.5,466.2 215.8,465.7 218.2,467.8 220.5,471.3 222.8,474.3 225.2,479.9 227.5,483.4 229.8,485.0 232.2,487.6 234.5,489.4 236.8,489.6 239.2,490.7 241.5,493.2 243.8,494.0 246.2,495.7 248.5,496.6 250.8,498.1 253.2,500.4 255.5,503.5 257.8,506.4 260.1,510.6 262.5,513.9 264.8,516.6 267.1,518.0 269.5,519.4 271.8,519.9 274.1,520.6 276.5,520.0 278.8,520.3 281.1,520.6 283.5,520.9 285.8,521.4 288.1,522.5 290.5,523.1 292.8,523.1 295.1,523.5 297.5,523.9 299.8,524.2 302.1,524.7 304.5,525.7 306.8,525.9 309.1,525.8 311.5,525.6 313.8,525.3 316.1,525.5 318.4,526.3 320.8,526.9 323.1,527.6 325.4,528.3 327.8,528.8 330.1,528.9 332.4,529.2 334.8,529.6 337.1,530.0 339.4,530.2 341.8,530.0 344.1,529.5 346.4,529.0 348.8,528.3 351.1,527.9 353.4,528.4 355.8,529.3 358.1,529.6 360.4,529.9 362.8,530.0 365.1,529.7 367.4,529.6 369.8,529.9 372.1,530.4 374.4,531.0 376.7,531.7 379.1,532.2 381.4,532.7 383.7,533.1 386.1,533.3 388.4,533.4 390.7,533.5 393.1,533.6 395.4,533.7 397.7,533.8 400.1,534.1 402.4,534.4 404.7,534.6 407.1,534.7 409.4,534.9" marker-end="url(#ar)"/>
<polyline points="52.6,536.6 54.9,536.5 57.3,536.3 59.6,536.1 61.9,535.7 64.3,535.3 66.6,534.8 68.9,534.5 71.3,534.1 73.6,533.5 75.9,532.9 78.3,532.2 80.6,531.0 82.9,529.4 85.2,527.6 87.6,525.9 89.9,524.4 92.2,523.3 94.6,522.4 96.9,521.5 99.2,520.9 101.6,518.9 103.9,516.5 106.2,513.8 108.6,510.1 110.9,505.5 113.2,500.8 115.6,496.0 117.9,489.7 120.2,483.9 122.6,478.5 124.9,473.5 127.2,467.7 129.6,464.2 131.9,464.1 134.2,464.6 136.6,468.0 138.9,471.3 141.2,472.1 143.5,469.4 145.9,465.4 148.2,460.0 150.5,453.3 152.9,450.4 155.2,451.5 157.5,453.2 159.9,459.9 162.2,467.5 164.5,475.2 166.9,481.1 169.2,486.1 171.5,487.8 173.9,489.8 176.2,491.5 178.5,493.1 180.9,494.9 183.2,495.2 185.5,494.2 187.9,493.7 190.2,493.3 192.5,494.2 194.9,496.3 197.2,498.3 199.5,498.8 201.8,498.6 204.2,496.9 206.5,494.5 208.8,491.4 211.2,487.3 213.5,483.4 215.8,480.2 218.2,478.7 220.5,477.0 222.8,476.9 225.2,477.9 227.5,479.7 229.8,479.7 232.2,481.1 234.5,484.1 236.8,485.1 239.2,484.4 241.5,483.0 243.8,481.4 246.2,478.2 248.5,475.9 250.8,470.0 253.2,465.4 255.5,460.5 257.8,459.8 260.1,458.4 262.5,463.2 264.8,467.2 267.1,471.0 269.5,473.1 271.8,475.8 274.1,477.9 276.5,480.2 278.8,483.4 281.1,484.0 283.5,484.5 285.8,486.5 288.1,489.4 290.5,491.5 292.8,493.9 295.1,495.5 297.5,496.2 299.8,497.7 302.1,499.3 304.5,501.9 306.8,505.1 309.1,506.9 311.5,508.1 313.8,509.7 316.1,511.3 318.4,513.4 320.8,515.1 323.1,517.5 325.4,519.6 327.8,521.0 330.1,521.9 332.4,523.7 334.8,524.1 337.1,524.4 339.4,524.9 341.8,525.5 344.1,525.6 346.4,526.3 348.8,526.6 351.1,526.8 353.4,527.1 355.8,527.9 358.1,528.7 360.4,529.7 362.8,530.7 365.1,531.4 367.4,531.9 369.8,532.2 372.1,532.5 374.4,533.1 376.7,533.4 379.1,533.7 381.4,534.0 383.7,534.3 386.1,534.4 388.4,534.7 390.7,535.0 393.1,535.2 395.4,535.4 397.7,535.5 400.1,535.7 402.4,535.8 404.7,535.8 407.1,535.7 409.4,535.7 411.7,535.6 414.1,535.4 416.4,535.3 418.7,535.3 421.1,535.3 423.4,535.2 425.7,535.2 428.1,535.3 430.4,535.3 432.7,535.2 435.0,535.0 437.4,534.9 439.7,534.7 442.0,534.7 444.4,534.8 446.7,535.2 449.0,535.4 451.4,535.6 453.7,535.8 456.0,536.0 458.4,536.1 460.7,536.1 463.0,536.2 465.4,536.2" marker-end="url(#ar)"/>
<polyline points="52.6,536.7 54.9,536.8 57.3,536.8 59.6,536.8 61.9,536.8 64.3,536.9 66.6,536.8 68.9,536.8 71.3,536.6 73.6,536.4 75.9,536.2 78.3,536.0 80.6,535.8 82.9,535.5 85.2,535.3 87.6,535.0 89.9,534.7 92.2,534.4 94.6,534.1 96.9,533.7 99.2,533.3 101.6,532.5 103.9,531.7 106.2,530.9 108.6,530.2 110.9,529.6 113.2,529.3 115.6,528.9 117.9,528.6 120.2,528.4 122.6,527.5 124.9,526.8 127.2,526.7 129.6,526.5 131.9,526.5 134.2,527.1 136.6,527.6 138.9,527.4 141.2,527.1 143.5,526.7 145.9,526.1 148.2,524.9 150.5,524.0 152.9,523.0 155.2,522.2 157.5,521.2 159.9,520.1 162.2,518.8 164.5,517.0 166.9,515.5 169.2,514.5 171.5,514.6 173.9,515.2 176.2,516.4 178.5,517.4 180.9,518.1 183.2,518.6 185.5,518.4 187.9,517.2 190.2,516.0 192.5,514.8 194.9,513.6 197.2,513.0 199.5,512.9 201.8,512.4 204.2,510.7 206.5,509.2 208.8,506.9 211.2,505.4 213.5,504.6 215.8,504.4 218.2,504.5 220.5,505.7 222.8,506.0 225.2,506.7 227.5,506.9 229.8,505.8 232.2,503.7 234.5,501.4 236.8,498.7 239.2,495.4 241.5,492.0 243.8,489.7 246.2,486.9 248.5,481.4 250.8,475.7 253.2,473.2 255.5,467.6 257.8,462.3 260.1,456.9 262.5,456.1 264.8,454.5 267.1,453.7 269.5,450.9 271.8,449.9 274.1,446.4 276.5,438.0 278.8,431.1 281.1,424.3 283.5,421.4 285.8,416.8 288.1,412.3 290.5,408.1 292.8,408.4 295.1,406.5 297.5,411.9 299.8,420.0 302.1,432.4 304.5,445.0 306.8,455.5 309.1,462.4 311.5,467.3 313.8,469.7" marker-end="url(#ar)"/>
<polyline points="52.6,536.7 54.9,536.6 57.3,536.5 59.6,536.3 61.9,536.1 64.3,535.9 66.6,535.7 68.9,535.4 71.3,535.1 73.6,534.7 75.9,534.3 78.3,533.9 80.6,533.5 82.9,533.2 85.2,532.8 87.6,532.3 89.9,531.7 92.2,531.0 94.6,530.2 96.9,529.6 99.2,529.1 101.6,528.6 103.9,528.4 106.2,528.4 108.6,528.6 110.9,528.6 113.2,528.6 115.6,528.2 117.9,527.4 120.2,526.2 122.6,525.4 124.9,524.8 127.2,523.9 129.6,523.6 131.9,523.0 134.2,522.1 136.6,520.6 138.9,519.5 141.2,517.9 143.5,516.2 145.9,514.1 148.2,512.6 150.5,511.0 152.9,509.2 155.2,507.6 157.5,505.9 159.9,503.7 162.2,501.2 164.5,499.4 166.9,497.7 169.2,496.3 171.5,495.4 173.9,494.4 176.2,493.1 178.5,491.2 180.9,489.7 183.2,487.8 185.5,485.0 187.9,480.5 190.2,475.0 192.5,467.7 194.9,460.3 197.2,453.9 199.5,448.0 201.8,442.9 204.2,437.4 206.5,430.1 208.8,422.7 211.2,418.4 213.5,416.3 215.8,418.9 218.2,423.1 220.5,431.7 222.8,439.6 225.2,447.3 227.5,454.6 229.8,461.2 232.2,464.1 234.5,466.5 236.8,467.9 239.2,469.1 241.5,468.3 243.8,469.3 246.2,471.4 248.5,473.9 250.8,475.0 253.2,476.5 255.5,476.5 257.8,474.6 260.1,474.2 262.5,474.2 264.8,475.8 267.1,479.8 269.5,483.1 271.8,486.0 274.1,488.4 276.5,489.8 278.8,489.9 281.1,491.6 283.5,491.7 285.8,492.2 288.1,493.1 290.5,493.6 292.8,492.9 295.1,493.7 297.5,493.7 299.8,494.2 302.1,495.1 304.5,496.9 306.8,497.4 309.1,499.0 311.5,499.3 313.8,499.9 316.1,499.6 318.4,500.2 320.8,500.3 323.1,502.1 325.4,503.6 327.8,505.7 330.1,507.5 332.4,509.6 334.8,511.3 337.1,512.0 339.4,512.9 341.8,514.1 344.1,515.2 346.4,515.7 348.8,517.0 351.1,517.8 353.4,518.4 355.8,518.9 358.1,519.4 360.4,519.7 362.8,520.3 365.1,520.7 367.4,521.3 369.8,522.5 372.1,523.7 374.4,525.0 376.7,526.4 379.1,527.2 381.4,527.7 383.7,528.0 386.1,527.9 388.4,527.8 390.7,527.8 393.1,528.0 395.4,528.2 397.7,528.2 400.1,528.2 402.4,528.4 404.7,528.5 407.1,528.8 409.4,529.4 411.7,529.9 414.1,530.1 416.4,530.3 418.7,530.5 421.1,530.6 423.4,530.9 425.7,531.4 428.1,531.6 430.4,531.9" marker-end="url(#ar)"/>
<polyline points="52.6,536.8 54.9,536.8 57.3,536.7 59.6,536.6 61.9,536.4 64.3,536.2 66.6,535.9 68.9,535.7 71.3,535.3 73.6,534.8 75.9,534.3 78.3,533.5 80.6,532.6 82.9,531.6 85.2,531.2 87.6,530.8 89.9,530.5 92.2,530.2 94.6,529.5 96.9,528.7 99.2,527.3 101.6,525.9 103.9,524.2 106.2,522.4 108.6,519.8 110.9,516.7 113.2,513.6 115.6,510.7 117.9,507.2 120.2,504.0 122.6,500.9 124.9,496.4 127.2,490.3 129.6,486.0 131.9,481.8 134.2,479.8 136.6,480.3 138.9,482.2 141.2,482.0 143.5,481.5 145.9,480.9 148.2,480.4 150.5,480.7 152.9,483.1 155.2,482.8 157.5,482.4 159.9,481.4 162.2,481.4 164.5,480.5 166.9,482.5 169.2,484.1 171.5,483.7 173.9,481.8 176.2,480.7 178.5,480.4 180.9,482.5 183.2,485.7 185.5,488.6 187.9,491.6 190.2,494.0 192.5,494.1 194.9,496.1 197.2,497.2 199.5,496.5 201.8,495.8 204.2,495.6 206.5,493.5 208.8,493.6 211.2,494.2 213.5,494.9 215.8,496.5 218.2,498.5 220.5,500.1 222.8,502.6 225.2,504.4 227.5,505.1 229.8,505.2 232.2,505.3 234.5,504.6 236.8,504.7 239.2,504.1 241.5,504.9 243.8,504.6 246.2,505.2 248.5,506.7 250.8,508.8 253.2,510.8 255.5,513.7 257.8,515.7 260.1,516.6 262.5,517.4 264.8,517.2 267.1,515.7 269.5,515.1 271.8,515.0 274.1,516.2 276.5,517.6 278.8,519.0 281.1,520.1 283.5,520.4 285.8,519.8 288.1,519.3 290.5,519.4 292.8,519.3 295.1,519.4 297.5,519.4 299.8,519.4 302.1,519.2 304.5,518.9 306.8,519.0 309.1,519.2 311.5,519.7 313.8,520.6 316.1,521.0 318.4,520.9 320.8,520.8 323.1,520.1 325.4,518.4 327.8,517.1 330.1,516.6 332.4,516.0 334.8,516.1 337.1,516.6 339.4,516.6 341.8,516.5 344.1,516.9 346.4,516.8 348.8,516.7 351.1,517.2 353.4,517.7 355.8,517.5 358.1,516.8 360.4,516.6 362.8,516.5 365.1,516.3 367.4,516.7 369.8,517.9 372.1,519.1 374.4,519.6 376.7,519.8 379.1,519.7 381.4,518.8 383.7,516.0 386.1,513.2 388.4,511.0 390.7,508.5 393.1,506.9 395.4,508.4 397.7,509.6 400.1,508.4 402.4,508.0 404.7,508.1 407.1,507.5 409.4,506.6 411.7,506.0 414.1,504.7 416.4,503.1 418.7,500.3 421.1,499.2 423.4,499.9 425.7,500.9 428.1,500.0 430.4,499.3 432.7,496.0 435.0,494.0 437.4,491.3 439.7,490.1 442.0,490.0 444.4,491.9 446.7,492.4 449.0,493.4 451.4,493.5 453.7,492.3 456.0,490.0 458.4,487.7 460.7,484.0 463.0,480.8 465.4,477.7 467.7,476.4 470.0,471.8 472.4,469.9 474.7,469.6 477.0,470.0 479.4,469.9 481.7,469.8 484.0,467.5 486.4,464.5 488.7,462.1 491.0,458.4" marker-end="url(#ar)"/>
<polyline points="52.6,536.9 54.9,536.8 57.3,536.8 59.6,536.7 61.9,536.5 64.3,536.3 66.6,536.1 68.9,536.0 71.3,535.9 73.6,535.7 75.9,535.6 78.3,535.5 80.6,535.4 82.9,535.3 85.2,535.2 87.6,535.2 89.9,535.1 92.2,535.0 94.6,534.8 96.9,534.6 99.2,534.1 101.6,533.7 103.9,533.3 106.2,532.9 108.6,532.6 110.9,532.5 113.2,532.5 115.6,532.1 117.9,531.6 120.2,530.9 122.6,529.9 124.9,528.8 127.2,527.8 129.6,526.6 131.9,525.8 134.2,525.2 136.6,524.5 138.9,523.9 141.2,523.8 143.5,523.5 145.9,522.6 148.2,521.3 150.5,519.0 152.9,516.4 155.2,513.2 157.5,510.8 159.9,508.6 162.2,507.4 164.5,506.5 166.9,505.8 169.2,505.0 171.5,505.2 173.9,505.8 176.2,504.9 178.5,504.5 180.9,504.2 183.2,502.9 185.5,501.9 187.9,501.4 190.2,500.4 192.5,499.8 194.9,499.8 197.2,499.6 199.5,500.5 201.8,501.6 204.2,502.0 206.5,501.4 208.8,500.9 211.2,500.1 213.5,500.0 215.8,499.4 218.2,500.2 220.5,500.6 222.8,501.4 225.2,502.5 227.5,504.0 229.8,503.6 232.2,503.3 234.5,502.5 236.8,500.4 239.2,498.4 241.5,499.0 243.8,500.1 246.2,502.5 248.5,504.1 250.8,506.2 253.2,508.0 255.5,509.6 257.8,510.5 260.1,511.9 262.5,513.0 264.8,514.2 267.1,514.9 269.5,515.2 271.8,516.5 274.1,517.2 276.5,518.0 278.8,519.1 281.1,520.0 283.5,520.5 285.8,521.2 288.1,521.8 290.5,522.3 292.8,523.5 295.1,524.6 297.5,525.7 299.8,526.5 302.1,527.2 304.5,527.7 306.8,528.2 309.1,528.9 311.5,529.5 313.8,530.3 316.1,531.1 318.4,531.7 320.8,532.0 323.1,532.4 325.4,532.5 327.8,532.6 330.1,532.7 332.4,532.8 334.8,533.0 337.1,533.1 339.4,533.2 341.8,533.3 344.1,533.3 346.4,533.1 348.8,532.9 351.1,532.5 353.4,532.0 355.8,531.5 358.1,531.2 360.4,530.9 362.8,530.6 365.1,530.4 367.4,530.4 369.8,530.3 372.1,530.3 374.4,530.5 376.7,530.7 379.1,530.8 381.4,530.9 383.7,531.0 386.1,530.8 388.4,530.8 390.7,530.8 393.1,530.5 395.4,530.0 397.7,529.8 400.1,529.4 402.4,529.0 404.7,528.5 407.1,528.0 409.4,527.7 411.7,527.3 414.1,526.9 416.4,526.7 418.7,526.7 421.1,526.5 423.4,526.3 425.7,526.5 428.1,526.5 430.4,526.6 432.7,526.6 435.0,526.6 437.4,526.3 439.7,526.1 442.0,525.5 444.4,525.1 446.7,524.6 449.0,524.3 451.4,523.8" marker-end="url(#ar)"/>
<polyline points="52.6,536.8 54.9,536.7 57.3,536.7 59.6,536.6 61.9,536.5 64.3,536.3 66.6,536.1 68.9,535.9 71.3,535.7 73.6,535.5 75.9,535.3 78.3,535.2 80.6,535.0 82.9,534.8 85.2,534.5 87.6,534.2 89.9,533.9 92.2,533.6 94.6,533.2 96.9,532.7 99.2,532.1 101.6,531.5 103.9,531.0 106.2,530.5 108.6,530.1 110.9,530.0 113.2,529.8 115.6,529.3 117.9,528.9 120.2,528.3 122.6,527.6 124.9,526.9 127.2,526.1 129.6,525.2 131.9,524.3 134.2,523.5 136.6,522.4 138.9,521.6 141.2,520.8 143.5,519.8 145.9,519.0 148.2,518.3 150.5,517.3 152.9,516.3 155.2,515.2 157.5,513.6 159.9,512.0 162.2,510.2 164.5,508.4 166.9,506.9 169.2,505.8 171.5,504.5 173.9,502.8 176.2,501.0 178.5,499.0 180.9,497.2 183.2,495.5 185.5,494.9 187.9,493.6 190.2,491.5 192.5,490.1 194.9,489.8 197.2,489.2 199.5,491.0 201.8,493.7 204.2,495.9 206.5,497.3 208.8,498.2 211.2,498.1 213.5,497.5 215.8,497.0 218.2,495.9 220.5,495.3 222.8,494.8 225.2,494.3 227.5,493.3 229.8,493.3 232.2,493.7 234.5,494.5 236.8,496.2 239.2,497.9 241.5,499.2 243.8,500.7 246.2,501.3 248.5,501.3 250.8,501.1 253.2,500.4 255.5,500.1 257.8,499.7 260.1,499.7 262.5,500.2 264.8,501.2 267.1,502.1 269.5,503.5 271.8,504.9 274.1,505.9 276.5,507.8 278.8,509.1 281.1,510.3 283.5,510.9 285.8,512.4 288.1,513.1 290.5,513.8 292.8,514.9 295.1,516.4 297.5,517.4 299.8,518.4 302.1,519.3 304.5,520.2 306.8,520.8 309.1,521.4 311.5,521.9 313.8,522.5 316.1,522.9 318.4,523.5 320.8,524.3 323.1,525.0 325.4,525.5 327.8,525.7 330.1,525.9 332.4,526.0 334.8,526.2 337.1,526.3 339.4,526.7 341.8,527.0 344.1,527.3 346.4,527.7 348.8,528.5 351.1,528.9 353.4,529.5 355.8,530.0 358.1,530.4 360.4,530.5 362.8,530.7 365.1,530.9" marker-end="url(#ar)"/>
<polyline points="52.6,536.8 54.9,536.8 57.3,536.8 59.6,536.8 61.9,536.8 64.3,536.8 66.6,536.7 68.9,536.6 71.3,536.6 73.6,536.5 75.9,536.4 78.3,536.3 80.6,536.2 82.9,536.1 85.2,536.1 87.6,535.9 89.9,535.8 92.2,535.7 94.6,535.6 96.9,535.4 99.2,535.3 101.6,535.1 103.9,535.1 106.2,534.9 108.6,534.7 110.9,534.6 113.2,534.4 115.6,534.2 117.9,533.9 120.2,533.6 122.6,533.1 124.9,532.7 127.2,532.1 129.6,531.4 131.9,530.9 134.2,530.6 136.6,530.3 138.9,530.3 141.2,530.4 143.5,530.3 145.9,529.9 148.2,529.4 150.5,528.7 152.9,527.7 155.2,526.7 157.5,525.3 159.9,523.9 162.2,522.5 164.5,521.4 166.9,520.4 169.2,519.7 171.5,519.3 173.9,518.5 176.2,517.0 178.5,515.4 180.9,514.2 183.2,512.7 185.5,511.0 187.9,508.7 190.2,507.5 192.5,504.6 194.9,502.2 197.2,501.2 199.5,501.5 201.8,500.6 204.2,500.5 206.5,500.4 208.8,499.5 211.2,498.2 213.5,497.7 215.8,497.7 218.2,495.3 220.5,492.6 222.8,490.5 225.2,486.8 227.5,481.5 229.8,478.5 232.2,474.3 234.5,470.3 236.8,466.7 239.2,464.1 241.5,462.5 243.8,462.9 246.2,462.5 248.5,462.6 250.8,461.9 253.2,460.6 255.5,460.1 257.8,460.2 260.1,461.3 262.5,467.5 264.8,472.3 267.1,476.2 269.5,480.9 271.8,485.9 274.1,490.4 276.5,495.0 278.8,499.1 281.1,502.3 283.5,504.1 285.8,505.0 288.1,506.7 290.5,508.4 292.8,509.3 295.1,510.1 297.5,510.9 299.8,511.2 302.1,511.0 304.5,510.7 306.8,511.1 309.1,510.0 311.5,508.6 313.8,507.7 316.1,506.2 318.4,503.4 320.8,502.5 323.1,502.0 325.4,500.5 327.8,500.0 330.1,499.1 332.4,496.2 334.8,491.5 337.1,487.1 339.4,482.2 341.8,477.5 344.1,472.0 346.4,469.7 348.8,467.5 351.1,467.2 353.4,467.8 355.8,471.2 358.1,473.7 360.4,476.4 362.8,476.6 365.1,478.5 367.4,479.3 369.8,479.8 372.1,480.2 374.4,481.7 376.7,480.5 379.1,480.1 381.4,479.1 383.7,477.4 386.1,477.5 388.4,479.6 390.7,480.8 393.1,481.7 395.4,484.0 397.7,484.3 400.1,483.5 402.4,483.9 404.7,484.5 407.1,484.5 409.4,486.0 411.7,488.6 414.1,491.5 416.4,494.3 418.7,496.9 421.1,497.6 423.4,498.9 425.7,499.8 428.1,500.6 430.4,500.1 432.7,499.7 435.0,497.2 437.4,494.6 439.7,492.4 442.0,491.5 444.4,491.8 446.7,492.1 449.0,490.5 451.4,488.7 453.7,486.2 456.0,482.9 458.4,480.6 460.7,481.4 463.0,479.8 465.4,479.1 467.7,479.9 470.0,482.2 472.4,481.5 474.7,482.6 477.0,482.7 479.4,482.8 481.7,480.5" marker-end="url(#ar)"/>
<polyline points="52.6,536.6 54.9,536.6 57.3,536.5 59.6,536.4 61.9,536.3 64.3,536.1 66.6,536.0 68.9,535.7 71.3,535.4 73.6,535.1 75.9,534.9 78.3,534.4 80.6,534.1 82.9,533.8 85.2,533.3 87.6,532.3 89.9,531.5 92.2,530.2 94.6,528.7 96.9,527.3 99.2,526.1 101.6,524.3 103.9,522.4 106.2,520.7 108.6,518.5 110.9,516.0 113.2,513.8 115.6,511.7 117.9,509.4 120.2,506.9 122.6,503.9 124.9,500.1 127.2,494.6 129.6,487.4 131.9,478.6 134.2,469.7 136.6,459.5 138.9,448.8 141.2,437.7 143.5,426.7 145.9,410.7 148.2,396.2 150.5,389.2 152.9,380.1 155.2,370.0 157.5,362.9 159.9,356.5 162.2,340.5 164.5,320.1 166.9,299.1 169.2,283.5 171.5,268.7 173.9,257.1 176.2,246.4 178.5,231.6 180.9,217.3 183.2,210.6 185.5,218.0 187.9,235.9 190.2,250.4 192.5,259.5 194.9,267.0 197.2,273.2 199.5,275.9 201.8,295.1 204.2,318.8 206.5,337.2 208.8,348.1 211.2,358.7 213.5,367.8 215.8,371.5 218.2,373.4 220.5,378.8 222.8,387.4 225.2,392.4 227.5,398.6 229.8,402.3 232.2,406.7 234.5,409.7 236.8,414.5 239.2,415.9 241.5,421.1 243.8,422.7 246.2,422.6 248.5,418.7 250.8,417.8 253.2,415.9 255.5,412.4 257.8,405.6 260.1,401.8 262.5,391.8 264.8,378.9 267.1,369.7 269.5,364.7 271.8,353.4 274.1,350.9 276.5,350.7 278.8,347.6 281.1,346.7 283.5,348.7 285.8,352.7 288.1,354.5 290.5,361.0 292.8,357.7 295.1,357.7 297.5,354.9 299.8,351.4 302.1,352.4 304.5,360.8 306.8,372.5 309.1,386.5 311.5,402.2 313.8,413.1 316.1,422.5 318.4,428.5 320.8,430.7 323.1,432.6 325.4,427.6 327.8,422.8 330.1,417.4 332.4,411.2 334.8,402.5 337.1,400.7 339.4,398.6 341.8,397.2 344.1,396.7 346.4,396.2 348.8,399.1 351.1,403.3 353.4,406.6 355.8,411.8 358.1,420.2 360.4,422.0 362.8,425.3 365.1,428.2 367.4,430.7 369.8,431.7 372.1,434.1 374.4,432.4 376.7,431.1 379.1,430.6 381.4,429.9 383.7,427.3 386.1,426.2 388.4,424.2 390.7,420.4 393.1,416.1 395.4,416.0 397.7,417.1 400.1,418.7 402.4,420.8 404.7,425.6 407.1,426.1 409.4,427.9 411.7,430.8 414.1,432.2 416.4,430.2 418.7,432.3 421.1,433.5 423.4,436.6 425.7,443.1 428.1,449.9 430.4,453.2 432.7,457.7" marker-end="url(#ar)"/>
<polyline points="52.6,536.8 54.9,536.7 57.3,536.6 59.6,536.4 61.9,536.2 64.3,535.9 66.6,535.7 68.9,535.5 71.3,535.3 73.6,535.1 75.9,535.0 78.3,534.7 80.6,534.6 82.9,534.5 85.2,534.3 87.6,534.2 89.9,534.1 92.2,533.9 94.6,533.6 96.9,533.3 99.2,532.9 101.6,532.6 103.9,532.1 106.2,531.7 108.6,531.2 110.9,530.8 113.2,530.1 115.6,529.2 117.9,528.2 120.2,527.0 122.6,525.3 124.9,523.7 127.2,522.5 129.6,521.1 131.9,519.9 134.2,519.3 136.6,518.0 138.9,516.9 141.2,516.0 143.5,515.3 145.9,513.5 148.2,511.7 150.5,509.8 152.9,507.1 155.2,503.9 157.5,501.7 159.9,499.3 162.2,495.5 164.5,491.6 166.9,487.3 169.2,481.9 171.5,477.4 173.9,474.3 176.2,470.5 178.5,465.2 180.9,460.2 183.2,453.7 185.5,449.6 187.9,444.0 190.2,439.9 192.5,433.4 194.9,424.9 197.2,413.8 199.5,402.4 201.8,391.6 204.2,385.5 206.5,382.0 208.8,380.9 211.2,379.4 213.5,378.8 215.8,377.9 218.2,376.8 220.5,371.6 222.8,371.4 225.2,371.7 227.5,372.8 229.8,376.3 232.2,382.7 234.5,385.8 236.8,388.2 239.2,388.8 241.5,388.2 243.8,387.4 246.2,388.3 248.5,390.0 250.8,391.7 253.2,397.1 255.5,401.2 257.8,406.8 260.1,410.9 262.5,414.9 264.8,416.6 267.1,418.7 269.5,418.5 271.8,416.2 274.1,414.4 276.5,410.5 278.8,405.5 281.1,401.7 283.5,400.1 285.8,397.6 288.1,395.4 290.5,395.4 292.8,396.1 295.1,398.4 297.5,402.9 299.8,404.7 302.1,403.4 304.5,400.2 306.8,393.0 309.1,383.6 311.5,377.8 313.8,368.8 316.1,361.3 318.4,360.7 320.8,363.7 323.1,361.3 325.4,363.6 327.8,363.2 330.1,357.2 332.4,350.2 334.8,350.6 337.1,351.5 339.4,351.9 341.8,353.8 344.1,356.1 346.4,356.4 348.8,360.2 351.1,365.4 353.4,373.7 355.8,381.0 358.1,391.3 360.4,399.4 362.8,408.7 365.1,413.9 367.4,417.8 369.8,419.5" marker-end="url(#ar)"/>
<polyline points="52.6,536.7 54.9,536.7 57.3,536.7 59.6,536.7 61.9,536.7 64.3,536.8 66.6,536.7 68.9,536.6 71.3,536.5 73.6,536.3 75.9,536.0 78.3,535.9 80.6,535.8 82.9,535.7 85.2,535.7 87.6,535.6 89.9,535.3 92.2,535.0 94.6,534.6 96.9,533.9 99.2,533.2 101.6,532.5 103.9,531.6 106.2,530.4 108.6,529.4 110.9,528.4 113.2,527.3 115.6,525.6 117.9,524.0 120.2,521.8 122.6,519.8 124.9,516.8 127.2,515.1 129.6,512.8 131.9,510.7 134.2,506.6 136.6,501.7 138.9,495.8 141.2,491.2 143.5,485.7 145.9,481.6 148.2,479.4 150.5,475.4 152.9,471.5 155.2,472.2 157.5,474.4 159.9,475.9 162.2,478.1 164.5,481.0 166.9,481.8 169.2,483.4 171.5,485.7 173.9,488.9 176.2,492.1 178.5,494.6 180.9,494.5 183.2,494.4 185.5,494.5 187.9,492.3 190.2,489.5 192.5,488.8 194.9,487.4 197.2,483.7 199.5,481.1 201.8,480.7 204.2,480.9 206.5,484.6 208.8,489.6 211.2,496.0 213.5,499.4 215.8,501.1 218.2,500.5 220.5,501.1 222.8,500.2 225.2,501.5 227.5,502.7 229.8,503.9 232.2,504.4 234.5,505.2 236.8,505.5 239.2,505.7 241.5,505.8 243.8,505.2 246.2,503.9 248.5,501.5 250.8,500.1 253.2,499.3 255.5,499.3 257.8,499.8 260.1,502.2 262.5,504.7 264.8,507.8 267.1,511.5 269.5,514.2 271.8,516.6 274.1,518.0 276.5,519.1 278.8,520.0 281.1,521.0 283.5,522.1 285.8,523.5 288.1,525.0 290.5,525.9 292.8,527.1 295.1,527.9 297.5,528.5 299.8,528.5 302.1,528.6 304.5,528.3 306.8,527.7 309.1,526.9 311.5,526.6 313.8,525.9 316.1,525.2 318.4,524.0 320.8,522.9 323.1,522.4 325.4,522.7 327.8,523.3 330.1,524.7 332.4,525.8 334.8,526.2 337.1,526.1 339.4,526.0 341.8,525.4 344.1,524.9 346.4,524.4 348.8,523.9 351.1,523.2 353.4,523.0 355.8,522.2 358.1,521.5 360.4,521.0 362.8,519.6 365.1,518.2 367.4,516.8 369.8,514.6 372.1,512.6 374.4,512.2 376.7,513.3 379.1,515.3 381.4,516.9 383.7,518.2 386.1,518.8 388.4,518.5 390.7,517.4 393.1,516.6 395.4,516.0 397.7,515.3 400.1,514.4 402.4,513.8 404.7,513.6 407.1,512.8 409.4,511.7 411.7,509.2 414.1,507.3 416.4,506.7 418.7,504.3 421.1,503.6 423.4,506.3 425.7,508.7 428.1,510.3 430.4,513.7 432.7,515.2 435.0,515.2 437.4,515.0 439.7,514.6 442.0,513.7 444.4,514.2 446.7,515.4 449.0,516.3 451.4,517.5 453.7,517.9 456.0,517.4 458.4,516.3 460.7,516.1 463.0,515.1 465.4,514.8" marker-end="url(#ar)"/>
<polyline points="52.6,536.2 54.9,536.0 57.3,535.8 59.6,535.3 61.9,534.9 64.3,534.4 66.6,533.8 68.9,533.2 71.3,532.8 73.6,532.2 75.9,531.3 78.3,530.5 80.6,529.3 82.9,527.6 85.2,525.8 87.6,524.0 89.9,522.3 92.2,520.9 94.6,519.8 96.9,518.4 99.2,517.0 101.6,513.6 103.9,510.0 106.2,504.8 108.6,499.1 110.9,492.9 113.2,487.4 115.6,482.2 117.9,478.0 120.2,471.8 122.6,464.9 124.9,458.6 127.2,450.6 129.6,438.6 131.9,424.9 134.2,406.5 136.6,385.0 138.9,361.6 141.2,337.1 143.5,324.7 145.9,319.5 148.2,325.0 150.5,332.7 152.9,348.3 155.2,357.4 157.5,365.0 159.9,364.1 162.2,355.8 164.5,343.2 166.9,330.4 169.2,320.1 171.5,315.5 173.9,327.7 176.2,342.2 178.5,359.0 180.9,372.3 183.2,377.8 185.5,373.2 187.9,363.9 190.2,349.5 192.5,330.7 194.9,310.4 197.2,286.0 199.5,262.8 201.8,234.2 204.2,200.3 206.5,172.2 208.8,157.6 211.2,150.0 213.5,159.1 215.8,178.7 218.2,199.7 220.5,216.2 222.8,223.5 225.2,223.5 227.5,206.4 229.8,198.3 232.2,191.3 234.5,184.2 236.8,176.0 239.2,198.8 241.5,206.7 243.8,217.8 246.2,238.0 248.5,252.5 250.8,254.7 253.2,258.3 255.5,257.0 257.8,247.8 260.1,241.6 262.5,232.8 264.8,220.9 267.1,211.7 269.5,210.5 271.8,207.4 274.1,205.7 276.5,207.0 278.8,223.1 281.1,223.9 283.5,230.8 285.8,235.2 288.1,248.6 290.5,249.8 292.8,259.8 295.1,274.1 297.5,290.6 299.8,303.6 302.1,314.2 304.5,319.4 306.8,323.7 309.1,328.3 311.5,336.1 313.8,343.7 316.1,359.4 318.4,368.6 320.8,374.1 323.1,374.1 325.4,377.0 327.8,380.1 330.1,382.8 332.4,387.3 334.8,393.9 337.1,400.4 339.4,405.2 341.8,409.6 344.1,416.0 346.4,421.6 348.8,425.8 351.1,425.9 353.4,429.7" marker-end="url(#ar)"/>
<polyline points="52.6,536.6 54.9,536.5 57.3,536.4 59.6,536.3 61.9,536.1 64.3,536.0 66.6,535.8 68.9,535.6 71.3,535.2 73.6,534.8 75.9,534.3 78.3,533.8 80.6,533.2 82.9,532.8 85.2,532.2 87.6,531.7 89.9,531.1 92.2,530.8 94.6,530.2 96.9,529.5 99.2,528.4 101.6,527.4 103.9,525.9 106.2,524.7 108.6,523.1 110.9,521.7 113.2,519.8 115.6,517.8 117.9,514.5 120.2,511.0 122.6,505.8 124.9,499.4 127.2,491.5 129.6,482.0 131.9,472.6 134.2,462.9 136.6,451.3 138.9,438.2 141.2,425.5 143.5,409.6 145.9,394.1 148.2,377.8 150.5,365.4 152.9,353.2 155.2,347.4 157.5,344.1 159.9,343.7 162.2,340.5 164.5,342.5 166.9,345.8 169.2,351.3 171.5,360.6 173.9,367.2 176.2,376.1 178.5,384.4 180.9,389.9 183.2,397.0 185.5,404.9 187.9,406.6 190.2,401.7 192.5,397.9 194.9,389.3 197.2,380.5 199.5,374.9 201.8,372.6 204.2,367.3 206.5,363.5 208.8,362.3 211.2,366.1 213.5,370.0 215.8,385.0 218.2,398.8 220.5,410.1 222.8,420.4 225.2,429.7 227.5,433.3 229.8,438.1 232.2,442.3 234.5,445.2 236.8,448.0 239.2,454.7 241.5,461.2 243.8,469.5 246.2,477.0 248.5,482.1 250.8,484.6 253.2,485.1 255.5,485.6 257.8,485.4 260.1,486.3 262.5,487.0 264.8,488.3 267.1,488.7 269.5,490.6 271.8,493.7 274.1,497.6 276.5,501.8 278.8,504.6 281.1,506.4 283.5,507.8 285.8,507.8 288.1,507.0 290.5,506.6 292.8,505.4 295.1,505.6 297.5,507.7 299.8,509.7 302.1,511.8 304.5,513.6 306.8,514.7 309.1,514.9 311.5,515.7 313.8,516.5 316.1,517.8 318.4,519.1 320.8,520.8 323.1,522.2 325.4,523.5 327.8,524.7 330.1,525.9 332.4,526.8 334.8,528.0 337.1,529.0 339.4,529.7 341.8,529.9 344.1,530.2 346.4,530.4 348.8,530.6 351.1,530.8 353.4,531.3 355.8,531.7 358.1,531.9 360.4,532.2 362.8,532.6 365.1,533.0 367.4,533.3 369.8,533.7 372.1,534.1 374.4,534.4 376.7,534.5 379.1,534.7 381.4,534.7 383.7,534.8 386.1,534.8 388.4,534.9 390.7,535.0 393.1,535.1 395.4,535.2 397.7,535.3 400.1,535.3 402.4,535.3 404.7,535.3 407.1,535.3 409.4,535.4 411.7,535.5 414.1,535.6 416.4,535.6 418.7,535.5 421.1,535.3 423.4,535.0 425.7,534.7 428.1,534.5 430.4,534.3 432.7,534.2 435.0,534.3 437.4,534.4 439.7,534.6 442.0,534.7 444.4,534.9" marker-end="url(#ar)"/>
<polyline points="52.6,536.8 54.9,536.6 57.3,536.5 59.6,536.3 61.9,536.1 64.3,535.9 66.6,535.7 68.9,535.4 71.3,535.2 73.6,535.0 75.9,534.9 78.3,534.9 80.6,534.9 82.9,534.9 85.2,534.6 87.6,534.3 89.9,533.8 92.2,533.5 94.6,533.3 96.9,533.3 99.2,533.5 101.6,533.7 103.9,533.6 106.2,533.4 108.6,532.9 110.9,532.2 113.2,531.4 115.6,530.6 117.9,529.9 120.2,529.0 122.6,527.7 124.9,526.2 127.2,523.7 129.6,520.2 131.9,515.1 134.2,510.3 136.6,504.1 138.9,499.0 141.2,494.9 143.5,493.1 145.9,489.0 148.2,485.9 150.5,481.5 152.9,480.0 155.2,476.6 157.5,476.4 159.9,474.3 162.2,469.7 164.5,462.0 166.9,453.7 169.2,441.3 171.5,426.3 173.9,414.3 176.2,401.6 178.5,384.6 180.9,370.8 183.2,358.7 185.5,343.7 187.9,322.7 190.2,304.2 192.5,277.7 194.9,262.2 197.2,247.4 199.5,249.0 201.8,254.9 204.2,267.3 206.5,269.5 208.8,280.1 211.2,285.5 213.5,288.9 215.8,289.6 218.2,298.7 220.5,301.3 222.8,297.6 225.2,291.1 227.5,283.0 229.8,270.0 232.2,270.1 234.5,270.1 236.8,287.2 239.2,311.7 241.5,331.0 243.8,341.8 246.2,352.0 248.5,359.7 250.8,368.8 253.2,378.6 255.5,383.8 257.8,396.1 260.1,404.5 262.5,406.9 264.8,407.4 267.1,407.4 269.5,401.9 271.8,401.3 274.1,401.0 276.5,401.2 278.8,406.5 281.1,416.5 283.5,422.5 285.8,428.2 288.1,437.6 290.5,445.6 292.8,452.2 295.1,458.1 297.5,466.0 299.8,472.1 302.1,477.6 304.5,482.1 306.8,488.5 309.1,492.7 311.5,495.1 313.8,496.0 316.1,496.2 318.4,494.6 320.8,492.9 323.1,490.4 325.4,490.4 327.8,491.2 330.1,491.5 332.4,492.8 334.8,497.8 337.1,501.9 339.4,504.6 341.8,507.4 344.1,509.8 346.4,510.7 348.8,512.0 351.1,514.1 353.4,516.5 355.8,518.7 358.1,521.0 360.4,522.1 362.8,522.5 365.1,522.2 367.4,522.3 369.8,522.1 372.1,522.6 374.4,523.1 376.7,524.0 379.1,524.2 381.4,524.4 383.7,524.2 386.1,524.4 388.4,524.7 390.7,524.9 393.1,525.1 395.4,526.2 397.7,527.1 400.1,527.7 402.4,528.4 404.7,529.0 407.1,529.0 409.4,529.0 411.7,529.1 414.1,529.5 416.4,529.9 418.7,530.2 421.1,530.5 423.4,530.5 425.7,530.2 428.1,529.7 430.4,529.2 432.7,528.9 435.0,528.8 437.4,528.7 439.7,529.1 442.0,529.5 444.4,529.5 446.7,529.5 449.0,529.5 451.4,529.8 453.7,529.8 456.0,529.9" marker-end="url(#ar)"/>
<polyline points="52.6,536.9 54.9,536.9 57.3,536.8 59.6,536.7 61.9,536.5 64.3,536.4 66.6,536.2 68.9,536.0 71.3,535.7 73.6,535.5 75.9,535.2 78.3,534.9 80.6,534.6 82.9,534.4 85.2,534.2 87.6,534.1 89.9,534.0 92.2,533.6 94.6,533.3 96.9,532.7 99.2,532.1 101.6,531.2 103.9,530.3 106.2,529.3 108.6,528.1 110.9,527.2 113.2,526.3 115.6,525.3 117.9,524.6 120.2,523.8 122.6,522.9 124.9,522.0 127.2,520.6 129.6,518.4 131.9,516.5 134.2,513.3 136.6,509.3 138.9,504.8 141.2,500.6 143.5,495.4 145.9,491.0 148.2,486.0 150.5,481.8 152.9,475.3 155.2,469.5 157.5,462.8 159.9,460.6 162.2,457.5 164.5,454.9 166.9,450.9 169.2,447.3 171.5,438.0 173.9,428.1 176.2,417.7 178.5,408.2 180.9,397.2 183.2,387.5 185.5,380.2 187.9,373.2 190.2,359.7 192.5,346.3 194.9,333.9 197.2,318.0 199.5,305.4 201.8,298.2 204.2,298.8 206.5,295.6 208.8,292.2 211.2,293.5 213.5,298.1 215.8,297.3 218.2,302.7 220.5,312.4 222.8,317.2 225.2,321.1 227.5,322.3 229.8,321.2 232.2,318.1 234.5,316.2 236.8,314.2 239.2,316.8 241.5,317.9 243.8,321.3 246.2,325.1 248.5,329.2 250.8,326.9 253.2,326.3 255.5,319.4 257.8,310.2 260.1,296.0 262.5,291.1 264.8,291.4 267.1,290.3 269.5,297.3 271.8,307.0 274.1,313.9 276.5,316.7 278.8,325.4 281.1,329.5 283.5,335.4 285.8,343.8 288.1,356.2 290.5,368.5 292.8,379.6 295.1,388.5 297.5,395.5 299.8,398.4 302.1,403.6 304.5,407.5 306.8,408.8 309.1,408.4 311.5,407.4 313.8,403.5 316.1,399.6 318.4,396.6 320.8,393.9 323.1,393.8 325.4,396.2 327.8,399.0 330.1,404.7 332.4,408.8 334.8,411.3 337.1,411.9 339.4,416.4 341.8,420.5 344.1,424.5 346.4,428.2 348.8,430.5 351.1,429.0 353.4,428.8 355.8,431.9 358.1,437.1 360.4,442.9 362.8,448.5 365.1,451.0 367.4,452.7 369.8,453.5 372.1,455.8 374.4,456.9 376.7,460.2 379.1,464.4 381.4,468.8 383.7,471.8 386.1,476.2 388.4,480.3 390.7,483.5 393.1,485.0 395.4,486.6 397.7,488.2 400.1,490.5 402.4,491.5 404.7,492.9 407.1,494.1 409.4,495.6 411.7,494.9 414.1,496.1 416.4,497.3 418.7,497.8 421.1,497.7 423.4,498.7 425.7,499.0 428.1,499.1 430.4,499.5 432.7,500.4 435.0,500.4 437.4,500.1 439.7,500.6 442.0,500.2 444.4,499.7 446.7,500.1 449.0,500.8 451.4,500.7 453.7,501.4 456.0,502.4 458.4,502.7 460.7,502.0 463.0,502.0 465.4,502.2" marker-end="url(#ar)"/>
<polyline points="52.6,536.6 54.9,536.6 57.3,536.5 59.6,536.4 61.9,536.3 64.3,536.1 66.6,535.9 68.9,535.7 71.3,535.6 73.6,535.5 75.9,535.4 78.3,535.4 80.6,535.3 82.9,535.2 85.2,535.0 87.6,534.8 89.9,534.6 92.2,534.3 94.6,534.0 96.9,533.8 99.2,533.5 101.6,533.2 103.9,533.1 106.2,533.0 108.6,533.0 110.9,532.8 113.2,532.7 115.6,532.6 117.9,532.4 120.2,532.3 122.6,532.2 124.9,532.1 127.2,531.9 129.6,531.8 131.9,531.6 134.2,531.6 136.6,531.2 138.9,530.7 141.2,530.2 143.5,529.5 145.9,528.6 148.2,528.0 150.5,527.4 152.9,526.6 155.2,525.9 157.5,525.1 159.9,524.1 162.2,522.9 164.5,521.4 166.9,519.6 169.2,517.4 171.5,515.5 173.9,513.5 176.2,511.8 178.5,509.7 180.9,508.2 183.2,506.6 185.5,505.2 187.9,504.1 190.2,502.9 192.5,501.8 194.9,500.0 197.2,498.5 199.5,496.3 201.8,494.5 204.2,491.9 206.5,490.2 208.8,487.7 211.2,485.3 213.5,482.4 215.8,479.4 218.2,475.0 220.5,471.8 222.8,467.3 225.2,462.2 227.5,459.4 229.8,457.4 232.2,453.6 234.5,450.3 236.8,448.3 239.2,443.5 241.5,439.5 243.8,437.2 246.2,435.9 248.5,434.9 250.8,434.7 253.2,433.8 255.5,435.2 257.8,438.8 260.1,441.5 262.5,444.2 264.8,447.6 267.1,447.7 269.5,447.6 271.8,447.8 274.1,449.9 276.5,452.0 278.8,454.0 281.1,457.4 283.5,463.7 285.8,468.6 288.1,471.9 290.5,477.0 292.8,480.5 295.1,481.2 297.5,482.0 299.8,484.3 302.1,485.0 304.5,485.6 306.8,487.3 309.1,489.5 311.5,491.5 313.8,493.9 316.1,496.0 318.4,497.3 320.8,498.3 323.1,498.3 325.4,498.3 327.8,498.8 330.1,499.4 332.4,500.3 334.8,502.1 337.1,504.0 339.4,505.5 341.8,507.0 344.1,508.4 346.4,509.7 348.8,511.3 351.1,512.8 353.4,514.1 355.8,515.4 358.1,516.9 360.4,518.7 362.8,520.3 365.1,522.0 367.4,523.1 369.8,523.9 372.1,524.3 374.4,524.7 376.7,524.8 379.1,524.8 381.4,525.0 383.7,524.9 386.1,524.6 388.4,524.6 390.7,524.6 393.1,524.7 395.4,524.8 397.7,524.8 400.1,524.8 402.4,524.8 404.7,524.7 407.1,524.8 409.4,524.7 411.7,524.8 414.1,525.0 416.4,524.9 418.7,524.8 421.1,525.0 423.4,525.2 425.7,525.6 428.1,526.2 430.4,526.9 432.7,527.4 435.0,528.0 437.4,528.1 439.7,528.1 442.0,528.1 444.4,528.1" marker-end="url(#ar)"/>
<defs><linearGradient id="bandg" x1="0" y1="0" x2="0" y2="1"><stop offset="0" stop-color="#d6d6d6" stop-opacity="0"/><stop offset="0.45" stop-color="#d6d6d6" stop-opacity="0.9"/><stop offset="1" stop-color="#cfcfcf" stop-opacity="1"/></linearGradient></defs>
<path d="M53,538.5 L53,533 C70,529 90,526 120,524.5 C200,523.5 290,524.5 340,526 C390,528 430,531 460,535 L472,538.5 Z" fill="url(#bandg)" stroke="none"/>
</g>
<line x1="53" y1="538.3" x2="519" y2="538.3" stroke="#c8c8c8" stroke-width="1.2"/>
<line x1="53" y1="121" x2="53" y2="538" stroke="#dedede" stroke-width="2"/>
<g fill="none" stroke-linejoin="round" stroke-linecap="round" clip-path="url(#cp)">
<polyline stroke="#999" stroke-width="2" points="61.0,536.0 63.4,533.7 66.2,531.0 70.0,524.4 73.7,514.1 77.4,501.0 81.2,486.0 84.9,473.0 87.7,460.0 89.6,445.0 91.0,430.0 92.6,409.5 96.3,376.4 100.0,338.0 103.3,300.0 105.7,256.8 107.2,240.0 108.8,221.0 110.9,207.5 112.9,192.6 114.9,184.4 117.6,174.9 119.7,171.5 120.4,172.2 122.4,179.0 124.4,188.5 126.5,199.3 128.5,211.6 130.5,215.6 132.6,225.1 134.2,237.0 135.3,251.1 137.0,256.2 139.0,264.7 140.7,274.0 142.1,284.2"/>
<polyline stroke="#b5132c" stroke-width="2" points="142.1,284.2 143.8,296.1 145.5,306.3 147.5,318.2 149.7,321.6 150.6,325.0 151.1,330.0 154.2,342.2 156.2,355.5 158.3,360.6 161.3,366.7 162.3,381.0 163.8,395.3 165.4,400.4 168.5,403.5 170.5,415.7 172.0,420.0"/>
<polyline stroke="#e8403f" stroke-width="2" points="172.0,420.0 173.6,424.9 175.6,434.1 177.2,442.2"/>
<polyline stroke="#fca55d" stroke-width="2" points="177.2,442.2 179.7,424.9 182.8,432.0 184.8,442.7 187.0,452.2 189.1,460.4 191.1,465.1 193.1,471.2 195.2,476.6"/>
<polyline stroke="#6d95d8" stroke-width="2" points="195.2,476.6 197.2,479.3 198.6,484.8 200.6,490.2 202.0,490.9 203.3,489.9 205.4,492.2 208.1,494.3 210.8,497.0 211.5,494.3 212.1,488.2"/>
<polyline stroke="#fca55d" stroke-width="2" points="212.1,488.2 212.8,480.7 214.2,480.0"/>
<polyline stroke="#6d95d8" stroke-width="2" points="214.2,480.0 215.5,482.1 217.6,484.8 220.3,486.8 223.0,489.5 225.7,492.2 227.1,497.0 227.7,502.4"/>
<polyline stroke="#4c6ea8" stroke-width="2" points="227.7,502.4 228.4,510.6 229.8,511.6 232.5,511.6 235.2,511.9 237.9,514.6 239.3,507.8 240.6,506.5 243.6,506.5 246.3,508.8 248.0,512.8 249.8,510.6 253.4,509.7 255.2,504.8 256.5,510.1 257.9,512.4 259.7,511.5 261.5,512.8 263.7,510.1 265.5,512.4 267.3,514.2 269.5,516.4"/>
<polyline stroke="#2d4a70" stroke-width="2" points="269.5,516.4 270.9,518.6 273.1,521.3 275.8,523.8 279.4,523.8 282.5,524.0 284.7,525.3 286.5,524.0 289.2,522.6 292.8,522.4"/>
<polyline stroke="#4c6ea8" stroke-width="2" points="292.8,522.4 296.4,521.5 300.0,521.2 304.2,520.0 308.9,523.0 313.1,521.8 317.9,522.4 322.0,523.0 325.0,520.3 328.6,521.2 333.4,520.6 338.1,520.0 340.0,522.0"/>
<polyline stroke="#2d4a70" stroke-width="2" points="340.0,522.0 342.9,526.6 344.5,522.5"/>
<polyline stroke="#4c6ea8" stroke-width="2" points="344.5,522.5 345.9,519.4 350.0,519.4 356.0,515.9 359.6,515.9 362.0,509.9 365.6,504.5 367.5,501.5"/>
<polyline stroke="#6d95d8" stroke-width="2" points="367.5,501.5 369.1,497.4 371.1,494.6 375.9,494.6 377.0,487.8"/>
<polyline stroke="#fca55d" stroke-width="2" points="377.0,487.8 377.9,479.7 382.6,471.6 386.7,458.0 392.1,458.0 394.2,445.1 399.6,438.3 401.6,437.0 404.3,431.5 409.1,431.5 410.3,419.7"/>
<polyline stroke="#f28b3c" stroke-width="2" points="410.3,419.7 413.1,390.7 415.6,384.3 420.2,367.0 426.3,367.0 429.1,380.5 431.7,379.2 433.4,357.6 435.5,349.2 440.6,349.2 441.6,330.9 442.4,303.0 444.8,290.0 446.6,280.0 449.1,265.8 450.7,269.8 453.1,251.8 457.4,251.8 460.1,234.6 462.0,218.3 464.2,215.6 466.1,203.4 468.8,185.7 473.7,185.7 475.6,172.1"/>
<polyline stroke="#999" stroke-width="2" points="475.6,172.1 475.8,162.0"/>
<polyline stroke="#e8403f" stroke-width="2" points="64.0,534.0 66.2,532.4 73.7,531.0 79.3,527.2 84.9,522.5 90.5,517.9 95.2,514.1 99.0,509.5"/>
<polyline stroke="#b5132c" stroke-width="2" points="99.0,509.5 100.0,507.8 104.5,498.9 108.9,492.2 114.9,489.2 119.4,491.1 123.8,492.6 126.8,490.7 129.8,492.2"/>
<polyline stroke="#e8403f" stroke-width="2" points="129.8,492.2 133.5,489.9 138.7,486.2 144.7,485.7 149.2,486.9 153.7,489.2 159.6,492.2 164.1,493.2 168.6,497.4 173.0,503.3 179.0,510.8 184.9,516.0 189.4,519.0"/>
<polyline stroke="#f28b3c" stroke-width="2" points="189.4,519.0 195.4,521.2 200.0,522.0 203.5,523.3 212.5,526.2 217.0,527.3"/>
<polyline stroke="#fca55d" stroke-width="2" points="217.0,527.3 228.1,529.1 240.0,529.4 244.5,528.3 247.2,529.2 256.1,529.8"/>
<polyline stroke="#6d95d8" stroke-width="2" points="256.1,529.8 261.5,532.0 264.2,530.7 271.3,530.3 273.1,529.4 277.6,528.5 281.1,529.4 286.5,529.4 293.7,530.3 297.2,531.1 300.0,532.0 303.0,532.6"/>
<polyline stroke="#2d4a70" stroke-width="2" points="303.0,532.6 308.9,534.0 322.4,534.5 335.8,534.5 344.7,535.1 358.1,534.7 367.0,531.8 374.0,530.9"/>
<polyline stroke="#4c6ea8" stroke-width="2" points="374.0,530.9 380.5,529.5 389.4,529.5 398.4,525.7 404.0,523.0"/>
<polyline stroke="#fca55d" stroke-width="2" points="419.0,512.0 421.3,510.9 431.7,507.7 439.0,511.5"/>
<polyline stroke="#6d95d8" stroke-width="2" points="439.0,511.5 442.2,511.5 452.6,511.9 463.0,511.9 467.2,510.9 468.2,510.4"/>
</g>
<polygon points="472.3,162.5 479.4,162.5 475.9,154.7" fill="#999"/>
<polygon points="465.5,511.8 470.5,510.2 467.2,506.8" fill="#6d95d8"/>
<text x="477.5" y="152.6" font-size="14.2" fill="#8a8a8a" textLength="35" lengthAdjust="spacingAndGlyphs" font-weight="bold" stroke="#fff" stroke-width="3" stroke-linejoin="round" paint-order="stroke">Spain</text>
<text x="401.3" y="523.8" font-size="13.8" fill="#6b8fd0" textLength="77.8" lengthAdjust="spacingAndGlyphs" font-weight="bold" stroke="#fff" stroke-width="3" stroke-linejoin="round" paint-order="stroke">Netherlands</text>
<text x="5.2" y="171.8" font-size="16" fill="#666" textLength="42" lengthAdjust="spacingAndGlyphs">8,000</text>
<text x="5.2" y="264.8" font-size="16" fill="#666" textLength="42" lengthAdjust="spacingAndGlyphs">6,000</text>
<text x="5.2" y="357.3" font-size="16" fill="#666" textLength="42" lengthAdjust="spacingAndGlyphs">4,000</text>
<text x="5.2" y="449.8" font-size="16" fill="#666" textLength="42" lengthAdjust="spacingAndGlyphs">2,000</text>
<text x="37" y="542" font-size="16" fill="#666" textLength="10.2" lengthAdjust="spacingAndGlyphs">0</text>
<text x="47.6" y="561.2" font-size="16" fill="#666" textLength="9.8" lengthAdjust="spacingAndGlyphs">0</text>
<text x="159.8" y="561.2" font-size="16" fill="#666" textLength="19.2" lengthAdjust="spacingAndGlyphs">50</text>
<text x="272" y="561.2" font-size="16" fill="#666" textLength="28.4" lengthAdjust="spacingAndGlyphs">100</text>
<text x="388.3" y="561.2" font-size="16" fill="#666" textLength="28.4" lengthAdjust="spacingAndGlyphs">150</text>
<text x="504.3" y="561.2" font-size="16" fill="#666" textLength="28.4" lengthAdjust="spacingAndGlyphs">200</text>
<text x="114.3" y="582" font-size="12.2" fill="#222" textLength="283.6" lengthAdjust="spacingAndGlyphs">Days since confirmed cases first reached 30 per day</text>
<text x="50.6" y="538.4" font-size="8.6" fill="#7a7a7a" textLength="38.6" lengthAdjust="spacingAndGlyphs" stroke="#fff" stroke-width="2.6" stroke-linejoin="round" paint-order="stroke">11.6 cases</text>
<text x="542.6" y="131.8" font-size="12.8" fill="#222" textLength="76" lengthAdjust="spacingAndGlyphs" font-weight="bold">Positive rate</text>
<rect x="542.2" y="142.3" width="8.7" height="8.7" fill="#cccccc"/>
<text x="556.8" y="150.2" font-size="12.5" fill="#c4c4c4" textLength="79" lengthAdjust="spacingAndGlyphs">&lt;0.1% of tests</text>
<rect x="542.2" y="160.7" width="8.7" height="8.7" fill="#2d4a70"/>
<text x="556.8" y="168.6" font-size="12.5" fill="#333" textLength="54.6" lengthAdjust="spacingAndGlyphs">0.1% - 1%</text>
<rect x="542.2" y="179.1" width="8.7" height="8.7" fill="#4c6ea8"/>
<text x="556.8" y="186.9" font-size="12.5" fill="#333" textLength="43.8" lengthAdjust="spacingAndGlyphs">1% - 2%</text>
<rect x="542.2" y="197.5" width="8.7" height="8.7" fill="#6d95d8"/>
<text x="556.8" y="205.3" font-size="12.5" fill="#333" textLength="43.8" lengthAdjust="spacingAndGlyphs">2% - 3%</text>
<rect x="542.2" y="215.9" width="8.7" height="8.7" fill="#fca55d"/>
<text x="556.8" y="223.7" font-size="12.5" fill="#333" textLength="43.8" lengthAdjust="spacingAndGlyphs">3% - 5%</text>
<rect x="542.2" y="234.3" width="8.7" height="8.7" fill="#f28b3c"/>
<text x="556.8" y="242.1" font-size="12.5" fill="#333" textLength="51.2" lengthAdjust="spacingAndGlyphs">5% - 10%</text>
<rect x="542.2" y="252.7" width="8.7" height="8.7" fill="#e8403f"/>
<text x="556.8" y="260.4" font-size="12.5" fill="#333" textLength="58.7" lengthAdjust="spacingAndGlyphs">10% - 20%</text>
<rect x="542.2" y="271.1" width="8.7" height="8.7" fill="#b5132c"/>
<text x="556.8" y="278.8" font-size="12.5" fill="#333" textLength="84.5" lengthAdjust="spacingAndGlyphs">more than 20%</text>
<rect x="542.2" y="289.5" width="8.7" height="8.7" fill="#999"/>
<text x="556.8" y="297.2" font-size="12.5" fill="#333" textLength="81.6" lengthAdjust="spacingAndGlyphs">no testing data</text>
<line x1="542" y1="308.3" x2="638" y2="308.3" stroke="#d8d8d8" stroke-width="1.3"/>
<text x="542" y="329" font-size="12.5" fill="#555" textLength="19.5" lengthAdjust="spacingAndGlyphs">Jan</text>
<text x="614.8" y="329" font-size="12.5" fill="#555" textLength="21" lengthAdjust="spacingAndGlyphs">Sep</text>
<text x="542" y="342.8" font-size="12.5" fill="#555">19,</text>
<text x="614.8" y="342.8" font-size="12.5" fill="#555">1,</text>
<text x="542" y="356.4" font-size="12.5" fill="#555" textLength="29.5" lengthAdjust="spacingAndGlyphs">2020</text>
<text x="614.8" y="356.4" font-size="12.5" fill="#555" textLength="29.5" lengthAdjust="spacingAndGlyphs">2020</text>
<g stroke="#666" stroke-width="1.3" fill="#666"><line x1="576" y1="338.2" x2="608" y2="338.2"/>
<circle cx="576" cy="338.2" r="1.7" stroke="none"/>
<circle cx="587.2" cy="338.2" r="1.7" stroke="none"/>
<circle cx="598.3" cy="338.2" r="1.7" stroke="none"/>
<polygon points="606.5,335.3 612.7,338.2 606.5,341.1" stroke="none"/></g>
</svg>
</body></html>
